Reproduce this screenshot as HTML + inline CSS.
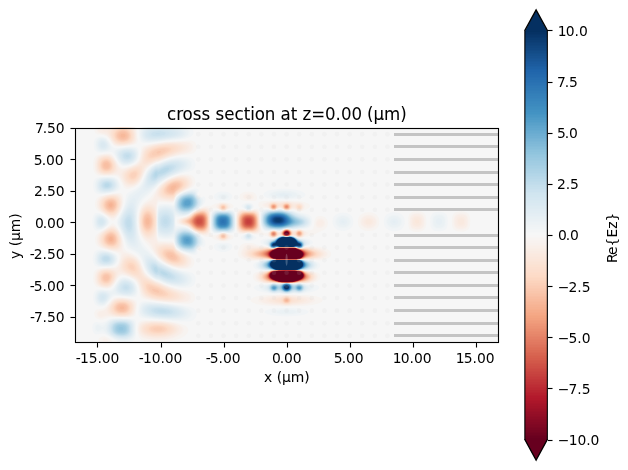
<!DOCTYPE html>
<html lang="en"><head><meta charset="utf-8"><title>cross section at z=0.00 (μm)</title>
<style>
html,body{margin:0;padding:0;background:#fff;overflow:hidden}
svg{display:block}
svg text{font-family:"DejaVu Sans", "Liberation Sans", sans-serif;fill:#000}
</style></head><body>
<svg width="628" height="470" viewBox="0 0 628 470">
<rect width="628" height="470" fill="#fff"/>
<g shape-rendering="crispEdges">
<rect x="525" y="31" width="22" height="1" fill="#053061"/>
<rect x="525" y="32" width="22" height="2" fill="#063264"/>
<rect x="525" y="34" width="22" height="1" fill="#073467"/>
<rect x="525" y="35" width="22" height="2" fill="#08366a"/>
<rect x="525" y="37" width="22" height="1" fill="#09386d"/>
<rect x="525" y="38" width="22" height="2" fill="#0a3b70"/>
<rect x="525" y="40" width="22" height="2" fill="#0c3d73"/>
<rect x="525" y="42" width="22" height="1" fill="#0d3f76"/>
<rect x="525" y="43" width="22" height="2" fill="#0e4179"/>
<rect x="525" y="45" width="22" height="1" fill="#0f437b"/>
<rect x="525" y="46" width="22" height="2" fill="#10457e"/>
<rect x="525" y="48" width="22" height="2" fill="#114781"/>
<rect x="525" y="50" width="22" height="1" fill="#124984"/>
<rect x="525" y="51" width="22" height="2" fill="#134c87"/>
<rect x="525" y="53" width="22" height="1" fill="#144e8a"/>
<rect x="525" y="54" width="22" height="2" fill="#15508d"/>
<rect x="525" y="56" width="22" height="2" fill="#175290"/>
<rect x="525" y="58" width="22" height="1" fill="#185493"/>
<rect x="525" y="59" width="22" height="2" fill="#195696"/>
<rect x="525" y="61" width="22" height="1" fill="#1a5899"/>
<rect x="525" y="62" width="22" height="2" fill="#1b5a9c"/>
<rect x="525" y="64" width="22" height="2" fill="#1c5c9f"/>
<rect x="525" y="66" width="22" height="1" fill="#1d5fa2"/>
<rect x="525" y="67" width="22" height="2" fill="#1e61a5"/>
<rect x="525" y="69" width="22" height="1" fill="#1f63a8"/>
<rect x="525" y="70" width="22" height="2" fill="#2065ab"/>
<rect x="525" y="72" width="22" height="2" fill="#2267ac"/>
<rect x="525" y="74" width="22" height="1" fill="#2369ad"/>
<rect x="525" y="75" width="22" height="2" fill="#246aae"/>
<rect x="525" y="77" width="22" height="1" fill="#266caf"/>
<rect x="525" y="78" width="22" height="2" fill="#276eb0"/>
<rect x="525" y="80" width="22" height="2" fill="#2870b1"/>
<rect x="525" y="82" width="22" height="1" fill="#2a71b2"/>
<rect x="525" y="83" width="22" height="2" fill="#2b73b3"/>
<rect x="525" y="85" width="22" height="1" fill="#2c75b4"/>
<rect x="525" y="86" width="22" height="2" fill="#2e77b5"/>
<rect x="525" y="88" width="22" height="2" fill="#2f79b5"/>
<rect x="525" y="90" width="22" height="1" fill="#307ab6"/>
<rect x="525" y="91" width="22" height="2" fill="#327cb7"/>
<rect x="525" y="93" width="22" height="1" fill="#337eb8"/>
<rect x="525" y="94" width="22" height="2" fill="#3480b9"/>
<rect x="525" y="96" width="22" height="2" fill="#3681ba"/>
<rect x="525" y="98" width="22" height="1" fill="#3783bb"/>
<rect x="525" y="99" width="22" height="2" fill="#3885bc"/>
<rect x="525" y="101" width="22" height="1" fill="#3a87bd"/>
<rect x="525" y="102" width="22" height="2" fill="#3b88be"/>
<rect x="525" y="104" width="22" height="2" fill="#3c8abe"/>
<rect x="525" y="106" width="22" height="1" fill="#3e8cbf"/>
<rect x="525" y="107" width="22" height="2" fill="#3f8ec0"/>
<rect x="525" y="109" width="22" height="1" fill="#408fc1"/>
<rect x="525" y="110" width="22" height="2" fill="#4291c2"/>
<rect x="525" y="112" width="22" height="2" fill="#4393c3"/>
<rect x="525" y="114" width="22" height="1" fill="#4695c4"/>
<rect x="525" y="115" width="22" height="2" fill="#4997c5"/>
<rect x="525" y="117" width="22" height="1" fill="#4c99c6"/>
<rect x="525" y="118" width="22" height="2" fill="#4f9bc7"/>
<rect x="525" y="120" width="22" height="2" fill="#529dc8"/>
<rect x="525" y="122" width="22" height="1" fill="#569fc9"/>
<rect x="525" y="123" width="22" height="2" fill="#59a1ca"/>
<rect x="525" y="125" width="22" height="1" fill="#5ca3cb"/>
<rect x="525" y="126" width="22" height="2" fill="#5fa5cd"/>
<rect x="525" y="128" width="22" height="2" fill="#62a7ce"/>
<rect x="525" y="130" width="22" height="1" fill="#65a9cf"/>
<rect x="525" y="131" width="22" height="2" fill="#68abd0"/>
<rect x="525" y="133" width="22" height="1" fill="#6bacd1"/>
<rect x="525" y="134" width="22" height="2" fill="#6eaed2"/>
<rect x="525" y="136" width="22" height="2" fill="#71b0d3"/>
<rect x="525" y="138" width="22" height="1" fill="#75b2d4"/>
<rect x="525" y="139" width="22" height="2" fill="#78b4d5"/>
<rect x="525" y="141" width="22" height="1" fill="#7bb6d6"/>
<rect x="525" y="142" width="22" height="2" fill="#7eb8d7"/>
<rect x="525" y="144" width="22" height="2" fill="#81bad8"/>
<rect x="525" y="146" width="22" height="1" fill="#84bcd9"/>
<rect x="525" y="147" width="22" height="2" fill="#87beda"/>
<rect x="525" y="149" width="22" height="1" fill="#8ac0db"/>
<rect x="525" y="150" width="22" height="2" fill="#8dc2dc"/>
<rect x="525" y="152" width="22" height="2" fill="#90c4dd"/>
<rect x="525" y="154" width="22" height="1" fill="#93c6de"/>
<rect x="525" y="155" width="22" height="2" fill="#96c7df"/>
<rect x="525" y="157" width="22" height="1" fill="#98c8e0"/>
<rect x="525" y="158" width="22" height="2" fill="#9bc9e0"/>
<rect x="525" y="160" width="22" height="1" fill="#9dcbe1"/>
<rect x="525" y="161" width="22" height="2" fill="#a0cce2"/>
<rect x="525" y="163" width="22" height="2" fill="#a2cde3"/>
<rect x="525" y="165" width="22" height="1" fill="#a5cee3"/>
<rect x="525" y="166" width="22" height="2" fill="#a7d0e4"/>
<rect x="525" y="168" width="22" height="1" fill="#a9d1e5"/>
<rect x="525" y="169" width="22" height="2" fill="#acd2e5"/>
<rect x="525" y="171" width="22" height="2" fill="#aed3e6"/>
<rect x="525" y="173" width="22" height="1" fill="#b1d5e7"/>
<rect x="525" y="174" width="22" height="2" fill="#b3d6e8"/>
<rect x="525" y="176" width="22" height="1" fill="#b6d7e8"/>
<rect x="525" y="177" width="22" height="2" fill="#b8d8e9"/>
<rect x="525" y="179" width="22" height="2" fill="#bbdaea"/>
<rect x="525" y="181" width="22" height="1" fill="#bddbea"/>
<rect x="525" y="182" width="22" height="2" fill="#c0dceb"/>
<rect x="525" y="184" width="22" height="1" fill="#c2ddec"/>
<rect x="525" y="185" width="22" height="2" fill="#c5dfec"/>
<rect x="525" y="187" width="22" height="2" fill="#c7e0ed"/>
<rect x="525" y="189" width="22" height="1" fill="#cae1ee"/>
<rect x="525" y="190" width="22" height="2" fill="#cce2ef"/>
<rect x="525" y="192" width="22" height="1" fill="#cfe4ef"/>
<rect x="525" y="193" width="22" height="2" fill="#d1e5f0"/>
<rect x="525" y="195" width="22" height="2" fill="#d2e6f0"/>
<rect x="525" y="197" width="22" height="1" fill="#d4e6f1"/>
<rect x="525" y="198" width="22" height="2" fill="#d5e7f1"/>
<rect x="525" y="200" width="22" height="1" fill="#d7e8f1"/>
<rect x="525" y="201" width="22" height="2" fill="#d8e9f1"/>
<rect x="525" y="203" width="22" height="2" fill="#dae9f2"/>
<rect x="525" y="205" width="22" height="1" fill="#dbeaf2"/>
<rect x="525" y="206" width="22" height="2" fill="#ddebf2"/>
<rect x="525" y="208" width="22" height="1" fill="#deebf2"/>
<rect x="525" y="209" width="22" height="2" fill="#e0ecf3"/>
<rect x="525" y="211" width="22" height="2" fill="#e1edf3"/>
<rect x="525" y="213" width="22" height="1" fill="#e3edf3"/>
<rect x="525" y="214" width="22" height="2" fill="#e4eef4"/>
<rect x="525" y="216" width="22" height="1" fill="#e6eff4"/>
<rect x="525" y="217" width="22" height="2" fill="#e7f0f4"/>
<rect x="525" y="219" width="22" height="2" fill="#e9f0f4"/>
<rect x="525" y="221" width="22" height="1" fill="#eaf1f5"/>
<rect x="525" y="222" width="22" height="2" fill="#ecf2f5"/>
<rect x="525" y="224" width="22" height="1" fill="#edf2f5"/>
<rect x="525" y="225" width="22" height="2" fill="#eff3f5"/>
<rect x="525" y="227" width="22" height="2" fill="#f0f4f6"/>
<rect x="525" y="229" width="22" height="1" fill="#f2f5f6"/>
<rect x="525" y="230" width="22" height="2" fill="#f3f5f6"/>
<rect x="525" y="232" width="22" height="1" fill="#f5f6f7"/>
<rect x="525" y="233" width="22" height="2" fill="#f6f7f7"/>
<rect x="525" y="235" width="22" height="2" fill="#f7f6f6"/>
<rect x="525" y="237" width="22" height="1" fill="#f7f5f4"/>
<rect x="525" y="238" width="22" height="2" fill="#f8f4f2"/>
<rect x="525" y="240" width="22" height="1" fill="#f8f3f0"/>
<rect x="525" y="241" width="22" height="2" fill="#f8f2ef"/>
<rect x="525" y="243" width="22" height="2" fill="#f8f1ed"/>
<rect x="525" y="245" width="22" height="1" fill="#f9f0eb"/>
<rect x="525" y="246" width="22" height="2" fill="#f9efe9"/>
<rect x="525" y="248" width="22" height="1" fill="#f9eee7"/>
<rect x="525" y="249" width="22" height="2" fill="#f9ede5"/>
<rect x="525" y="251" width="22" height="2" fill="#f9ebe3"/>
<rect x="525" y="253" width="22" height="1" fill="#faeae1"/>
<rect x="525" y="254" width="22" height="2" fill="#fae9df"/>
<rect x="525" y="256" width="22" height="1" fill="#fae8de"/>
<rect x="525" y="257" width="22" height="2" fill="#fae7dc"/>
<rect x="525" y="259" width="22" height="2" fill="#fbe6da"/>
<rect x="525" y="261" width="22" height="1" fill="#fbe5d8"/>
<rect x="525" y="262" width="22" height="2" fill="#fbe4d6"/>
<rect x="525" y="264" width="22" height="1" fill="#fbe3d4"/>
<rect x="525" y="265" width="22" height="2" fill="#fce2d2"/>
<rect x="525" y="267" width="22" height="2" fill="#fce0d0"/>
<rect x="525" y="269" width="22" height="1" fill="#fcdfcf"/>
<rect x="525" y="270" width="22" height="2" fill="#fcdecd"/>
<rect x="525" y="272" width="22" height="1" fill="#fdddcb"/>
<rect x="525" y="273" width="22" height="2" fill="#fddcc9"/>
<rect x="525" y="275" width="22" height="2" fill="#fddbc7"/>
<rect x="525" y="277" width="22" height="1" fill="#fdd9c4"/>
<rect x="525" y="278" width="22" height="2" fill="#fcd7c2"/>
<rect x="525" y="280" width="22" height="1" fill="#fcd5bf"/>
<rect x="525" y="281" width="22" height="2" fill="#fcd3bc"/>
<rect x="525" y="283" width="22" height="2" fill="#fbd0b9"/>
<rect x="525" y="285" width="22" height="1" fill="#fbceb7"/>
<rect x="525" y="286" width="22" height="2" fill="#fbccb4"/>
<rect x="525" y="288" width="22" height="1" fill="#facab1"/>
<rect x="525" y="289" width="22" height="2" fill="#fac8af"/>
<rect x="525" y="291" width="22" height="2" fill="#f9c6ac"/>
<rect x="525" y="293" width="22" height="1" fill="#f9c4a9"/>
<rect x="525" y="294" width="22" height="2" fill="#f9c2a7"/>
<rect x="525" y="296" width="22" height="1" fill="#f8bfa4"/>
<rect x="525" y="297" width="22" height="2" fill="#f8bda1"/>
<rect x="525" y="299" width="22" height="2" fill="#f8bb9e"/>
<rect x="525" y="301" width="22" height="1" fill="#f7b99c"/>
<rect x="525" y="302" width="22" height="2" fill="#f7b799"/>
<rect x="525" y="304" width="22" height="1" fill="#f7b596"/>
<rect x="525" y="305" width="22" height="2" fill="#f6b394"/>
<rect x="525" y="307" width="22" height="2" fill="#f6b191"/>
<rect x="525" y="309" width="22" height="1" fill="#f6af8e"/>
<rect x="525" y="310" width="22" height="2" fill="#f5ac8b"/>
<rect x="525" y="312" width="22" height="1" fill="#f5aa89"/>
<rect x="525" y="313" width="22" height="2" fill="#f5a886"/>
<rect x="525" y="315" width="22" height="1" fill="#f4a683"/>
<rect x="525" y="316" width="22" height="2" fill="#f3a481"/>
<rect x="525" y="318" width="22" height="2" fill="#f2a17f"/>
<rect x="525" y="320" width="22" height="1" fill="#f19e7d"/>
<rect x="525" y="321" width="22" height="2" fill="#f09c7b"/>
<rect x="525" y="323" width="22" height="1" fill="#ef9979"/>
<rect x="525" y="324" width="22" height="2" fill="#ee9677"/>
<rect x="525" y="326" width="22" height="2" fill="#ec9374"/>
<rect x="525" y="328" width="22" height="1" fill="#eb9172"/>
<rect x="525" y="329" width="22" height="2" fill="#ea8e70"/>
<rect x="525" y="331" width="22" height="1" fill="#e98b6e"/>
<rect x="525" y="332" width="22" height="2" fill="#e8896c"/>
<rect x="525" y="334" width="22" height="2" fill="#e6866a"/>
<rect x="525" y="336" width="22" height="1" fill="#e58368"/>
<rect x="525" y="337" width="22" height="2" fill="#e48066"/>
<rect x="525" y="339" width="22" height="1" fill="#e37e64"/>
<rect x="525" y="340" width="22" height="2" fill="#e27b62"/>
<rect x="525" y="342" width="22" height="2" fill="#e17860"/>
<rect x="525" y="344" width="22" height="1" fill="#df765e"/>
<rect x="525" y="345" width="22" height="2" fill="#de735c"/>
<rect x="525" y="347" width="22" height="1" fill="#dd7059"/>
<rect x="525" y="348" width="22" height="2" fill="#dc6e57"/>
<rect x="525" y="350" width="22" height="2" fill="#db6b55"/>
<rect x="525" y="352" width="22" height="1" fill="#da6853"/>
<rect x="525" y="353" width="22" height="2" fill="#d86551"/>
<rect x="525" y="355" width="22" height="1" fill="#d7634f"/>
<rect x="525" y="356" width="22" height="2" fill="#d6604d"/>
<rect x="525" y="358" width="22" height="2" fill="#d55d4c"/>
<rect x="525" y="360" width="22" height="1" fill="#d35a4a"/>
<rect x="525" y="361" width="22" height="2" fill="#d25849"/>
<rect x="525" y="363" width="22" height="1" fill="#d05548"/>
<rect x="525" y="364" width="22" height="2" fill="#cf5246"/>
<rect x="525" y="366" width="22" height="2" fill="#ce4f45"/>
<rect x="525" y="368" width="22" height="1" fill="#cc4c44"/>
<rect x="525" y="369" width="22" height="2" fill="#cb4942"/>
<rect x="525" y="371" width="22" height="1" fill="#c94741"/>
<rect x="525" y="372" width="22" height="2" fill="#c84440"/>
<rect x="525" y="374" width="22" height="2" fill="#c6413e"/>
<rect x="525" y="376" width="22" height="1" fill="#c53e3d"/>
<rect x="525" y="377" width="22" height="2" fill="#c43b3c"/>
<rect x="525" y="379" width="22" height="1" fill="#c2383a"/>
<rect x="525" y="380" width="22" height="2" fill="#c13639"/>
<rect x="525" y="382" width="22" height="2" fill="#bf3338"/>
<rect x="525" y="384" width="22" height="1" fill="#be3036"/>
<rect x="525" y="385" width="22" height="2" fill="#bd2d35"/>
<rect x="525" y="387" width="22" height="1" fill="#bb2a34"/>
<rect x="525" y="388" width="22" height="2" fill="#ba2832"/>
<rect x="525" y="390" width="22" height="2" fill="#b82531"/>
<rect x="525" y="392" width="22" height="1" fill="#b72230"/>
<rect x="525" y="393" width="22" height="2" fill="#b61f2e"/>
<rect x="525" y="395" width="22" height="1" fill="#b41c2d"/>
<rect x="525" y="396" width="22" height="2" fill="#b3192c"/>
<rect x="525" y="398" width="22" height="2" fill="#b1182b"/>
<rect x="525" y="400" width="22" height="1" fill="#ae172a"/>
<rect x="525" y="401" width="22" height="2" fill="#ab162a"/>
<rect x="525" y="403" width="22" height="1" fill="#a81529"/>
<rect x="525" y="404" width="22" height="2" fill="#a51429"/>
<rect x="525" y="406" width="22" height="2" fill="#a21328"/>
<rect x="525" y="408" width="22" height="1" fill="#9f1228"/>
<rect x="525" y="409" width="22" height="2" fill="#9c1127"/>
<rect x="525" y="411" width="22" height="1" fill="#991027"/>
<rect x="525" y="412" width="22" height="2" fill="#960f27"/>
<rect x="525" y="414" width="22" height="2" fill="#930e26"/>
<rect x="525" y="416" width="22" height="1" fill="#900d26"/>
<rect x="525" y="417" width="22" height="2" fill="#8d0c25"/>
<rect x="525" y="419" width="22" height="1" fill="#8a0b25"/>
<rect x="525" y="420" width="22" height="2" fill="#870a24"/>
<rect x="525" y="422" width="22" height="2" fill="#840924"/>
<rect x="525" y="424" width="22" height="1" fill="#810823"/>
<rect x="525" y="425" width="22" height="2" fill="#7f0823"/>
<rect x="525" y="427" width="22" height="1" fill="#7c0722"/>
<rect x="525" y="428" width="22" height="2" fill="#790622"/>
<rect x="525" y="430" width="22" height="2" fill="#760521"/>
<rect x="525" y="432" width="22" height="1" fill="#730421"/>
<rect x="525" y="433" width="22" height="2" fill="#700320"/>
<rect x="525" y="435" width="22" height="1" fill="#6d0220"/>
<rect x="525" y="436" width="22" height="2" fill="#6a011f"/>
<rect x="525" y="438" width="22" height="2" fill="#67001f"/>
</g>
<path d="M524.845 31.2L536.095 10.000L547.345 31.2Z" fill="#053061"/>
<path d="M524.845 439.8L536.095 460.000L547.345 439.8Z" fill="#67001f"/>
<path d="M524.845 31V30.455L536.095 10.000L547.345 30.455V31M524.845 440V439.545L536.095 460.000L547.345 439.545V440" fill="none" stroke="#000" stroke-width="1.36" stroke-linejoin="miter"/>
<g shape-rendering="crispEdges" fill="#000"><rect x="524" y="31" width="1" height="409" fill-opacity="0.714"/><rect x="525" y="31" width="1" height="409" fill-opacity="0.405"/><rect x="546" y="31" width="1" height="409" fill-opacity="0.21"/><rect x="547" y="31" width="1" height="409" fill-opacity="0.902"/></g>
<defs><clipPath id="axclip"><rect x="74.78" y="127.84" width="423.59" height="214.32"/></clipPath></defs>
<g id="field">
<g clip-path="url(#axclip)" fill-rule="evenodd"><rect x="74.78" y="127.84" width="423.59" height="214.32" fill="#f6f6f6"/>
<path fill="#f1f4f6" d="M139.8 127L190.9 127L192 128.2L192.9 129.5L193.4 131L193.6 132.5L193.4 133.5L193 134.5L192.2 135.5L190.9 136.5L187.7 138L184 139L179 139.7L166 140.8L150 142.9L146.5 143.1L144 143.1L142.5 142.8L141.1 142L140.4 141L139.6 139L139.1 136L138.9 132.5L139.2 129.5ZM99.9 136.5L102 136.5L103.5 136.7L105 137.2L106.5 138.2L108.5 140.5L112.5 146.8L113.5 147.7L114.5 148.1L117 148.2L125.5 147.1L131.5 146.6L135 146.7L136 146.9L137 147.4L138 148.5L138.4 149.5L138.8 151L138.9 153L138.9 155L138.6 157L138.1 158.5L137.4 160L136.2 161.5L135.1 162.5L133.5 163.6L131.5 164.5L129 165.4L126.5 165.9L124.5 166.1L123 165.9L121 165.1L119.5 163.6L117.7 161L114 154.5L113 153.1L112 152.3L111 151.9L109.5 151.9L103.5 152.6L100.5 152.7L98.3 152.5L96.5 151.8L95.1 150.5L94.5 149.5L94 148L93.7 145L94 141.5L94.7 139.5L95.8 138L97.6 137ZM180.7 157L185 156.9L188.5 157.3L191.2 158L193 159L194 160L194.6 161L195.3 163.5L195.3 166L194.8 167.5L194.3 168.5L192.9 170L191 171L178.5 174.1L174.5 175.4L171 176.8L167.5 178.6L164.2 180.5L161.2 182.5L158.5 184.7L150 193.8L143 200.1L141.5 201.9L140.5 203.5L138.9 207L138 211L137.4 216.5L137.4 222.5L137.9 228L138.7 233L140 237.5L141.5 241L144 244.8L147.5 249L151.2 253L158.3 260L160.3 261.5L164.4 264L171 267.2L175 268.7L178.5 269.7L190.5 272.2L192.5 273.1L194 274.5L195.1 276.5L195.6 279L195.3 282L194.5 284.1L193.4 285.5L191.5 286.8L189 287.5L186 287.8L182 287.7L177.5 287.2L173 286.3L168 284.8L164 283.2L158.5 280.7L155.5 279.7L151.9 277.5L148.8 275L147 273L145.4 270.5L144.1 267.5L141.5 260L140.5 258L139.1 256L137.6 254.5L136 253.3L128.5 249.1L127.3 248L126.5 246.9L125.5 244.6L123.8 239L122.6 235.5L120.8 231.5L117.4 225L116.7 222.5L116.8 221L117.3 219.5L121.7 211.5L123.6 207L124.8 203L126 196L126.8 194L127.6 193L129 192L134.5 189.3L136.5 188.1L138 187L139.5 185.5L141 183.6L142.2 181.5L146.2 172L147.5 170L148.7 168.5L151.8 166L156 163.6L158.5 163.1L164.5 160.6L170 158.8L175.5 157.6ZM100.6 177L106.5 176.7L111.5 176.7L114 177.1L116.2 178L117.4 179L118.2 180L119.7 183L120.3 185L120.5 186.5L120.4 188L120 189.1L119 190.2L117 191.3L114 192.2L110 193.1L104.5 194L100.5 194.3L98 194.1L96.3 193.5L94.7 192L94 190.5L93.5 189L93.1 185.5L93.5 182L94.6 179.5L96 178.1L98 177.4ZM192.6 189L194.5 188.6L196 188.6L197.5 188.9L198.5 189.5L198.9 190L198.9 190.5L197.9 193L197.8 194L198 195.1L199 196.4L200 196.9L201.5 197L203.5 196.5L204 196.6L204.6 197L205.2 198L205.5 199.5L205.3 201.5L204.7 203L203.2 205L200.9 207L188 215L186 215.8L184 216.3L180.5 216.7L176.5 216.9L176 217.3L175.5 219L175.4 222.5L175.8 225L176 225.6L176.5 226.1L180.5 226.2L183.5 226.5L185.5 226.9L187.5 227.7L193.5 231.4L200.6 235.5L203 237.5L204.3 239L205.2 241L205.5 242.5L205.4 244.5L204.9 246L204 246.9L203.5 247L200.5 246.8L199.5 247L198.5 247.6L197.8 248.5L197.3 249.5L197.2 251L197.5 253L197.3 254L196.5 254.6L195 254.9L191.5 254.6L185.5 252.8L181.5 251.2L178.5 249.5L176.8 248L175.7 246.5L174.9 244.5L174 240.7L173.5 239.6L173 239.2L172 239.1L168 239.3L164.5 239.2L161 238.7L159 238L158.5 237.5L157.9 236L157.5 233.5L157.3 230.5L157.4 211.5L157.7 207.5L158 206.3L158.5 205.2L159 204.7L160 204.3L163.5 204L167.5 204.1L173 204.7L173.5 204.5L174 203.7L175.2 199.5L176 197.6L177 196.3L178.4 195L181 193.3L183.5 192.1L188.5 190.2ZM277.7 189L282.5 188.7L287.5 188.8L292.5 189.2L296.5 189.9L300 190.8L303 192.1L304.9 193.5L305.2 194L305.4 195L305 196L304 196.9L302.8 197.5L301 198.1L295.6 199L288.5 199.4L279 199.3L269.9 198.5L266 197.5L264.4 196.5L263.6 195.5L263.5 194.5L263.7 193.5L264.6 192.5L266.2 191.5L268.5 190.6L271.5 189.9ZM221.6 191.5L224 191.4L226.5 191.7L228.5 192.3L230.5 193.4L231.6 194.5L232.3 196L232.2 197.5L231.8 198.5L230.7 199.5L229.5 200L227.6 200.5L225.5 200.7L221 200.7L218.7 200.5L216.7 200L214.9 199L214.1 198L213.7 197L213.8 196L214.6 194.5L215.7 193.5L217.5 192.5L219.5 191.8ZM245.9 203L247.5 202.8L249 202.8L250.5 203.1L252 203.7L253.1 204.5L253.8 205.5L254 206.5L253.6 207.5L251.9 209L249.5 210L247.3 210L244.7 209L241.9 207L241.4 206L241.4 205.5L242.2 204.5L243.1 204ZM266.4 209L268 209.1L271.5 210.2L273.5 210.4L275.5 210.1L279 208.9L280.5 208.9L286 210.7L288 210.9L291.5 210.4L293 210.6L298.5 212.3L304 213.3L307 214L308.5 214.6L310 215.6L311 216.5L311.6 217.5L312.1 219L312.3 220.5L312.2 222.5L311.7 224.5L310.7 226.5L309.6 227.5L308 228.3L305.5 228.8L304 228.9L299.5 228.7L293.5 229.6L292 229.5L288.5 228.7L287 228.6L284.5 229L280.5 230.8L279.5 231L278 231L275 230.2L273.5 230.1L271.5 230.3L268 231.3L266.5 231.3L265 231L263.5 230.2L262.7 229.5L262 228.4L261.3 226.5L260.8 224L260.5 221.5L260.5 214L260.8 212L261.6 210.5L262.5 209.9L263.5 209.5ZM214.1 210L215.5 209.7L217 209.7L221.5 210.9L223.5 211L225 210.8L229 209.9L231 209.8L233 210.2L234.3 211L235 212.2L235.4 214.5L235.6 224.5L235.3 230L234.8 231.5L234 232.5L232.5 233.2L231 233.4L229 233.4L225 232.6L223 232.4L221.5 232.6L218 233.4L216 233.5L214.5 233.4L213.5 233.1L212.1 232L211.2 230L210.9 227.5L210.8 220.5L211 215.5L211.4 213L212 211.7L213 210.5ZM435.7 212L437.5 211.7L440 211.7L443 212.2L444.5 212.9L445.5 213.6L446.3 214.5L447 215.8L447.5 217.5L447.8 220L447.7 223.5L447.4 226L446.9 227.5L446 228.9L445 229.8L443.5 230.6L442 231.1L440 231.3L437.5 231.3L435.5 231L434 230.4L432.6 229.5L431.7 228.5L431 227.2L430.4 225L430.2 222.5L430.3 219L430.8 216.5L431.4 215L432.5 213.6L434 212.6ZM391.1 212.5L393 212.2L395 212.2L398.5 212.9L400 213.5L401.6 214.5L402.7 215.5L403.7 217L404.5 219L404.8 221L404.7 223L404.3 225L403.7 226.5L402.6 228L401.5 229L400 229.9L398 230.7L395.5 231.2L393 231.2L391 230.9L389 230.2L387 229.1L385.8 228L384.8 226.5L384.1 224.5L383.8 222L384 219.5L384.5 217.5L385.5 215.8L387 214.3L389 213.2ZM96.6 213L98.5 213.1L100.5 213.6L102.5 214.5L104.9 216L106.8 217.5L108.2 219L109.2 220.5L109.5 222L109.3 223L108.5 224.5L107.2 226L105.3 227.5L103 229L101 229.9L99 230.6L97.5 230.8L96.5 230.7L95.5 230.4L94.5 229.6L93.7 228.5L92.7 226L92.2 222.5L92.4 219L93.2 216L94.5 214L95.5 213.3ZM339.4 213L341 212.7L343 212.5L345 212.7L347 213.1L348.5 213.7L350 214.6L351.1 215.5L352 216.6L352.7 218L353.2 220L353.4 222L353.1 224L352.7 225.5L351.9 227L351 228L349.5 229.2L347.5 230.1L345.5 230.7L343.5 230.9L341 230.7L339 230.3L337 229.5L335.5 228.5L334 226.8L333.1 225L332.6 222.5L332.6 220L333 218L333.8 216.5L335.3 215L337 213.9ZM246.9 233.5L248 233.4L249.5 233.4L252.4 234.5L254.8 236L256 237L256.4 238L256.3 238.5L255.9 239L255.1 239.5L253 240.3L250.5 241L248.5 241.2L246 240.9L244 240.3L242.3 239.5L241.1 238.5L240.7 237.5L240.8 237L241.7 236L244.3 234.5ZM279.7 236L281.5 235.9L286.5 236.4L291.5 235.9L293 236L294.5 236.3L298 237.9L299.5 238.3L304.5 238.3L307.5 238.7L310 239.5L311.8 240.5L312.7 241.5L313 242.5L312.9 243L312.1 244L311.3 244.5L306 246.1L302.5 248L301 248.4L299 248.3L296 247.4L295 247.3L286.5 247.8L278 247.3L277 247.4L274 248.3L272.5 248.4L270.6 248L267 246L262.5 244.5L261.1 243.5L260.5 242.5L260.4 241.5L260.8 240.5L261.5 240L263 239.3L265 238.8L267.5 238.4L272 238.6L274 238.4L275.5 237.9L278.5 236.4ZM218.3 243L220.5 242.8L226 242.8L228 243L229.5 243.4L230.8 244L231.9 245L232.3 246L232.2 247.5L231.7 248.5L230.5 249.8L229 250.7L227 251.5L225 251.9L222.5 252L220.5 251.8L218.5 251.3L216.7 250.5L215.2 249.5L214.3 248.5L213.7 247L214 245.5L214.8 244.5L216.5 243.5ZM96.8 250L98 249.7L100 249.6L106 250.5L112 252.1L114.2 253L115.8 254L117.1 255.5L117.6 256.5L117.8 258L117.8 259.5L117.5 261L116.9 262.5L116 264L115 265.1L113.5 266L111.8 266.5L109.5 266.8L104.5 267L99.5 266.9L97 266.5L95.5 265.9L94.1 264.5L93.3 262.5L92.8 260L92.8 257.5L93.2 255L94.1 252.5L95.2 251ZM271.5 259.5L290.5 259.3L303 259.5L310 260.1L314.7 261L316.3 261.5L318.4 262.5L319.9 264L320.2 265L320.2 266L319.8 267L319 268L317.7 269L316.5 269.5L313 270.2L307.5 270.5L301 270.1L294.5 270.4L278.5 270.4L272.5 270.1L267 270.5L262 270.4L258.5 270L256 269.2L254.2 268L253.2 266.5L253.1 265L253.6 264L254.6 263L256.5 262L259.6 261L262.5 260.4L267 259.8ZM121.4 277.5L123 277.1L124.5 277.1L126.5 277.5L128.5 278.1L130.5 278.9L132.4 280L133.7 281L135 282.4L136 284L136.7 285.5L137.3 287.5L137.6 289.5L137.7 291.5L137.6 293.5L137.2 295L136.5 296L135 296.9L132.5 297.2L128.5 297L118 295.9L115 296L113.5 296.5L112 297.7L107 303.6L105.5 305L104 305.9L102 306.6L99.5 306.6L97.3 306L95.5 304.8L94.5 303.5L93.8 302L93.3 300L93.1 298L93.2 295.5L93.6 293.5L94.2 292L95 290.9L96.5 289.8L99 289.3L102 289.4L108.5 290.1L110 289.9L111 289.6L112.5 288.6L113.5 287.5L117.5 281.2L118.8 279.5L120 278.3ZM285.7 283L288 283L294 283.6L300 283.2L306 284.3L314.5 284.8L316.5 285.1L318 285.7L319 286.5L319.4 287.5L319.3 288L318.6 289L317.2 290L314.8 291L311.5 291.9L300.5 293.9L294 293.6L286.5 294.2L279.5 293.6L274.5 293.9L272.5 293.8L262 292L258.5 291L256 290L254.6 289L254.2 288.5L253.8 287.5L254.2 286.5L255 285.8L256.5 285.2L258.5 284.8L267 284.3L273 283.3L279.5 283.6ZM142.2 301.5L144.5 301.3L147.5 301.4L171.5 303.9L181.5 305.2L189 306.7L193 308.1L194.6 309L195.5 309.9L196.2 311L196.6 312.5L196.7 314L196.4 315.5L195.9 317L195.3 318L194.4 319L193.1 320L191.5 320.8L190 321.2L186.5 321.6L180.5 321.4L163.5 319.9L148 318.8L141.9 318L140 317.3L139.5 317L138.8 316L138.3 314L138.2 311.5L138.6 307.5L139.5 304L140.5 302.4L141.5 301.7ZM274.4 308.5L284 308.1L292 308.1L298.8 308.5L303 309.1L306.5 310L308.2 311L308.6 311.5L308.6 312L307.9 313L306.5 313.8L304.5 314.5L301.5 315.2L294.5 316.1L286.5 316.5L278.5 316.1L271.5 315.2L268.7 314.5L266.5 313.7L265.3 313L264.6 312L264.6 311.5L265 311L266.7 310L270 309.1ZM111.7 318.5L116.5 318.2L129 318.4L133.1 319L134.4 319.5L135.1 320L135.7 321L136.1 323L136 334.5L135.5 337.5L134.8 339L134 340.1L133 340.9L131.5 341.8L128.5 342.8L125 343.2L121.5 342.8L119 342.2L116 340.8L106.5 334.9L104 333.7L102 333.4L98 334.3L96.5 334.5L95 334L93.9 333L93.2 332L92.7 330.5L92.3 327.5L92.7 325L93.1 324L94 322.9L95 322.3L96.5 322L101.5 322.7L103 322.6L104.5 322L108.5 319.5L110 318.9Z"/>
<path fill="#eef3f5" d="M141.8 127L185.6 127L187.7 128.5L189 130L189.7 131.5L189.8 133L189.6 134L189 135L187.2 136.5L185 137.6L181.7 138.5L178 139.1L167 140.2L153 141.9L148.5 142.2L145.5 142.1L143.5 141.6L142 140.7L141 139.3L140.4 137.5L139.9 135L140 132L140.5 129.5ZM100.3 137.5L102.5 137.4L104.5 138L106 138.9L107.5 140.4L109.5 143.5L111.1 147L111.4 149L111.2 149.5L110.7 150L109 150.7L106.5 151.4L102 151.9L100.5 151.8L99 151.4L98 150.9L96.9 150L96.1 148.5L95.5 146.5L95.4 144L95.7 142L96.2 140.5L97.2 139L98.5 138.1ZM126.5 147.5L130 147.3L132.5 147.4L134.5 147.7L136 148.4L137 149.5L137.9 151.5L138.1 153.5L138 156L137.5 158L136.6 160L135.5 161.3L134 162.5L131.5 163.9L129 164.7L126.5 165.2L124 165.2L122.5 164.9L121 164L120 163L118.8 161.5L117 158.5L115.3 155L114.4 152.5L114.2 151L114.5 150.5L115.1 150L117.8 149L122 148.1ZM178.3 158L182 157.9L185.5 158.2L188 158.8L190 159.9L191.5 161.5L192.2 163.5L192.2 165.5L191.5 167.5L190.1 169L188 170.3L173.5 175.2L168.5 177.5L163.5 180.3L158.5 183.9L156 186.5L152 190.2L143 197.9L141.1 200L139.8 202L138.7 204.5L137.9 207L137.4 210L137 213.5L136.9 222L137.2 227L137.8 232L138.6 236L139.5 239.3L140.8 242.5L142.1 245L143.8 247.5L146.1 250L156 258.4L158.5 260.9L163 263.8L168 266.4L173 268.5L177 269.9L187.5 273L190 274.4L191.5 276L192.3 278L192.5 280L192.1 282L191.3 283.5L190 284.8L188 285.8L185.5 286.4L183 286.6L179.5 286.6L175.5 286.1L171.5 285.2L167 283.8L163.5 282.4L158.5 280.1L156.5 279.6L155.5 279.2L152.1 277L149.1 274.5L147.1 272L145.6 269.5L144.5 266.5L142 258.6L141 256.5L140 254.9L138.7 253.5L137 252.2L131 249L129.5 248L128.4 247L127.2 245.5L126 242.9L122.8 234.5L118.5 225.5L118 224L117.8 222.5L117.9 221L118.5 219L122.9 210.5L124.6 206.5L127.1 198L128 196L129 194.6L130.2 193.5L137 189.3L139 187.6L140.5 185.9L141.8 184L142.8 182L146.7 172.5L147.9 170.5L149.1 169L152 166.5L156 164.2L158.5 163.7L164 161.3L169 159.7L173.5 158.6ZM102.2 177.5L107 177.2L111.5 177.3L114 177.9L116 178.9L117 179.9L117.8 181L118.6 182.5L119 184L119.3 185.5L119.2 187L118.9 188L118.4 189L117 190.2L114.5 191.4L111.5 192.3L107.5 193L104 193.4L101 193.4L99 193.1L97.5 192.3L96.6 191.5L96 190.5L95.1 188L94.8 185L95.3 182L96.4 180L97.5 178.9L99.5 178ZM191.5 190L193.5 189.7L195 189.8L196 190.2L196.9 191L197.2 192L197.3 194.5L198 196L199.5 197.3L202.5 198.4L203.3 199.5L203.5 201.5L203.1 203L202.7 204L201.2 206L199.4 207.5L187.5 214.8L185 215.6L182 215.9L179.5 215.9L176 215.2L175.5 215.8L175.2 217L175 222.7L175.3 226.5L175.5 227.3L176 227.8L179 227.2L181.5 227L184.5 227.2L187 227.9L189 228.9L199.1 235L201 236.5L202.6 238.5L203.3 240L203.6 242L203.5 243.5L203 244.8L202.3 245.5L199.5 246.5L198 247.5L197 249L196.3 252L196 252.7L195 253.5L193 253.8L189 253.3L184 251.8L180.5 250.3L178 248.6L176.5 247.1L175.6 245.5L174.9 243.5L174 238.9L173.5 237.8L173 237.5L169 238.1L166 238.2L162 237.7L159.5 236.9L158.5 235.8L158 234.2L157.6 231L157.5 227L157.4 217.5L157.6 211.5L158 208.5L158.5 206.9L159 206.2L160 205.7L161 205.4L165 205L169 205.3L173 206.1L173.5 206L174 205.2L175.2 200.5L175.9 198.5L176.8 197L178 195.8L180.5 194L183 192.7L188 190.9ZM281.3 190.5L288 190.6L294 191.5L296 192.1L298.1 193L299.2 194L299.6 195L299 196L298.4 196.5L295.9 197.5L291.5 198.3L285.5 198.6L279.5 198.5L274 197.8L270.9 197L269.8 196.5L268.7 195.5L268.5 195L268.8 194L270 193L271.5 192.3L276 191.1ZM221.9 193.5L225 193.6L227.5 194.5L228.2 195L228.9 196L229 197L228.9 197.5L228 198.5L227 199L224.5 199.5L221 199.4L219.5 199.1L218.4 198.5L217.8 198L217.3 197L217.4 196L217.7 195.5L218.5 194.7L219.5 194.2ZM248.5 203.4L250 203.7L251 204.1L252.2 205L252.8 206L252.8 207L252.4 208L251.9 208.5L250 209.6L248 209.9L246 209.3L244.2 208L243.6 207L243.5 206.5L243.7 205.5L245 204.3L246 203.8ZM266.3 209.5L268.5 209.5L271.5 210.3L273.5 210.5L275.5 210.2L278.5 209.3L280 209.1L281.5 209.3L286 210.9L288 211L291.5 210.8L293.5 211.2L298.5 213L305 214.8L307 215.6L308.6 216.5L310 217.7L311 219.5L311.3 221.5L311 223.5L310.3 225L309 226.6L307 227.7L304.5 228.3L299 228.5L293.5 229.3L292 229.2L288.5 228.6L286.5 228.5L284.5 228.9L280.5 230.6L279 230.8L273.5 229.9L272 230L268 230.9L265.5 230.5L264 229.8L263.1 229L262.4 228L261.7 226.5L260.9 222.5L260.7 216.5L261 213.5L261.8 211.5L262.5 210.8L263.5 210.3ZM214.6 210.5L216 210.2L217.5 210.2L221.5 211L223.5 211.2L228.5 210.3L230 210.3L232.5 210.8L234 212L234.8 213.5L235.1 215.5L235.3 219L235.3 224.5L235.2 227.5L234.8 229.5L234.2 231L233.5 231.8L232 232.6L230 233L228 232.9L225 232.4L223 232.2L217 233.1L214.5 232.7L213.5 232.3L212.6 231.5L212 230.6L211.6 229.5L211.2 227L211 221L211.2 216.5L211.6 214L212.2 212.5L213 211.4ZM96.8 214.5L98 214.2L99.5 214.2L101 214.6L103 215.5L104.6 216.5L106.4 218L107.7 219.5L108.4 221L108.5 222L108.3 223L107.9 224L106.7 225.5L105 227L103.5 228L101.5 229L100 229.4L98 229.5L96.5 229L95.1 227.5L94.1 225L93.8 221.5L94.1 218.5L95.2 216L96 215ZM436 214.5L437.5 214.2L439 214.1L442 214.5L443.8 215.5L445 217L445.5 218.5L445.7 220L445.6 224L445.2 225.5L444.7 226.5L444 227.3L443 228.1L442 228.5L440.5 228.8L438 228.8L436.5 228.6L434.5 227.8L433.7 227L433 226L432.5 224.5L432.3 223L432.3 220.5L432.5 218.5L433 217.1L433.7 216L434.9 215ZM392.5 215L395.5 215L398 215.7L399.4 216.5L400.5 217.4L401.3 218.5L401.8 219.5L402.1 220.5L402.2 222L402 223.5L401.6 224.5L400.9 225.5L399.9 226.5L397.5 227.9L396 228.4L394 228.5L392.5 228.4L391 228L389.5 227.3L388.4 226.5L387.4 225.5L386.6 224L386.2 222.5L386.2 221L386.6 219.5L387.4 218L388.2 217L389.5 216.1L391 215.4ZM340.3 215.5L343 215.1L345.5 215.4L348 216.5L349.6 218L350.7 220L350.9 221L350.9 222.5L350.5 223.9L350 224.9L348.5 226.5L347 227.4L345.5 228L344 228.2L342 228.2L340.5 228L339 227.4L337.5 226.5L336.4 225.5L335.5 224L335.1 222.5L335.1 221L335.4 219.5L336.3 218L337.3 217L338.5 216.2ZM247.5 233.6L249 233.6L250.5 234L251.6 234.5L252.9 235.5L253.6 236.5L253.8 237.5L253.6 238L252.8 239L252.1 239.5L250 240.3L247.5 240.4L246.5 240.2L245 239.6L243.6 238.5L243.3 238L243 237L243.2 236.5L243.8 235.5L245.2 234.5ZM280.9 236L286.5 236.4L291.5 236L293.5 236.2L299 238.4L304.5 239L307.5 239.9L308.7 240.5L309.9 241.5L310.4 242.5L310.3 243L309.6 244L308.9 244.5L306 245.7L302.5 247.9L301 248.3L299 248.3L296 247.4L295 247.3L286.5 247.8L278 247.3L273 248.4L271.5 248.2L269.8 247.5L267.5 245.9L263.8 244L263 243L263 242L263.7 241L264.5 240.4L266 239.7L268.5 239.1L274 238.6L275.5 238.1L279 236.3ZM220.9 244L224.5 243.9L227.2 244.5L228.1 245L228.9 246L229 246.5L228.9 247.5L228 248.5L227.3 249L225 249.8L222 249.9L219.5 249.2L218.5 248.7L217.8 248L217.5 247.5L217.3 246.5L217.7 245.5L218.3 245L219.1 244.5ZM98.4 251L100 250.6L101.5 250.6L106 251.1L111 252.4L113 253.2L114.5 254L115.6 255L116.3 256L116.9 258L116.9 259.5L116.6 261L116 262.5L115.4 263.5L114.4 264.5L112.8 265.5L111 266L108.5 266.4L104.5 266.5L101 266.3L98.5 265.8L96.9 265L95.6 263.5L95 262L94.5 259.5L94.6 257L95.2 254.5L96 253L97 251.8ZM272.7 259.5L290.5 259.3L301.5 259.5L308 260.1L312.5 260.9L315.4 262L316.2 262.5L317.2 263.5L317.7 264.5L317.8 265.5L317.5 266.5L316.9 267.5L315.7 268.5L314.7 269L311.5 269.9L306.5 270.3L301 270L294 270.4L278.5 270.4L272.5 270L267.5 270.3L264.5 270.2L261 269.8L258.5 269L256.8 268L255.7 266.5L255.5 265L255.8 264L257 262.8L259 261.7L261.2 261L264.5 260.3ZM123 278L124.5 277.9L126 278.1L129.5 279.2L132.5 280.9L134.6 283L135.5 284.5L136.1 286L136.8 289.5L136.8 291.5L136.5 293L136 294.2L135.3 295L134.5 295.6L133.5 296L130 296.4L124.5 296L116 294.9L114 295L113 295.3L112 296.2L107.5 302.1L106 303.6L104.5 304.7L102.5 305.4L100.5 305.5L98.5 305L97 304L95.9 302.5L95.3 301L94.9 299.5L94.8 297.5L94.9 295.5L95.3 294L95.9 292.5L96.7 291.5L98.4 290.5L100.5 290.1L103.5 290.2L109.5 291.1L111.5 290.8L112.5 290.2L113.5 289L117.4 282.5L119 280.4L121 278.7ZM272.1 283.5L274.5 283.4L279.5 283.8L286.5 283L294 283.8L298.5 283.4L300.5 283.4L306 284.7L311.5 285.6L313.7 286.5L314.2 287L314.3 287.5L314.3 288L313.5 289L311.9 290L309.5 290.9L302 293.1L299 293.5L293.5 293.1L287 294L284.5 293.9L279.5 293.1L274.5 293.5L271.5 293.2L262 290.3L259.7 289L258.9 288L259 287L259.5 286.5L261 285.8L263 285.3L267.5 284.6ZM144 302.5L146.5 302.2L149.5 302.3L161.5 303.4L174.5 304.9L182.9 306.5L187.6 308L190.5 309.7L191.8 311L192.3 312L192.5 313L192.5 314.5L192.2 315.5L191.5 316.6L190.5 317.7L189.3 318.5L188 319.1L186 319.7L182 320.2L174.5 320.1L158.6 319L149.5 318.2L144.5 317.4L142 316.5L140.5 315.3L139.6 313.5L139.3 311L139.6 307.5L140.5 305L141.2 304L142 303.3ZM279.3 309.5L286.5 309.2L293.9 309.5L297 310L298.8 310.5L299.8 311L300.3 311.5L300.3 312L299.9 312.5L299.1 313L295.5 314L291.4 314.5L286.5 314.7L281.8 314.5L277.5 314L274.1 313L273.3 312.5L272.9 312L272.9 311.5L273.4 311L274.4 310.5L276.2 310ZM112.7 319L117.5 318.6L128 318.9L130.5 319.3L132 319.7L133 320.2L134 320.9L134.7 322L135.2 324L135.2 332.5L135 334.5L134.6 336L133.9 337.5L133 338.6L132 339.4L130.5 340.3L127.5 341.2L124 341.4L120 341L116.5 339.9L112.5 337.8L108.9 335.5L103.5 331.5L102 331.2L99 332L97.5 332.1L96.5 331.8L95.5 330.9L94.8 329.5L94.6 327.5L95 325.7L96 324.5L97 324L98 324L101.5 324.9L103 325L104.5 324.1L107.2 321.5L108.6 320.5L110.5 319.6Z"/>
<path fill="#ebf1f4" d="M142.8 127L183.3 127L185.5 128.2L187.1 129.5L188.1 131L188.5 132L188.5 133L188 134.5L186.5 136L184 137.3L180.5 138.3L154 141.5L149.5 141.8L146 141.7L144 141.2L142.5 140.3L141.5 139L140.7 137L140.4 134.5L140.6 131.5L141.2 129.5ZM100.3 138L102 137.8L104 138.2L105.5 139L107.1 140.5L109.1 143.5L110.3 146.5L110.5 147.5L110.4 148.5L109.8 149.5L108.5 150.3L106.5 151L102.5 151.5L101 151.4L99.5 151L98.4 150.5L97.5 149.6L96.8 148.5L96.2 146.5L96 144.5L96.3 142.5L96.7 141L97.7 139.5L99 138.5ZM124.3 148L129.5 147.6L133 147.8L135.1 148.5L136 149.1L136.7 150L137.4 151.5L137.7 153L137.8 155L137.5 157L137 158.5L136.2 160L135 161.3L133.5 162.5L131 163.8L128.5 164.6L126 164.9L124 164.9L122.5 164.4L121 163.5L119.6 162L118.5 160.5L117.1 158L115.8 155L115.2 153L115.2 151.5L115.9 150.5L117.7 149.5L121 148.6ZM176.6 158.5L180.5 158.3L183.6 158.5L186.2 159L188.5 160L190.2 161.5L190.7 162.5L191 163.5L191 165.5L190.1 167.5L188.7 169L187 170L172.5 175.4L167.5 177.8L163 180.4L158.5 183.5L154.5 187.4L144.5 195.4L142.5 197.2L140.5 199.5L139.3 201.5L138.2 204L137.5 206.5L137 209.5L136.7 213L136.7 222.5L137.5 231.9L138.1 235.5L138.8 239L139.8 242L141.1 245L142.5 247.5L144.1 249.5L146.4 251.5L155.5 258.4L158.5 261.3L162.5 263.8L167 266.2L172 268.4L186.5 273.4L188.6 274.5L190.1 276L191 277.5L191.3 279.5L191 281.5L190 283.3L188.7 284.5L187 285.3L184.5 285.9L182 286.2L178.5 286.1L174.5 285.6L170.5 284.6L166.5 283.4L163 282L158.5 279.8L156.5 279.4L155.5 278.9L152.5 277L149.5 274.5L147.4 272L145.7 269L144.6 266L142.2 257.5L141.3 255.5L140.4 254L139 252.5L137.6 251.5L132 248.7L130 247.5L128.5 246.1L127.5 244.8L126.4 242.5L123.1 234.5L119.1 226L118.4 224L118.2 222.5L118.3 221L118.9 219L124.4 208L125.8 204.5L127.5 199.2L128.5 196.9L129.4 195.5L130.5 194.4L137.5 189.8L139 188.5L140.5 186.8L141.7 185L143 182.5L146.7 173L147.9 171L149 169.5L152 166.8L156 164.5L158.5 163.9L164 161.6L168.5 160.1L172.5 159.1ZM105.2 177.5L109 177.4L112 177.7L114.5 178.5L116.1 179.5L117.6 181.5L118.3 183L118.7 184.5L118.7 187L118.3 188L117.7 189L116 190.3L113.5 191.4L110 192.4L106.5 192.9L103.5 193.2L101 193.1L99 192.5L97.5 191.5L96.2 189.5L95.7 188L95.5 186.5L95.6 183.5L96.4 181L97.6 179.5L99.3 178.5L101.5 177.9ZM190.4 190.5L192.5 190.2L194 190.2L195.4 190.5L196.2 191L196.7 192L197.3 195L198 196.3L199.5 197.6L201.6 198.5L202.5 199.5L202.9 200.5L202.9 201.5L202.2 204L200.8 206L198.4 208L189.5 213.6L187 214.8L184.5 215.5L181.5 215.7L179 215.4L176 214.4L175.5 214.6L175.1 216L174.9 217.5L174.9 225L175.1 227L175.5 228.5L176 228.7L179 227.6L181.5 227.3L184 227.4L186.5 227.9L189 229.1L198 234.5L200.1 236L201.8 238L202.6 239.5L203 241.5L203 243L202.4 244.5L201.5 245.3L199 246.5L197.8 247.5L196.8 249L196 251.7L195.5 252.5L194.5 253.1L193 253.4L189.5 253.1L184.5 251.8L181 250.4L178 248.4L176.5 246.9L175.5 245L175 243L174 237.9L173.5 236.8L173 236.6L169 237.5L165.5 237.6L162 237.1L159.5 236.2L158.5 234.9L158.1 233.5L157.6 228L157.5 219.5L157.7 212.5L158.1 209L158.5 207.8L159 207L160 206.3L161 206L165 205.5L168.5 205.8L173 206.8L173.5 206.8L174 206.1L175.6 199.5L176.5 197.6L177.5 196.4L179.9 194.5L182.5 193.1L186 191.7ZM277.9 191.5L281 191.2L284.5 191.1L288 191.2L291 191.6L293.5 192.2L295.6 193L297 194L297.4 195L297.2 195.5L296.5 196.2L294 197.2L290 197.9L285.5 198.2L280 198.1L275.5 197.5L272.2 196.5L270.9 195.5L270.7 195L271 194L272.4 193L275 192.1ZM221.4 194.5L224 194.3L226.3 195L227.4 196L227.5 197L227.3 197.5L226.8 198L225.9 198.5L224 198.9L222 198.9L220 198.2L219.1 197.5L218.9 197L219 196L220 195.1ZM246.5 204L247.5 203.8L249 203.7L251.1 204.5L251.7 205L252.3 206L252.5 207L252 208L251 209L249 209.7L247.5 209.7L245.8 209L244.6 208L244.2 207.5L244 206.5L244.3 205.5L244.7 205ZM278 209.5L279.5 209.2L281 209.3L285 210.7L286.5 211L291 211L292.5 211.2L298.5 213.4L304.5 215.2L306.5 215.9L309 217.5L310.2 219L310.6 220L310.8 221.5L310.7 223L310.3 224L309.4 225.5L308 226.7L306 227.6L303.5 228.1L299 228.4L293 229.2L288.5 228.5L286.5 228.5L284.5 228.9L281 230.3L279 230.7L273.5 229.9L272 230L269 230.6L267.5 230.6L265.5 230.2L264 229.5L263 228.5L262 226.8L261.4 225L261 222.5L260.8 218.5L260.9 215.5L261.3 213.5L262 211.8L262.8 211L263.7 210.5L266.5 209.7L268.5 209.7L271.5 210.4L273.5 210.6L275.5 210.3ZM215.6 210.5L218 210.4L223 211.3L225 211.1L228 210.5L230 210.5L232 211L233.6 212L234.5 213.5L235 215.5L235.2 218.5L235.2 223.5L235.1 227L234.7 229L234.2 230.5L233.4 231.5L232 232.3L230 232.8L228 232.8L223 232.2L217 232.9L214.5 232.5L213.5 232L212.5 231L211.6 229L211.2 226L211.2 219.5L211.5 215.5L212 213.4L212.8 212L214 211ZM98 214.7L99.5 214.6L101 214.9L103 215.8L104.9 217L106.5 218.5L107.6 220L107.9 221L108.1 222L107.9 223L107.2 224.5L106.3 225.5L105 226.7L103.5 227.7L100.5 228.9L98.5 229.1L96.9 228.5L95.5 227L94.7 225L94.3 222L94.6 219L95.6 216.5L96.4 215.5ZM436.3 215.5L438.5 215.2L441.5 215.4L443 216.2L444.1 217.5L444.5 218.5L444.8 220L444.7 223.5L444 225.7L443.3 226.5L442.5 227.1L440.5 227.8L437 227.7L435.3 227L434.5 226.3L433.9 225.5L433.5 224.5L433.2 223L433.2 220.5L433.4 219L433.9 217.5L434.5 216.7L435.3 216ZM392.8 216L395 215.9L397.5 216.6L399.5 218L400.3 219L400.8 220L401.1 222L400.5 224L399.9 225L399 225.9L397 227L394.5 227.5L393 227.4L391.5 227.1L390.2 226.5L389 225.6L388.1 224.5L387.6 223.5L387.3 222.5L387.3 221L387.8 219.5L388.4 218.5L390 217L391.5 216.3ZM340.4 216.5L342.5 216.1L345 216.3L347 217.1L348.6 218.5L349.5 220L349.8 222L349.2 224L348 225.6L347 226.3L345.5 226.9L344 227.2L342.5 227.3L341 227.1L339.5 226.5L338.5 226L337.4 225L336.7 224L336.2 222.5L336.2 221L336.4 220L337 218.9L338 217.8L339 217.1ZM246.6 234L248 233.7L249 233.7L250.2 234L251.3 234.5L252.9 236L253.2 237L253 238L252.5 238.6L251.5 239.4L249.5 240.1L248 240.2L247 240L245 239.2L243.9 238L243.7 237.5L243.7 236.5L244.3 235.5L244.8 235ZM278.8 236.5L281 236L286.5 236.4L291.5 236.1L293.5 236.2L299 238.5L304 239.2L306.6 240L308 240.7L308.9 241.5L309.3 242L309.4 243L308.7 244L308 244.5L305.5 245.8L303.1 247.5L301 248.3L299 248.2L296 247.4L295 247.3L286.5 247.8L278 247.2L273 248.4L271.5 248.2L269.9 247.5L267.5 245.7L264.6 244L263.9 243L263.8 242.5L264.2 241.5L265 240.8L266.5 240L269 239.3L274 238.7L275.5 238.2ZM222.6 244.5L224.5 244.6L226.5 245.2L227.3 246L227.5 246.4L227.3 247.5L226 248.5L225 248.9L223.5 249.1L221.5 248.9L220.3 248.5L219.5 248L219 247.3L218.8 246.5L219.5 245.5L220.5 244.9ZM100.5 251L104 251L108.5 251.9L112 253L114.6 254.5L115.5 255.5L116 256.3L116.6 258.5L116.2 261L115.6 262.5L114.9 263.5L113.5 264.7L112 265.5L110 265.9L107.5 266.2L104 266.3L100.9 266L98.9 265.5L97.2 264.5L96 263L95.3 261L95.1 258.5L95.4 256L96.1 254L97.2 252.5L98.6 251.5ZM273.1 259.5L290.5 259.3L301.5 259.5L307.5 260.1L312 261L314.6 262L315.4 262.5L316.5 263.5L316.9 264.5L317 265.5L316.4 267L315.5 268L313.8 269L311.5 269.7L307 270.2L301 270L294.5 270.4L278.5 270.4L272.5 270L267.5 270.2L264.5 270.1L261.5 269.6L259.4 269L257.7 268L256.5 266.5L256.2 265L256.6 264L257.4 263L259.5 261.8L261.8 261L264.5 260.4L269 259.8ZM122.6 278.5L124 278.3L125.5 278.4L129 279.3L132 280.9L134.2 283L135.6 285.5L136.1 287L136.4 289L136.4 291L136.1 292.5L135.7 293.5L135 294.5L134 295.2L132.5 295.7L129 296L123.5 295.6L115 294.2L113.5 294.1L112.5 294.6L112 295.1L108.7 300L107.1 302L106 303.1L104.5 304.2L103 304.8L101 305.1L99 304.6L97.4 303.5L96.6 302.5L95.9 301L95.3 298L95.4 296L95.7 294.5L96.3 293L97.1 292L98 291.3L99 290.8L101.5 290.4L104.5 290.7L110.5 291.8L112 291.6L112.5 291.3L113.5 290L117 283.8L118.9 281L120.5 279.5ZM272.6 283.5L274.5 283.4L279.5 283.8L286.5 283L294 283.8L298.5 283.4L300.5 283.5L310.9 286L311.9 286.5L312.5 287L312.7 287.5L312.6 288L311.8 289L310.1 290L301.5 293L299 293.3L293.5 292.9L289 293.7L286.5 293.9L284.5 293.7L279.5 292.9L274.5 293.3L272 293.1L263.1 290L261.4 289L260.6 288L260.5 287.5L260.7 287L261.3 286.5L262.3 286ZM144.4 303L146.5 302.7L149 302.6L158.5 303.3L172 304.9L181 306.5L185.8 308L187.8 309L189.3 310L190.2 311L190.7 312L191 313L190.9 314.5L190.5 315.5L189.8 316.5L188.7 317.5L187.5 318.2L184.5 319.2L180.5 319.7L173.5 319.7L162 319L151 318.1L145.5 317.2L143 316.3L141.5 315.3L140.8 314.5L140.3 313.5L139.9 311.5L140 308.3L141 305.5L141.7 304.5L142.5 303.8ZM281.7 310L287 309.8L292 310.1L294.6 310.5L296 311L296.7 311.5L296.7 312L296.2 312.5L295 313L293 313.4L290 313.8L286.5 313.9L283 313.8L280 313.4L278 312.9L277 312.5L276.5 312L276.5 311.5L277.2 311L278.6 310.5ZM114.6 319L119 318.8L128 319.2L131.5 319.9L132.7 320.5L133.5 321.2L134.4 322.5L134.8 324.5L134.9 332L134.6 334L134.2 335.5L133.5 337L132.5 338.2L131.5 339L130 339.8L127 340.7L123 340.9L119 340.2L115 338.8L110 335.9L106.4 333L103 329.1L102.5 328.9L102 329.1L100 330.3L98.5 330.9L97 330.6L96 329.5L95.7 328.5L95.7 327L96.2 326L97 325.3L98 325.1L99.5 325.5L102.5 327.3L103.5 326.7L106.5 323L108.6 321L110 320.2L111.5 319.6Z"/>
<path fill="#eaf1f4" d="M143.5 127.5L144.1 127L180.6 127L183.5 128.3L185.5 129.7L186.8 131.5L187.1 133L186.6 134.5L185.1 136L183 137.1L179.7 138L155 141.1L150.5 141.4L147 141.3L145 140.9L143.2 140L142 138.5L141.2 136.5L140.9 134L141.2 131.5L142 129.4ZM100.7 138.5L102.5 138.4L104.5 138.9L106 139.9L107.5 141.6L108.8 144L109.7 146.5L109.7 147.5L109.5 148.4L108.6 149.5L107.5 150.1L105.5 150.7L103.5 151L102 151L100.5 150.8L99.5 150.4L98.5 149.7L97.9 149L97.1 147.5L96.8 146L96.7 144L96.9 142.5L97.5 141L98.1 140L99.4 139ZM127.1 148L130 147.9L132.5 148.2L134 148.6L135.5 149.5L136.5 150.7L137.2 152.5L137.4 154.5L137.2 156.5L136.6 158.5L135.7 160L134.5 161.3L133 162.4L131 163.4L128.5 164.2L126 164.6L124 164.4L122.5 163.9L121.5 163.3L120.1 162L119 160.6L117.8 158.5L116.6 156L116 154L115.9 152.5L116.2 151.5L116.6 151L117.5 150.3L119 149.6L122.5 148.6ZM175.5 159L179 158.8L182.5 159L185.2 159.5L187.5 160.5L189 161.9L189.7 163.5L189.7 165.5L189.1 167L187.8 168.5L185.4 170L171 175.8L166.5 178L162.3 180.5L158.6 183L154.5 186.8L150 190.3L143.9 194.5L141.5 196.6L140 198.5L138.8 200.5L137.8 203L137.1 205.5L136.7 208.5L136.4 212.5L136.5 222.5L137.2 232L138.2 239L139.2 243L140.4 246.5L141.5 249.2L142.4 250.5L143.8 251.5L148 253.8L151.5 256L155.5 258.8L158.5 261.7L163 264.4L167.5 266.7L171.5 268.5L185.1 273.5L187.6 275L189.1 276.5L189.8 278L190 280L189.7 281.5L188.7 283L187.5 284L185.5 284.9L183.5 285.4L181 285.6L177.5 285.5L174 285.1L170 284.2L166 282.9L158.5 279.5L156.5 279.1L155.5 278.6L152.3 276.5L149.5 274L147.5 271.5L145.7 268L144.6 264.5L142.5 255.6L141.3 252.5L140.5 251.5L139.5 250.8L133.5 248.4L131.5 247.4L130 246.4L128.5 244.9L127.5 243.4L126.5 241.5L123.7 235L119.9 227L119 224.5L118.7 222.5L118.9 220.5L119.8 218L124.8 208L129.1 198L130.1 196.5L131.5 195L138 190.6L139.5 189.2L140.9 187.5L142 185.7L143.1 183.5L146.8 173.5L148 171.4L149.5 169.5L152.3 167L156 164.8L158.5 164.2L163.7 162L168 160.5L172 159.6ZM102.9 178L107 177.7L111 177.9L113.5 178.5L115.4 179.5L116.4 180.5L117.1 181.5L118.1 184L118.2 186.5L117.9 187.5L117.4 188.5L116 189.8L114 190.9L111.5 191.7L108 192.5L104.5 192.8L102 192.8L100 192.3L98.5 191.5L97.1 190L96.2 187.5L96 185L96.4 182.5L97.1 181L98.5 179.5L100.5 178.5ZM189.4 191L191.5 190.6L193.5 190.6L195 190.9L195.9 191.5L196.4 192.5L197 195L197.9 196.5L199 197.5L201.4 199L202.1 200L202.3 201L202.3 202L201.7 204L200.4 206L198.1 208L189.5 213.4L187 214.6L184 215.3L181 215.3L178.5 214.8L176 213.6L175.5 213.5L175 214.3L174.8 216.5L174.8 227L175 228.9L175.5 229.6L178.5 228.3L181 227.7L184 227.7L187 228.4L189.5 229.6L197.7 234.5L199.7 236L201 237.5L201.9 239L202.3 240.5L202.4 242.5L202 244L201.2 245L199 246.3L197.5 247.5L196.6 249L195.6 251.5L195 252.2L194 252.7L192.5 253L189 252.7L184 251.4L180.5 249.9L177.8 248L176.5 246.5L175.5 244.5L174.9 242L174 236.4L173.5 235.6L173 235.6L169.5 236.7L166 237L162.4 236.5L160.5 235.9L159.5 235.4L159 234.9L158.4 233.5L158 231.6L157.8 228.5L157.6 221L157.8 213.5L158.2 210L158.5 208.8L159 207.8L160 207.1L161.5 206.6L165.5 206.1L169.5 206.5L173.5 207.8L174.1 207L175.7 199.5L176.5 198L177.5 196.7L179.5 195L182.5 193.3L185.5 192.1ZM279.8 192L285.5 191.8L290.5 192.4L292.5 192.9L293.8 193.5L294.5 194L294.9 194.5L295 195L294.8 195.5L294.2 196L292 196.9L289 197.4L285.5 197.7L281 197.6L277.5 197.2L274.9 196.5L273.3 195.5L273.1 195L273.1 194.5L274.2 193.5L277 192.5ZM221.5 196L223 195.6L224 195.7L225 196.1L225.3 196.5L225.2 197L224.7 197.5L224 197.7L223 197.8L222 197.6L221.2 197L221.1 196.5ZM246.1 204.5L247.5 204.1L248.5 204L249.5 204.2L250.5 204.5L251.2 205L251.9 206L252.1 207L251.7 208L250.6 209L249 209.6L247.5 209.5L246.1 209L244.9 208L244.6 207.5L244.5 206.5L244.9 205.5ZM278.5 209.5L281 209.5L285 210.8L286.5 211.1L291 211.2L292.5 211.4L298.5 213.7L306 216.2L308.5 217.8L309.8 219.5L310.3 221.5L310.2 223L309.8 224L309 225.3L308 226.2L306.5 227L304.5 227.7L298.5 228.3L293.5 229L292 229L288 228.4L286.5 228.4L284.5 228.8L281 230.2L279.5 230.6L278 230.5L273.5 229.8L269 230.4L267.5 230.4L265.5 229.9L264 229.1L263 228.1L262.1 226.5L261.5 224.5L261.1 222L261 218.5L261.1 215.5L261.5 213.5L262.3 212L263 211.3L264 210.7L266.5 209.9L268.5 209.8L272 210.5L273.5 210.6L275.5 210.4ZM214.8 211L216 210.7L217.5 210.6L222 211.3L223.5 211.4L228 210.7L229.5 210.7L232 211.3L233.5 212.4L234.4 214L234.8 216L235.1 219L235.1 224L234.9 227L234.5 229L233.8 230.5L233 231.4L231.5 232.2L229.5 232.6L228 232.6L223 232.1L217.5 232.7L215 232.4L214 231.9L213 231.1L212 229.5L211.5 227L211.3 222.5L211.4 217L211.8 214.5L212.4 213L213.5 211.7ZM97.5 215.5L98.5 215.1L100 215.1L101.5 215.5L103 216.1L104.5 217.1L106 218.5L107.1 220L107.5 221L107.6 222L107.4 223L106.3 225L104 227L102.5 227.9L101 228.4L99 228.6L97.3 228L96 226.6L95.2 224.5L94.8 221.5L95.2 219L96 217L96.8 216ZM437.5 216.5L439.5 216.4L441 216.6L442.5 217.5L443.2 218.5L443.7 220.5L443.5 223.5L442.9 225L442.5 225.5L441.5 226.2L439.5 226.6L437 226.4L435.5 225.5L434.8 224.5L434.5 223.5L434.3 222L434.4 220L434.6 219L435.5 217.5L436.5 216.8ZM340.9 217.5L342.5 217.2L344.5 217.4L346.2 218L347.5 219.1L348.3 220.5L348.5 222L348.1 223.5L346.8 225L346 225.5L344.5 226L342 226.1L340 225.5L339 224.8L338.2 224L337.7 223L337.4 222L337.5 221L337.8 220L339 218.5ZM391.6 217.5L393.5 217L395.5 217.2L397.5 218L398.7 219L399.6 220.5L399.7 222L399.3 223.5L398.1 225L396 226.1L393.5 226.4L391.5 225.8L390.5 225.3L389.6 224.5L389 223.5L388.6 222.5L388.6 221.5L388.7 220.5L389.2 219.5L390 218.5ZM247 234L248.5 233.8L249.5 233.9L250.9 234.5L251.6 235L252.4 236L252.7 237L252.4 238L252 238.5L250.5 239.5L248.5 239.9L246.5 239.6L245 238.6L244.2 237.5L244.2 236.5L244.3 236L245.1 235ZM279 236.5L280 236.2L281.5 236.1L286.5 236.4L291.5 236.1L293.5 236.3L299 238.6L303.5 239.4L306 240.3L308 241.5L308.3 242L308.5 243L307.9 244L303 247.5L301.5 248.2L300 248.3L295 247.3L286.5 247.8L278 247.2L277 247.3L274 248.2L272 248.3L270.5 247.7L269.3 247L265 243.5L264.7 243L264.9 242L265.5 241.2L266.6 240.5L269 239.6L274.5 238.7ZM221.6 246L223 245.6L224 245.7L225 246.2L225.2 246.5L225.2 247L224.7 247.5L224 247.7L223 247.8L222 247.6L221.2 247L221.1 246.5ZM100.3 251.5L103.5 251.3L107.5 251.9L111.2 253L114 254.6L115 255.5L115.6 256.5L116.1 258.5L115.8 261L115.1 262.5L114.5 263.3L113.5 264.3L112 265.1L110 265.6L107.5 266L104.5 266L101.5 265.7L99.5 265.2L98 264.4L96.7 263L96.1 261.5L95.7 259.5L95.8 257L96.3 255L97.5 253.1L98.9 252ZM273.5 259.5L291 259.3L301 259.5L307 260.2L311.3 261L313.9 262L314.7 262.5L315.7 263.5L316.2 264.5L316.2 265.5L315.6 267L314.7 268L313 268.9L311.2 269.5L307 270.1L301 269.9L294.5 270.4L279 270.4L272.5 269.9L268 270.1L265 270L262 269.5L260 268.8L258.5 268L257.3 266.5L257 265L257.3 264L258.1 263L260 261.8L262.5 261L265 260.5L269.5 259.8ZM122.5 279L125 278.7L126.5 278.9L128.5 279.5L131.5 281L132.8 282L134 283.4L135 285L135.5 286.4L136 289.5L135.9 291L135.5 292.5L135 293.5L134 294.5L132.5 295.2L130.5 295.6L128 295.7L125 295.5L121.5 295L118 294.3L115.6 293.5L114.6 293L114.1 292.5L113.9 291.5L114.3 290L115.9 286.5L117.6 283.5L119 281.5L120 280.5L121 279.7ZM273.4 283.5L279.5 283.9L286.5 283.1L289 283.2L294 283.9L298.5 283.5L300.5 283.6L302.6 284L309.1 286L310.2 286.5L310.8 287L311 287.5L311 288L310.5 288.7L309.4 289.5L303.5 292.1L301.5 292.8L299 293.1L293.5 292.7L289 293.5L286.5 293.7L284.5 293.6L279.5 292.7L274.5 293.1L272 292.9L270 292.2L264 289.6L263 289L262.2 288L262.2 287.5L262.4 287L263 286.5L264.1 286L271 283.9ZM100.2 291L103 290.9L106.7 291.5L110 292.7L111 293.5L111.1 294L110.9 295L110.1 297L107.5 301L105 303.4L104 303.9L102.5 304.4L100.5 304.4L99.5 304.1L98.4 303.5L97 301.9L96.1 299.5L96 296.5L96.2 295L96.8 293.5L98 292L99 291.4ZM144.9 303.5L147 303.1L149.5 303.1L157.5 303.5L170.5 305L179 306.5L183.9 308L186.9 309.5L188.1 310.5L188.9 311.5L189.3 312.5L189.4 314L189 315L188.4 316L186.4 317.5L183.5 318.6L179 319.2L173 319.3L163.5 318.8L153 317.9L147 317L144 316L142.3 315L141.1 313.5L140.5 311.5L140.4 310L140.6 308.5L141.5 306L142.8 304.5ZM283.5 311L286.5 310.8L289.5 311L291.3 311.5L291.4 312L290 312.5L286.5 312.8L283.1 312.5L281.8 312L281.9 311.5ZM113.2 319.5L118 319.1L127 319.3L130.6 320L132 320.6L133 321.4L133.8 322.5L134.4 324.5L134.5 331L134.4 333L134 334.7L133.4 336L132.5 337.3L130.5 338.9L128 339.9L124.5 340.4L121 340.1L117.5 339.3L114.5 338.1L111 336.2L108.2 334L106.3 332L105.2 330L104.9 328L105.2 326.5L106.5 324L108.5 321.7L110.5 320.4Z"/>
<path fill="#e7eff4" d="M144.9 127.5L145.7 127L177.5 127L181.5 128.4L184 130L185.2 131.5L185.6 132.5L185.5 133.5L184.7 135L183.4 136L181.2 137L178 137.8L155.5 140.7L151 141L147.5 140.9L145.5 140.4L143.8 139.5L142.5 138L141.7 136L141.6 133.5L142.1 131L143.3 129ZM101.4 139L103.5 139.1L105 139.8L106.5 141.1L107.8 143L108.7 145L109 147L108.4 148.5L107.3 149.5L106 150.1L104.5 150.4L103 150.6L101.5 150.4L99.5 149.6L98.8 149L98.1 148L97.5 146.5L97.3 145L97.4 143.5L97.8 142L98.3 141L99.2 140L100 139.4ZM125.3 148.5L128 148.3L130.5 148.3L132.5 148.6L134 149.2L135.2 150L136 151L136.6 152.5L136.9 154L136.8 156L136.5 157.5L135.6 159.5L134.5 160.8L133 162L131.1 163L129 163.7L127 164.1L125 164.1L123.5 163.8L122 163.1L121 162.3L119.5 160.6L118.2 158.5L117.1 156L116.6 154L116.6 153L116.9 152L117.5 151.1L118.3 150.5L121 149.4ZM174.7 159.5L178 159.3L181 159.4L183.5 159.8L185.5 160.5L187 161.5L188.1 163L188.5 164.5L188.4 165.5L188 166.5L187.3 167.5L186.3 168.5L183.9 170L170 175.9L165.5 178.3L160.1 181.5L158.1 183L155.5 185.5L152 188L148.5 190.3L143 193.3L141.5 194.3L139.9 196L138.3 198.5L137.1 201.5L136.5 204.5L136.1 208.5L136 213.5L136.1 221.5L136.6 230L137.2 236.5L138.2 244L138.3 246L138 247L137.4 247.5L136.5 247.7L134.5 247.4L132 246.5L129.5 244.7L127.5 242L120 226L119.3 223.5L119.3 221.5L119.7 219.5L120.9 216.5L125.3 208L129 200.5L130.5 198.1L131.5 197L133 195.7L138.5 192.1L140 190.7L141 189.3L142.2 187L143.3 184.5L147 174L148.4 171.5L149.9 169.5L152.8 167L156 165.1L158.5 164.6L163.5 162.4L167.5 161L171 160.1ZM106.3 178L109.5 178L112 178.4L113.7 179L115.3 180L116.5 181.5L117.4 183.5L117.7 185.5L117.3 187.5L116.2 189L114.9 190L112.8 191L110.5 191.7L107.5 192.3L104.5 192.5L102 192.4L100 191.8L98.3 190.5L97.6 189.5L97 188L96.7 186.5L96.6 185L96.8 183.5L97.3 182L98.5 180.3L100.5 179L103 178.3ZM191.1 191L192.5 190.9L194 191.1L195 191.5L195.6 192L196.2 193L197 195.5L197.6 196.5L198.5 197.4L200.7 199L201.4 200L201.7 201L201.7 202L201.2 204L200 206L197.8 208L189.5 213.2L186.5 214.5L183.5 215L180.5 214.8L178.5 214.2L175.5 212.4L175 212.3L174.7 213L174.6 215L174.5 226.5L174.6 229.5L175 230.8L175.5 230.7L178 229.1L180.5 228.2L183.5 227.9L186 228.3L189 229.5L196.6 234L199.3 236L200.6 237.5L201.4 239L201.8 241L201.8 242.5L201.4 244L200.5 245L198.5 246.3L197.5 247.3L196.6 248.5L195.5 250.9L195 251.6L193.5 252.4L191.5 252.6L188 252.2L183 250.8L180 249.3L177.5 247.4L176.4 246L175.5 244L174.9 241L174 234.3L173.5 234.1L171.5 235.2L169.5 235.9L166.5 236.3L164.5 236.2L162.5 235.8L160.5 235.1L159.5 234.5L159 233.9L158.5 232.8L158.1 230.5L157.7 222.5L158 212.7L158.5 209.9L159 208.8L159.5 208.3L160.5 207.7L162.5 207.1L164.5 206.8L166.5 206.8L170 207.4L171.7 208L173.5 209L174 209L175.6 200.5L176.4 198.5L177.5 197L180 194.9L183 193.3L187.5 191.7ZM279.2 193L283.5 192.6L288 192.9L291 193.7L292.1 194.5L292.2 195L291.9 195.5L291.2 196L289.7 196.5L285 197.1L282 197L279.5 196.7L277 196L276.1 195.5L275.8 195L275.9 194.5L276.4 194L277.4 193.5ZM247 204.5L249 204.4L250 204.7L251 205.3L251.5 206L251.7 207L251.4 208L251 208.5L250 209.1L248.5 209.5L247 209.2L245.7 208.5L245 207.5L244.9 206.5L245.5 205.4ZM267.8 210L273.5 210.7L275.2 210.5L278.5 209.6L280.5 209.5L282 209.8L286 211.1L291 211.4L292.5 211.7L298.5 214.1L305 216.3L307.2 217.5L308.5 218.6L309.4 220L309.8 221.5L309.6 223L308.9 224.5L307.5 226L305.5 227L303 227.6L293 228.8L288.5 228.4L286.5 228.4L284.5 228.8L280.5 230.2L279 230.5L274 229.7L272.5 229.7L268.5 230.3L266 229.8L264.5 229.1L263.5 228.3L262.6 227L262 225.7L261.2 222L261.2 216.5L261.6 214L262 213L262.7 212L263.5 211.3L265 210.6ZM215.7 211L218 210.8L223.5 211.4L228 210.9L229.5 210.9L231.5 211.4L233.2 212.5L234.1 214L234.6 216L234.9 219L234.9 223L234.8 226L234.4 228.5L233.8 230L232.9 231L231.5 231.9L229.5 232.4L227.5 232.4L223 232L217.5 232.5L215 232.1L214 231.6L213 230.7L212 228.8L211.5 226L211.4 220.5L211.6 216.5L212.2 214L213 212.6L214 211.7ZM97.9 216L99 215.6L100 215.6L101.5 215.9L103 216.5L104.5 217.5L105.5 218.5L106.5 219.8L107 221L107.1 222L106.9 223L106.5 224L105.8 225L104 226.6L101.5 227.8L99.5 228.1L98 227.7L96.7 226.5L95.7 224.5L95.4 222L95.6 219.5L96.5 217.3L97.2 216.5ZM342.4 218.5L343.6 218.5L345 218.9L346 219.6L346.7 220.5L347 222L346.7 223L346 223.8L345 224.5L343.5 224.9L341.5 224.7L340.2 224L339.3 223L339 221.5L339.6 220L340.8 219ZM392.9 218.5L394 218.3L395.5 218.5L396.5 219L397.6 220L398.1 221L398 222.5L397.5 223.5L396.5 224.4L395 225L393 224.9L391.5 224.2L390.5 223.1L390.1 222L390.4 220.5L391.5 219.2ZM437.4 218.5L438.5 218.3L440 218.3L441 218.7L441.6 219.5L442 220.5L442 222.5L441.5 223.7L440.6 224.5L439.5 224.7L438 224.7L437 224.3L436.4 223.5L436 222.5L436 220.5L436.5 219.3ZM247.8 234L249 234L250.5 234.5L251.3 235L252 236L252.2 236.5L252.1 237.5L251.5 238.4L250.7 239L249 239.6L247.5 239.5L246 238.9L245 238L244.7 237.5L244.6 236.5L245 235.5L246.2 234.5ZM279.2 236.5L281.5 236.1L286.5 236.4L291 236.1L293 236.3L294.5 236.7L299 238.7L303 239.6L305.5 240.5L307 241.5L307.4 242L307.7 243L307.1 244L303.6 247L301.8 248L300 248.3L295 247.2L286.5 247.8L278 247.2L277 247.3L274 248.2L272 248.2L270.5 247.7L269.4 247L265.7 243.5L265.6 242.5L265.8 242L266.5 241.2L267.6 240.5L270 239.7L274.5 238.8ZM100.4 252L102 251.7L103.5 251.7L107 252.1L111 253.3L113.5 254.7L114.4 255.5L115.1 256.5L115.6 258.5L115.6 259.5L115.3 261L114.2 263L113 264.1L111.5 264.9L109.5 265.4L107.5 265.7L104.5 265.7L102 265.5L100 264.9L98.3 264L97.1 262.5L96.5 261L96.3 259L96.4 257L97 255L98 253.5L99 252.6ZM144.8 254.5L145.5 254.3L147 254.6L150.5 256.1L155.5 259.3L159 262.4L166.5 266.5L172.5 269.2L182.3 273L185.3 274.5L187.2 276L188 277L188.4 278L188.7 280L188.4 281L187.9 282L186.9 283L186 283.6L184.5 284.3L183 284.7L179.5 285.1L175 284.8L171 284.1L167 282.9L163.4 281.5L158.5 279.2L156 278.5L154.5 277.7L151.5 275.5L149.4 273.5L147.6 271L146.3 268.5L144.9 264L144 258.5L144 255.9L144.3 255ZM273.9 259.5L291 259.3L300.5 259.5L306 260.1L310.6 261L313.2 262L314 262.5L315 263.5L315.5 264.5L315.5 265.5L314.9 267L313.9 268L312.5 268.8L310.5 269.4L306.5 270L301 269.9L294.5 270.4L278.5 270.4L272.5 269.9L268 270L265.5 269.9L262.5 269.4L260.5 268.7L259 267.7L258 266.5L257.7 265L258 264L258.8 263L260.5 261.9L263 261L265.4 260.5L270 259.8ZM122.5 279.5L124 279.2L125.5 279.2L128.5 279.9L131.5 281.5L133.6 283.5L134.5 285L135.1 286.5L135.5 289.5L135.3 291L135 292.1L134.5 293L133.5 294L132 294.8L130 295.2L127.5 295.3L124.5 295.1L121 294.5L118.5 293.9L116.5 293L115.4 292L115.1 291L115.3 289.5L116.2 287L117.5 284.5L118.8 282.5L120 281.1L121 280.2ZM287 283.1L294 284L298.5 283.6L301 283.7L303.6 284.5L308.6 286.5L309.2 287L309.5 287.5L309.5 288L309.2 288.5L307.9 289.5L303.5 291.8L301 292.7L298.5 292.9L295 292.4L293.5 292.4L289 293.4L286.5 293.6L284 293.4L279.5 292.4L274.5 292.9L272 292.7L269.5 291.7L265.3 289.5L264 288.5L263.7 288L263.7 287.5L264 287L264.6 286.5L271.5 283.9L274 283.6L279 284ZM100.3 291.5L103 291.3L106.7 292L108.8 293L109.5 293.6L109.9 294.5L109.9 295.5L109.4 297L108.4 299L107.3 300.5L105 302.8L104 303.4L102.5 303.9L100.5 303.8L99.5 303.4L98.5 302.7L97.3 301L96.6 299L96.6 296.5L97.2 294L98.5 292.4ZM149.5 303.5L156 303.7L165.5 304.6L173 305.7L178.9 307L183.3 308.5L185.9 310L186.9 311L187.5 312L187.8 313L187.7 314L187.3 315L186.5 315.9L184.5 317.2L181.5 318.2L177 318.8L170.5 318.8L161 318.3L152.7 317.5L147.2 316.5L144 315.3L142.9 314.5L142.1 313.5L141.5 312.5L141.2 311L141.3 308.5L141.8 307L142.4 306L144 304.6L146.5 303.8ZM115.1 319.5L120 319.3L127.5 319.6L130.8 320.5L132 321.2L132.8 322L133.7 323.5L134 325L134.2 327.5L134.1 332L133.8 333.5L133.3 335L132.5 336.4L131.5 337.5L129.5 338.8L126.5 339.6L123.5 339.8L120 339.5L117 338.7L113.5 337.2L110.7 335.5L108.3 333.5L106.8 331.5L106.1 329.5L106.1 327L106.7 325L108 323L110 321.2L112.5 320Z"/>
<path fill="#e4eef3" d="M146.6 127.5L147.8 127L173.7 127L178.5 128.3L181.5 129.6L182.7 130.5L183.6 131.5L184 132.5L184 133.5L183.1 135L181.6 136L179.5 136.8L176.8 137.5L156.5 140.3L151.5 140.6L148 140.4L145.5 139.7L144 138.7L142.8 137L142.3 135L142.4 132.5L143.2 130.5L144.5 128.9ZM100.5 140L102 139.6L104 140L105.5 140.9L106.9 142.5L107.9 144.5L108.2 146.5L107.8 148L106.7 149L104.5 149.9L102 149.9L101 149.7L100 149.1L98.9 148L98.1 146L98.1 143.5L98.4 142.5L99 141.3L99.7 140.5ZM124.3 149L128 148.7L131.5 148.9L133 149.3L134 149.8L135.5 151.3L136.1 152.5L136.4 154L136.4 155.5L136.2 157L135.6 158.5L135 159.5L134.2 160.5L133 161.5L131 162.6L129 163.3L127 163.7L125 163.7L123.5 163.3L122 162.5L120.8 161.5L119.6 160L118.5 158L117.5 155.5L117.3 154L117.5 152.5L118.2 151.5L119.5 150.5L121.5 149.7ZM174.1 160L177 159.8L180 159.9L182.5 160.4L184.5 161.1L185.8 162L186.8 163.5L187 165L186.6 166.5L185.9 167.5L184.8 168.5L182.4 170L169.5 175.8L161.9 180L158.5 182.1L155 185.3L150.5 188.1L148 189.4L146 190L144.5 190.2L143.5 189.8L143.2 189L143.4 187L146.5 176.2L147.4 174L148.5 172L149.5 170.5L150.9 169L153.4 167L156 165.4L158.5 164.9L163 163L167.1 161.5L170.5 160.6ZM104.2 178.5L108 178.3L111 178.6L113.5 179.4L115 180.4L115.9 181.5L116.5 182.5L117.1 184.5L117 186.5L116.6 187.5L116 188.5L114.5 189.7L112.5 190.7L110 191.5L107 192L104.5 192.2L102.4 192L100.5 191.4L99.1 190.5L98 189L97.3 187L97.2 184.5L97.7 182.5L98.6 181L100 179.8L101.8 179ZM189.7 191.5L192 191.3L193.5 191.4L194.5 191.7L195.5 192.5L197.4 196.5L198.5 197.7L200 199L200.8 200L201.2 201L201.2 202L200.6 204.5L199.1 206.5L197.4 208L190.5 212.4L187.5 213.9L185.5 214.5L183 214.7L180.5 214.4L178.5 213.7L177 212.8L175.6 211.5L175.1 210.5L174.8 209.5L174.8 207L175.1 203.5L175.6 201L176.4 199L177 197.9L178.3 196.5L180 195.1L181.5 194.2L185 192.7ZM280.7 194L283.5 193.6L286 193.8L288 194.3L288.3 194.5L288.5 195L288 195.5L286.1 196L282 196L280 195.5L279.5 195L279.7 194.5ZM133 198.5L134 198.1L135 198.2L135.5 199L135.6 200L135.4 206.5L135.5 213.5L136.7 241.5L136.6 243.5L136.2 244.5L135.5 245.3L134.5 245.5L133 245.4L131 244.5L129.5 243.3L128 241.4L126 237.9L121.3 228L120.2 225L119.8 222.5L120.1 220L120.9 217.5L126 207.9L128.5 203.6L130 201.3L131.5 199.6ZM246.7 205L247.5 204.7L248.5 204.6L249.5 204.8L250.5 205.4L251.3 206.5L251.3 207.5L251 208L250 208.9L249 209.3L247.5 209.2L246.5 208.8L245.7 208L245.3 207L245.5 206ZM165.4 207.5L169 207.9L170.5 208.4L172 209.1L173.1 210L173.8 211L174.2 213L174.3 226L174.1 229.5L173.9 231.5L173 233L171.5 234.2L169.5 235L167 235.4L165 235.4L162.6 235L161 234.4L159.5 233.5L159 232.8L158.5 231.5L158 227.5L157.8 222L157.9 216L158.3 212.5L158.7 210.5L159.5 209.2L160.6 208.5L163 207.8ZM279 209.7L280.5 209.7L286 211.2L291.5 211.7L293.5 212.3L298.4 214.5L305 216.8L307.1 218L308.5 219.5L309 220.5L309.2 221.5L309.2 222.5L308.9 223.5L308 224.9L307 225.8L305.5 226.6L303.5 227.2L293 228.7L288 228.3L286 228.4L279.5 230.3L278 230.3L273.5 229.6L269.5 230L268 230L266 229.5L264.5 228.7L263.5 227.9L262.5 226.3L261.9 224.5L261.5 222.5L261.3 219.5L261.4 216.5L261.8 214.5L262.5 212.8L264 211.4L265.5 210.7L267 210.3L269 210.2L273.5 210.8L275 210.6ZM217.1 211L218.5 211L223 211.6L227.5 211.1L229.5 211.1L231.5 211.7L232.5 212.3L233.2 213L234 214.5L234.5 216.5L234.7 219.5L234.7 224L234.5 226.5L234.1 228.5L233.5 229.8L232.5 231L231 231.8L229 232.2L223 231.9L217.5 232.3L215 231.8L214 231.2L213 230.3L212.2 228.5L211.7 225.5L211.6 219.5L212 215.5L212.5 214L213.5 212.5L215 211.5ZM98.3 216.5L99.5 216.1L100.5 216.1L101.9 216.5L103 217L104.5 218L105.4 219L106.1 220L106.5 221L106.6 222L106.4 223L105.6 224.5L104 226.1L101.5 227.4L100 227.6L98.5 227.2L97.1 226L96.3 224.5L95.9 222L96.2 219.5L97 217.7ZM342.5 220.5L343.5 220.5L344.3 221L344.6 221.5L344.5 222L344.2 222.5L343 223L341.8 222.5L341.5 222L341.4 221.5L341.7 221ZM393.4 220.5L394.5 220.4L395.5 221L395.7 222L395.4 222.5L394.5 223L394 223L392.9 222.5L392.6 222L392.5 221.5L392.8 221ZM181.1 228.5L183 228.3L185 228.4L187 228.9L189 229.8L194.6 233L197.7 235L199.4 236.5L200.4 238L201 239.5L201.3 241L201.3 242.5L201 243.5L200.4 244.5L197.5 247L196.7 248L195 250.9L194 251.7L192.5 252.2L190 252.2L186.5 251.6L183.5 250.8L181 249.7L179.1 248.5L177.4 247L176.3 245.5L175.5 243.4L174.9 239.5L174.6 235.5L174.8 233L175.7 231.5L177 230.3L179 229.1ZM246.7 234.5L248 234.1L249 234.2L250 234.5L250.9 235L251.4 235.5L251.8 236.5L251.7 237.5L251.4 238L250.5 238.7L249 239.3L247.5 239.2L246 238.5L245.2 237.5L245 236.5L245.4 235.5ZM279.5 236.5L281.5 236.2L286.5 236.5L291 236.2L293 236.3L294.5 236.8L299 238.9L302.5 239.7L304.6 240.5L306.2 241.5L306.6 242L306.9 243L306.4 244L303.5 247L301.7 248L300 248.3L298.5 248L295.5 247.2L286.5 247.8L278 247.2L277 247.3L274 248.2L272.5 248.2L271 247.9L269.6 247L266.7 244L266.3 243L266.3 242.5L267 241.5L268 240.8L270 239.9L274.5 238.9ZM100.6 252.5L102 252.2L103.5 252L107 252.4L110.5 253.4L113 254.8L114.5 256.5L115.1 258.5L115 260.5L114 262.5L113 263.6L111.5 264.4L109.8 265L107.5 265.3L105 265.4L102.5 265.2L100.5 264.6L99 263.8L97.8 262.5L97.1 261L96.9 259.5L96.9 257.5L97.3 256L98 254.5L99 253.4ZM145.8 256.5L146.5 256.1L148 256.1L151 257.2L155.5 259.8L159 262.8L163.5 265.3L169.5 268.3L180.8 273L183.7 274.5L185.7 276L186.5 277L187 278L187.2 279L187.2 280L186.6 281.5L185 283L183.5 283.7L182 284.1L178.5 284.5L174.5 284.3L170.5 283.5L167 282.5L163.1 281L158.5 278.8L156.5 278.4L155 277.6L152.1 275.5L149.9 273.5L148.4 271.5L147 269L145.8 265.5L145 261L145.1 258L145.4 257ZM274.3 259.5L290 259.3L300 259.5L304.6 260L309.5 260.9L312.5 262L313.4 262.5L314.4 263.5L314.8 264.5L314.9 265.5L314.2 267L313.1 268L311.5 268.8L310 269.3L306 269.9L301 269.9L294.5 270.4L278.5 270.4L272.5 269.9L266 269.8L263 269.2L261 268.5L259.5 267.5L258.7 266.5L258.3 265L258.6 264L259.4 263L260.9 262L263 261.2L266 260.5L270.5 259.8ZM122.6 280L125 279.6L128 280.2L130.8 281.5L133 283.5L134.4 286L134.8 287.5L135 289L134.9 290.5L134.5 291.7L134 292.6L133.1 293.5L131.5 294.3L130 294.7L127.5 294.8L125 294.7L122 294.3L119.5 293.6L118 293L116.7 292L116.1 291L116 289.5L116.6 287.5L117.4 285.5L118.6 283.5L120 281.7L121.5 280.5ZM282.7 283.5L287 283.1L289.5 283.3L294 284.1L298.5 283.7L301 283.8L303.2 284.5L307.2 286.5L307.8 287L308.1 287.5L308.1 288L307.4 289L305.2 290.5L303 291.8L301.5 292.4L299 292.7L295 292.2L293.5 292.2L289 293.2L286.5 293.5L284.5 293.3L279.5 292.2L274.5 292.7L272 292.5L270 291.7L267.2 290L265.8 289L265.1 288L265.1 287.5L265.4 287L266 286.5L268.8 285L271.5 284L274 283.6L279 284.1ZM100.5 292L103 291.8L106 292.3L108.1 293.5L108.6 294L109 295L109 296L108.6 297.5L107 300.2L105 302.2L104 302.8L102.5 303.2L100.5 303.1L99 302.3L98 301L97.3 299L97.2 296.5L97.7 294.5L98.8 293ZM149.3 304L155 304L164 304.8L172 305.9L177.5 307.1L181.5 308.5L184.2 310L185.2 311L185.9 312L186.1 313L186 314L185 315.5L184 316.2L182.5 317L179 317.9L175 318.3L168.5 318.4L160.5 317.9L153 317.1L148 316.1L145 315L143.1 313.5L142.5 312.5L142.1 311.5L141.9 309.5L142.5 307.3L143 306.5L144 305.5L146.1 304.5ZM114 320L118.5 319.5L126 319.8L129.7 320.5L131 321.1L132 321.8L132.9 323L133.5 324.5L133.7 326.5L133.8 330L133.6 332L133.2 334L132.5 335.5L131.7 336.5L130 337.9L127.5 338.9L124.5 339.3L121 339.2L118 338.6L115 337.6L112 335.9L109.5 334L107.8 332L107 330L106.8 327.5L107.3 325.5L108.3 323.5L109.7 322L111.5 320.9Z"/>
<path fill="#e1ecf3" d="M148.8 127.5L150.5 127L169.1 127L171 127.3L176.1 128.5L179.9 130L181.7 131.5L182.3 132.5L182.3 133.5L181.5 134.8L180 135.8L178.2 136.5L175 137.3L156.5 139.9L152 140.1L148.5 139.9L146 139.1L144.4 138L143.7 137L143.3 136L143 134L143.4 132L144.7 130L146.5 128.5ZM101.5 140.5L103 140.4L104.5 141L105.7 142L106.8 143.5L107.3 145L107.4 146.5L107.1 147.5L106.7 148L105.5 148.8L103.5 149.3L101.5 149.1L100 148.1L99.2 147L98.8 145L99 143L100 141.4ZM123.8 149.5L127.5 149.1L131 149.3L133.1 150L134 150.6L134.9 151.5L135.4 152.5L135.9 154L135.8 156.5L135.3 158L134.8 159L133 161L131.4 162L129.5 162.7L127.5 163.2L126 163.2L124.5 163.1L123 162.5L121.5 161.5L120.5 160.4L119.3 158.5L118.4 156.5L118 154.5L118.2 153L118.7 152L119.8 151L121.5 150.2ZM173.8 160.5L176.5 160.3L179 160.4L181.5 160.9L183.1 161.5L184.5 162.5L185.3 163.5L185.6 165L185.1 166.5L183.9 168L181.9 169.5L179.1 171L169 175.7L163.5 178.6L159 181.3L155.5 184.3L152 186.5L150 187.4L148 188.1L146.5 188.2L145.5 187.7L144.9 186.5L145 184.5L145.6 181L146.7 177L147.6 174.5L148.6 172.5L150 170.6L151.5 169L154 167L156 165.8L158.5 165.3L163.5 163.1L167 161.9L170.5 161ZM103.4 179L106.5 178.6L109.5 178.7L112 179.2L114 180.3L115.6 182L116.4 184L116.5 186L116.2 187L115.6 188L114.7 189L113 190.1L110.6 191L108 191.6L105.5 191.8L103.5 191.7L101.5 191.3L100 190.5L98.7 189L98 187.5L97.8 185.5L98 183.5L98.6 182L99.9 180.5L101.5 179.6ZM188.6 192L190.5 191.7L192.5 191.7L194 192L195 192.6L195.5 193.3L197.1 196.5L200.3 200L200.7 201L200.7 202L200.1 204.5L198.8 206.5L197.1 208L191.5 211.6L188 213.4L186 214.1L183.5 214.4L181 214.1L179 213.4L177.5 212.5L176.3 211.5L175.7 210.5L175.2 209L175 207L175.2 204L175.7 201.5L176.3 199.5L177 198.3L178.1 197L179.5 195.7L181 194.7L184.5 193.1ZM130.9 203L132 202.5L133 202.8L133.5 203.4L134 204.5L134.7 209L135.2 217L135.8 231.5L135.7 239L135.5 240.7L135 242.2L134 243.2L133 243.5L131.5 243.1L130 242.2L128.5 240.6L127 238.4L124.5 233.8L121.9 228.5L120.8 225.5L120.3 223L120.4 221.5L120.7 219.5L121.5 217.5L122.9 214.5L127.5 206.8L129.5 204.2ZM247.7 205L248.5 204.9L249.5 205.1L250.6 206L250.9 206.5L250.9 207.5L250.2 208.5L249.3 209L248 209.1L247 208.8L246 208L245.7 207L246 206L246.5 205.5ZM163.4 208.5L165 208.3L167 208.3L169 208.7L170.5 209.3L171.7 210L172.8 211L173.4 212L173.7 213.5L174 217L174.1 223.5L173.9 227.5L173.5 230.3L172.6 232L171.6 233L170 233.9L168 234.5L166.5 234.6L164.5 234.5L162.5 234.1L161 233.5L159.5 232.4L159 231.6L158.5 230L158.1 226L158 221.5L158.1 216.5L158.5 212.7L159 211.1L160 209.8L161.5 209ZM279.5 209.8L281 209.9L286 211.3L291.5 211.9L298 214.8L304.5 217.1L306.9 218.5L308.2 220L308.6 221.5L308.6 222.5L308.3 223.5L307.7 224.5L306.5 225.6L305 226.4L303 227L293 228.5L288 228.2L286 228.3L284 228.8L281 229.9L279.5 230.2L278 230.2L273.5 229.5L269.5 229.8L268 229.8L266 229.2L264.5 228.4L263.5 227.4L262.6 226L262 224.3L261.6 222L261.5 219L261.6 216.5L262 214.5L262.7 213L263.5 212.2L264.4 211.5L267 210.6L269 210.4L273.5 210.9L275 210.7ZM215.8 211.5L218 211.2L223 211.7L227.5 211.3L229 211.3L231 211.8L232 212.3L232.8 213L233.8 214.5L234.3 216.5L234.5 219L234.6 223L234.4 226L234 228L233.4 229.5L232.5 230.6L231 231.5L229 232L227.5 232L223 231.7L218 232.1L215.5 231.7L214.5 231.2L213.5 230.4L212.4 228.5L211.9 226L211.7 222L211.9 217.5L212.4 215L213 213.5L214 212.4ZM98.7 217L99.5 216.7L100.5 216.7L102 217L103 217.5L104.8 219L105.5 220L105.9 221L106.1 222L105.9 223L105.1 224.5L103.5 225.9L101.5 226.8L100 227L98.5 226.5L97.5 225.5L96.8 224L96.5 221.5L96.8 219.5L97.5 218ZM180.8 229L182.5 228.7L184.5 228.7L186.5 229L188.5 229.8L192.5 231.9L196.7 234.5L198.5 236L199.7 237.5L200.4 239L200.8 240.5L200.8 242L200.5 243.5L199.8 244.5L197 247.2L195 250.4L194 251.2L192.5 251.8L190 251.9L187 251.4L184 250.7L181.5 249.7L179.5 248.5L177.7 247L176.6 245.5L175.6 243L175.1 240L174.9 236L175.2 233.5L176 232L177 230.9L179 229.6ZM247.2 234.5L249 234.4L250.5 235L251 235.5L251.4 236.5L251.2 237.5L250.9 238L250 238.6L248.5 239L247 238.7L246 238L245.4 237L245.5 236L246.3 235ZM279.7 236.5L281.5 236.2L286.5 236.5L291 236.2L293 236.4L294.5 236.9L299 239L302 239.8L304 240.6L305 241.2L305.9 242L306.1 242.5L306.1 243.5L305.3 245L303.4 247L302 247.8L300.5 248.2L299 248.1L295.5 247.2L286.5 247.7L283 247.6L278 247.2L277 247.3L274 248.1L272.5 248.2L271 247.8L270 247.2L269.1 246.5L267.8 245L267.2 244L266.9 243L267.3 242L268.4 241L270.5 240L274.5 239L278 237.2ZM102.8 252.5L105.5 252.5L108.5 253.1L111 254.1L113.1 255.5L114.2 257L114.6 259L114.3 261L113.7 262L112.9 263L111.5 264L110 264.6L108 265L106 265.1L103.5 264.9L101.5 264.5L100 263.8L98.9 263L97.9 261.5L97.5 260L97.4 258L97.9 256L98.8 254.5L99.8 253.5L101 252.9ZM148.5 257.4L149.5 257.5L152.5 258.6L155.5 260.3L158.5 263L161.2 264.5L167.5 267.7L178.3 272.5L182.2 274.5L184.2 276L185.3 277.5L185.7 278.5L185.7 279.5L185.2 281L184.5 281.8L183.6 282.5L181 283.5L177.5 283.9L174 283.7L170.5 283.1L166.5 281.9L163 280.6L158.5 278.4L156.5 278L155 277.2L152 275L150 273L148.2 270.5L147 268L146.1 264.5L145.8 261L145.9 259.5L146.3 258.5L147 257.7ZM274.7 259.5L290.5 259.3L299.5 259.5L304.1 260L309.2 261L311.9 262L312.7 262.5L313.7 263.5L314.2 264.5L314.3 265.5L313.5 267L312.5 267.9L311 268.7L309 269.3L306 269.8L301 269.8L293.5 270.4L278.5 270.4L272.5 269.8L266 269.6L263.5 269.1L261.5 268.4L260.1 267.5L259.1 266L259 264.5L259.5 263.5L260.7 262.5L262 261.8L264.4 261L268 260.2L271.5 259.7ZM122.9 280.5L124 280.2L125.5 280.2L128 280.7L130.7 282L132.8 284L134 286.5L134.4 289L134.2 290.5L133.8 291.5L132.6 293L131.5 293.7L129.5 294.2L127.5 294.4L125 294.3L122.5 293.9L120 293.2L118.6 292.5L117.4 291.5L116.9 290.5L116.8 289L117.2 287.5L118 285.5L119.2 283.5L120.5 282L121.5 281.2ZM282.9 283.5L287 283.1L289.5 283.4L294 284.2L298.5 283.7L301 283.9L302.9 284.5L305.6 286L306.8 287L307 288L306.4 289L304.6 290.5L302.5 291.8L301 292.3L298.5 292.5L295 292L293.5 291.9L289 293.1L286.5 293.3L284.5 293.1L279.5 291.9L274.5 292.5L272 292.3L270.5 291.7L268.6 290.5L266.8 289L266.2 288L266.2 287.5L266.5 287L267.6 286L269.2 285L271.5 284.1L274 283.7L279 284.2ZM100.9 292.5L102 292.3L103.5 292.3L106 293L107.5 294L107.9 294.5L108.2 295.5L107.9 297.5L106.5 300L104.5 301.8L102.5 302.6L101 302.5L99.5 301.7L98.5 300.5L97.8 298.5L97.8 296.5L98.4 294.5L99.5 293.2ZM149.7 304.5L155 304.4L162.5 305L170 306L175.5 307.2L179.7 308.5L182.5 310L183.9 311.5L184.4 312.5L184.4 313.5L183.5 315L182.5 315.8L181.1 316.5L178 317.4L174.5 317.8L169 318L161.5 317.6L154.5 316.9L149.5 316L146.6 315L144.5 313.7L143.2 312L142.8 310L143 308.5L143.4 307.5L144.7 306L146.9 305ZM115.9 320L121 319.8L127 320.2L130 321.1L131 321.6L131.9 322.5L132.8 324L133.2 325.5L133.3 331L132.7 334L132 335.3L130.9 336.5L129 337.8L126.5 338.6L123.5 338.9L120 338.6L117 337.9L114 336.7L111.5 335.2L109.6 333.5L108.2 331.5L107.6 329.5L107.6 327L108.2 325L109.4 323L111.2 321.5L113.5 320.5Z"/>
<path fill="#deebf2" d="M151.9 127.5L155.6 127L162.4 127L167 127.5L171.5 128.3L175.5 129.3L178.3 130.5L180.1 132L180.5 133L180.4 133.5L179.9 134.5L179.3 135L177.2 136L173.2 137L167.1 138L159.5 139.1L154 139.6L150 139.5L147 138.8L145.1 137.5L144.2 136L143.9 134L144.4 132L145.5 130.5L147 129.3L149 128.3ZM101.5 141.5L102.5 141.3L104 141.6L105 142.3L105.9 143.5L106.5 145L106.6 146L106.2 147L105.3 148L104 148.5L102.5 148.5L101.2 148L100.2 147L99.7 145.5L99.7 144L100.3 142.5ZM127 149.5L129 149.5L131 149.8L132.5 150.3L133.5 151L134.5 152L135 153L135.4 154.5L135.3 156L135 157.5L134.2 159L133.4 160L132.2 161L130.5 161.9L129 162.4L127 162.7L125.5 162.7L124 162.4L123 161.9L122 161.2L120.8 160L119.8 158.5L119.1 157L118.7 155.5L118.7 154L119.2 152.5L120 151.7L120.9 151L123.6 150ZM173.6 161L176 160.9L178.5 161.1L180.5 161.5L182 162.1L183.2 163L183.9 164L184.1 165L183.7 166.5L182.5 168L180.5 169.5L177.9 171L167 176.3L160 180.2L158 181.5L156 183.4L153.5 184.9L151 186.1L149 186.6L147.5 186.6L146.6 186L146.1 185L146 183L146.4 180L147.3 176.5L148.1 174.5L149.1 172.5L150.5 170.6L152 169L154 167.4L156 166.2L158.5 165.8L163.5 163.5L167 162.3L170.5 161.4ZM106.2 179L108.5 179L110.5 179.3L112 179.7L113.5 180.5L114.6 181.5L115.5 183L115.9 185L115.7 186.5L115 187.9L114 188.9L112.5 189.9L110.9 190.5L108.5 191.1L106 191.4L104 191.4L102 190.9L101 190.5L100 189.7L98.8 188L98.5 187L98.3 185.5L98.5 184L98.8 183L99.7 181.5L101.5 180.1L103.5 179.4ZM190.6 192L193 192.1L194.5 192.7L195.5 193.9L197.2 197L199.5 199.5L200 200.5L200.2 202L200 203.5L199.4 205L197.9 207L196 208.5L191 211.7L187.5 213.4L185.5 213.9L183 214L180.5 213.5L178.5 212.6L177 211.5L176.2 210.5L175.7 209.5L175.4 208L175.3 206L175.5 203.5L176 201L176.8 199L177.9 197.5L178.9 196.5L180.5 195.3L182 194.4L186 192.9ZM130.8 205.5L131.5 205.4L132.5 206L133.3 207.5L133.9 209.5L134.7 215.5L135.2 225L135.3 233L134.8 238L134.4 239.5L133.8 240.5L133 241.2L132 241.4L130.5 240.9L129 239.7L127.5 237.9L126 235.5L123.5 230.8L122 227.5L121.2 225L120.9 222.5L121.1 220.5L121.6 218.5L122.7 216L124.5 212.7L126.5 209.6L128 207.7L129.5 206.2ZM247.2 205.5L248.5 205.3L249.5 205.5L250 205.9L250.5 206.5L250.6 207L250.3 208L249.5 208.7L248.5 208.9L246.9 208.5L246.4 208L246.1 207L246.5 206ZM162.9 209.5L164.5 209.2L166.5 209.1L168.5 209.5L170 210.1L171.5 211L172.5 212L173 212.9L173.5 214.5L173.8 218L173.8 222.5L173.7 226.5L173.2 229L172.5 230.7L171.5 231.8L170 232.8L168 233.5L166.5 233.7L164.5 233.6L162.5 233.2L161 232.5L159.5 231.2L159 230.2L158.6 228.5L158.2 225L158.1 221L158.3 217L158.6 214L159 212.4L159.9 211L161 210.2ZM278.8 210L281.5 210.1L286 211.4L290 211.8L291.5 212.2L297.6 215L304.3 217.5L306.1 218.5L307.5 220L308.1 221.5L308 222.5L307.7 223.5L307 224.5L305.8 225.5L304.5 226.2L302.5 226.8L293 228.3L288 228.1L286 228.2L284 228.7L281 229.7L279.5 230L278 230L273.5 229.5L268.5 229.6L266.5 229.1L264.5 228L263.5 227L262.6 225.5L262 223.5L261.7 221.5L261.6 218.5L261.9 216L262.3 214.5L263.1 213L264 212.2L265 211.5L267.5 210.7L269 210.6L272.5 210.9L274 210.9ZM216.7 211.5L218.5 211.4L223 211.8L227.5 211.4L229 211.5L231 212.1L232 212.7L232.8 213.5L233.7 215L234.2 217L234.4 220L234.4 224L234.2 226L233.7 228L233 229.5L232.1 230.5L230.5 231.4L228.5 231.8L223 231.6L218.5 231.9L217 231.8L215.5 231.4L214.5 230.9L213.5 230L212.5 228.1L212 225.5L211.9 220L212.2 216.5L212.8 214.5L213.8 213L215 212.1ZM99.2 217.5L100 217.3L101 217.3L102.9 218L104.5 219.4L105.4 221L105.4 222.5L104.8 224L103.2 225.5L101.5 226.3L100 226.4L99 226L97.9 225L97.2 223.5L97 221.5L97.3 220L98 218.5ZM183.7 229L186 229.2L188 229.8L193.1 232.5L195.6 234L197.6 235.5L199 237L199.8 238.5L200.3 241L200.3 242.5L200 243.5L199.3 244.5L196.9 247L194.8 250L193.5 251L191.5 251.5L189 251.4L185.5 250.8L183 250.1L180.5 248.9L178.6 247.5L177.2 246L176.3 244.5L175.6 242L175.2 238L175.3 235L175.9 233L177 231.5L179 230.2L181.5 229.3ZM248.4 234.5L250.1 235L250.6 235.5L251 236.5L250.8 237.5L250.3 238L249.5 238.5L248.5 238.7L247.5 238.5L246.5 238L246 237.4L245.8 236.5L246.1 235.5L246.7 235L247.5 234.6ZM280 236.5L281.5 236.2L286.5 236.5L291 236.2L293.5 236.6L295 237.2L298.5 238.9L302.5 240.2L304 240.9L305.3 242L305.7 243L305.7 243.5L305.3 244.5L304.6 245.5L303.2 247L302 247.8L300.5 248.2L299 248.1L295.5 247.2L286.5 247.7L283 247.6L278 247.1L277 247.2L274 248.1L272.5 248.2L270.5 247.5L268.8 246L267.8 244.5L267.5 243.5L267.6 242.5L268.3 241.5L270 240.5L274.5 239.1L278 237.3ZM102.6 253L105 252.9L108 253.4L110.5 254.3L112.4 255.5L113.6 257L114.1 259L113.7 261L112.7 262.5L111.5 263.5L110.4 264L108.5 264.5L106.5 264.7L104.5 264.7L102.5 264.3L101 263.8L99.8 263L98.9 262L98.2 260.5L98 259L98.2 257L98.8 255.5L99.6 254.5L101 253.5ZM147.8 259L148.5 258.7L150 258.6L151.5 259L153.5 259.8L156 261.2L158 263.1L159.5 264.1L167 267.9L180 274L182.2 275.5L183.5 277L184 278L184.2 279L183.8 280.5L183 281.4L182.2 282L180 282.9L177 283.3L173.5 283.1L170 282.5L166.5 281.5L163 280.2L158.5 278L156.5 277.6L155.5 277.1L153.2 275.5L151 273.5L149.4 271.5L148 269L146.9 266L146.5 263L146.8 260.5L147.3 259.5ZM275 259.5L290.5 259.3L299.5 259.6L303.7 260L308.6 261L311.3 262L312.1 262.5L313.2 263.5L313.6 264.5L313.7 265.5L313.3 266.5L312 267.8L310.5 268.6L308.5 269.2L305.5 269.7L301 269.8L296.5 270.3L293.5 270.4L278.5 270.4L272.5 269.8L266.5 269.6L263.8 269L262 268.3L260.5 267.2L259.7 266L259.6 264.5L260.1 263.5L261.3 262.5L262.5 261.8L265 261L269 260.1L272 259.7ZM123.2 281L125.5 280.7L128 281.2L130.5 282.5L132.1 284L133.3 286L133.8 288.5L133.6 290L133.3 291L132.6 292L132 292.6L130.5 293.4L129 293.8L127 293.9L124.5 293.8L122.5 293.4L120.5 292.7L119.1 292L118.1 291L117.7 290L117.7 288.5L118 287L118.6 285.5L119.5 284L120.8 282.5L122 281.5ZM285.5 283.2L288 283.2L294 284.3L298.5 283.8L300.9 284L303 284.7L305.1 286L306 287L306.2 288L305.7 289L304.1 290.5L302.5 291.5L301 292.1L298.5 292.3L295 291.7L293.5 291.7L289 292.9L286.5 293.2L284 292.9L279.5 291.7L278 291.7L275 292.3L272.5 292.2L271 291.7L269.1 290.5L267.5 289L267 288L267.2 287L268.1 286L269.6 285L271.5 284.2L274 283.8L279 284.3ZM101.6 293L103.5 292.9L105.5 293.5L106.8 294.5L107.4 296L107 298L106 299.7L104.5 301.1L103.5 301.6L102.5 301.9L101 301.7L99.8 301L99 299.9L98.4 298L98.5 296.5L99 294.9L100 293.7ZM150.4 305L155.5 304.9L162.5 305.4L169 306.3L174.5 307.4L177.8 308.5L180.7 310L182.3 311.5L182.7 312.5L182.6 313.5L182 314.5L181.5 315L179.5 316.1L176.5 316.9L172.5 317.4L167 317.5L160.5 317.1L154.5 316.4L150 315.5L147.3 314.5L145.5 313.4L144.3 312L143.9 311L143.8 310L143.9 309L144.2 308L145.5 306.5L147.7 305.5ZM114.9 320.5L119.5 320.1L126 320.4L129 321.1L130.5 321.8L131.3 322.5L132 323.5L132.6 325L132.9 327L132.9 330L132.7 332L132.3 333.5L131.9 334.5L131 335.7L129.4 337L127 338L124.5 338.4L121.5 338.3L118.5 337.9L115.5 337L113 335.7L110.7 334L109.4 332.5L108.5 330.5L108.2 328L108.6 325.5L109.7 323.5L111 322.2L113 321.1Z"/>
<path fill="#dbe9f1" d="M153.5 128L157.5 127.6L161.5 127.7L166 128.1L170.7 129L174.3 130L176.6 131L178 132.2L178.4 133L178.3 133.5L177.6 134.5L176.9 135L174.3 136L169.8 137L160 138.6L155.5 139L151.5 139L148.5 138.5L146.5 137.5L145.3 136L144.9 134.5L145.1 133L145.9 131.5L147 130.4L149 129.2L151 128.5ZM102.2 142.5L103 142.4L104 142.8L104.8 143.5L105.3 144.5L105.5 145.5L105.2 146.5L104.7 147L104 147.4L103 147.5L102 147.2L101.5 146.9L100.9 146L100.7 145L100.8 144L101.4 143ZM126.4 150L130 150.1L132.4 151L134 152.5L134.5 153.5L134.8 155L134.7 156.5L134.4 157.5L133.6 159L132.7 160L131.5 160.9L130 161.6L128.5 162L127 162.2L124.5 161.9L123 161.2L122 160.5L121 159.3L120.2 158L119.6 156.5L119.4 155L119.4 154L119.8 153L121 151.7L123.5 150.5ZM174.3 161.5L176.5 161.5L178.5 161.8L180 162.3L181.3 163L182.2 164L182.5 165L182.4 166L181.6 167.5L179.9 169L177.6 170.5L159 180.2L156 182.8L154 184L152 184.8L150 185.3L148.5 185.2L147.5 184.5L147 183L146.9 181L147.3 178.5L148 176L148.8 174L150 172L151.5 170.1L153 168.7L156 166.7L158.5 166.2L162.5 164.4L165.5 163.2L170 162ZM105.1 179.5L107.5 179.3L110 179.6L112 180.2L113.5 181.2L114.6 182.5L115.3 184.5L115.1 186.5L114.2 188L113 189L111.2 190L109 190.7L107 191L105 191L103.5 190.8L102 190.4L100.7 189.5L99.5 188L99 186.5L99 184.5L99.4 183L100.4 181.5L101.5 180.7L103 180ZM188.9 192.5L191 192.3L192.5 192.4L194 192.9L195 193.8L196.6 196.5L199 199.5L199.6 200.5L199.8 202.5L199.3 204.5L198 206.5L196.4 208L192.5 210.6L188.5 212.7L186 213.5L184 213.7L181.5 213.4L179.5 212.7L178 211.8L177 210.8L176.1 209.5L175.7 208L175.5 206L175.7 203.5L176.1 201.5L176.8 199.5L177.5 198.4L178.7 197L181.5 194.9L184.5 193.6ZM247.1 206L248.5 205.6L249.6 206L250.1 206.5L250.2 207L249.9 208L249.2 208.5L248.5 208.7L247.5 208.5L247 208.2L246.5 207.5L246.5 207L246.7 206.5ZM129.5 208L130.5 207.7L131.5 207.9L132.5 209L133 210L133.9 214L134.5 220L134.8 228.5L134.4 234.5L134 236.6L133.4 238L132.5 239L131.5 239.3L130.5 239.1L129 238.2L127.5 236.5L126 234.3L124 230.7L122.6 227.5L121.8 225L121.5 223L121.5 221.5L121.9 219.5L123.5 215.6L126.5 210.9L128 209.1ZM162.7 210.5L164.5 210.1L166 210L168 210.3L169.5 210.9L171 211.8L172 212.8L172.7 214L173.1 215.5L173.5 218.3L173.6 222.5L173.4 225.5L172.9 228L172.2 229.5L171 230.9L169.5 231.9L167.5 232.6L166 232.8L164.5 232.7L163 232.3L161.5 231.7L160.5 231L159.6 230L158.8 228L158.5 225.5L158.3 221L158.5 216.7L158.9 214.5L159.4 213L160 212.1L161 211.3ZM279 210.1L281 210.2L285.5 211.4L290 212L292 212.6L297 215.1L303 217.4L305.2 218.5L306.4 219.5L307.2 220.5L307.5 221.5L307.3 223L306.7 224L305.5 225.1L303.9 226L302 226.6L293 228.1L286 228.2L280 229.8L278 229.9L273.5 229.3L269 229.5L267 229L265 228L263.9 227L263 225.7L262.3 224L262 222L261.8 219.5L262 217L262.4 215L263.1 213.5L264 212.6L265 211.9L267.5 210.9L269.5 210.8L273.5 211ZM215.9 212L217 211.7L218.5 211.5L223 211.9L228.5 211.7L231 212.4L232.5 213.5L233.4 215L233.9 217L234.2 219.5L234.2 223L234 225.5L233.6 227.5L233 229L232 230.2L230.5 231.1L228.5 231.6L223 231.5L218.5 231.7L216 231.3L215 230.9L213.9 230L212.9 228.5L212.3 226L212 222.5L212.2 218L212.7 215.5L213.3 214L214.5 212.7ZM100 218L101.5 218L103 218.7L104.3 220L104.8 221.5L104.6 223L104.1 224L103 225L101.5 225.6L100 225.6L99 225.1L98.1 224L97.8 223L97.6 221.5L98 219.9L99 218.5ZM182.3 229.5L184 229.4L186 229.5L188 230.1L190 231L193.6 233L196.6 235L198.2 236.5L199.2 238L199.7 239.5L199.9 241L199.8 242.5L199.5 243.5L198.9 244.5L196.6 247L194.8 249.5L193.5 250.6L192 251.1L189.5 251.2L186 250.7L183 249.8L181 248.9L179 247.5L177.5 246L176.6 244.5L175.9 242.5L175.4 239L175.4 236L175.9 234L176.7 232.5L178 231.3L180 230.2ZM247.2 235L248.5 234.7L249.5 235L250 235.3L250.6 236L250.7 236.5L250.3 237.5L249.7 238L249 238.3L248 238.3L247 237.9L246.5 237.5L246.1 236.5L246.5 235.5ZM280.2 236.5L282 236.3L286.5 236.5L291 236.3L293.5 236.6L295 237.2L298.5 239.1L302 240.2L303.6 241L304.3 241.5L305.1 242.5L305.2 243L305.2 244L304.4 245.5L303.1 247L302 247.7L300.5 248.1L299 248.1L295.5 247.2L286.5 247.7L282.5 247.6L278 247.1L277 247.2L274.5 248L273 248.2L271 247.7L269.4 246.5L268.3 245L267.8 243.5L268 242.5L268.8 241.5L270.5 240.5L274.5 239.2L278.5 237.1ZM102.6 253.5L105 253.3L107.5 253.6L110 254.5L111.6 255.5L112.9 257L113.5 258.5L113.3 260.5L112.4 262L111.3 263L110 263.7L108.5 264.1L106.5 264.3L104.5 264.3L102.5 263.9L101 263.2L100.1 262.5L99.3 261.5L98.7 260L98.6 258.5L98.8 257L99.2 256L100 254.9L101.3 254ZM290.5 259.3L299 259.5L303.3 260L307.9 261L310.7 262L311.5 262.5L312.6 263.5L313.1 264.5L313.1 265.5L312.7 266.5L311.8 267.5L310.5 268.3L308.5 269L305.5 269.6L301 269.7L296.5 270.3L293.5 270.4L278.5 270.4L272.5 269.8L267.2 269.5L264.6 269L262.5 268.2L261 267.1L260.2 266L260.2 264.5L260.7 263.5L261.8 262.5L263 261.9L265.6 261L269.5 260.1L272.5 259.7ZM148.7 260L149.5 259.7L151 259.7L152.5 260.1L154.5 260.9L156 261.8L158 263.6L159.3 264.5L175.8 272.5L178.6 274L180.7 275.5L182 277L182.6 278.5L182.3 280L181 281.3L179 282.2L176 282.6L172.5 282.5L169.5 281.9L166.3 281L163 279.7L158.5 277.5L156.5 277.2L155.5 276.7L153.2 275L151.1 273L149.6 271L148.3 268.5L147.4 265.5L147.3 263L147.8 261ZM123.8 281.5L126 281.3L128 281.8L130 282.8L131.8 284.5L132.8 286.5L133.1 288.5L132.7 290.5L131.5 292.1L130.5 292.7L129 293.1L127 293.4L125 293.3L121.5 292.5L120 291.7L119 290.7L118.5 289.5L118.4 288.5L118.7 287L119.3 285.5L120.2 284L121.1 283L122.5 282ZM283.4 283.5L286 283.2L288 283.3L294 284.4L298.5 283.9L301 284.1L303.2 285L304.6 286L305.4 287L305.6 288L305.1 289L303.7 290.5L302.5 291.3L301 291.9L298.5 292.2L295 291.5L293.5 291.4L289 292.8L286.5 293.1L284 292.7L279.5 291.4L278.1 291.5L274.5 292.2L272.5 292L271.5 291.7L270 290.9L268.5 289.5L267.8 288.5L267.6 287.5L268.1 286.5L269.2 285.5L271.5 284.3L273 284L274.5 283.9L279 284.4ZM101 294L102.5 293.6L104.5 293.9L105.5 294.4L106 294.9L106.5 296L106.4 297.5L105.7 299L104.5 300.2L103 301L101.5 301L100.5 300.5L99.7 299.5L99.3 298.5L99.2 297L99.4 296L100 294.8ZM151.3 305.5L156 305.4L161.5 305.7L167.8 306.5L172.7 307.5L176 308.5L179 310L180.6 311.5L180.9 312.5L180.9 313L180.5 313.9L180 314.5L178.4 315.5L175.5 316.4L172 316.8L167.5 317L162 316.8L156.5 316.2L152 315.4L149 314.5L146.5 313L145.2 311.5L144.9 310L145.2 308.5L146.5 307L148.5 306ZM117 320.5L122.5 320.4L126.5 320.8L129 321.5L130 322L131.1 323L132 324.5L132.4 326L132.5 330.5L132.3 332L131.8 333.5L131 334.9L130 335.9L128 337.1L125.5 337.8L123 338L119.5 337.7L117 337.1L114.3 336L112 334.6L110.4 333L109.2 331L108.8 329L109 326.5L109.7 324.5L110.9 323L112.5 321.8L114.5 321Z"/>
<path fill="#d8e8f1" d="M155.9 128.5L159 128.4L162.5 128.5L166.1 129L170 129.8L172.3 130.5L174.5 131.5L175.6 132.5L175.8 133.5L175 134.5L174.1 135L171.1 136L163.8 137.5L158 138.3L154 138.5L151 138.3L148.5 137.6L146.9 136.5L146.3 135.5L146.1 134L146.5 132.5L147.5 131.3L149 130.3L150.8 129.5L153 128.9ZM126.3 150.5L129 150.5L131.5 151.2L133.2 152.5L133.8 153.5L134.1 154.5L134.2 155.5L133.9 157L132.9 159L131 160.6L129.5 161.2L128 161.6L125.5 161.6L124 161.1L123 160.5L122 159.6L121.2 158.5L120.5 157.2L120.2 156L120.2 154L121.2 152.5L122 151.8L123.5 151.1ZM170 162.5L174.5 162.1L176.5 162.3L178.5 162.8L179.9 163.5L180.7 164.5L181 165.5L180.8 166.5L179.7 168L177.2 170L173.7 172L159 179.7L156.5 181.8L155 182.8L153 183.7L151 184.2L149.5 184.1L148.6 183.5L148 182.5L147.7 181L147.9 179L148.4 176.5L149.1 174.5L150 172.8L151 171.4L152.5 169.7L154.5 168L156 167.1L158.5 166.7L164.5 164L167.5 163.1ZM104.6 180L107 179.7L109.5 179.9L111.5 180.5L113 181.5L114.2 183L114.6 184L114.7 185L114.4 186.5L113.4 188L112.2 189L111 189.6L109 190.2L107 190.6L105 190.6L103.5 190.3L102 189.7L101 189L100.2 188L99.6 186.5L99.5 185L99.9 183.5L100.5 182.3L101.5 181.3L103 180.5ZM187.7 193L190 192.7L192 192.7L193.5 193.1L194.5 193.7L198.9 200L199.3 201L199.4 202L199 204L198 206L196.6 207.5L193.9 209.5L189.5 212L187 212.9L185 213.3L183 213.3L181 212.8L179.5 212.2L178 211.2L177 210.1L176.3 209L175.9 207.5L175.8 205.5L176 203.1L176.5 201L177.1 199.5L178 198.2L179 197L180.5 195.8L183.5 194.2ZM247.2 206.5L248 206.1L249 206.2L249.5 206.5L249.8 207L249.7 207.5L249 208.2L248 208.3L247.4 208L247 207.5L247 207ZM128.8 210L130 209.6L131 209.8L131.8 210.5L132.4 211.5L133.4 215L134.1 220L134.3 227.5L133.9 233L133.5 234.6L132.9 236L132 237.1L131 237.4L130 237.2L128.5 236.2L127.5 235.2L126 233.1L124.5 230.5L123.4 228L122.5 225.5L122.1 223.5L122.1 222L122.4 220L123.7 216.5L125 214.2L126.5 212.1L127.5 211ZM279 210.3L281 210.4L286 211.6L290 212.2L291.5 212.7L297 215.5L303 217.8L305 218.9L306.2 220L306.7 221L306.9 222L306.7 223L306.1 224L304.9 225L303.5 225.7L301.5 226.4L292.5 227.9L286 228.1L280 229.7L278 229.7L273.5 229.2L269 229.2L267 228.8L265 227.7L264 226.8L263.2 225.5L262.6 224L262.2 222L262 219L262.2 217L262.7 215L263.5 213.5L265 212.2L267.5 211.2L269.5 210.9L274 211.1ZM165.5 211L167.5 211.2L169 211.8L170.5 212.7L171.5 213.7L172.3 215L172.8 216.5L173.2 220.5L173 225L172.5 227.1L171.8 228.5L171 229.5L169.5 230.7L168 231.4L166 231.7L164 231.6L162.5 231.1L161 230.2L160 229.1L159.5 228.3L159 226.8L158.6 222L158.6 219L159 216L159.5 214.3L160 213.5L161 212.5L162.5 211.6L164 211.2ZM216.7 212L218.5 211.7L223 212L228.5 211.9L230 212.2L231 212.7L232.5 214L233.3 215.5L233.8 217.5L234 220L234 223.5L233.8 225.5L233.4 227.5L232.7 229L231.8 230L230 231L228 231.5L223 231.4L219 231.6L217.5 231.4L216 231L214.9 230.5L213.8 229.5L213 228L212.4 225.5L212.2 221L212.4 217.5L212.9 215.5L213.7 214L215 212.7ZM99.7 219L101 218.7L102 218.9L103.4 220L104 221L104.1 222L103.9 223L103.2 224L102 224.7L101 225L100 224.8L99 224L98.5 223L98.4 221.5L98.5 220.5L99 219.6ZM181.8 230L183.5 229.7L185.5 229.8L187.5 230.2L189.5 231L192.5 232.6L195.6 234.5L197.3 236L198.5 237.5L199.1 239L199.4 240.5L199.4 242L199.1 243.5L198.5 244.5L195 248.8L193.5 250.2L192 250.7L189.5 250.8L186 250.4L183.5 249.7L181.5 248.9L179.5 247.6L178 246.2L177 244.8L176.1 242.5L175.7 240L175.6 237L176 234.8L176.9 233L178 231.8L180 230.6ZM248.2 235L249.5 235.3L250.1 236L250.1 237L249.8 237.5L249 237.9L248 238L247.5 237.8L246.7 237L246.7 236L247 235.5ZM280.5 236.5L282 236.3L286.5 236.5L291 236.3L293.5 236.7L295 237.3L298.5 239.2L302 240.5L303.5 241.3L304.3 242L304.9 243L304.7 244.5L303.9 246L303 247L301.5 247.9L300 248.1L298.5 247.9L295.5 247.1L290 247.6L286.5 247.7L282.5 247.6L278 247.1L277 247.2L274.5 247.9L273 248.1L272 248L271 247.6L269.5 246.5L268.5 245L268.2 243.5L268.4 242.5L269.3 241.5L270.5 240.7L274.5 239.4L278.5 237.2ZM102.8 254L105 253.7L107.5 254.1L110 255L111.4 256L112.5 257.5L112.9 259L112.6 260.5L111.7 262L110.5 262.9L109.5 263.4L106.5 263.9L103.5 263.7L102 263.2L100.9 262.5L100 261.5L99.5 260.5L99.2 259L99.3 257.5L99.7 256.5L100.5 255.3L101.5 254.5ZM275.7 259.5L290 259.3L298.5 259.5L302.5 259.9L307.3 261L310.1 262L311 262.5L312.1 263.5L312.5 264.5L312.6 265.5L312.2 266.5L311.2 267.5L309.5 268.4L307.8 269L305 269.5L293.5 270.4L278.5 270.4L267.5 269.4L265 268.9L263 268.1L261.4 267L260.8 266L260.6 265L260.9 264L261.7 263L263.3 262L266.1 261L270 260.1L272.5 259.7ZM149.4 261L150.5 260.7L151.5 260.7L153 261L155 261.8L156.5 262.7L158 264.2L159 264.9L176.4 273.5L178.7 275L180.2 276.5L180.9 278L180.8 279.5L180.5 280L179.5 280.8L177.5 281.6L174.5 282L171.5 281.7L169 281.3L166 280.4L162.5 279L158.5 277L156.5 276.7L155.5 276.2L153.2 274.5L151.3 272.5L149.8 270.5L148.9 268.5L148.2 266L148 264L148.5 262ZM124.7 282L126.5 282L128.5 282.6L130.5 284L131.7 285.5L132.4 287.5L132.2 289.5L131.4 291L130.2 292L129 292.5L127.5 292.7L126 292.8L124 292.6L122.5 292.1L121.1 291.5L120.4 291L119.6 290L119.3 289L119.3 287.5L120.3 285L121.1 284L122.2 283L123.5 282.3ZM283.6 283.5L286 283.2L288 283.3L289.6 283.5L294 284.6L298.5 284L300.5 284.1L302 284.6L303.7 285.5L304.7 286.5L305.1 287.5L305.1 288L304.7 289L303.9 290L302.5 291.1L301 291.7L298.5 292L295 291.2L293.5 291.2L289 292.6L286.5 292.9L284.5 292.7L279.5 291.2L278.5 291.2L275 292L272.5 291.8L271 291.3L269.9 290.5L268.8 289.5L268.2 288.5L268.1 287.5L268.5 286.5L269.5 285.5L271.5 284.4L273 284.1L274.5 284L279 284.6ZM102.4 294.5L103.5 294.5L104.5 294.9L105.1 295.5L105.5 296.5L105.3 298L104.6 299L103.5 299.8L102.5 300.1L101.5 299.9L100.9 299.5L100.3 298.5L100.1 297.5L100.2 296.5L100.7 295.5L101.5 294.8ZM152.4 306L156.5 305.9L162 306.2L167.5 306.9L172 307.9L175.2 309L177.5 310.2L178.8 311.5L179.1 312.5L179.1 313L178.4 314L176.5 315.2L173.5 316L170.5 316.4L166.5 316.5L161.5 316.3L157 315.8L152.8 315L149.8 314L148 313L146.6 311.5L146.1 310L146.5 308.5L147.5 307.5L149.7 306.5ZM115.9 321L120 320.7L125.5 320.9L128.5 321.7L130.4 323L131.2 324L131.8 325.5L132 327.5L132.1 330L131.9 331.5L131.5 333L131 334L130 335.2L128.2 336.5L126 337.2L123.5 337.5L120.5 337.4L118 337L115.5 336.1L113.3 335L111.4 333.5L110.3 332L109.6 330L109.5 327.5L109.9 325.5L110.7 324L112.2 322.5L114 321.5Z"/>
<path fill="#d5e7f0" d="M154.5 129.5L157 129.2L160 129.2L163.5 129.5L166.5 130L169 130.7L171.2 131.5L172.6 132.5L172.9 133L172.9 133.5L171.9 134.5L169.5 135.5L165.6 136.5L159.5 137.6L155.5 137.9L152.5 137.8L150 137.2L148.5 136.4L147.7 135.5L147.4 134.5L147.7 133L148.4 132L149.5 131.2L150.8 130.5ZM126.9 151L129.5 151.2L131.5 152L133 153.5L133.4 154.5L133.5 155.5L133.4 156.5L133 157.6L132.5 158.5L131.5 159.5L129.5 160.6L127 161.1L125.5 160.9L124.5 160.6L122.8 159.5L121.4 157.5L120.9 155.5L121.1 154L122.3 152.5L124.2 151.5ZM170.3 163L174.5 162.8L176 163L177.5 163.5L178.5 164.1L179.2 165L179.4 166L179 167L177.8 168.5L175.2 170.5L169.8 173.5L159 179.1L155.5 181.9L153.5 182.7L152 183.1L150.5 183L149.5 182.5L148.8 181.5L148.6 180L148.6 178.5L149 176.5L149.7 174.5L150.5 173L151.9 171L153.4 169.5L156 167.6L158.5 167.2L164.5 164.5L167.5 163.6ZM104.5 180.5L106.5 180.2L109 180.3L111 180.9L112.5 181.8L113.5 183L114 184.5L113.9 186L113.1 187.5L112 188.5L111 189.1L109.5 189.7L107.5 190.1L104.5 190.1L103 189.6L101.9 189L101 188L100.5 187L100.2 185.5L100.4 184L100.8 183L101.6 182L103 181ZM189.6 193L191.5 193L193 193.3L194 193.8L195 194.8L198.2 199.5L198.7 200.5L198.9 202.5L198.6 204L198.2 205L196.8 207L195 208.5L191.5 210.7L188.5 212.2L186 212.9L184 213L182 212.7L180 212L178.5 211.1L177.5 210.1L176.8 209L176.2 207.5L176 205.5L176.2 203.5L176.6 201.5L177.4 199.5L178.4 198L179.4 197L182 195.2L185.5 193.8ZM247.6 207L248 206.7L248.5 206.6L249.1 207L249.1 207.5L248.5 207.9L248 207.8L247.7 207.5ZM278.3 210.5L281.5 210.6L286 211.7L289.5 212.3L291.5 213L296.5 215.7L302.4 218L304.3 219L305.5 220L306.1 221L306.3 222L306 223L305.4 224L304.1 225L301 226.2L292.5 227.7L286 228L281 229.3L279.5 229.6L277.5 229.6L273.5 229.1L269 229L267 228.5L265 227.3L264 226.3L263.2 225L262.7 223.5L262.3 221.5L262.3 218.5L262.5 216.5L263 214.9L263.9 213.5L265.5 212.2L268 211.3L269.5 211.1L274 211.2ZM129.5 211.3L130.5 211.5L131.5 212.3L132 213.1L133 216.3L133.7 221.5L133.7 227.5L133.2 232L132.7 233.5L132 234.8L131.5 235.3L130.5 235.6L129.5 235.4L128.5 234.8L127.5 233.8L126 231.8L123.8 227.5L123.1 225.5L122.8 223.5L122.8 222L123.1 220L124.5 216.5L126.5 213.4L128 212ZM217.8 212L228.5 212.1L230.5 212.7L232.1 214L233 215.5L233.6 217.5L233.8 220L233.8 223.5L233.6 225.5L233.1 227.5L232.3 229L231.3 230L230 230.8L228 231.3L219 231.4L217.5 231.2L216 230.8L215 230.2L214 229.3L213 227.5L212.5 225L212.4 220.5L212.7 217L213.4 215L214.4 213.5L216 212.5ZM163.2 212.5L164.5 212.2L166 212.1L167.5 212.3L169 213L170.3 214L171.2 215L172 216.5L172.4 218L172.7 220L172.7 222.5L172.4 224.5L171.8 226.5L171 227.9L170 229L168.5 230L167 230.5L164.5 230.5L163 230.1L162 229.6L161 228.8L160 227.5L159.3 225.5L159 223.5L158.9 220.5L159 218.5L159.5 216.2L160 215.1L160.9 214L162 213.1ZM100 220L100.5 219.7L101.5 219.7L102.5 220.3L103 220.9L103.2 221.5L103.1 222.5L102.5 223.4L102 223.8L101 224L100.5 223.9L100 223.6L99.5 223L99.3 221.5L99.5 220.6ZM181.5 230.5L183.5 230.1L185.5 230.1L187.5 230.5L189.5 231.2L192.5 232.8L195.2 234.5L196.9 236L198.1 237.5L198.7 239L199 240.5L199 242L198.6 243.5L198 244.5L195 248.4L193.5 249.8L192 250.3L189.5 250.5L186.5 250.2L184 249.6L182 248.8L180 247.7L178.6 246.5L177.4 245L176.5 243L176 240.5L175.9 237.5L176.1 235.5L176.7 234L177.9 232.5L179.5 231.3ZM247.7 235.5L248.5 235.3L249.1 235.5L249.7 236L249.8 236.5L249.6 237L249 237.5L248.5 237.6L247.5 237.3L247 236.5L247.1 236ZM280.8 236.5L282 236.4L286.5 236.5L291 236.4L293.5 236.8L295.5 237.7L298.9 239.5L302 240.7L303.4 241.5L304.3 242.5L304.5 243L304.6 244L304.4 245L303.4 246.5L302.5 247.3L301.5 247.8L300 248.1L299 248L295.5 247.1L290 247.6L286.5 247.7L282.5 247.6L278 247.1L277 247.1L274.5 247.9L273 248.1L272 247.9L271 247.6L269.6 246.5L268.7 245L268.4 244L268.7 242.5L269.5 241.6L271 240.7L274.5 239.5L278.5 237.3ZM103.1 254.5L105 254.2L107 254.4L109 255L110.6 256L111.6 257L112.2 258.5L112.1 260L111.3 261.5L110.5 262.3L109.5 262.8L108 263.3L106.5 263.5L103.5 263.2L102 262.5L101.3 262L100.4 261L100 260L99.8 259L100 257.5L100.4 256.5L101.3 255.5ZM276 259.5L289.5 259.3L298.5 259.5L302 259.9L306.8 261L310 262.2L311.5 263.5L312 264.5L312.1 265.5L311.6 266.5L310.6 267.5L309 268.4L307.5 268.9L304.5 269.4L293.5 270.4L278.5 270.4L268 269.3L265.5 268.8L263.4 268L262 267L261.3 266L261.1 265L261.4 264L262.2 263L263.8 262L266.6 261L270.5 260.1ZM150.2 262L151 261.7L152 261.6L153.5 261.9L155 262.4L156.5 263.3L158 264.8L159 265.5L169.5 270.5L175.1 273.5L177.3 275L178.7 276.5L179.3 278L179 279.3L178 280.2L176 281L173.5 281.2L170.5 281L168 280.5L165.5 279.7L162.5 278.5L158.5 276.5L156.5 276.2L155.5 275.7L153.5 274.2L151.9 272.5L150.4 270.5L149.5 268.5L148.9 266.5L148.8 264.5L149.3 263ZM123.7 283L125.5 282.7L127.5 283L129 283.7L130.5 285L131.3 286.5L131.6 288.5L131.1 290L130.2 291L129.4 291.5L128 292L126.5 292.1L125 292L122.5 291.3L121.5 290.7L120.8 290L120.3 289L120.2 288L120.7 286L122 284.1ZM283.9 283.5L286 283.3L288.5 283.4L294 284.7L298.5 284.1L300.5 284.2L302 284.7L303.4 285.5L304.3 286.5L304.7 287.5L304.7 288L304.3 289L303 290.5L302 291.1L300.5 291.7L298 291.8L294 290.9L292.5 291.2L289 292.5L286.5 292.8L284 292.4L279.5 290.9L278.5 291L275 291.8L272.5 291.7L271.5 291.3L270.2 290.5L269.2 289.5L268.6 288.5L268.6 287L269.3 286L270.6 285L272 284.4L274.5 284.1L279 284.7ZM102.2 296L103 295.8L103.5 296L104 296.6L104 297.6L103.5 298.2L103 298.5L102 298.4L101.5 297.8L101.5 296.8ZM153.9 306.5L158 306.4L162.5 306.7L167.5 307.4L171 308.3L174.4 309.5L176 310.5L176.6 311L177.2 312L177.1 313L176.2 314L174.1 315L172 315.5L169 315.9L165 315.9L161 315.7L157 315.2L153.5 314.5L150.7 313.5L149 312.5L148 311.5L147.6 310L147.8 309L148.2 308.5L149.5 307.5L151.5 306.9ZM118.7 321L123.5 321L126.5 321.5L129 322.5L130.6 324L131.1 325L131.5 326.5L131.6 329L131.5 331L130.7 333.5L130 334.5L128.9 335.5L127 336.5L125 337L122.5 337.1L119 336.8L116.5 336.1L114.5 335.2L112.6 334L111.2 332.5L110.3 330.5L110 328.5L110.2 326.5L111 324.5L112.3 323L114 322L116 321.3Z"/>
<path fill="#d2e5f0" d="M154.2 130.5L156.5 130.2L159 130.1L164 130.6L166.5 131.2L168.4 132L169.1 132.5L169.5 133L169.5 133.5L169.1 134L168.5 134.5L166 135.5L162 136.5L159 137L156 137.2L153.5 137.1L151.5 136.7L150.1 136L149.5 135.5L149.1 134.5L149 134L149.4 133L150.4 132L151.2 131.5ZM124.8 152L126.5 151.7L128.5 151.7L130 152L131.6 153L132.5 154.5L132.7 156L132.3 157.5L131.1 159L129.3 160L127 160.4L124.9 160L124 159.5L123 158.6L122.2 157.5L121.8 156.5L121.7 155.5L121.9 154.5L122.4 153.5L122.9 153ZM171.5 163.5L173.5 163.5L175 163.8L176.5 164.3L177.3 165L177.7 166L177.5 167L176.9 168L175.3 169.5L173.2 171L169.7 173L159 178.4L158 179.1L156.5 180.5L155 181.4L153.5 181.9L152 182.1L151 181.9L150 181.1L149.5 180L149.4 178.5L149.6 177L150.1 175L151.8 172L153 170.5L154.5 169.1L156 168.1L158.5 167.8L162.5 165.9L165.5 164.7L168.5 163.9ZM104.5 181L106.5 180.7L108.5 180.7L110.5 181.2L111.8 182L112.7 183L113.3 184.5L113.2 186L112.7 187L111 188.5L109.5 189.2L108 189.6L105 189.6L103.5 189.2L102.5 188.6L101.5 187.6L101 186.5L100.8 185.5L101 184.2L102 182.5L103 181.7ZM188 193.5L190 193.3L192 193.4L193.5 193.9L194.5 194.7L197.5 199L198.3 200.5L198.5 202.5L198.1 204.5L196.8 206.5L195.3 208L192.5 209.9L189.5 211.5L187 212.3L185 212.6L183 212.5L181 212L179.5 211.3L178.5 210.5L177.5 209.4L176.8 208L176.4 206.5L176.3 205L176.6 203L177.1 201L177.7 199.5L178.5 198.4L179.8 197L181 196L184 194.5ZM278.5 210.6L281 210.7L289.3 212.5L290.8 213L296.4 216L302 218.2L304 219.3L304.8 220L305.4 221L305.6 222L305.4 223L304.6 224L303.5 224.8L300.4 226L292 227.6L286 227.9L280 229.4L278 229.4L274 229.1L269.5 228.9L267.5 228.4L266 227.7L264.5 226.5L263.7 225.5L263 224L262.7 222.5L262.5 220.5L262.5 218L262.9 216L263.5 214.5L264.3 213.5L265.5 212.6L268 211.5L269.5 211.3L274 211.3ZM216.6 212.5L219 212.1L223 212.3L227.5 212.2L230 212.8L231.8 214L232.7 215.5L233.2 217L233.6 219.5L233.6 222.5L233.4 225L233 227L232.3 228.5L231.5 229.5L230 230.5L228 231L219.5 231.2L218 231.1L216.5 230.7L215.5 230.2L214.5 229.5L213.5 228L212.8 225.5L212.6 222L212.8 218L213.2 216L214 214.4L215 213.4ZM128 213.5L129.5 213L130.5 213.4L131.1 214L131.7 215L132.3 216.5L133 220.6L133.2 226L132.6 230.5L132.2 232L131.5 233.1L131 233.5L130 233.8L129 233.6L128 232.9L126 230.4L124.3 227L123.7 225L123.5 223.5L123.6 221L124.5 218.1L126 215.5L127 214.3ZM163.9 213.5L165 213.3L166.5 213.3L168 213.8L169 214.4L170 215.3L170.9 216.5L171.5 218L171.9 219.5L172 221L171.9 223L171.5 224.6L170.9 226L170 227.3L169 228.3L167.7 229L166.5 229.4L165.5 229.4L164 229.2L163 228.8L161.8 228L161 227.2L160.2 226L159.5 223.5L159.5 219.5L160.1 217L160.6 216L161.5 214.9L162.5 214.1ZM183.2 230.5L185 230.4L186.5 230.6L188.5 231.1L190.5 232L193.3 233.5L195.5 235L196.6 236L197.7 237.5L198.3 239L198.6 240.5L198.6 242L198.2 243.5L197.3 245L195 247.9L194 249L193 249.6L191 250.1L189 250.2L186 249.8L183.5 249.2L181.5 248.3L179.6 247L178.1 245.5L177.2 244L176.5 242L176.1 239L176.2 237L176.7 235L177.5 233.5L179.2 232L181 231.1ZM247.9 236L248.5 235.8L248.9 236L249.1 236.5L248.6 237L248 236.9L247.7 236.5ZM281.2 236.5L291 236.4L293.5 236.9L295.5 237.7L298.5 239.5L301.5 240.6L303.1 241.5L303.6 242L304.3 243L304.4 244L304.2 245L303.7 246L302.5 247.2L301.5 247.7L300 248L299 248L295.5 247.1L290 247.6L286.5 247.7L282.5 247.6L278 247L277 247.1L274.5 247.9L273 248L272 247.9L271 247.5L269.8 246.5L268.9 245L268.6 244L268.8 243L269.5 241.9L271 240.9L274.5 239.6L278.5 237.3L280 236.7ZM103.5 255L105 254.8L107 254.9L108.8 255.5L110 256.3L111 257.3L111.5 258.5L111.4 260L110.9 261L109.5 262.2L108.5 262.6L107 262.9L105.5 263L104 262.7L102 261.8L101.3 261L100.7 260L100.5 259L100.6 258L101 257L101.7 256ZM276.2 259.5L290 259.3L298.5 259.6L302 259.9L307 261.2L309.9 262.5L310.6 263L311.4 264L311.6 265.5L311.1 266.5L310.1 267.5L308.5 268.3L307 268.8L304.5 269.3L296.5 270.2L293.5 270.4L278.5 270.3L268.5 269.3L266 268.8L264 268L262.5 267L261.8 266L261.6 265L261.9 264L262.7 263L264.3 262L267.1 261L270.5 260.1L273 259.7ZM150.9 263L152 262.6L153 262.6L155.5 263.3L156.5 263.9L158 265.4L159 266.1L165.4 269L172.1 272.5L174.5 274L176.3 275.5L177.4 277L177.6 278L177.4 278.5L176.6 279.5L175 280.2L172.5 280.5L170 280.3L167.5 279.8L165.1 279L162.5 277.9L158.5 275.8L156.5 275.6L155.5 275.2L153.5 273.5L152.1 272L151 270.3L150.2 268.5L149.7 266.5L149.7 265L150 264ZM125.4 283.5L127 283.7L128.5 284.3L129.5 285.1L130.4 286.5L130.7 288L130.5 289L129.8 290L128.5 290.9L126.5 291.3L124 291L122.5 290.3L121.4 289L121.2 287.5L121.4 286.5L122 285.4L123.5 284.1ZM284.1 283.5L286.5 283.3L289 283.5L294 284.9L298.5 284.2L301 284.5L302.3 285L303.6 286L304.3 287L304.3 288.5L303.7 289.5L302.7 290.5L301.5 291.2L300.5 291.5L299.5 291.7L298 291.6L294 290.7L292.5 291L289 292.3L286.5 292.7L284 292.3L280.5 290.9L279.5 290.7L278.5 290.7L275 291.6L273 291.6L271.5 291.1L270.5 290.5L269.5 289.5L269 288.5L268.8 287.5L269.2 286.5L270.1 285.5L272 284.5L274.5 284.2L279 284.9ZM156.7 307L160 307.1L163.5 307.4L169.5 308.5L172.3 309.5L174 310.5L175 311.5L175.1 312.5L174.5 313.5L173.7 314L171 314.9L167 315.3L162.5 315.3L158 314.8L154 313.9L150.9 312.5L150 311.8L149.4 311L149.2 310L149.3 309.5L150 308.6L151 308L153.5 307.3ZM117.1 321.5L120.5 321.3L125 321.5L127.5 322.2L128.5 322.7L129.6 323.5L130.3 324.5L130.9 326L131.1 327.5L131.1 330L130.9 331.5L130.5 332.7L129.7 334L129 334.8L127.5 335.7L125.5 336.4L123 336.7L120 336.5L117.5 336L115.5 335.3L113.5 334.1L112.2 333L111.2 331.5L110.6 329.5L110.6 327.5L111.1 325.5L112 324L113.1 323L115 322Z"/>
<path fill="#cce2ee" d="M155 131.5L158.5 131.1L162.2 131.5L164 132L165.1 132.5L165.6 133L165.7 133.5L165.4 134L164.7 134.5L163.6 135L161.5 135.6L158.5 136.1L156 136.3L154 136.1L152.5 135.6L151.6 135L151.2 134L151.7 133L153.3 132ZM125.8 152.5L127.5 152.3L129 152.5L130.1 153L131.3 154L131.7 155L131.7 156.5L131 157.9L130 158.8L128 159.6L126 159.5L124.5 158.9L123.2 157.5L122.7 156L122.9 154.5L124 153.3ZM168.7 164.5L172 164.3L174.5 164.8L175.5 165.4L175.9 166L176 166.5L175.7 167.5L174.5 169L171.9 171L165.8 174.5L158.5 178L156.5 179.8L155.5 180.5L154 180.9L153 181L152 180.9L151 180.3L150.5 179.5L150.3 178.5L150.3 177L150.7 175.5L151.2 174L152.1 172.5L154.3 170L156 168.7L156.5 168.6L158.5 168.5L163.5 166L166.5 165ZM104.8 181.5L106.5 181.2L108.5 181.2L110 181.7L111.4 182.5L112.2 183.5L112.5 184.5L112.4 186L111.9 187L111 187.8L110 188.4L107.5 189.1L105 189.1L103 188.2L102.3 187.5L101.8 186.5L101.6 185.5L101.7 184.5L102.1 183.5L102.9 182.5ZM186.8 194L189 193.6L191 193.6L192.5 193.9L194 194.7L195 195.8L197.7 200L198.1 201.5L198 203.5L197.2 205.5L196 207L194.2 208.5L191.5 210.2L189 211.4L186.5 212.1L184.5 212.3L182.5 212.1L181 211.6L179.5 210.8L178.5 209.9L177.4 208.5L176.8 207L176.6 205.5L177 202.3L178.1 199.5L179 198.2L180.1 197L181.5 196L183 195.2ZM279 210.7L281.5 210.9L288.5 212.5L290.5 213.1L296 216.2L301.6 218.5L303.4 219.5L304.8 221L305 222L304.7 223L303.9 224L303 224.6L301.5 225.3L299.5 225.9L292 227.4L286 227.8L280 229.2L278 229.3L270 228.8L268 228.3L266 227.4L264.9 226.5L264 225.4L263.3 224L262.8 222L262.7 219.5L262.8 217.5L263.2 216L263.9 214.5L265.5 212.9L268 211.8L270 211.4L274 211.4ZM217.5 212.5L219.5 212.3L228 212.4L230 213L231 213.7L231.8 214.5L232.7 216L233.2 218L233.4 220.5L233.4 223.5L233.1 225.5L232.8 227L232 228.5L231 229.6L229.5 230.4L227.5 230.9L219.5 231L218 230.9L216.5 230.4L215.5 229.9L214.5 229L213.5 227.4L212.9 225L212.8 220.5L213.1 217.5L213.7 215.5L214.5 214.2L216 213ZM128.2 215L129.5 214.8L130.5 215.4L131 216.1L131.9 218.5L132.4 221.5L132.5 225.5L132.1 229L131.2 231L130.5 231.8L130 232L129.5 232L128.5 231.6L127.5 230.8L126.5 229.6L125 226.7L124.3 224L124.3 221.5L125 219L126.5 216.4L127.5 215.4ZM163.6 215L165 214.6L166 214.6L168 215.3L169 216.1L169.8 217L170.3 218L170.8 219.5L171 221L170.9 222.5L170.1 225L169.5 226L168.5 227L167.5 227.6L166.5 228L164.5 227.9L162.6 227L161.2 225.5L160.4 223.5L160.2 221L160.6 218.5L161.7 216.5L162.5 215.7ZM182.5 231L184 230.8L186 230.8L188 231.2L190 232L192.5 233.3L194.5 234.6L196.2 236L197.3 237.5L197.8 238.5L198.1 240L198.2 241.5L198 243L197.6 244L196.6 245.5L194.5 248.1L193.5 248.9L192 249.6L190 249.9L187.5 249.7L184.5 249.2L182.5 248.5L180.5 247.4L178.9 246L177.8 244.5L176.9 242.5L176.5 240L176.4 237.5L176.9 235.5L177.7 234L179 232.6L180.5 231.7ZM281.5 236.5L291 236.5L292.5 236.6L294 237.1L298.5 239.6L301.5 240.8L303 241.7L303.8 242.5L304.2 243.5L304.2 244.5L303.8 245.5L303.1 246.5L302 247.4L301 247.9L300 248L299 247.9L295.5 247L290.5 247.6L286.5 247.7L282.5 247.5L278 247L277 247.1L274.5 247.8L273 248L271.1 247.5L269.9 246.5L269.2 245.5L268.8 244L269 243L270 241.7L271.5 240.8L275 239.5L279 237.2ZM104.1 255.5L105.5 255.3L107 255.5L108.5 256L109.9 257L110.5 258L110.8 259L110.6 260L110 261L108.5 262L106 262.4L103.7 262L102.2 261L101.4 259.5L101.3 258.5L101.5 257.7L101.9 257L102.5 256.3ZM276.5 259.5L290 259.3L298 259.5L301.5 259.9L305.9 261L309.4 262.5L310.1 263L310.9 264L311.1 265.5L310.6 266.5L309.5 267.5L308 268.3L306.5 268.8L304.5 269.2L297 270.1L293.5 270.4L278.5 270.3L269 269.2L266.5 268.7L264.5 268L263 267L262.3 266L262.1 265L262.3 264L263.2 263L264.8 262L267.5 261L271.3 260ZM151.6 264L152.5 263.6L153.5 263.6L155.5 264L156.5 264.6L158 266.2L159 266.9L165.1 269.5L170.8 272.5L173.1 274L174.8 275.5L175.6 277L175.6 278L174.5 279L173 279.5L171 279.6L169 279.4L167 279L164.1 278L158.5 275.1L156.5 275L156 274.8L154.5 273.7L153 272.2L151.8 270.5L151.1 269L150.6 267.5L150.6 266L151 264.7ZM284.4 283.5L286.5 283.3L288.8 283.5L294 285.1L295 285L298.5 284.3L300.7 284.5L302 285L303.4 286L304 287L304 288.5L303.4 289.5L302.5 290.4L300.5 291.4L299.5 291.5L298 291.4L294 290.4L292.5 290.7L289 292.2L286.5 292.5L284 292.1L280.5 290.7L279.5 290.4L278.5 290.5L275 291.5L273 291.4L272 291.1L270.8 290.5L269.8 289.5L269.2 288.5L269.1 287.5L269.5 286.5L270.4 285.5L272 284.6L274.5 284.3L279 285.1L280 284.9L282.4 284ZM124 285L125 284.6L126 284.5L127.5 284.9L128.4 285.5L129.2 286.5L129.5 287.5L129.3 288.5L129 289.1L128 290L126.5 290.3L125 290.2L123.4 289.5L122.6 288.5L122.5 287.1L123 286ZM154.5 308L157.5 307.7L160.5 307.7L163.5 308L167 308.6L169.9 309.5L171.8 310.5L172.8 311.5L172.8 312.5L171.7 313.5L170.5 314L167 314.6L161.5 314.5L156.5 313.7L153.1 312.5L152 311.8L151.4 311L151.2 310L151.9 309L152.8 308.5ZM116.5 322L120 321.6L124.5 321.8L127.2 322.5L129 323.7L129.7 324.5L130.4 326L130.7 329L130.6 330.5L130.2 332L129.8 333L129 334L127.5 335.2L125.5 335.9L123.5 336.2L121 336.2L118.5 335.9L116.5 335.3L114.5 334.3L113 333.1L111.8 331.5L111.3 330L111.2 328L111.5 326L112.3 324.5L113.3 323.5L115 322.5Z"/>
<path fill="#c7dfed" d="M156.7 133L159 132.9L160.3 133.5L160 134L158.9 134.5L158 134.6L156 134.5L155.3 134L155.5 133.5ZM125.7 153.5L127 153.2L128 153.3L129 153.5L130 154.2L130.5 155L130.7 156L130.4 157L130 157.6L129 158.3L127.5 158.7L126 158.5L125 158L124.2 157L123.9 155.5L124.5 154.3ZM167.2 165.5L170 165.2L172.5 165.4L173.5 165.9L173.9 166.5L174 167.5L173.1 169L170.6 171L164.5 174.5L158.5 177.1L156 179.4L154 180L153 179.9L152 179.4L151.5 178.7L151.3 178L151.2 177L151.4 175.5L152.5 173L154.5 170.5L156 169.4L156.5 169.2L158.5 169.3L163 166.9ZM105.2 182L107 181.7L108.5 181.9L110 182.4L110.8 183L111.5 184L111.7 185L111.6 186L110.9 187L109.5 188L107 188.6L105 188.4L103.3 187.5L102.4 186L102.5 184.5L103.4 183ZM188.5 194L190.5 193.9L192.5 194.2L194 195.1L195 196.3L197.1 199.5L197.6 201L197.7 203L197.1 205L196.1 206.5L194.5 208L191.5 210L189 211.2L187 211.7L185 212L183 211.8L181 211.2L179.8 210.5L178.6 209.5L177.9 208.5L177.2 207L177 205.5L177 204L177.4 202L177.9 200.5L179.5 198L180.5 197L182 196L185 194.7ZM277.7 211L280 210.9L282 211.1L288.5 212.7L290.5 213.4L296 216.5L300.7 218.5L302.6 219.5L303.5 220.2L304.1 221L304.3 222L304 223L303.1 224L302.3 224.5L299 225.7L292 227.2L286 227.7L280 229.1L277.5 229.1L270 228.6L267.8 228L265.9 227L264.8 226L264.1 225L263.4 223.5L263 222L262.9 219.5L263 217.5L263.4 216L264.2 214.5L266 212.9L268.5 211.9L270 211.6L274 211.5ZM218.8 212.5L226.5 212.5L228 212.6L230.3 213.5L231.9 215L232.6 216.5L233 218.5L233.1 224L232.8 226L232.3 227.5L231.5 228.7L230.5 229.6L229 230.4L227 230.8L219.5 230.8L218 230.7L216.5 230.2L215.4 229.5L214.4 228.5L213.5 226.5L213 224L213 220L213.4 217L214 215.4L215.1 214L216.7 213ZM164.1 216.5L165 216.2L166 216.2L167.5 216.8L168.7 218L169.5 220L169.6 222L169 224.1L167.9 225.5L167 226.1L166 226.4L164.5 226.3L163.1 225.5L162 224L161.5 222.5L161.4 220.5L161.8 219L162.8 217.5ZM127.9 217L129 216.7L130 217.2L131 218.9L131.6 221.5L131.7 224.5L131.5 227L131 228.5L130.5 229.3L129.5 230L128.5 229.8L127 228.4L125.9 226.5L125.3 224L125.2 222L125.7 220L126.5 218.4ZM182.1 231.5L184 231.1L185.5 231.1L187.5 231.4L189.5 232L191.6 233L194 234.5L195.5 235.7L196.6 237L197.2 238L197.6 239.5L197.8 241.5L197.6 243L197.2 244L196.2 245.5L194.5 247.6L193.5 248.5L192 249.2L190 249.5L187.5 249.4L185 249L183 248.4L181.2 247.5L179.8 246.5L178.5 245L177.6 243.5L177 241.5L176.7 239L176.9 236.5L177.5 235L178.6 233.5L180 232.4ZM282 236.5L291 236.5L292.5 236.7L294 237.2L298.5 239.7L302 241.2L303 241.9L303.5 242.5L303.9 243.5L304 244.5L303.7 245.5L303 246.5L302 247.4L301 247.8L300 248L299 247.9L295.5 247L290.5 247.6L286.5 247.7L282.5 247.5L277.5 247L274.5 247.8L273 248L271.3 247.5L270 246.5L269.4 245.5L269 244L269.3 243L270 242L271.5 241L275 239.6L279 237.2L280.5 236.7ZM103.6 256.5L105 256.1L106 256L107.5 256.3L108.5 256.8L109.2 257.5L109.8 258.5L109.8 259.5L109.5 260.2L108.5 261.2L107 261.7L105 261.7L103.5 261.1L102.5 260L102.2 258.5L102.6 257.5ZM276.7 259.5L290 259.3L298 259.6L301.5 259.9L305.4 261L308.9 262.5L309.6 263L310.4 264L310.6 264.5L310.6 265.5L310.1 266.5L309.5 267.1L308.1 268L306.5 268.6L304 269.1L297 270.1L293.5 270.4L278.5 270.3L269.5 269.2L267 268.7L265.1 268L263.5 267L262.8 266L262.5 265L262.8 264L263.7 263L265.3 262L267.9 261L271 260.1L273.5 259.7ZM152.5 265L154 264.6L155.5 264.8L156.5 265.4L158 267.1L159 267.8L163.6 269.5L169.4 272.5L171.6 274L173.1 275.5L173.6 276.5L173.5 277.5L173 278L171.5 278.5L170 278.6L168 278.4L166 277.9L163.5 277L158.5 274.3L157 274.4L156 274.2L155 273.4L153.6 272L152.6 270.5L152 269.3L151.6 268L151.6 266.5L152 265.5ZM284.7 283.5L286.5 283.4L288.5 283.5L290.6 284L294 285.2L295 285.2L298.5 284.4L300.5 284.6L302 285.1L303.1 286L303.7 287L303.7 288.5L303.1 289.5L302.5 290.2L301.5 290.8L300.5 291.2L299.5 291.4L298 291.3L295 290.3L294 290.1L293 290.3L289 292.1L286.5 292.4L284 292L280.5 290.4L279.5 290.2L278.5 290.2L275 291.3L273 291.3L271 290.4L270.1 289.5L269.5 288.5L269.4 287.5L269.7 286.5L270.6 285.5L272 284.8L273 284.5L274.5 284.4L279 285.3L280 285.1L282.6 284ZM124.9 286.5L126 286.2L127 286.5L127.5 287.3L127.5 288L127 288.5L126.5 288.7L126 288.8L125 288.5L124.5 288L124.4 287.5L124.5 287ZM158.4 308.5L162.5 308.7L166.9 309.5L169.2 310.5L170 311.2L170.2 312L170 312.5L169.2 313L167.7 313.5L165 313.8L162.5 313.8L159.6 313.5L157 312.9L154.8 312L153.8 311L153.6 310.5L153.8 310L154.5 309.4L156 308.8ZM119.3 322L123 322L125.5 322.4L127.5 323.2L129.1 324.5L129.7 325.5L130.1 327L130.1 330.5L129.7 332L129.1 333L127.6 334.5L126 335.3L124 335.7L121.5 335.8L119 335.5L117 335L115 334.1L113.5 333L112.7 332L112 330.5L111.7 328.5L112 326.5L112.6 325L113.5 324L115 323L117 322.3Z"/>
<path fill="#c2ddeb" d="M126.2 155L127.5 154.7L128.5 155L128.9 155.5L129 156L128.8 156.5L128.3 157L127.5 157.3L126.3 157L125.9 156.5L125.7 156L125.8 155.5ZM166.5 166.5L168.5 166.2L170.5 166.4L171.7 167L171.9 167.5L171.9 168L170.9 169.5L168.4 171.5L163.8 174L158.5 176L156 178.5L155 178.9L154 178.8L153.1 178.5L152.6 178L152.2 176.5L152.6 174.5L153.7 172.5L155.5 170.5L156.5 170L158.5 170.3L162.5 167.9L164.5 167.1ZM106.1 182.5L107.5 182.4L108.5 182.6L109.5 183L110.1 183.5L110.7 184.5L110.7 185.5L110.2 186.5L109.7 187L108 187.8L106.5 187.9L105 187.6L104 186.9L103.5 186.2L103.3 185.5L103.5 184.4L104.5 183.2ZM187.2 194.5L189.5 194.2L191.5 194.3L193 194.8L194 195.6L195.5 197.5L197 200L197.3 202L197.1 204L196.4 205.5L195.3 207L193.5 208.5L191 210L188.5 211L186.5 211.5L184.5 211.6L182.5 211.3L181 210.7L179.8 210L178.7 209L178.1 208L177.6 207L177.3 205.5L177.3 204L177.7 202L178.2 200.5L179 199.1L181 197L183.6 195.5ZM275.2 211.5L278.5 211.1L281 211.2L283 211.5L289.5 213.2L291.1 214L295.5 216.6L301.7 219.5L302.5 220L303.3 221L303.6 221.5L303.5 222.5L303 223.4L302.3 224L301 224.7L299 225.4L292 226.9L286 227.6L280.5 228.9L277.5 229L270.5 228.4L268.5 228L267 227.4L265.7 226.5L264.7 225.5L264 224.4L263.5 223L263.2 221L263.1 219L263.4 217L263.9 215.5L264.6 214.5L265.5 213.6L266.5 212.9L268 212.2L270 211.8ZM217.4 213L220 212.6L227.5 212.8L229.8 213.5L230.6 214L231.5 215L232.3 216.5L232.7 218L233 220.5L232.9 223.5L232.7 225.5L232.2 227L231.5 228.3L230.5 229.3L229 230.1L227 230.6L220 230.7L218.5 230.5L217 230.1L215.8 229.5L214.7 228.5L213.9 227L213.3 224.5L213.2 221L213.4 218L213.8 216.5L214.5 215L215.5 214ZM164.3 219L165 218.6L166 218.6L167 219.2L167.5 220L167.7 221.5L167.5 222.5L167 223.4L166 224L165 224L164.5 223.8L164 223.4L163.5 222.5L163.3 221.5L163.4 220.5L163.8 219.5ZM127.8 219.5L128.5 219.1L129 219.2L129.5 219.6L130.1 220.5L130.5 222.1L130.6 224L130.4 225.5L130 226.7L129.5 227.3L129 227.5L128 227.1L127.5 226.6L126.9 225.5L126.5 224L126.4 222.5L126.6 221.5L127 220.5ZM183.9 231.5L185.5 231.4L187.5 231.7L191 233L194.3 235L195.4 236L196.5 237.5L197 238.5L197.3 240L197.4 241.5L197.2 243L196.5 244.5L195.5 246L194 247.7L193 248.4L191.5 249L189.5 249.2L186.5 249L184 248.5L182 247.6L180.5 246.7L179.3 245.5L178.2 244L177.4 242L177.1 239.5L177.1 237.5L177.7 235.5L178.7 234L180 232.9L182 231.9ZM281 236.7L282.5 236.5L291 236.5L293 236.9L295 237.7L298.5 239.9L301.5 241.1L302.5 241.7L303.3 242.5L303.8 243.5L303.7 245L303.3 246L302.4 247L301.5 247.6L300 247.9L299 247.8L295.5 247L290.5 247.5L286.5 247.7L282.5 247.5L277.5 246.9L274.5 247.7L273 247.9L271.5 247.6L270.6 247L269.7 246L269.2 244.5L269.3 243.5L270 242.2L271.5 241.2L274.5 240L278 237.8ZM104.9 257L106.5 256.9L108 257.6L108.5 258.3L108.7 259L108.3 260L107.5 260.6L106 260.9L105 260.8L104 260.2L103.5 259.5L103.4 258.5L104 257.5ZM277 259.5L290 259.3L297.5 259.5L301 259.9L305.1 261L308.5 262.5L309.2 263L310 264L310.2 264.5L310.2 265.5L309.7 266.5L309 267.1L307.6 268L306 268.6L304 269L297 270.1L293.5 270.4L279.5 270.3L276 270.1L269 269L267 268.5L264.7 267.5L264 267L263.2 266L263 265L263.2 264L264.1 263L265.7 262L268.2 261L271.7 260ZM153.5 266L154.5 265.7L156 265.9L156.7 266.5L158.5 268.7L163.5 270.4L167.7 272.5L170.3 274.5L171.1 275.5L171.2 276.5L170.7 277L169.5 277.4L168 277.4L166.5 277.1L163 275.9L158.5 273.1L158 273.1L157 273.5L156 273.3L154.5 272L153 269.5L152.7 267.5L153 266.5ZM285 283.5L287 283.4L289 283.6L290.4 284L293 285.2L294 285.5L295 285.4L298.5 284.5L300.5 284.7L302 285.3L302.9 286L303.5 287L303.4 288.5L302.9 289.5L302 290.3L301 290.9L300 291.2L298 291.1L295 290L294 289.9L293 290.1L289 291.9L286.5 292.3L284 291.9L280.5 290.2L279.5 289.9L278.5 290L275 291.2L273 291.1L272 290.8L271 290.2L270.3 289.5L269.7 288.5L269.6 287.5L270 286.5L270.9 285.5L272.5 284.7L273.5 284.5L275 284.6L279 285.5L280 285.3L282.8 284ZM158 310L160.5 309.7L163.5 309.9L165.4 310.5L166.2 311L166.5 311.5L166.3 312L164.9 312.5L163 312.6L160.8 312.5L158.8 312L157.8 311.5L157.3 311L157.3 310.5ZM118.1 322.5L121 322.3L124.5 322.6L127 323.4L128.4 324.5L129.1 325.5L129.4 326.5L129.6 329.5L129.4 331L129.1 332L128 333.5L126.6 334.5L125 335.1L123 335.4L120.5 335.3L118.5 335L116.5 334.4L114.9 333.5L113.8 332.5L112.8 331L112.4 329.5L112.4 327.5L112.8 326L113.7 324.5L115 323.5L116.5 322.9Z"/>
<path fill="#bad9e9" d="M165 168L166.5 167.7L168 167.6L169 168L169.2 168.5L169.1 169L167.8 170.5L164.7 172.5L162 173.6L159 174.1L158.5 174.4L157 176.6L156 177.5L155 177.7L154.4 177.5L153.8 177L153.4 176L153.6 174.5L154.3 173L155.5 171.5L156.5 171L157 171.1L158 171.7L158.5 171.9L159 171.7L161.7 169.5ZM106 183.5L107.5 183.3L108.2 183.5L109 183.9L109.5 185L109.2 186L108.5 186.6L107.3 187L106 186.9L105.2 186.5L104.7 186L104.5 185L105.1 184ZM186.1 195L188.5 194.6L190.5 194.6L192 194.8L193.5 195.6L195 197.2L196.4 199.5L196.9 201L196.9 203L196.5 204.5L195.7 206L194.3 207.5L192.5 208.9L190 210.2L188 210.9L186 211.2L184 211.2L182.5 210.9L181 210.3L179.8 209.5L179 208.7L178.3 207.5L177.9 206.5L177.7 205L177.8 203.5L178.6 200.5L179.4 199L180.3 198L181.5 196.9L183 196ZM279 211.2L281.5 211.4L287.5 212.8L289.5 213.5L295.5 217L301.5 219.9L302.6 221L302.9 222L302.8 222.5L302.1 223.5L301.4 224L298.5 225.2L291.5 226.8L285.5 227.6L280.5 228.7L277.5 228.8L271 228.3L269 227.9L266.8 227L265.5 226L264.7 225L264.1 224L263.6 222.5L263.4 221L263.4 218.5L263.7 217L264.3 215.5L265 214.5L266 213.5L268.5 212.3L270.5 211.9ZM218.2 213L220.5 212.8L227.5 213L229.5 213.6L231.2 215L232 216.4L232.5 218L232.7 220L232.7 223L232.5 225L232.1 226.5L231.4 228L230.4 229L229 229.8L227 230.4L220 230.5L218.5 230.3L217 229.9L216 229.3L215 228.4L214 226.6L213.5 224.5L213.4 221L213.6 218L214.3 216L215.3 214.5L216.5 213.6ZM183.1 232L184.5 231.8L186.5 231.9L188.5 232.3L190 232.8L192 233.8L193.9 235L195 236L196.1 237.5L196.6 238.5L196.9 240L197 241.5L196.8 243L196.4 244L195.5 245.5L194.2 247L193 248L191.5 248.6L189.5 248.9L187.5 248.8L185 248.4L183 247.8L181.5 247L180 245.8L178.9 244.5L177.9 242.5L177.5 240.5L177.4 238.5L177.7 236.5L178.5 234.9L179.8 233.5L181.5 232.5ZM280 237L282.5 236.5L290.5 236.5L292 236.7L293.5 237.1L295.5 238.1L298.5 240L301.5 241.3L302.6 242L303.6 243.5L303.7 244.5L303.4 245.5L302.8 246.5L302 247.2L301 247.7L300 247.9L298.5 247.7L295.5 246.9L290.5 247.5L286.5 247.7L282.5 247.5L277.5 246.9L274.5 247.7L273 247.9L271.5 247.5L270.2 246.5L269.6 245.5L269.3 244L269.6 243L270.5 242L271.5 241.3L274.5 240.1L278 237.9ZM290 259.3L297.5 259.6L301 259.9L304.8 261L308 262.5L308.7 263L309.6 264L309.7 264.5L309.7 265.5L309.2 266.5L308.5 267.2L307 268L305.7 268.5L297.6 270L293.5 270.3L279.5 270.3L276 270.1L269.6 269L267.5 268.5L265.2 267.5L264.5 267L263.7 266L263.4 265L263.7 264L264.5 263L266.2 262L268.6 261L271.5 260.1L274 259.7ZM155 267L156 267.1L156.5 267.5L157.6 269.5L157.9 271L157.7 271.5L157 272.3L156.5 272.4L155.6 272L154.8 271L154.3 270L154 269L154 268L154.3 267.5ZM160.4 271.5L161 271.2L161.5 271.2L163 271.5L164.3 272L166.8 273.5L167.7 274.5L167.9 275L167.5 275.5L166.5 275.6L165.4 275.5L163.9 275L162.1 274L160.9 273L160.3 272ZM285.3 283.5L287.5 283.5L289.5 283.8L294 285.7L295 285.6L298 284.7L299.5 284.6L300.5 284.8L302.1 285.5L303 286.5L303.3 287.5L303.2 288.5L302.7 289.5L302 290.1L301 290.7L300 291L298 291L295 289.8L294 289.6L293 289.8L289 291.8L286.5 292.2L284 291.7L279.5 289.6L278.5 289.7L275 291L273 291L272 290.6L271 290L270 288.5L269.9 287.5L270.2 286.5L271.1 285.5L272.5 284.8L273.5 284.6L275 284.7L279 285.7L280 285.5L283.1 284ZM117.7 323L120.5 322.7L124 322.9L126 323.5L127.6 324.5L128.4 325.5L128.8 326.5L129.1 329L129 330.5L128.7 331.5L127.5 333.2L126.4 334L125 334.6L123 334.9L121 334.9L119 334.7L117 334.1L115.8 333.5L114.5 332.5L113.7 331.5L113.1 330L113 328L113.2 326.5L114 325.1L115 324.1L116.1 323.5Z"/>
<path fill="#b5d7e8" d="M156.6 172.5L157 173L157 174.5L156.5 175.5L156 175.9L155.5 175.9L155 175.4L155 174.2L155.5 173.1L156 172.6ZM187.7 195L189.5 194.8L191.5 195L193 195.7L194 196.5L195.5 198.5L196.4 200.5L196.5 202.5L196.1 204.5L195.3 206L193.9 207.5L192 208.9L190 209.9L188 210.6L186 210.9L184 210.9L182.5 210.5L181 209.9L180 209.1L179 208L178.5 207L178.2 206L178 204.5L178.5 201.5L179.8 199L180.7 198L181.9 197L184.5 195.7ZM279.5 211.4L282 211.6L287 212.9L289 213.5L290.9 214.5L295 217.1L300.8 220L301.8 221L302 221.5L302 222.5L301.2 223.5L300.4 224L297.8 225L291.5 226.6L286 227.4L280.5 228.6L277.5 228.7L271 228.1L268.5 227.5L266.5 226.5L265.5 225.6L264.7 224.5L264 223L263.7 221.5L263.6 219.5L263.8 217.5L264.3 216L264.9 215L266.5 213.5L269 212.4L270.5 212.1ZM219.8 213L226 213L228 213.3L230 214.2L230.8 215L231.5 215.9L232.1 217.5L232.5 219.5L232.4 224.5L232 226L231.4 227.5L230.6 228.5L229.5 229.3L228 229.9L226.5 230.2L219.5 230.3L218 230L216.5 229.3L215.4 228.5L214.7 227.5L213.9 225.5L213.6 223L213.7 219.5L214.1 217L214.8 215.5L216 214.2L217.5 213.4ZM182.6 232.5L184.5 232.1L186 232.1L188 232.4L189.5 232.9L191 233.5L193 234.7L194.5 235.9L195.4 237L196 238L196.5 239.5L196.6 241L196.5 242.5L196.2 243.5L195.5 245L194.3 246.5L193.1 247.5L191.5 248.3L190 248.5L188 248.6L185 248.1L183 247.5L181.5 246.7L180.1 245.5L179.3 244.5L178.5 243L177.9 241L177.7 239L178 237L178.6 235.5L179.5 234.3L181 233.2ZM280.2 237L282.5 236.6L290 236.6L292 236.7L293.5 237.2L295.5 238.1L298.5 240.1L301 241.2L302.4 242L303 242.7L303.4 243.5L303.5 244.5L303.3 245.5L302.7 246.5L302 247.1L301 247.6L300 247.8L298.5 247.7L295.5 246.9L290.5 247.5L286.5 247.7L282.3 247.5L277.5 246.9L274.5 247.7L273 247.8L271.5 247.4L270.3 246.5L269.7 245.5L269.5 244L269.8 243L270.5 242.2L272 241.2L274.5 240.2L278.5 237.7ZM277.5 259.5L290.5 259.3L297.5 259.6L301 260L304.5 261L307.6 262.5L308.3 263L309.1 264L309.3 264.5L309.3 265.5L308.8 266.5L308.2 267L307 267.8L305.2 268.5L297.5 270L293.5 270.3L279.5 270.3L276 270L270.1 269L267.5 268.3L265.5 267.4L264.1 266L263.8 265L264.1 264L265 263L266.5 262L269.5 260.8L272.1 260ZM285.8 283.5L288 283.6L289.9 284L293 285.6L294 286L295 285.8L298 284.8L299.5 284.7L300.5 284.9L301.8 285.5L302.8 286.5L303.1 287.5L303 288.5L302.5 289.4L301.9 290L301 290.6L300 290.9L298 290.8L294 289.2L293 289.5L290.5 291L289 291.7L286.5 292.1L284 291.6L279.5 289.3L278.5 289.4L275.5 290.7L274 290.9L273 290.8L271.3 290L270.8 289.5L270.2 288.5L270.1 287.5L270.4 286.5L271.4 285.5L272.5 285L273.5 284.8L275 284.8L279 286L280 285.7L283.3 284ZM117.7 323.5L120 323.2L123.5 323.3L125.5 323.8L127 324.7L127.7 325.5L128.2 326.5L128.5 328.5L128.2 331L127.4 332.5L126.1 333.5L125 334L122 334.4L120 334.3L118 333.9L116.5 333.3L115.3 332.5L114.4 331.5L113.7 330L113.6 328.5L113.8 327L114.1 326L115 324.9L116.3 324Z"/>
<path fill="#b0d4e6" d="M186.5 195.5L188.5 195.2L190.5 195.2L192 195.6L193.5 196.5L194.8 198L195.8 200L196.2 201.5L196 203.5L195.5 205L194.5 206.5L193 207.9L191.3 209L189.5 209.8L187.5 210.4L185.5 210.6L183.5 210.4L182.2 210L181 209.4L179.9 208.5L179.2 207.5L178.7 206.5L178.4 205L178.7 202.5L179.5 200L181.1 198L183.5 196.4ZM278 211.6L281 211.7L284 212.2L288.4 213.5L290.4 214.5L295 217.5L299.8 220L301 221.1L301.3 222L301.2 222.5L300.5 223.3L299.5 224L296.6 225L290.9 226.5L286 227.3L281 228.3L278 228.5L273 228.2L270.5 227.9L268.5 227.3L267 226.5L266 225.7L265 224.5L264.5 223.5L264 222L263.8 220L264 218L264.4 216.5L264.9 215.5L265.7 214.5L268 213L270 212.4ZM218.1 213.5L220.5 213.2L227 213.3L229.1 214L230 214.6L230.9 215.5L231.7 217L232.1 218.5L232.3 220.5L232.2 223.5L231.6 226.5L231 227.6L230 228.7L228.5 229.5L226.6 230L220.5 230.1L219 230L217.5 229.6L216.4 229L215.3 228L214.5 226.5L214 224.5L213.8 221L214 218.5L214.6 216.5L215.5 215.1L216.5 214.2ZM184.5 232.5L187.5 232.7L190.5 233.6L192.2 234.5L193.6 235.5L195.3 237.5L195.8 238.5L196.2 240L196.2 241.5L196 243L195.5 244.3L194.7 245.5L193.5 246.8L192.5 247.5L191 248L189 248.3L186.5 248.1L184.5 247.7L182.7 247L181.1 246L180 244.9L179.1 243.5L178.4 241.5L178.1 239.5L178.3 237.5L178.8 236L179.9 234.5L181 233.6L182.5 232.9ZM280.3 237L282.5 236.6L290 236.6L292 236.8L293.5 237.2L295.5 238.2L298.5 240.2L301 241.3L302.1 242L302.7 242.5L303.3 243.5L303.4 244.5L303.2 245.5L302.1 247L301 247.6L300 247.8L298.5 247.6L295.5 246.9L290.8 247.5L286.5 247.7L282.4 247.5L277.5 246.8L274.5 247.6L273 247.8L271.5 247.4L270.4 246.5L269.8 245.5L269.6 244.5L269.8 243.5L270.5 242.4L272 241.3L275 240.1L278.5 237.8ZM290 259.3L297.5 259.6L300.5 259.9L304.2 261L307.2 262.5L308.7 264L308.9 264.5L308.9 265.5L308.3 266.5L307.8 267L306.5 267.8L304.7 268.5L297.3 270L293.5 270.3L279.5 270.3L276 270L270.6 269L268 268.3L266 267.4L264.5 266L264.2 265L264.5 264L265.4 263L266.9 262L269.1 261L272 260.1L274.5 259.7ZM283.5 284L286.5 283.5L289 283.8L290.9 284.5L293 285.9L294 286.3L295 286.1L297.7 285L300 284.9L301 285.2L302.2 286L302.8 287L302.9 288L302.6 289L302 289.7L301 290.4L300 290.7L299 290.8L297.5 290.5L295 289.2L294 288.9L293 289.2L289.5 291.4L288 291.8L286.5 292L285 291.8L283.5 291.3L279.5 288.9L278.5 289L275.5 290.6L274 290.8L273 290.7L271.5 289.9L270.4 288.5L270.3 287.5L270.6 286.5L271.5 285.6L272.5 285.1L273.5 284.9L275 284.9L279 286.3L280 286L282.3 284.5ZM117.8 324L120 323.7L123 323.8L125 324.2L126.4 325L127.5 326.5L127.8 328L127.7 330.5L126.9 332L126 332.8L124.7 333.5L123 333.8L121.5 333.9L119.5 333.8L118 333.4L116.5 332.7L115.6 332L114.8 331L114.4 330L114.3 328.5L114.5 327L114.9 326L115.8 325Z"/>
<path fill="#a9d0e4" d="M185.7 196L188 195.6L190 195.5L191.5 195.8L192.9 196.5L194 197.5L195.3 199.5L195.7 201L195.8 202.5L195.5 204L194.9 205.5L194 206.6L192.5 207.9L190.7 209L189 209.7L187 210.1L185 210.2L182.5 209.7L180.5 208.5L179.7 207.5L179.2 206.5L178.9 205.5L178.8 204L179.5 201L180.6 199L181.6 198L183 197ZM278.5 211.7L281.5 211.9L284.5 212.5L288 213.6L289.9 214.5L294.5 217.6L299.5 220.4L300.4 221.5L300.3 222.5L299.5 223.3L298.5 223.9L295.4 225L290.5 226.4L281 228.2L277.5 228.3L273 228L270.5 227.7L268.4 227L267 226.2L266 225.4L265.3 224.5L264.5 223L264.2 221.5L264.1 219.5L264.2 218L264.7 216.5L265.2 215.5L266.1 214.5L267 213.8L268.5 213L270.5 212.5ZM219 213.5L221.5 213.3L227 213.5L228.5 214L229.5 214.5L230.9 216L231.6 217.5L231.9 219L232.1 221.5L232 224L231.7 225.5L231.1 227L230.3 228L229.5 228.7L228 229.5L226.5 229.8L220 229.9L218.5 229.6L217 229L216 228.3L215.3 227.5L214.5 225.8L214.1 223.5L214.1 220L214.5 217.5L215.1 216L216 214.9L217.4 214ZM183.6 233L186.5 232.9L188.5 233.2L190 233.7L193 235.4L194.2 236.5L194.9 237.5L195.4 238.5L195.8 240L195.8 241.5L195.6 243L194.5 245.2L193.5 246.3L192.6 247L191 247.7L189.5 247.9L187.5 247.9L185 247.5L183.5 247L182 246.3L180.5 245L179.7 244L179 242.5L178.6 240.5L178.5 238.5L178.8 237L179.5 235.6L180.5 234.5L182 233.5ZM280.5 237L282.5 236.6L290 236.6L292 236.8L293.5 237.3L295.5 238.3L298.5 240.3L302 242.1L303.1 243.5L303.3 244.5L303.1 245.5L302.5 246.5L302 247L301 247.5L300 247.7L298.5 247.6L295.5 246.8L290.7 247.5L286.5 247.7L282.5 247.5L277.5 246.8L274.5 247.6L273 247.7L271.5 247.3L270.5 246.5L269.9 245.5L269.7 244.5L269.9 243.5L270.5 242.5L271.5 241.7L275 240.2L278.5 237.8ZM290.5 259.4L297.5 259.6L300.8 260L303.9 261L306.9 262.5L308.3 264L308.6 265L308.5 265.5L307.9 266.5L307.4 267L306 267.8L304.2 268.5L297.2 270L293.5 270.3L279.5 270.3L276.5 270.1L270.9 269L268.5 268.3L266.5 267.4L265.5 266.7L264.9 266L264.7 265.5L264.7 264.5L265.2 263.5L266.4 262.5L268.2 261.5L270.7 260.5L272.5 260L275 259.6ZM283.7 284L286.5 283.6L289 283.9L290.7 284.5L294 286.8L294.5 286.7L297.5 285.2L299 284.9L300 285L301 285.4L302 286L302.6 287L302.7 288L302.3 289L302 289.5L301 290.2L300 290.6L299 290.7L297.5 290.3L294 288.4L293 288.8L290.8 290.5L289.5 291.2L288 291.7L286.5 291.9L285 291.7L283.5 291.1L279.5 288.4L279 288.4L278.5 288.6L276 290.2L274 290.7L273 290.5L272 290.1L271.2 289.5L270.6 288.5L270.5 287.5L270.8 286.5L271.5 285.8L272.5 285.2L274 284.9L275.5 285.1L279 286.8L279.5 286.7L281.7 285ZM118.2 324.5L120.5 324.2L123 324.3L124.5 324.7L125.9 325.5L126.9 327L127.1 329L126.9 330.5L126 331.9L125 332.7L124 333L121 333.3L119.5 333.2L118 332.8L117 332.3L116.1 331.5L115.4 330.5L115.1 329.5L115.1 328L115.3 327L116.3 325.5Z"/>
<path fill="#a2cde2" d="M187.3 196L189.5 195.8L191 196L192.5 196.7L193.5 197.5L194.6 199L195.2 200.5L195.4 202L195.1 204L194.4 205.5L193.2 207L191.9 208L190 209L188.5 209.5L186.5 209.8L184.5 209.8L183 209.5L181 208.4L180.2 207.5L179.6 206.5L179.2 204.5L179.7 201.5L180.7 199.5L182.5 197.7L184.5 196.7ZM276.5 212L279.5 211.9L282 212.1L285.7 213L288.4 214L298.7 220.5L299.5 221.5L299.4 222.5L298.5 223.3L297.2 224L292.7 225.5L289.5 226.4L280.5 228.1L277 228.2L272 227.7L269.5 227.2L267.5 226.2L266.5 225.5L265.6 224.5L265 223.4L264.5 222L264.4 220.5L264.4 218.5L264.8 217L265.2 216L266.5 214.5L267.5 213.8L269 213.1L271 212.6ZM218 214L221 213.5L226.5 213.7L227.9 214L229 214.5L230.5 215.9L231.3 217.5L231.7 219L231.8 223.5L231.5 225L231 226.5L230.4 227.5L229.5 228.4L228 229.2L226.5 229.6L220.5 229.7L219 229.5L217.5 229L216.5 228.4L215.6 227.5L214.8 226L214.4 224L214.2 221L214.5 218.5L215 216.8L215.8 215.5L217 214.5ZM183.2 233.5L186 233.2L189 233.6L192 235L193.3 236L194.2 237L195.2 239L195.4 240.5L195.4 242L195 243.5L194.5 244.5L193 246.2L191.5 247.1L190 247.5L188 247.6L186 247.4L184.5 247L183 246.5L181.5 245.5L180.5 244.5L179.6 243L179.1 241.5L178.9 239.5L179.1 237.5L179.8 236L180.6 235L182 234ZM280.7 237L283 236.6L290 236.6L291.5 236.8L293.5 237.3L295.5 238.4L298.5 240.5L301 241.6L302 242.2L302.7 243L303.1 244L303 245.5L302.4 246.5L301.9 247L301 247.5L300 247.7L298.5 247.5L296.5 246.9L295.5 246.8L290.6 247.5L286.5 247.7L282.6 247.5L277.5 246.8L276.5 246.9L274.5 247.5L273 247.7L271.5 247.2L270.6 246.5L270 245.5L269.9 244.5L270.1 243.5L270.7 242.5L272 241.6L275 240.3L278.5 237.9ZM290.5 259.4L297.5 259.6L300.6 260L303.7 261L306.5 262.5L308 264L308.2 264.5L308.1 265.5L307.5 266.5L307 267L305.5 267.9L303.8 268.5L297.5 269.9L293.5 270.3L279.5 270.3L276.5 270.1L269 268.4L266.5 267.2L265.3 266L265.1 265.5L265.1 264.5L265.6 263.5L266.7 262.5L268.5 261.5L270.8 260.5L272.6 260L275 259.7ZM283.9 284L285.5 283.7L287 283.6L288.5 283.8L290 284.3L291.3 285L292.9 286.5L293.5 287.5L293.4 288L291.3 290L289 291.3L286.5 291.8L284 291.2L282.6 290.5L281.3 289.5L279.8 288L279.6 287.5L280.2 286.5L281.3 285.5L282.7 284.5ZM272.2 285.5L274 285.1L275.5 285.3L277.1 286L278.4 287L278.7 287.5L278.1 288.5L276.1 290L274.5 290.5L273 290.4L271.5 289.5L271 288.9L270.7 288L270.8 287L271 286.5ZM297 285.5L298.5 285.1L299.5 285.1L300.5 285.3L301.5 285.8L302.2 286.5L302.5 287.5L302.4 288.5L302.1 289L301 290L299.5 290.5L298 290.3L296.3 289.5L295.1 288.5L294.7 288L294.6 287.5L295.4 286.5ZM118.9 325L120.5 324.8L123 325L124.5 325.5L125.2 326L126 327.1L126.3 329L126 330.5L125.3 331.5L124.5 332L123.5 332.4L121 332.7L118.5 332.2L117 331.3L116.3 330.5L116 329.6L116 327.5L116.5 326.5L117 325.9L117.6 325.5Z"/>
<path fill="#9dcae1" d="M186.4 196.5L188.5 196.2L190 196.2L191.5 196.6L192.5 197.1L193.5 198L194.5 199.7L194.9 201L194.9 203L194.5 204.5L194 205.5L193 206.7L191.5 207.9L190 208.7L188 209.3L186 209.5L184.5 209.4L183 209.1L182 208.6L180.5 207.2L179.8 205.5L179.6 204.5L179.7 203L180.5 200.5L182 198.5L184 197.2ZM273 212.5L277.5 212.1L280.5 212.1L283.1 212.5L286.6 213.5L289.7 215L294 218.1L297.1 220L298.2 221L298.6 222L298 222.9L297.2 223.5L293.4 225L289.5 226.2L282 227.7L279.5 228L276 228L272 227.6L269.5 226.9L268 226.2L266.9 225.5L266 224.5L265.3 223.5L264.7 221L264.8 218L265.6 216L266.4 215L267.5 214.1L269.9 213ZM218.8 214L221.5 213.7L226.5 213.9L228.5 214.5L229.5 215.2L230.3 216L231.1 217.5L231.4 219L231.5 223.5L231.3 225L230.7 226.5L230 227.6L229 228.4L227.5 229.1L226 229.5L220.2 229.5L218.5 229.1L217.5 228.7L216.4 228L215.6 227L214.9 225.5L214.5 223.5L214.5 220.5L214.8 218L215.4 216.5L216.2 215.5L217.5 214.5ZM183 234L185.5 233.5L188.5 233.8L191.4 235L193.5 236.7L194.4 238L194.7 239L195 241.5L194.8 243L194.4 244L193 245.7L191.9 246.5L190.5 247L189 247.2L187 247.1L185 246.8L183.5 246.3L182.1 245.5L181 244.5L180 243L179.5 241.5L179.3 239.5L179.4 238L180 236.5L180.7 235.5L181.9 234.5ZM280.9 237L283 236.7L290 236.7L291.5 236.8L293 237.2L295 238.1L298.5 240.6L301 241.7L302 242.4L302.6 243L303 244L302.9 245.5L302.3 246.5L301.7 247L301 247.4L300 247.6L298.5 247.5L296 246.8L290.5 247.5L286.5 247.7L282.7 247.5L277.5 246.7L276.5 246.8L274.5 247.5L273 247.6L272 247.4L270.7 246.5L270.1 245.5L270 244.5L270.2 243.5L270.9 242.5L272 241.7L275 240.4L278.5 238ZM290.5 259.4L297.5 259.6L300.5 260L303.5 261L306.2 262.5L307.6 264L307.8 264.5L307.8 265.5L307.1 266.5L306.6 267L305 267.9L303.4 268.5L297.5 269.9L293.5 270.3L279.5 270.3L276.2 270L271.6 269L269 268.2L266.6 267L265.7 266L265.4 265L265.6 264L266 263.5L267.1 262.5L268.7 261.5L271 260.5L272.8 260L275 259.7ZM284.1 284L287 283.7L288.5 283.9L290 284.4L291.1 285L292.2 286L292.9 287L292.8 288L292.1 289L291 290L289 291.2L286.5 291.7L284 291.1L282.9 290.5L281.6 289.5L280.7 288.5L280.2 287.5L280.6 286.5L281.5 285.5L282.9 284.5ZM272.5 285.5L274 285.2L276 285.6L276.8 286L277.8 287L277.9 288L277.2 289L275.5 290.1L274 290.4L272.5 290L271.3 289L271 288.5L270.9 287.5L271.2 286.5ZM297.4 285.5L299.5 285.2L300.5 285.4L301.5 286L302 286.5L302.3 287.5L302.2 288.5L301.9 289L301 289.9L299.5 290.3L298 290.2L296.6 289.5L295.5 288.5L295.2 287.5L295.8 286.5ZM118.6 326L120 325.6L121.5 325.6L123 325.9L124.2 326.5L125 327.5L125.2 328.5L125.2 329.5L124.8 330.5L123.5 331.5L122 331.8L119.5 331.7L118 331L117.5 330.5L117.1 329.5L117 328L117.5 326.9Z"/>
<path fill="#95c6df" d="M185.7 197L189 196.6L190.5 196.7L191.5 197L192.5 197.6L193.4 198.5L194 199.6L194.4 201L194.5 202.5L194.2 204L193.2 206L192.2 207L190.7 208L189 208.7L187.5 209L184.5 209L182.5 208.4L180.9 207L180.4 206L180.1 205L180.2 202.5L180.7 201L181.2 200L182 199L183 198.2L184.2 197.5ZM278 212.2L281 212.3L284.4 213L287.4 214L290 215.5L296.2 220L297.3 221L297.6 222L297 222.9L296.1 223.5L292.5 225L289.3 226L282 227.6L279 227.9L275.5 227.8L272 227.4L269.5 226.7L268.1 226L267 225.2L266 224.1L265.5 223.2L265.1 222L264.9 220.5L264.9 219L265.2 217.5L266.3 215.5L268.1 214L270.7 213ZM220 214L224.5 213.9L227 214.2L229 215.1L230.3 216.5L230.9 218L231.2 219.5L231.2 224L230.4 226.5L229.7 227.5L228.5 228.4L227.1 229L225.5 229.3L220 229.3L218.5 228.9L217.5 228.4L216.5 227.7L215.6 226.5L215 224.9L214.7 222.5L214.8 219.5L215.3 217.5L216 216.1L217 215.1L218.5 214.4ZM184.5 234L187 234L189.5 234.5L192 235.8L193.6 237.5L194.4 239.5L194.6 241L194.4 242.5L193.6 244.5L192 246L190.5 246.6L189 246.8L185.5 246.6L184 246.1L182.7 245.5L181.5 244.5L180.7 243.5L180.1 242L179.8 240.5L179.7 239L180 237.5L180.5 236.5L181.5 235.3L183 234.4ZM281 237L283 236.7L290 236.7L291.5 236.9L293 237.2L295 238.2L298.5 240.7L301 241.8L302 242.5L302.5 243.1L302.9 244L302.8 245.5L302.2 246.5L301.6 247L300 247.6L298.5 247.5L296 246.7L290.4 247.5L286.5 247.7L282.8 247.5L277.5 246.7L276.5 246.8L274.3 247.5L273 247.6L272 247.3L270.8 246.5L270.2 245.5L270.1 244.5L270.3 243.5L271.1 242.5L272 241.9L275 240.5L277.5 238.6L279 237.8ZM290.5 259.4L297.5 259.6L300.3 260L303.3 261L305.9 262.5L307.3 264L307.4 264.5L307.4 265.5L306.8 266.5L306.2 267L305 267.7L303.1 268.5L297.5 269.9L293.5 270.3L279.5 270.3L276.4 270L271.8 269L269.5 268.3L267.5 267.3L266 266L265.7 265L265.8 264.5L266.3 263.5L267.4 262.5L269 261.5L271.2 260.5L272.9 260L275.5 259.6ZM284.3 284L286 283.7L287.5 283.7L288.9 284L290.1 284.5L291.5 285.5L292.3 286.5L292.6 287.5L292.2 288.5L290.5 290.2L289.5 290.8L288 291.4L286.5 291.6L285.5 291.5L283.5 290.7L282.4 290L281.3 289L280.7 288L280.6 287.5L280.9 286.5L281.7 285.5L283.1 284.5ZM272.9 285.5L274.5 285.3L276.4 286L277.4 287L277.6 287.5L277.3 288.5L276 289.7L274.5 290.2L273 290.1L272 289.5L271.2 288.5L271 287.5L271.5 286.4L272 286ZM297.9 285.5L299 285.3L300 285.4L301 285.8L301.8 286.5L302 287L302.1 288L301.7 289L301.2 289.5L300 290.1L298.5 290.2L296.9 289.5L295.9 288.5L295.6 287.5L295.7 287L296.8 286ZM119.8 327L121.5 326.9L123 327.5L123.3 328L123.5 329L123.1 330L122.1 330.5L121 330.6L119.9 330.5L119.1 330L118.6 329L118.7 328L119 327.5Z"/>
<path fill="#90c4dd" d="M187.9 197L189.5 197L191 197.3L192 197.8L193 198.8L193.7 200L194 201.5L194 203L193.6 204.5L193.1 205.5L192.2 206.5L191 207.4L189.5 208.1L188 208.6L186 208.7L183.5 208.3L182.5 207.8L181.5 207L180.7 205.5L180.5 203.5L181 201.4L182 199.6L183.5 198.3L185.5 197.4ZM276 212.5L279 212.4L282 212.6L285 213.4L287.5 214.3L290 215.8L295.3 220L296.3 221L296.6 222L296.4 222.5L295.1 223.5L291.6 225L288.5 226L281.5 227.5L278 227.7L273.5 227.4L271 227L268.5 226L267.5 225.3L266.5 224.3L265.7 223L265.4 222L265.2 219L265.5 217.5L265.9 216.5L266.6 215.5L267.5 214.7L269.5 213.6L271.6 213ZM218.8 214.5L221.5 214.1L226 214.3L228.3 215L229 215.5L230 216.5L230.7 218L231 219.5L231 223.5L230.4 226L229.7 227L228.7 228L227.5 228.6L226 229L221 229.1L219.5 228.9L218.2 228.5L217 227.8L216.3 227L215.5 225.6L215.1 224L214.9 221.5L215.1 219L215.5 217.5L216.5 216L217.5 215.1ZM184.1 234.5L186.5 234.3L189.5 234.9L191.7 236L193.1 237.5L194 239.5L194.1 242L193.4 244L192 245.5L191 246L189.5 246.4L188 246.5L186 246.3L184.5 245.9L183 245.2L182.1 244.5L181.2 243.5L180.5 242L180.2 240.5L180.2 239L180.5 237.5L181 236.5L182 235.5L183 234.9ZM281.2 237L283.5 236.7L290 236.7L293 237.3L295 238.3L298.5 240.8L301 241.9L301.8 242.5L302.3 243L302.8 244L302.7 245.5L302.1 246.5L301.5 247L300.5 247.4L299.5 247.6L296 246.7L290.3 247.5L286.5 247.7L283 247.5L277.5 246.6L273.5 247.6L272 247.3L270.9 246.5L270.3 245.5L270.2 244.5L270.4 243.5L271.2 242.5L272.5 241.7L275 240.7L277.5 238.7L279 237.8ZM290.5 259.4L297.5 259.6L300 260L302.5 260.7L304.9 262L306.6 263.5L307.1 264.5L307.2 265L306.8 266L306.4 266.5L305.1 267.5L303.5 268.2L297.5 269.9L293.5 270.3L279.5 270.3L276.5 270L272.1 269L269.5 268.2L267.3 267L266.4 266L266.1 265L266.3 264L267 263L269.2 261.5L271.3 260.5L273.1 260L275.5 259.7ZM284.6 284L286 283.8L287.5 283.8L288.6 284L290 284.5L291.3 285.5L292.1 286.5L292.3 287.5L292 288.5L290.5 290.1L289.5 290.7L288 291.3L287 291.4L285.5 291.4L283.3 290.5L282 289.5L281.2 288.5L280.9 287.5L281 287L281.5 286L282.5 285ZM273.4 285.5L274.5 285.5L275.5 285.7L276.5 286.3L277.1 287L277.3 288L276.6 289L276 289.5L274.6 290L273.5 290L272.2 289.5L271.5 288.7L271.2 287.5L271.5 286.8L272.2 286ZM298.5 285.5L299.5 285.5L300.5 285.7L301.5 286.5L301.8 287L302 287.5L301.8 288.5L301.5 289L300.5 289.8L299.5 290L298 289.9L297 289.3L296.2 288.5L295.9 287.5L296.5 286.5L297.1 286Z"/>
<path fill="#87beda" d="M187.1 197.5L188.5 197.4L190 197.5L191 197.8L192.1 198.5L192.9 199.5L193.4 200.5L193.6 202L193.4 203.5L192.9 205L192.1 206L190.1 207.5L187.5 208.2L186 208.3L184.5 208.2L182.9 207.5L182 206.8L181.5 206L181.1 205L181 204L181.3 202L182 200.3L183.2 199L185 198ZM272.8 213L277 212.6L280 212.6L283 213L286.3 214L289.1 215.5L294 219.5L295.4 221L295.6 222L295.4 222.5L294.1 223.5L290.8 225L287.7 226L282.5 227.2L279.5 227.5L276 227.5L272.5 227.1L270 226.4L267.5 225L266.3 223.5L265.5 221.5L265.5 218.5L266.2 216.5L267.5 215L270 213.6ZM219.8 214.5L223.5 214.3L226.5 214.6L228.5 215.4L229.9 217L230.5 218.5L230.8 220L230.7 224L230.3 225.5L229.8 226.5L229 227.4L228.2 228L227 228.5L225.5 228.8L220.5 228.9L219 228.5L218 228.1L217 227.4L216.3 226.5L215.6 225L215.3 223.5L215.2 220.5L215.5 218.5L216.1 217L217 215.8L218.2 215ZM184 235L186 234.7L189 235.1L191 236L192.5 237.3L193.4 239L193.6 241.5L193.1 243.5L192 244.9L191 245.5L190 245.9L188.5 246.1L186.9 246L185.5 245.8L184 245.3L183 244.7L182 243.8L181.4 243L180.9 241.5L180.7 240L180.7 238.5L181 237.5L181.7 236.5L182.8 235.5ZM281.4 237L283.5 236.7L290 236.8L293 237.3L295.3 238.5L298.5 240.9L301.6 242.5L302.1 243L302.6 244L302.6 245.5L302 246.5L301.4 247L300.5 247.4L299.5 247.5L296.5 246.7L295.5 246.7L290.1 247.5L285 247.6L281.5 247.3L277.5 246.6L276.5 246.7L274.5 247.4L273.5 247.5L272 247.2L271 246.5L270.4 245.5L270.3 244.5L270.6 243.5L271.4 242.5L275 240.8L278.5 238.1L280 237.4ZM290.5 259.4L297.5 259.6L300 260L302.9 261L305.4 262.5L306.6 264L306.8 264.5L306.7 265.5L306.1 266.5L305.5 267L304 267.9L302.5 268.5L297.5 269.8L293.5 270.3L279.5 270.3L276.6 270L272.3 269L270 268.2L267.7 267L266.7 266L266.4 265L266.6 264L267.3 263L269.4 261.5L271.5 260.5L273.2 260L275.5 259.7ZM284.8 284L286.5 283.8L288 283.9L289.5 284.4L290.5 285L291.5 286L292 287L292 288L291.4 289L289.7 290.5L287.5 291.3L286 291.3L285 291.1L282.8 290L281.5 288.5L281.2 288L281.2 287L281.7 286L282.7 285ZM272.5 286L274 285.6L275.8 286L276.8 287L277 287.5L276.7 288.5L275.6 289.5L274.5 289.9L273.5 289.9L272.5 289.5L271.6 288.5L271.4 287.5L271.9 286.5ZM297.4 286L298.5 285.6L299.5 285.6L301 286.2L301.5 286.8L301.8 287.5L301.6 288.5L301.3 289L300.5 289.6L299 289.9L298 289.7L297 289.1L296.5 288.5L296.2 287.5L296.7 286.5Z"/>
<path fill="#7db8d7" d="M186.7 198L188.5 197.8L190 198L191 198.3L191.9 199L192.6 200L193 201L192.9 203.5L192.6 204.5L192 205.5L190.1 207L188 207.7L186.5 207.9L185 207.8L183.1 207L182.1 206L181.5 204.5L181.6 203L182.2 201L183.3 199.5L184.9 198.5ZM274.1 213L278 212.7L281 212.9L284 213.4L286.5 214.3L289.3 216L292.8 219L294.6 221L294.7 222L294.5 222.5L293.2 223.5L290.1 225L286.9 226L282.5 227L279.5 227.3L275.5 227.3L272.5 226.9L270 226.2L267.9 225L266.9 224L266.3 223L265.9 222L265.7 220.5L265.8 219L266 217.8L266.9 216L268.7 214.5L271 213.5ZM218.9 215L221.5 214.5L225.5 214.6L227.5 215.2L228.5 215.8L229.2 216.5L229.9 217.5L230.4 219L230.6 220.5L230.5 223L230 225.5L229.4 226.5L228.5 227.4L227 228.3L225.5 228.6L221 228.7L219.5 228.4L218.4 228L217.5 227.5L216.6 226.5L215.9 225L215.5 223.5L215.5 221L215.7 219L216.1 217.5L216.8 216.5L217.9 215.5ZM184 235.5L186 235.2L188.5 235.4L190.5 236.2L192 237.4L192.9 239L193.1 241.5L192.8 243L191.7 244.5L190.5 245.2L189.5 245.5L186.5 245.5L184 244.8L182.3 243.5L181.7 242.5L181.4 241.5L181.2 240L181.3 238.5L181.6 237.5L182.4 236.5ZM283.5 236.8L290 236.8L292 237.1L293.5 237.6L295.5 238.7L298.4 241L301.5 242.5L302 243L302.5 244L302.5 245.5L301.9 246.5L301.3 247L300.5 247.3L299.5 247.5L296.5 246.7L295.5 246.6L290 247.5L285 247.6L281.5 247.3L277.5 246.6L276.5 246.7L274.5 247.3L273.5 247.5L272 247.1L271.1 246.5L270.5 245.5L270.4 244.5L270.7 243.5L271.5 242.6L275 240.9L278.5 238.2L280.5 237.3ZM279.1 259.5L290.5 259.4L297.5 259.7L299.9 260L302 260.7L304.5 262L306.1 263.5L306.3 264L306.5 265L306.2 266L305.8 266.5L304.5 267.5L303 268.2L297.5 269.8L293.5 270.3L279.5 270.3L276.7 270L273 269.1L270 268.1L268 267L267 266L266.7 265L266.7 264.5L267.2 263.5L268.1 262.5L270 261.3L271.6 260.5L273.5 260ZM285.1 284L287 283.9L288.5 284.1L289.6 284.5L290.9 285.5L291.6 286.5L291.8 287.5L291.5 288.5L290.8 289.5L289 290.7L287.5 291.2L286.5 291.3L284.5 290.9L283.5 290.3L282.4 289.5L281.5 288L281.4 287.5L281.6 286.5L282.8 285L283.6 284.5ZM272.8 286L273.5 285.8L274.5 285.8L276 286.4L276.6 287L276.7 287.5L276.5 288.5L275.5 289.4L274.5 289.7L273.5 289.7L272.5 289.3L271.8 288.5L271.6 287.5L272.1 286.5ZM297.8 286L299.5 285.7L300.4 286L301.1 286.5L301.6 287.5L301.4 288.5L301 289L300 289.6L299 289.7L298 289.5L297.2 289L296.7 288.5L296.5 287.5L297 286.5Z"/>
<path fill="#77b4d5" d="M186.6 198.5L189 198.3L190 198.5L191 199L191.6 199.5L192.2 200.5L192.5 201.5L192.5 203L192.2 204L191.7 205L191 205.9L190.1 206.5L188 207.2L185.5 207.3L184 206.9L182.8 206L182.1 204.5L182.1 203L182.5 201.5L183.5 200L185 199ZM275.8 213L279 212.9L281.5 213.1L284 213.6L286.5 214.6L288.9 216L292.2 219L293.8 221L293.9 222L293.6 222.5L292.4 223.5L289.4 225L286.2 226L282 226.9L278.5 227.2L274.5 227L271.6 226.5L269.5 225.7L268.4 225L267.3 224L266.2 222L266 220.5L266 219L266.6 217L268 215.3L270 214.1L272 213.5ZM219.8 215L222.5 214.7L226 215L228 215.8L229.2 217L229.8 218L230.2 219.5L230.2 223.5L229.5 225.8L229 226.6L228 227.5L226.9 228L225.5 228.4L221 228.4L218.5 227.8L217.4 227L216.6 226L216 224.5L215.8 223L215.7 220.5L216.1 218.5L216.8 217L217.5 216.2L218.5 215.5ZM184.1 236L186 235.6L188.5 235.9L190.1 236.5L191.4 237.5L192.3 239L192.6 241L192.3 242.5L191.4 244L190.5 244.6L189.5 245L187.5 245.1L185 244.7L184 244.2L183 243.5L182.3 242.5L181.9 241.5L181.7 239L182 238L182.5 237.2L183.2 236.5ZM281.8 237L284 236.8L290 236.8L292 237.1L293.5 237.6L295.5 238.8L298.3 241L301.5 242.7L302.4 244L302.4 245.5L301.8 246.5L301.1 247L299.5 247.4L296.5 246.6L295.5 246.6L289.9 247.5L285 247.6L281.5 247.3L277.5 246.5L276.5 246.6L274.5 247.3L273.5 247.4L272 247.1L271.2 246.5L270.6 245.5L270.5 244.5L270.8 243.5L271.5 242.7L272.5 242.1L275 241L278.5 238.3L280.5 237.3ZM279.3 259.5L290.5 259.4L297.5 259.7L299.8 260L302 260.7L304.3 262L305.8 263.5L306.2 264.5L306.3 265L305.9 266L304.9 267L302.5 268.3L297.5 269.8L293.5 270.3L279.5 270.2L276.8 270L273.5 269.2L270.5 268.2L268.3 267L267.3 266L267 265L267.1 264L267.4 263.5L268.3 262.5L270.6 261L272 260.4L274 259.9ZM285.4 284L287.5 284L289 284.3L290.2 285L291.2 286L291.6 287L291.5 288L291 289L290 290L288 291L286 291.1L284 290.5L282.2 289L281.6 287.5L281.7 286.5L282 286L283.5 284.7ZM273.2 286L274 285.9L274.9 286L276 286.7L276.5 287.5L276.4 288L275.7 289L275 289.4L274 289.6L273 289.4L272.4 289L272 288.5L271.8 287.5L272.4 286.5ZM298.3 286L299 285.9L300 286L301 286.7L301.4 287.5L301.4 288L300.8 289L300 289.4L299 289.6L298 289.3L297 288.5L296.7 287.5L296.9 287L297.3 286.5Z"/>
<path fill="#6eaed1" d="M186.9 199L188.5 198.9L189.5 199L191 199.8L191.5 200.5L191.8 201.5L191.7 203.5L191 205L189.5 206.2L187.5 206.8L185.5 206.7L184.5 206.5L183.3 205.5L182.8 204.5L182.8 203L183.2 201.5L184 200.4L185.3 199.5ZM272.9 213.5L276.5 213.1L280 213.1L283 213.6L285.8 214.5L288.4 216L291.2 218.5L292.9 220.5L293.2 221.5L293.1 222L292.4 223L289.9 224.5L287.3 225.5L282.5 226.7L279.5 227L276 227L273 226.6L270.5 225.9L268.5 224.8L267.7 224L267 223L266.3 221L266.4 218.5L267.3 216.5L268.5 215.2L270.5 214.1ZM221.7 215L225 215.1L226.8 215.5L228.4 216.5L229.5 218L229.9 219.5L230 221L230 223L229.7 224.5L229.3 225.5L228.6 226.5L227 227.7L225.5 228.1L224 228.3L221.5 228.2L220 228L219 227.7L217.9 227L217 226L216.5 225.1L216.1 223.5L216 221L216.2 219L216.8 217.5L217.6 216.5L218.5 215.8L220 215.2ZM184.5 236.5L186 236.2L188.5 236.4L190 237L191 237.9L191.7 239L192 241L191.7 242.5L191 243.5L189.5 244.4L187.5 244.6L185 244.1L183.4 243L182.5 241.3L182.4 239L183.1 237.5ZM282 237L284 236.8L290 236.8L292 237.2L293.5 237.7L295.5 238.9L298.1 241L300.5 242.1L301.5 242.8L302.3 244L302.3 245.5L301.7 246.5L301 247L299.5 247.4L296.5 246.6L295.5 246.5L289.8 247.5L285 247.6L281.5 247.3L277 246.5L273.5 247.4L272.5 247.2L271.3 246.5L270.7 245.5L270.6 244.5L270.9 243.5L271.5 242.8L272.5 242.2L275 241.1L277.5 239L279 238L280.5 237.4ZM279.5 259.5L290.5 259.4L297.5 259.7L299.6 260L302 260.8L304.1 262L305.6 263.5L305.8 264L306 265L305.9 265.5L305.2 266.5L303.9 267.5L302.5 268.2L297.5 269.8L293.5 270.2L279.5 270.2L277 270L274 269.3L271 268.4L269 267.3L267.6 266L267.2 265L267.2 264.5L267.7 263.5L269.2 262L270.8 261L272.5 260.3L274 259.9ZM285.8 284L287.5 284L289.2 284.5L290.6 285.5L291.3 286.5L291.4 288L290.8 289L289.8 290L288.5 290.7L286.5 291.1L284.5 290.6L282.8 289.5L281.8 288L281.8 287L282.6 285.5L284 284.5ZM272.6 286.5L274 286L275.5 286.5L276 287L276.2 287.5L275.9 288.5L275.4 289L274.5 289.4L273 289.2L272.3 288.5L272 288L272.2 287ZM297.7 286.5L299 286L300.5 286.4L301 287L301.2 287.5L301 288.5L300.5 289L299.5 289.4L298.5 289.3L297.8 289L297.3 288.5L297 287.5L297.2 287Z"/>
<path fill="#65a8ce" d="M185.8 200L187.5 199.6L188.5 199.5L189.5 199.8L190.5 200.5L191 201.5L191 203.5L190.5 204.6L189.5 205.5L188 206.1L186 206.1L185 205.9L183.9 205L183.5 203.5L183.8 202L184.5 200.9ZM274.2 213.5L278 213.3L281 213.4L283.5 213.9L286 214.8L288.5 216.4L290.7 218.5L292.2 220.5L292.5 221.5L292.4 222L291.6 223L289.2 224.5L286.5 225.5L282 226.6L279 226.8L275 226.7L272.5 226.3L270.1 225.5L268 224L267 222.5L266.6 220.5L266.9 218L267.6 216.5L269.3 215L271.5 214ZM220 215.5L223 215.2L225.9 215.5L227.5 216.2L228.8 217.5L229.3 218.5L229.7 220L229.6 223.5L229 225.5L228.2 226.5L227.5 227.1L226.5 227.6L225 227.9L221.5 228L219 227.4L218 226.7L217.4 226L216.6 224.5L216.3 223L216.3 220.5L216.5 219L217.2 217.5L218 216.5L219 215.9ZM185.1 237L186.5 236.8L188.4 237L189.6 237.5L190.5 238.3L191.1 239.5L191.2 241L190.8 242.5L190 243.4L188.5 243.9L186.5 243.9L185 243.4L183.9 242.5L183.2 241L183.1 239L183.5 238.2L184 237.6ZM284 236.8L290 236.9L292 237.2L293.5 237.7L295.6 239L298 241.1L300.5 242.2L301.5 242.9L302.2 244L302.2 245.5L301.6 246.5L301 246.9L299.5 247.3L296 246.5L289.7 247.5L285 247.6L281.5 247.3L277 246.4L273.5 247.3L272.5 247.1L271.4 246.5L270.8 245.5L270.7 244.5L271 243.6L271.5 243L272.5 242.3L275 241.2L277.6 239L279 238.1L281 237.2ZM279.7 259.5L290.5 259.4L297.5 259.7L299.5 260L302 260.8L303.9 262L305.3 263.5L305.7 265L305.4 266L304.4 267L302 268.4L297.5 269.7L293.5 270.2L280 270.2L277.1 270L274 269.3L271 268.3L268.8 267L267.8 266L267.5 265L267.6 264L267.9 263.5L269.3 262L270.9 261L272.5 260.3L274.5 259.9ZM284.2 284.5L285.5 284.1L287 284L288.5 284.3L289.9 285L290.8 286L291.3 287L291.2 288L290.7 289L289.5 290.1L287.5 290.9L285.5 290.8L283.6 290L282.2 288.5L281.9 287L282.7 285.5ZM273 286.5L274 286.2L275.2 286.5L275.7 287L275.9 287.5L275.6 288.5L274.5 289.2L273.5 289.1L273 288.9L272.5 288.5L272.3 287.5L272.4 287ZM298 286.5L299 286.2L300.2 286.5L300.8 287L301 287.5L300.7 288.5L300.1 289L299.5 289.2L298.5 289.1L298 288.9L297.5 288.4L297.3 287.5L297.5 287Z"/>
<path fill="#5ba2cb" d="M187.5 200.5L188.6 200.5L189.6 201L190.1 202L190 203.5L189.4 204.5L188.5 205L187 205.3L185.5 205L184.9 204.5L184.7 204L184.6 203L185 202L185.9 201ZM276 213.5L279.5 213.5L282 213.8L284.5 214.4L286.5 215.3L288.8 217L290.7 219L291.6 220.5L291.8 221.5L291.7 222L291.4 222.5L290.3 223.5L288.5 224.5L285.9 225.5L282 226.4L279 226.6L275 226.5L272.1 226L270 225.2L268.4 224L267.6 223L267.2 222L266.9 219.5L267.4 217.5L268.5 215.9L270.5 214.6L272.5 214ZM222.2 215.5L225 215.6L227 216.2L228.5 217.5L229.2 219L229.4 222L229.1 224.5L228 226.3L227 227L226 227.4L223 227.7L220 227.4L219 227L218 226.3L216.9 224.5L216.6 223L216.6 221L216.7 219.5L217.2 218L218 217L219 216.2L220.5 215.7ZM282.4 237L290 236.9L292 237.2L293.5 237.8L295.5 239L298 241.2L300.5 242.3L301.4 243L302.1 244L302.1 245.5L301.5 246.5L301 246.9L299.5 247.2L296 246.4L289.6 247.5L285.5 247.6L281.5 247.3L277 246.4L273.5 247.2L272.5 247.1L271.5 246.5L270.9 245.5L270.8 244.5L271.2 243.5L271.6 243L272.5 242.4L275 241.3L277.5 239.1L279 238.1L281 237.3ZM185 238L186 237.7L187.5 237.6L188.5 237.9L189.5 238.5L190.2 239.5L190.3 240.5L190.2 241.5L189.6 242.5L188.8 243L187.5 243.2L186 242.9L185 242.4L184.3 241.5L184 240L184.2 239ZM279.8 259.5L290.5 259.4L297.5 259.7L299.4 260L301.5 260.7L303.7 262L305.1 263.5L305.5 265L305.4 265.5L304.7 266.5L303.5 267.5L302 268.3L297.5 269.7L293.5 270.2L280 270.2L277.2 270L274 269.3L271 268.2L269 267L268.1 266L267.7 265L268.1 263.5L269.5 262L271 261L272.5 260.4L274.5 259.9ZM284.4 284.5L285.5 284.2L287 284.1L288.5 284.4L289.7 285L290.7 286L291.1 287L291 288L290.5 289L289 290.3L287.5 290.8L285.5 290.8L283.8 290L282.4 288.5L282.1 287L282.9 285.5ZM273.4 286.5L274.5 286.5L275.4 287L275.6 287.5L275.6 288L275.3 288.5L274.5 289L274 289L273.5 288.9L272.8 288.5L272.5 288L272.5 287.5L272.7 287ZM298.5 286.5L299.5 286.4L300.5 287L300.7 288L300.4 288.5L299.5 289L299 289L297.9 288.5L297.6 288L297.6 287.5L297.8 287Z"/>
<path fill="#529cc8" d="M273.3 214L276.5 213.7L280 213.7L283 214.2L285.3 215L287.8 216.5L289.8 218.5L291 220.5L291.2 221.5L291.1 222L290.8 222.5L289.7 223.5L287.9 224.5L285.1 225.5L282.5 226.1L279.5 226.4L276 226.4L273 226L271 225.4L269 224.2L267.7 222.5L267.2 220.5L267.3 218.5L268 217L269.4 215.5L271.4 214.5ZM220.4 216L223 215.8L225.5 216L227 216.6L228.4 218L229 220L229 223.5L228.2 225.5L227 226.6L225 227.3L221.5 227.4L219.5 226.9L218.5 226.3L217.8 225.5L217.3 224.5L217 223L216.9 220.5L217.2 219L217.6 218L218.4 217L219.5 216.3ZM282.6 237L290 236.9L292 237.3L293.5 237.8L295.4 239L298 241.3L300.5 242.4L301.3 243L302 244L302.1 244.5L302 245.5L301.4 246.5L300 247.2L298.5 247.1L296 246.4L291.5 247.3L287.5 247.6L284.5 247.5L281.5 247.2L277 246.3L274.5 247.1L273.5 247.2L272.5 247L271.5 246.3L271 245.5L270.9 244.5L271.3 243.5L271.7 243L272.5 242.5L275 241.4L277.5 239.2L279 238.2L281 237.3ZM186.8 239L187.5 239L188.5 239.6L188.7 240.5L188.7 241L188.3 241.5L187 241.6L186.5 241.5L185.9 241L185.6 240L185.8 239.5ZM280 259.5L290.5 259.4L297.5 259.7L299.3 260L301.5 260.7L303.6 262L304.9 263.5L305.3 265L304.9 266L304 267L301.5 268.4L297.5 269.7L293.5 270.2L280 270.2L277.3 270L274.5 269.4L271.5 268.3L269.2 267L268.3 266L267.9 265L268.3 263.5L269.7 262L271.2 261L272.5 260.4L274.5 259.9ZM284.6 284.5L286 284.2L287 284.2L288.5 284.5L289.6 285L290.5 286L290.9 287L290.9 288L290.3 289L289 290.1L287 290.8L285 290.5L283.5 289.7L282.5 288.5L282.3 287L283.1 285.5ZM273 287L274 286.6L274.5 286.7L275 287L275.3 287.5L275.3 288L274.5 288.7L273.5 288.7L272.8 288L272.8 287.5ZM298.2 287L299 286.6L300 286.9L300.4 287.5L300.4 288L300 288.5L299.5 288.7L298.5 288.6L297.9 288L297.9 287.5Z"/>
<path fill="#4c98c6" d="M274.6 214L278 213.8L281 214L283.4 214.5L285.5 215.3L287.5 216.6L289.3 218.5L290.5 220.5L290.6 221.5L290.5 222L289.7 223L289.1 223.5L287.3 224.5L284.5 225.5L282 226L279 226.3L275.5 226.2L273 225.8L270.7 225L269 223.8L268.3 223L267.8 222L267.5 220L267.8 218L268.7 216.5L270 215.4L272 214.5ZM219.9 216.5L222 216.1L225 216.2L227 217L228 218L228.7 220L228.7 223L228.1 225L227 226.2L225 227L222 227.1L220 226.7L219 226.2L218.3 225.5L217.7 224.5L217.4 223.5L217.2 222L217.3 220L218 218L219 217ZM282.9 237L289.5 236.9L291.5 237.2L293 237.7L295.3 239L298 241.4L301.2 243L301.9 244L302 245L301.9 245.5L301.3 246.5L300 247.1L298.5 247L296 246.3L291.5 247.3L287.5 247.6L284.5 247.5L281.5 247.2L277 246.3L274.5 247L273 247.1L272 246.7L271.3 246L271.1 245.5L271 244.5L271.4 243.5L272 242.9L275 241.5L277.2 239.5L279 238.2L281 237.4ZM280.2 259.5L290.5 259.4L297.5 259.7L299.2 260L301.5 260.8L303.4 262L304.7 263.5L305 265L304.7 266L303.8 267L301.5 268.3L297.5 269.7L293.5 270.2L280 270.2L277.4 270L274.5 269.3L271.5 268.2L269.4 267L268.5 266L268.1 265L268.5 263.5L269.8 262L271.3 261L273 260.3L274.5 259.9ZM284.8 284.5L286 284.2L287.5 284.3L288.5 284.5L289.5 285.1L290.4 286L290.8 287L290.7 288L290.2 289L289 290L287 290.7L285 290.4L283.5 289.5L282.7 288.5L282.4 287L283.2 285.5ZM273.6 287L274.5 287L275 287.5L274.9 288L274 288.5L273.5 288.3L273.2 288L273.1 287.5ZM298.7 287L299.6 287L300.1 287.5L300 288.1L299.5 288.4L299 288.5L298.5 288.2L298.3 287.5Z"/>
<path fill="#4393c3" d="M277.5 214L280 214.1L282.5 214.5L284.5 215.1L286.5 216.2L288 217.5L289.5 219.5L290.1 221L289.9 222L289.6 222.5L288.5 223.5L286 224.8L283.5 225.5L280.5 226L277 226.1L274 225.8L271.5 225.1L269.6 224L268.4 222.5L267.9 221L268 218.5L268.7 217L270 215.8L272 214.8L274.5 214.2ZM221.3 216.5L224 216.4L225.5 216.7L227 217.5L228 218.9L228.4 221L228.3 223.5L227.5 225.2L226 226.4L224 226.8L221 226.7L219.3 226L218.5 225.2L218.1 224.5L217.7 223.5L217.6 222L217.6 220.5L218 219L219 217.5L220 216.9ZM283.1 237L289.5 237L291.5 237.2L293 237.7L295.3 239L298 241.5L301 243L301.8 244L301.9 244.5L301.8 245.5L301.2 246.5L300 247L298.7 247L296 246.3L291.5 247.3L287.5 247.6L284.5 247.5L281.5 247.2L277 246.2L274.5 247L273.5 247.1L272.5 246.9L271.4 246L271.2 245.5L271.1 244.5L271.5 243.5L272 243L275 241.7L277.3 239.5L279 238.3L281 237.4ZM280.4 259.5L290.5 259.4L297.5 259.7L299.1 260L301.5 260.8L303.3 262L304.5 263.5L304.9 265L304.1 266.5L302.9 267.5L301.5 268.3L297.5 269.6L293.5 270.2L280 270.2L277.6 270L275.2 269.5L272.2 268.5L270.3 267.5L268.7 266L268.3 265L268.7 263.5L269.9 262L271.4 261L273 260.3L275 259.8ZM285 284.5L286 284.3L287.5 284.3L289 284.9L289.9 285.5L290.5 286.5L290.7 287.5L290.4 288.5L289.5 289.5L288 290.4L286.5 290.6L284.5 290.1L283.2 289L282.6 288L282.7 286.5L283.5 285.4Z"/>
<path fill="#3f8dc0" d="M273.9 214.5L276.5 214.2L280 214.3L282.5 214.7L284.7 215.5L287 217L288.4 218.5L289.4 220.5L289.5 221.5L289.3 222L288.5 223L286.5 224.3L284.5 225L281.5 225.7L279 225.9L275.5 225.8L273 225.3L271 224.6L269.5 223.5L268.5 222L268.2 220.5L268.3 218.5L269.1 217L270.1 216L272 215ZM220.8 217L222.5 216.8L225 216.9L226.3 217.5L227.3 218.5L227.9 220L228 222.7L227.5 224.4L226.5 225.6L225.5 226.1L224.5 226.4L221.5 226.4L220.5 226.1L219.5 225.6L218.5 224.5L218 222.5L218 220.6L218.2 219.5L219.1 218L219.7 217.5ZM283.5 237L290 237L291.5 237.2L293 237.7L295.2 239L298 241.6L301 243.1L301.7 244L301.8 244.5L301.8 245.5L301 246.5L300 247L299 247L296 246.2L291.5 247.2L287.5 247.6L284.5 247.5L281.5 247.2L277 246.2L273.5 247L272.5 246.8L271.5 246L271.3 245.5L271.2 244.5L271.5 243.7L272.2 243L275 241.8L277.5 239.4L279.5 238.1L281.5 237.3ZM280.6 259.5L290.5 259.4L297.5 259.8L299 260L301 260.7L303.1 262L304.4 263.5L304.7 265L304.3 266L303.4 267L301 268.4L297 269.7L293.5 270.2L280 270.2L277.7 270L275 269.4L272 268.3L269.8 267L268.9 266L268.5 265L268.8 263.5L270.1 262L271.5 261L273 260.3L275 259.9ZM285.3 284.5L286.5 284.3L288 284.5L289.1 285L290 285.9L290.4 286.5L290.5 287.5L290.2 288.5L289.4 289.5L288 290.3L286 290.5L284.5 290L283.3 289L282.8 288L282.8 286.5L283.5 285.5L284 285.1Z"/>
<path fill="#3b88bd" d="M275.4 214.5L278.5 214.4L281 214.6L283 215.1L285.2 216L287.1 217.5L288.3 219L288.9 220.5L289 221.5L288.8 222L288 223L286.5 224L284 224.9L281.4 225.5L278.5 225.7L275 225.5L272.6 225L271 224.3L269.5 223L268.7 221.5L268.5 219.5L268.9 218L270 216.5L271.5 215.5L273 214.9ZM220.6 217.5L222 217.2L224.5 217.3L226 217.8L227 218.8L227.6 220.5L227.5 223L226.9 224.5L226 225.4L224.3 226L221.7 226L220.1 225.5L219.1 224.5L218.6 223.5L218.4 222.5L218.5 220L219.2 218.5ZM283.9 237L290 237L291.5 237.3L293 237.8L295.5 239.3L298 241.7L301 243.2L301.7 244.5L301.7 245.5L301 246.4L300 246.9L299 246.9L296 246.2L291.5 247.2L287.5 247.6L284.2 247.5L281.5 247.2L277 246.1L273.5 247L272.5 246.7L271.6 246L271.4 245.5L271.3 244.5L271.8 243.5L272.4 243L275 241.9L277.5 239.5L279.5 238.1L281.5 237.3ZM280.8 259.5L290.5 259.4L297.5 259.8L298.9 260L301 260.7L303 262L304.2 263.5L304.5 265L304.1 266L303.2 267L301 268.4L297 269.7L293.5 270.2L280 270.2L277.8 270L275 269.4L272 268.3L270 267L269.1 266L268.7 265L269 263.5L270.2 262L271.6 261L273 260.4L275 259.9ZM285.6 284.5L287 284.4L288 284.6L289 285.1L290 286L290.4 287L290.3 288L289.7 289L288.5 289.9L287 290.4L285.5 290.3L284 289.5L283.1 288.5L282.8 287L283.2 286L284.3 285Z"/>
<path fill="#3783ba" d="M273.7 215L276.5 214.6L280 214.7L282.5 215.2L284.5 215.9L286.5 217.3L287.9 219L288.4 220.5L288.4 221.5L288.2 222L287.4 223L285.8 224L284 224.7L281.5 225.3L279 225.5L276 225.4L274 225.1L272 224.5L270.5 223.6L269.5 222.5L268.9 221L268.9 219L269.5 217.5L270.4 216.5L272 215.5ZM220.7 218L222.5 217.6L224.5 217.7L225.5 218.1L226.5 219L227.1 220.5L227.1 222.5L226.6 224L225.7 225L224.5 225.5L222 225.6L220.5 225.1L219.5 224.2L219 223L218.9 220.5L219.5 219ZM284.4 237L290.5 237.1L293.5 238.1L295.7 239.5L298 241.8L300 242.7L301 243.4L301.6 244.5L301.5 245.6L300.8 246.5L299.5 246.9L296 246.1L291.5 247.2L287 247.6L284.3 247.5L281.5 247.2L277 246L273.5 246.9L272.5 246.7L271.7 246L271.4 245.5L271.4 244.5L271.9 243.5L272.5 243L275 242L277.6 239.5L279.5 238.2L282 237.2ZM280.9 259.5L290.5 259.4L297.5 259.8L298.8 260L301 260.7L302.9 262L304.1 263.5L304.3 265L303.6 266.5L302.4 267.5L301 268.3L297 269.7L293.5 270.2L280 270.2L277.9 270L275.5 269.5L272.6 268.5L270.8 267.5L269.3 266L268.9 265L269.1 263.5L270.3 262L271.7 261L273 260.4L275 259.9ZM286 284.5L287.5 284.6L288.5 284.9L289.4 285.5L290.1 286.5L290.3 287.5L289.9 288.5L289 289.5L288 290.1L286.5 290.3L285 290L283.6 289L283 288L283 287L283.5 285.8L284.5 285Z"/>
<path fill="#337db8" d="M274.9 215L278 214.8L280.5 215L282.8 215.5L284.5 216.2L286.2 217.5L287.4 219L287.9 220.5L287.9 221.5L287.7 222L286.8 223L285.2 224L283 224.7L281 225.1L278.5 225.3L275.5 225.1L273.5 224.8L271.6 224L270.3 223L269.5 221.7L269.2 220L269.4 218.5L270.3 217L271.5 216.1L273 215.4ZM221 218.5L222 218.2L224 218.2L225 218.5L226 219.3L226.5 220.5L226.5 222.5L226.2 223.5L225.5 224.4L224.1 225L222.5 225.1L221 224.7L220.1 224L219.5 222.5L219.5 220.5L220 219.3ZM281.2 237.5L283 237.1L288 237L290.5 237.1L292.5 237.7L295 239L298 241.9L300 242.8L301 243.5L301.5 244.5L301.5 245.5L300.7 246.5L299.5 246.8L296 246.1L291.5 247.2L287 247.6L284.5 247.5L281.5 247.2L277 246L273.5 246.8L272.5 246.6L271.8 246L271.5 245.5L271.5 244.5L272 243.5L273 242.8L275 242.1L278.2 239L279.5 238.2ZM281.1 259.5L290.5 259.4L298.7 260L301 260.8L302.8 262L303.9 263.5L304.2 265L303.4 266.5L302.3 267.5L301 268.2L297 269.7L293.5 270.2L280 270.2L278 270L275.6 269.5L272.8 268.5L270.9 267.5L269.4 266L269 265L269.3 263.5L270.4 262L271.8 261L273.5 260.3L275.5 259.8ZM284.7 285L286 284.6L287 284.6L288.5 285L289.3 285.5L289.7 286L290.1 287L290 288L289.4 289L288.5 289.7L287 290.2L285.5 290.1L284 289.2L283.2 288L283.1 287L283.5 286Z"/>
<path fill="#2f78b5" d="M273.6 215.5L276 215.1L279 215.1L281.5 215.4L283.5 216L285.8 217.5L286.9 219L287.5 220.5L287.4 221.5L287.2 222L286.3 223L285 223.8L283 224.5L281 224.9L279 225L276 225L274 224.6L272.2 224L270.8 223L270 222L269.6 220.5L269.7 219L270 218L270.8 217L272 216.1ZM221.8 219L224 218.9L225 219.4L225.5 220L225.8 221L225.7 222.5L225.3 223.5L224.7 224L223.5 224.3L222 224.3L221 223.8L220.5 223.2L220.2 222L220.3 220.5L220.9 219.5ZM281.3 237.5L283 237.1L288 237L290.5 237.2L292.5 237.7L295 239.1L298 242L300 242.9L300.9 243.5L301.4 244.5L301.4 245.5L300.5 246.5L299.5 246.8L296 246L291.5 247.2L287 247.6L284.6 247.5L281.5 247.2L277 245.9L276 246.1L274.5 246.6L273.5 246.8L272.5 246.5L271.9 246L271.6 245.5L271.6 244.5L272.2 243.5L273 242.9L275 242.2L278.3 239L279.5 238.2ZM281.3 259.5L290.5 259.5L298.6 260L301 260.8L302.7 262L303.8 263.5L304 265L303.6 266L302.8 267L300.5 268.4L297 269.6L293.5 270.1L280 270.1L278.1 270L275.7 269.5L272.9 268.5L271.1 267.5L269.6 266L269.2 265L269.4 263.5L270.6 262L271.9 261L273.5 260.3L275.5 259.8ZM284.8 285L286 284.7L287 284.6L288.4 285L289.1 285.5L289.6 286L290 287L289.9 288L289.3 289L288 289.8L286.5 290.1L285 289.8L284 289.1L283.3 288L283.2 287L283.6 286Z"/>
<path fill="#2b73b2" d="M274.7 215.5L277 215.3L280 215.4L282 215.8L283.8 216.5L285.3 217.5L286.5 219L287 220.5L286.9 221.5L286.6 222L285.7 223L284.5 223.7L282.5 224.4L280.5 224.7L278 224.8L275.5 224.7L273.5 224.2L272 223.6L270.8 222.5L270.2 221.5L269.9 220L270.2 218.5L270.8 217.5L271.9 216.5L273 216ZM221.8 220.5L222.5 220.1L223.5 220.1L224 220.3L224.5 221L224.4 222.5L224 222.9L223.5 223.1L222 222.9L221.6 222.5L221.4 222L221.5 221ZM283 237.2L288.5 237.1L290.5 237.2L292.5 237.7L295 239.1L298 242.1L300 243L300.7 243.5L301.3 244.5L301.3 245.5L300.5 246.4L299.5 246.7L296 246L291.5 247.2L287 247.5L284.8 247.5L281.5 247.1L277 245.9L276 246L274.5 246.6L273.5 246.7L272.7 246.5L272 246L271.7 245.5L271.7 244.5L272.3 243.5L273 243L275 242.3L278.4 239L280 238ZM281.5 259.5L290.5 259.5L298.5 260L300.5 260.6L302.6 262L303.7 263.5L303.9 265L303.5 266L302.6 267L300.5 268.4L297 269.6L293.5 270.1L280 270.1L278.2 270L275.8 269.5L273 268.5L271.2 267.5L269.7 266L269.3 265L269.5 263.5L270.7 262L272 261L273.5 260.3L275.5 259.9ZM285 285L286 284.7L287 284.7L288.1 285L289 285.5L289.5 286.1L289.9 287L289.8 288L289.1 289L288 289.7L286.5 290L285 289.6L284.1 289L283.4 288L283.3 287L283.8 286Z"/>
<path fill="#276db0" d="M273.8 216L276 215.6L279 215.5L281 215.8L283 216.4L284.5 217.3L285.7 218.5L286.4 220L286.3 221.5L285.7 222.5L284.5 223.3L282.9 224L281 224.4L276.5 224.5L274.5 224.2L273 223.7L271.7 223L270.8 222L270.4 221L270.4 219.5L270.6 218.5L271.2 217.5L272.5 216.5ZM283 237.2L288.5 237.1L290.5 237.2L292.5 237.8L295 239.2L298 242.2L300.6 243.5L301.2 244.5L301.2 245.5L300.5 246.3L299.5 246.6L296 245.9L291.5 247.2L287 247.5L281.5 247.1L277 245.8L276 245.9L274 246.6L273 246.5L272.1 246L271.8 245.5L271.8 244.5L272.5 243.5L275 242.4L278.5 239L280 238.1ZM281.7 259.5L291 259.5L298.4 260L300.5 260.7L302.5 262L303.5 263.5L303.7 265L303 266.5L301.9 267.5L300.5 268.3L297 269.6L293.5 270.1L278.3 270L275.8 269.5L273.1 268.5L271.3 267.5L269.9 266L269.5 265L269.7 263.5L270.8 262L272.1 261L273.5 260.4L275.5 259.9ZM285.3 285L286.5 284.8L287.5 284.9L288.5 285.3L289.3 286L289.6 286.5L289.7 287.5L289.4 288.5L289 289L288 289.6L286.5 289.9L285.5 289.7L284.2 289L283.6 288L283.5 287L284 285.9Z"/>
<path fill="#2368ad" d="M274.9 216L277 215.8L279.5 215.8L281.5 216.2L283 216.8L284.5 217.8L285.5 219L285.9 220.5L285.8 221.5L285.1 222.5L284.4 223L283 223.6L281 224.2L279 224.3L276.5 224.3L274.5 224L273 223.4L271.7 222.5L271 221.5L270.8 220.5L270.9 219L271.3 218L272.3 217L273.5 216.4ZM281.7 237.5L283.5 237.2L289 237.2L290.5 237.3L292.5 237.8L294 238.6L295.3 239.5L298 242.4L300.5 243.5L301.1 244.5L301.1 245.5L300.5 246.2L299.5 246.6L298.5 246.5L297 245.9L296 245.9L291.5 247.1L287 247.5L281.5 247.1L277 245.7L276 245.8L274 246.6L273 246.5L272.3 246L271.8 245L272 244.2L272.5 243.6L275.5 242.2L277.4 240L278.5 239L280 238.1ZM281.9 259.5L291 259.5L298.3 260L300.5 260.7L302.4 262L303.4 263.5L303.6 265L302.8 266.5L301.7 267.5L300.5 268.2L297 269.6L293.5 270.1L280 270.1L276.5 269.6L274.4 269L272.2 268L270.8 267L269.7 265.5L269.6 264L270 263L270.9 262L272.5 260.8L274 260.2L275.5 259.9ZM285.6 285L286.5 284.9L287.5 285L288.5 285.4L289.2 286L289.5 286.5L289.6 287.5L289.2 288.5L288.5 289.2L287.5 289.7L286 289.8L285 289.4L284 288.5L283.6 287.5L283.7 286.5L284.5 285.5Z"/>
<path fill="#1f62a7" d="M274.1 216.5L276 216.1L278.5 216L280.5 216.2L282.5 216.9L284 217.8L285 219L285.4 220.5L285.2 221.5L284.5 222.4L283.7 223L282.5 223.5L280.5 224L276.5 224L275 223.8L273.5 223.3L272.3 222.5L271.5 221.5L271.2 220.5L271.2 219.5L271.5 218.5L272 217.8L273 217ZM281.8 237.5L283.5 237.2L289 237.2L290.5 237.3L292.5 237.8L294 238.6L295.2 239.5L298 242.5L300.5 243.7L301 244.5L301 245.5L300.5 246.1L299.5 246.5L298.5 246.4L297 245.8L296 245.8L291.5 247.1L287 247.5L281.5 247.1L277 245.7L276 245.7L274 246.5L273 246.4L272.4 246L271.9 245L272 244.5L272.5 243.7L275.5 242.3L277.4 240L279 238.7ZM282.1 259.5L291 259.5L298.2 260L300.5 260.8L302.3 262L303.3 263.5L303.5 265L302.7 266.5L301.6 267.5L300.5 268.2L297.2 269.5L293.5 270.1L278.6 270L276 269.5L273.3 268.5L271.6 267.5L270.1 266L269.7 265L269.9 263.5L271 262L272.3 261L274 260.3L275.5 259.9L280 259.8ZM285.9 285L287 285L288 285.2L289 286L289.3 286.5L289.5 287L289.4 288L288.6 289L288 289.4L287 289.7L285.5 289.5L284.5 288.9L283.8 288L283.7 287L284.2 286L285 285.3Z"/>
<path fill="#1c5c9e" d="M275.4 216.5L277.5 216.3L279.5 216.4L281 216.7L282.5 217.2L283.6 218L284.4 219L284.8 220.5L284.6 221.5L284 222.3L283 222.9L280.5 223.7L276.5 223.7L275 223.5L273.5 222.9L272.5 222.1L272 221.5L271.7 220.5L271.8 219L272.4 218L273 217.4L274 216.9ZM281.9 237.5L284 237.2L289.5 237.2L291 237.4L292.5 237.9L294 238.6L295.2 239.5L298 242.6L300 243.4L300.5 243.8L300.9 244.5L300.9 245.5L300.5 246L299.5 246.4L298.5 246.3L296.5 245.7L291.5 247.1L287 247.5L281.5 247.1L277 245.6L276 245.6L274 246.4L273 246.3L272.5 246L272 245L272.1 244.5L272.5 243.9L273 243.5L275.5 242.5L277.5 240L279 238.8L280.5 238ZM282.3 259.5L290.9 259.5L292.5 259.7L298.1 260L300.5 260.8L302.2 262L303.2 263.5L303.4 265L303 266L302.1 267L300 268.4L297 269.5L293.5 270.1L278.7 270L276.1 269.5L273.4 268.5L271.7 267.5L270.2 266L269.8 264.5L270 263.5L271 262L272.4 261L274 260.3L275.5 259.9L280.5 259.7ZM284.9 285.5L286.5 285L287.5 285.1L288.5 285.7L289 286.2L289.3 287L289.2 288L288.9 288.5L288 289.3L287 289.6L286 289.6L284.8 289L284 288L283.9 287L284.3 286Z"/>
<path fill="#185695" d="M274.8 217L276.5 216.7L279 216.7L280.5 216.9L282 217.4L283 218L283.8 219L284.3 220.5L284 221.5L283.5 222.1L282.5 222.7L280 223.4L276.5 223.4L274 222.7L273 222L272.6 221.5L272.2 220.5L272.2 219.5L272.5 218.7L273 218ZM282 237.5L284 237.3L290 237.3L292.5 237.9L294 238.7L295.1 239.5L298 242.7L299.9 243.5L300.5 244L300.8 244.5L300.8 245.5L300.4 246L299.5 246.3L298.5 246.2L296.5 245.6L291.5 247.1L287 247.5L281.5 247.1L277 245.5L276 245.6L274 246.3L273 246.2L272.5 245.8L272.1 245L272.5 244L273.2 243.5L275.5 242.6L277.6 240L279 238.8L280.5 238ZM282.5 259.5L290.7 259.5L292.5 259.8L298 260L300.5 260.9L302.1 262L303.1 263.5L303.2 265L302.8 266L302 267L300 268.3L297 269.5L293.5 270.1L278.8 270L276.2 269.5L273.5 268.5L271.8 267.5L270.4 266L269.9 264.5L270.1 263.5L271.1 262L272.4 261L274 260.3L275.5 259.9L280.5 259.8ZM285.1 285.5L286 285.2L287 285.1L288 285.4L288.5 285.8L289.2 287L289.1 288L288.8 288.5L288 289.2L287 289.5L286 289.5L284.9 289L284.1 288L284 287L284.5 286Z"/>
<path fill="#144d8a" d="M276.9 217L280 217.1L282.2 218L282.8 218.5L283.4 219.5L283.6 220.5L283.3 221.5L282 222.5L280.5 223L279 223.1L276 223L274.5 222.5L273.7 222L273.2 221.5L272.8 220.5L272.8 219.5L273.2 218.5L274.6 217.5ZM282.1 237.5L284 237.3L290 237.3L292.5 238L294 238.7L295 239.5L298 242.8L299.7 243.5L300.4 244L300.7 244.5L300.7 245.5L300.2 246L299.5 246.3L298.5 246.2L296.5 245.5L291.5 247.1L286.5 247.5L281.3 247L276.5 245.4L274 246.2L273 246.1L272.5 245.7L272.2 245L272.7 244L273.5 243.5L275.5 242.7L277.6 240L279 238.9L280.6 238ZM282.7 259.5L290.5 259.5L292.5 259.8L298 260L300.5 260.9L302 262L303 263.5L303.1 265L302.4 266.5L301.3 267.5L300 268.3L296.9 269.5L293.5 270.1L280 270.1L276.5 269.6L274.8 269L272.7 268L271.3 267L270.2 265.5L270.1 264L270.5 263L271.8 261.5L273 260.7L275.5 260L280.5 259.8ZM286 285.3L287 285.2L287.9 285.5L288.5 285.9L289.1 287L289 287.8L288.6 288.5L288 289L287 289.4L286 289.3L285 288.9L284.3 288L284.1 287L284.6 286Z"/>
<path fill="#114781" d="M276.2 217.5L279 217.4L281.2 218L282 218.5L282.7 219.5L282.9 220.5L282.8 221L281.9 222L280.7 222.5L279.5 222.7L276.5 222.6L274.6 222L273.6 221L273.5 219.5L274 218.5L274.5 218.1ZM282.2 237.5L284 237.3L290 237.3L292.5 238L294 238.8L295 239.5L296 240.6L297.5 242.6L300.2 244L300.6 244.5L300.5 245.5L300 246L299 246.2L296.5 245.5L291.5 247.1L286.5 247.4L281.3 247L276.5 245.3L274 246.1L273 246L272.5 245.5L272.5 244.5L272.8 244L273.5 243.6L275.5 242.9L277.2 240.5L278.2 239.5L280 238.3ZM282.9 259.5L290.3 259.5L292.5 259.8L297.5 259.9L299.5 260.5L301.3 261.5L302.3 262.5L303 264L302.9 265.5L301.8 267L299.5 268.5L296.5 269.6L293.5 270.1L280 270.1L276.5 269.5L274 268.6L272.5 267.8L270.9 266.5L270.3 265.5L270.2 264L270.5 263L271.3 262L273 260.8L275.5 260L281 259.8ZM285.6 285.5L287 285.3L288.4 286L288.9 287L288.8 288L288.5 288.5L287.5 289.1L286.5 289.3L285.5 289.1L284.7 288.5L284.4 288L284.3 287L284.8 286Z"/>
<path fill="#0d4078" d="M276.3 218L279 217.9L281 218.5L281.9 219.5L282 220.5L281.9 221L281 221.8L279.5 222.2L277 222.2L275.5 221.8L274.5 221L274.3 220.5L274.3 219.5L275.1 218.5ZM282.4 237.5L284 237.3L290 237.4L292.4 238L294 238.8L294.9 239.5L296 240.6L297.5 242.7L300.1 244L300.5 244.7L300.4 245.5L299.8 246L299 246.1L296.5 245.4L291.5 247.1L286.5 247.4L281.4 247L281 246.7L279.7 246.5L276.5 245.2L276 245.2L274 246.1L273.3 246L272.6 245.5L272.5 244.9L273 244L275.5 243.1L277.3 240.5L278.3 239.5L280 238.3ZM283.1 259.5L290.1 259.5L292 259.8L297.5 259.9L299.5 260.5L301.3 261.5L302.3 262.5L302.9 264L302.8 265.5L301.7 267L299.4 268.5L296.5 269.6L293.5 270.1L279.1 270L278.5 269.7L276.4 269.5L273.8 268.5L272.1 267.5L270.7 266L270.3 265L270.4 263.5L271.4 262L273 260.8L275.5 260L281 259.8ZM285.9 285.5L287.5 285.6L288.2 286L288.6 286.5L288.8 287L288.7 288L288.3 288.5L287.6 289L286 289.1L285 288.6L284.5 288L284.4 287L284.6 286.5L285 286Z"/>
<path fill="#0a3a6f" d="M277.9 218.5L279 218.6L280.2 219L280.7 219.5L280.9 220L280.9 220.5L280.6 221L279.7 221.5L278.5 221.7L276.9 221.5L275.8 221L275.5 220.5L275.5 219.5L275.9 219L276.5 218.8ZM282.5 237.5L290 237.4L292.3 238L294 238.9L294.8 239.5L296.2 241L297.5 242.9L300 244.1L300.4 245L300.2 245.5L299.5 246L299 246L297 245.3L296.5 245.3L291.5 247L286.5 247.3L281.5 247L281 246.7L279.8 246.5L279.5 246.3L276.5 245.1L276 245.1L274 246L273.5 245.9L272.8 245.5L272.6 245L273 244.2L273.5 243.8L275.5 243.2L277.4 240.5L278.3 239.5L280 238.4ZM283.3 259.5L289.9 259.5L291.5 259.8L297.7 260L298 260.2L299.4 260.5L300.4 261L301.7 262L302.7 263.5L302.8 265L302.1 266.5L300 268.1L296.7 269.5L294.5 269.7L293.5 270L279.3 270L278.5 269.7L276.5 269.5L273.9 268.5L272.2 267.5L270.8 266L270.3 264.5L270.7 263L271.5 262L273 260.9L274 260.4L275 260.3L275.5 260L281.5 259.8ZM285.2 286L286.5 285.5L288 286L288.7 287L288.5 288L288 288.6L287.2 289L286.5 289.1L285.5 288.8L285 288.4L284.5 287.5L284.7 286.5Z"/>
<path fill="#053061" d="M282.6 237.5L290 237.4L292.3 238L294 238.9L294.7 239.5L296.2 241L297.5 243L298 243.4L299.5 243.9L300 244.3L300.3 245L300.1 245.5L299.5 245.8L299 245.9L297.5 245.3L296.5 245.2L293.3 246.5L292 246.7L291.5 247L286.5 247.2L281.6 247L281 246.6L279.8 246.5L279.5 246.2L276.5 245L276 244.9L274 245.8L273.5 245.8L273 245.5L272.8 245L273 244.4L273.5 244L275.5 243.4L277.4 240.5L278.4 239.5L280 238.4ZM283.6 259.5L289.6 259.5L291.5 259.9L297.7 260L298 260.3L299.3 260.5L300.3 261L301.7 262L302.6 263.5L302.7 265L302 266.4L300 268.1L298 269L297 269.2L296.6 269.5L294.5 269.7L293.5 270L279.4 270L278.5 269.6L276.7 269.5L274 268.5L272.3 267.5L270.9 266L270.4 264.5L270.8 263L271.6 262L273 260.9L274 260.4L275 260.3L275.6 260L282 259.9ZM285.4 286L286.5 285.6L287.8 286L288.5 287L288.3 288L287.9 288.5L287 288.9L286 288.9L285.5 288.6L284.9 288L284.7 287.5L284.9 286.5Z"/>
<path fill="#f7f3f0" d="M95.6 127L136.7 127L137.7 138.5L137.7 141L137.3 142.5L136.7 143.5L135.5 144.3L131.5 145.3L120.5 146.6L117.5 146.7L115.5 146.3L114 145.6L113 144.7L111.5 142.8L108.5 138.4L107.3 137L106 136L103.5 135L97.5 134.2L96.5 133.8L95.5 133.1L94.7 132L94.5 130.5L94.6 129ZM191 140.5L193 140.9L194.8 142L195.9 143.5L196.6 146L196.6 148.5L195.7 151L194.4 152.5L192.7 153.5L190.5 154.1L178.5 155.8L170.5 157.6L165 159.4L158.5 162.1L156 162.6L152.3 164.5L148.7 167L146.4 169.5L145 172L141.9 179.5L140.8 181.5L139.5 183.3L138 184.8L136 186.3L134 187.4L132 188.1L129.5 188.8L127.5 189L125.5 188.8L124.5 188.3L123.8 187.5L123 186.1L120.7 181L119.5 178.8L118.5 177.4L117 176.3L115.5 175.8L114 175.7L103.5 175.9L100.5 175.7L98.5 175.4L97 174.9L95.6 174L94.7 173L93.8 171L93.2 168.5L93 165.5L93.2 162.5L93.6 160L94.3 158L95.3 156.5L96.5 155.5L98 154.9L101.5 154.1L106.5 153.5L109 153.5L111 154.1L112.5 155.2L114 157L118.5 164.6L120 166.5L121 167.2L122 167.6L123.5 167.7L125 167.5L129.5 166.3L133.5 164.8L136 163.3L137.9 161.5L139.1 159.5L139.9 157L141 148L142 146.5L143.5 145.6L146 144.9L150.6 144L164.5 141.9L170.5 141.4ZM182.2 174.5L185.5 174.3L188.5 174.4L191 175L192.8 176L194.2 177.5L195.2 180L195.3 182.5L194.8 184.5L193.7 186L191.7 187.5L188.9 189L181.5 192.4L179.5 193.5L177.5 195L176.5 195.9L175.7 197L174 201.5L173.5 202.3L173 202.6L172 202.7L160 201.9L159 202L158.5 202.2L158 202.7L157.3 205L156.9 209L156.9 233.5L157.4 238L157.9 239.5L158.5 240.4L159.5 240.8L160.5 240.9L171.5 241.4L173 241.7L173.5 242.2L174 243.2L175.5 247.3L176.4 248.5L177.5 249.5L181.5 252L190.2 256L191.8 257L193.3 258.5L194.1 260L194.4 262L194.2 264L193.3 266L192 267.3L190.5 268.2L188.5 268.8L185.5 269.1L182 269L178.5 268.5L175 267.6L171.5 266.5L168 265L164.5 263.1L161.2 261L158.5 258.8L153.6 253L148.8 246L144 240.7L141.8 237.5L140.4 234.5L139.4 231L138.6 226.5L138.3 222L138.3 217.5L138.8 213L139.8 209L141.2 206L142.5 204L144 202.4L149.2 198.5L151 196.8L157.5 187.5L158.8 186L160.9 184L163.5 182L166.5 180.1L169.5 178.4L172.5 177.1L176 175.9L179 175.1ZM248.4 191.5L250.5 191.7L252.5 192.1L254 192.8L255.5 194L256.6 195.5L257 197L257 199L256.5 200.1L255.5 200.8L253.5 201.1L246 201L244 200.8L242.5 200.4L241.5 199.9L240.3 199L239.7 198L239.5 196.5L239.9 195L240.7 194L242 193L244 192.1L246 191.7ZM116.3 193L120 192.9L121 193.2L122 194L122.8 195.5L123.3 197.5L123.4 200L123.3 203L122.8 205.5L122 208L121 210.5L119.7 213L117.5 216.3L115.5 218.9L114 220.3L113 220.8L112 220.4L105.8 215.5L98.5 211L96.7 209.5L95.7 208L95.1 206.5L94.9 204.5L95 202.5L95.4 200.5L96.4 198.5L97.4 197.5L99.1 196.5L101.5 195.7L105.5 194.8ZM199.9 194L200.5 194.5L200.3 195L200 195.1L199.6 195L199.4 194.5ZM272.1 200.5L280.5 200.7L287 200.6L301 201.3L305 202.3L308 203.5L309 204.2L309.8 205L310.1 206L310 206.5L309.4 207.5L308.8 208L307.1 209L302.5 211L300 211.4L298 211.2L294.5 209.9L293 209.6L291.5 209.7L288 210.6L286 210.5L284.4 210L281.5 208.6L280 208.3L278.5 208.6L275 210L273 210.2L271 209.7L267.5 208.1L266 207.9L260.5 207.9L259.5 207.6L259 207.1L258.5 205.5L258.4 204L258.6 203L259.5 202.1L261 201.6L263 201.3ZM219.6 202.5L222 202.1L224.5 202.2L227 202.5L230 203.3L231.8 204L233 205L233.5 206L233.4 207L233.1 207.5L232.3 208L225.5 210.4L223.5 210.7L221 210.4L217 208.8L215 208.3L213 208.2L212 208.6L211.4 209.5L210.9 211L210.5 215L210.4 229L210.5 231.5L210.9 233.5L211.5 234.7L212 235L213 235.2L216 234.7L222 232.8L224 232.8L226 233.2L231.7 235L232.9 235.5L233.4 236L233.6 237L233.3 238L232.4 239L231.5 239.6L227.5 240.9L223.5 241.5L220.5 241.2L215.8 240L213.5 239L211.5 237.5L210.5 237L206 236.7L203 235.8L194.5 231.5L187.5 226.9L185.5 226.1L179.6 224.5L177.8 223.5L177.1 222.5L176.9 221.5L177 220.5L177.5 219.6L178.2 219L180.3 218L185.5 216.7L187.5 216L189 215.1L194.5 211.3L202.5 207.1L204.5 206.3L206 205.9L211 205.7L215 203.7ZM255.5 208.7L257.5 208.6L258.5 208.9L259 209.8L259.6 213L260.1 222.5L261 228.2L261.5 230L262.3 231.5L263 232.3L264 232.8L265.5 232.9L267 232.7L271 230.7L273 230.3L275 230.4L278 231.4L279.5 231.5L280.5 231.2L284 229.4L286.5 228.8L289 229L293.5 230.2L294.5 230.1L298 229.3L299.5 229.2L301.5 229.4L306 230.3L309.5 230.3L311.6 230L312.7 229.5L313.5 228.3L314.5 221L315 219.1L315.5 218L316 217.4L317 216.5L319 215.9L321 215.9L323 216.3L324.5 217L326 218.2L327 219.6L327.7 221.5L327.9 223.5L327.7 225L327.2 226.5L326.6 227.5L324.5 229.4L322.5 230.6L318 232.5L314.5 234.5L311 235.8L305.5 236.7L301 237.9L298.5 237.7L295 236.2L293.5 235.7L292 235.7L286.5 236.3L280.5 235.6L279 235.8L275 237.8L274 238.1L272.5 238.2L270.5 237.8L267 236.3L262 234.7L255 234.4L249 233L247 233.1L243.5 233.9L241.5 234.2L239 234L237.5 233.3L236.8 232.5L236.5 231.5L236.2 226.5L236.2 214.5L236.5 211.7L237 210.4L238 209.6L240 209.1L242.5 209.1L246.5 210.3L248.5 210.5L250.5 210.2ZM413.1 211.5L415 211.2L417 211.1L419.5 211.2L421 211.5L422.5 212.1L423.5 212.7L424.5 213.7L425.3 215L426 217L426.3 219.5L426.3 223.5L426 226L425.5 227.5L424.7 229L423.5 230.3L422 231.1L420.5 231.6L418.5 231.9L415.5 231.9L413.5 231.6L412 231.1L410.5 230.1L409.6 229L409 228L408.5 226L408.3 223.5L408.3 218.5L408.6 216L409.2 214.5L410.4 213L411.5 212.2ZM458.1 211.5L462.5 211.3L465.5 211.9L467 212.7L468 213.5L468.8 214.5L469.6 216L470.1 218L470.3 220L470.2 223.5L469.9 226L469.4 227.5L468.5 229L467 230.3L465.5 231.1L464 231.5L462 231.7L459 231.6L457 231.3L455.5 230.6L454 229.5L453.2 228.5L452.5 227L452 224.5L451.8 221.5L452 218.5L452.5 216L453.2 214.5L454.5 213L456 212.1ZM365.8 212.5L367.5 212.3L369.5 212.3L371.5 212.5L373.5 213.1L375 213.8L376.5 214.9L377.5 215.9L378.2 217L379 219L379.3 221L379.2 223L378.8 225L378.2 226.5L377.1 228L376 228.9L374.5 229.9L372.5 230.6L370 231.1L367.5 231.1L365 230.7L362.5 229.8L361 228.8L359.7 227.5L358.7 226L358.1 224L357.9 221.5L358.2 219L358.9 217L360 215.5L361.5 214.2L363.5 213.2ZM112.2 223.5L113 223.2L113.5 223.4L115.5 225.3L118 228.7L120.4 233L121.7 236L122.5 238.5L123.2 241.5L124.1 247.5L124.9 249.5L125.8 250.5L127 251.3L132.5 253.7L134.5 254.7L136.5 256.1L138 257.6L139.5 259.5L140.6 261.5L143.5 269L144.6 271.5L145.9 273.5L147.8 275.5L151 278L155.5 280.7L158.5 281.7L167.5 285.7L175.5 288.2L188.8 291L192 292.1L193.3 293L194.2 294L194.7 295L195.1 296.5L195.2 298L194.9 299.5L194.4 300.5L193.7 301.5L192 302.7L189.5 303.4L186.5 303.7L181.5 303.5L168.5 302.6L158 301.5L149 300.2L143.5 298.9L141.5 297.9L140.4 296.5L139.9 295L139.1 289.5L138.4 286.5L137.2 283.5L135.9 281.5L134 279.7L131.5 278.1L128 276.6L124.5 275.7L123 275.5L121.5 275.6L120.5 276L119.5 276.6L118 278.3L114.5 283.9L113 286L111.5 287.4L110 288.3L108.5 288.6L107 288.7L102.5 288.2L98 287.3L96.5 286.7L95.6 286L94.7 285L93.8 283L93.3 281L93.1 278.5L93.2 276L93.6 273.5L94.1 272L95.1 270.5L96 269.7L97 269.1L99.5 268.4L103.5 268L112 267.6L114.9 267L116 266.4L117.3 265L118.3 263L119 261L119.5 258.5L119.6 256.5L119.3 255L118.2 253.5L117 252.7L115.1 252L103.7 249L99.4 247.5L97.7 246.5L96.6 245.5L95.8 244L95.2 242L95 239.5L95.2 237.5L95.7 236L96.6 234.5L98.3 233L106.3 228ZM251 243L253 243.3L259 245.3L267 246.6L270.5 248.1L272.5 248.5L274 248.4L277 247.5L278.5 247.4L286.5 247.8L295 247.4L296.5 247.6L299 248.4L300.5 248.5L302 248.3L305.5 246.9L307 246.5L313 246.2L317.5 246.4L320 246.8L323.5 247.7L326 248.6L328 249.6L329.5 250.7L330.6 252L331.1 253L331.2 254.5L330.9 255.5L330.3 256.5L329.2 257.5L328 258.3L325 259.6L321.5 260.2L318 260.3L305.5 259.4L284 259.2L268 259.5L262.5 259.9L253.5 261L251 261.1L248.5 260.9L244 259.7L240.5 258.1L239.1 257L238.3 256L237.8 255L237.6 254L237.9 252L239.8 247L240.9 245L242 244.2L243.6 243.5L245.5 243.1ZM199 248.5L200 248.1L200.5 248.3L201.3 249L201.3 250L201 250.5L200.5 251L199.5 251.1L198.7 250.5L198.4 249.5ZM272.5 270.1L278 270.5L294 270.5L300.5 270.1L306 270.8L313.5 271.4L317 272.2L319.1 273.5L319.8 274.5L320.3 275.5L320.3 277.5L319.8 279L319 280L317.8 281L316.5 281.7L314.4 282.5L312 283.1L306.5 283.6L300 283L293.5 283.4L286.5 282.9L280 283.4L273.5 283L268 283.6L264 283.5L260 282.8L257 281.9L254.7 280.5L253.8 279.5L253.2 278.5L252.8 276.5L253.1 275L254.1 273.5L255.5 272.5L257.5 271.8L259.5 271.4L267 270.9ZM266.2 295L274 295L279.5 294.7L293.5 294.7L299.5 295L305.5 294.9L309.5 295.2L315 296L319.5 297.3L320.9 298L322.2 299L322.7 300L322.7 300.5L322.1 301.5L321.5 302L319.7 303L316.5 304.1L312 305.1L304 305.9L286.5 306.6L269 305.9L261 305L257 304.2L253.5 303L251.7 302L251 301.4L250.5 300.5L250.6 299.5L251.6 298.5L254.5 297L259.5 295.7ZM115.6 297.5L117.5 297.2L120 297.2L127.8 298L133.5 299.2L135 299.8L136 300.5L136.7 301.5L136.9 302.5L137 304.5L136.9 307L135.9 313.5L135.4 315L134.6 316L133.9 316.5L132.5 317L128.5 317.4L122 317.6L113 317.2L109.5 317.3L107 317.9L103 319.5L101.5 319.7L100 319.6L98 319.1L96.7 318.5L95.4 317.5L94.5 316L94.1 314L94.4 312L95.3 310.5L96 309.9L97 309.4L102 308.7L103.5 308.3L104.5 307.8L107 305.6L112 299.6L114 298.1ZM142 320.5L144.5 320.3L149 320.2L160 320.6L169.5 321.6L177.5 323L182.6 324.5L184.8 325.5L186.3 326.5L187.3 327.5L187.9 328.5L188.2 329.5L188.2 331L187.7 332.5L186.7 334L185.2 335.5L183.5 336.7L181.5 337.8L179 338.9L173 340.8L166.5 341.9L159.5 342.4L152 342.2L145.5 341.2L142 340.1L140 338.7L139.1 337.5L138.5 336.1L137.6 332.5L137.3 330L137.3 328L137.7 325.5L138.2 323.5L138.7 322.5L139.5 321.5L140.5 320.9ZM102.2 336.5L103.5 336.3L105 336.5L107 337.3L109 338.5L110.9 340L111.7 341L112.1 342L111.9 343L110.7 344L102 344L100.1 343L98.7 341.5L98.4 340.5L98.5 339.5L99 338.5L100 337.5Z"/>
<path fill="#f8f0ec" d="M98.5 127.5L99.3 127L135.2 127L136 130L136.6 134.5L136.7 138.5L136.4 141L135.6 142.5L134.5 143.4L133 144.1L130.5 144.8L126.4 145.5L121.5 146L118.5 146L116 145.6L114.5 144.8L113 143.5L108.5 137.1L106.5 135.2L104.5 134.3L99 133L97.5 132L97 131L97.1 129.5L97.6 128.5ZM169.8 142L185.5 141.8L188 141.9L190 142.3L191.5 143L192.9 144.5L193.5 146.5L193.3 148.5L192.6 150L191.8 151L190.5 151.9L189.3 152.5L185.8 153.5L175 155.8L168.5 157.7L164 159.3L158.5 161.5L155.5 162.3L150 165.2L147.5 167.1L145.5 169.5L144.3 172L141.7 178.5L139.5 182.1L137 184.6L135.5 185.6L133.5 186.5L131 187.2L129 187.4L127 187.2L125.5 186.6L124.5 185.7L123.5 184.3L119.5 176.7L118.5 175.6L117.5 175L116.5 174.8L115 174.8L105.5 175.4L101 175L99 174.5L97.5 173.6L96.4 172.5L95.6 171L94.9 168.5L94.6 166L94.7 163L95.2 160.5L95.7 159L96.6 157.5L98 156.3L99.5 155.5L102.5 154.7L106.5 154.2L109 154.4L111 155.1L112.5 156.3L114 158.1L115.5 160.5L118.5 166.2L119.5 167.6L121 168.7L122 168.9L123.5 168.8L127.5 167.7L133.4 165.5L136.3 164L138.1 162.5L139.2 161L140.3 158.5L141.6 151L142.2 149L143.2 147.5L144.5 146.6L148 145.3L154.1 144L162.5 142.7ZM180.2 175.5L183.5 175.2L186.5 175.4L188.8 176L190.5 176.9L191.9 178.5L192.7 180.5L192.9 182.5L192.5 184.5L192 185.5L191.2 186.5L189.3 188L181 192.2L178.5 193.8L177 195L175.7 196.5L174 200.5L173.5 201.2L173 201.6L171.5 201.7L166.5 201.4L159 200.4L158 200.7L157.5 201.4L156.8 203.5L156.5 206.5L156.7 221L156.6 236L156.7 238L157.2 240L157.6 241L158.5 241.9L159.5 242.1L170.5 242.5L172 242.6L173 242.9L173.5 243.4L174 244.3L175.5 247.9L177 249.6L180.5 252L187.4 255.5L189 256.5L190.5 258L191.4 259.5L191.8 261.5L191.5 263.5L190.8 265L189.5 266.4L188 267.2L186 267.8L183.5 268.1L180.5 268L177 267.5L173.5 266.6L170.5 265.6L167.1 264L164 262.2L160.8 260L158.5 258L154.1 252L150.4 245L149.1 243.5L144.5 239.5L143 237.6L142 236.1L140.6 233L139.7 230L139 226L138.7 222L138.8 217.5L139.3 213.5L140.2 210L141.5 207.2L143 205.1L145 203.2L147 201.9L150.5 200L152.2 198.5L153.2 197L155.1 193L156.7 190L158 188L159.2 186.5L161.2 184.5L163.7 182.5L166.5 180.6L169 179.2L174.5 176.9L177.5 176ZM112.9 194L117.5 193.9L119 194.2L120.5 195L121.3 196L122 197.5L122.4 199.5L122.6 201.5L122.4 204L121.7 207L120.6 210L119.3 212.5L117.5 215.2L115.5 217.4L114 218.5L112.5 218.8L111 218.3L109.5 217.4L100.8 211.5L99 210L98.1 209L97.3 207.5L96.9 206L96.7 204L96.9 202L97.6 200L98.6 198.5L100 197.3L102 196.3L104.7 195.5L108.5 194.7ZM245.4 194L247 193.6L249 193.5L250.5 193.8L252 194.3L253.1 195L253.8 196L254.1 197L253.8 198L253.4 198.5L252.5 199.2L251.5 199.5L250 199.8L247 199.7L244.5 199L243.2 198L242.9 197.5L242.8 196.5L243.2 195.5L243.6 195ZM270.4 201.5L273.5 201.1L280 201.4L287 201.1L294.5 202L300 202.2L302 202.8L303.9 204L304.8 205L305.1 206.5L304.8 207.5L304.2 208.5L303 209.7L301.5 210.6L299.5 210.9L298 210.7L295 209.4L293.5 209L292 209.2L288.5 210.3L286 210.4L284.5 209.9L281.5 208.3L280 208L278.5 208.3L275 209.9L273.5 210.1L272.5 210L270.9 209.5L267 207.3L263.6 206.5L262.7 206L262.3 205.5L262.4 204.5L263.5 203.5L265.5 202.7ZM220.7 203L222.5 202.7L224 202.7L225.5 202.9L227.3 203.5L229.8 205L230.5 206L230.5 207L230.1 207.5L228.8 208.5L227 209.5L225 210.3L223 210.6L220.5 210L217 208L215.9 207L215.8 206.5L216.1 205.5L217.2 204.5L219 203.6ZM203.4 207.5L206 207.2L208 207.6L209.3 208.5L209.9 210L210.1 212.5L210.1 222L209.8 231L209.4 233.5L208.6 234.5L208 234.9L206.5 235.4L205 235.5L203.5 235.2L201 234.3L194.1 231L187.6 226.5L181 224.3L179.6 223.5L178.7 222.5L178.4 221.5L178.5 220.5L179.3 219.5L180 219L182 218.1L187.5 216.4L189 215.5L192.3 213L195 211.3L200.5 208.6ZM239.9 210L241.5 209.7L243 209.7L246.5 210.5L248.5 210.7L250.3 210.5L253.5 209.7L255 209.5L256.5 209.8L258 210.7L259 212.5L259.5 215.4L259.9 223L260.7 230.5L260.7 231.5L260.1 232.5L258.5 233.3L256 233.8L254 233.7L250 232.9L248.5 232.7L242 233.5L239.5 233.1L238.5 232.6L237.8 232L237 230.4L236.6 227.5L236.4 220.5L236.6 215L237 213L237.5 211.7L238.5 210.6ZM414 213.5L415.5 213.2L417.5 213.2L419 213.3L420.5 213.6L422.5 214.8L423.8 216.5L424.3 218L424.6 220L424.6 223L424.3 225L423.8 226.5L423.2 227.5L422.2 228.5L421 229.2L419.5 229.6L418 229.8L415.5 229.8L414 229.5L412 228.5L411 227.5L410.4 226.5L410 225L409.7 223L409.8 219.5L410.1 217.5L410.7 216L411.5 214.9L412.5 214.1ZM457.5 214L459 213.6L460.5 213.5L462.5 213.6L464 213.8L466 214.8L467.4 216.5L468 218L468.3 219.5L468.3 222.5L468.1 224.5L467.7 226L467 227.2L466 228.2L465 228.8L462.5 229.4L458.5 229.3L457 228.8L456 228.2L454.6 226.5L454 225L453.7 223L453.7 220L454 218L454.6 216.5L455.3 215.5L456.4 214.5ZM366.2 215L369 214.7L372 215.3L374.5 216.6L376.1 218.5L376.6 219.5L377 221L376.7 223.5L376.3 224.5L375.5 225.8L373.5 227.4L372 228.1L370 228.6L368 228.7L366.5 228.5L365 228L363.5 227.3L362 226.1L361.1 225L360.5 223.5L360.2 222L360.3 220.5L360.8 219L361.8 217.5L362.9 216.5L364.5 215.6ZM319.4 218.5L321.5 218.6L323.5 219.6L324.8 221L325.2 222L325.3 223L325.2 224L324.9 225L323.6 226.5L321.5 227.7L319.5 228L318 227.8L316.5 226.9L315.8 225.5L315.6 224L315.8 222L316.5 220.4L317 219.7L317.9 219ZM111.5 225.5L112.5 225.3L113.5 225.4L114.5 225.9L115.5 226.7L118 229.8L120.3 234L121.4 237L122.3 240.5L122.7 244.5L122.7 250L123.1 251.5L124.5 252.3L129.5 253.7L132.5 254.8L135 256.2L137.2 258L138.8 260L140 262.1L143.2 270L144.1 272L145.4 274L146.8 275.5L150.7 278.5L156 281.5L158.5 282.3L165 285.3L170 287.2L175 288.9L185 291.8L188.5 293.2L190.2 294.5L190.9 295.5L191.3 296.5L191.4 297.5L191.3 298.5L190.5 300.1L189.5 301L188.5 301.5L186 302.1L181.5 302.5L175 302.4L166 301.8L157.5 300.9L150.5 299.7L145.5 298.4L143 297L141.5 295.2L140.7 293L139.4 287.5L138.7 285L137.5 282.5L136 280.5L134 278.8L131 277.2L127 275.6L123.5 274.6L121 274.6L120 274.9L119 275.6L117.5 277.6L114.7 282.5L113.4 284.5L111.5 286.5L110 287.4L107.5 288L104 287.8L100 286.9L98.5 286.3L97.3 285.5L96.1 284L95.4 282.5L94.9 280.5L94.7 278.5L94.8 276L95.2 274L95.7 272.5L96.7 271L98.5 269.7L101.5 268.8L105.5 268.3L113.5 268.3L116 267.7L117.5 266.5L118.5 265L119.5 262.5L120.5 259L121.2 254.5L121.1 253.5L120.5 252.7L118.7 252L106.5 249.2L102 247.7L100 246.6L98.8 245.5L97.8 244L97.2 242.5L96.9 240L97 238L97.6 236L98.5 234.5L99.4 233.5L101.3 232L109 226.8ZM285.7 229L287 228.9L288.5 229L293.5 230.5L295 230.4L298.5 229.5L301 229.6L302.6 230L307.3 232L308.1 232.5L308.5 233L308.4 233.5L307.4 234.5L302.9 237L301.5 237.5L300 237.7L298 237.4L294.5 235.8L293.5 235.6L286.5 236.3L284.5 236.2L280 235.4L278.5 235.8L275 237.7L274 237.9L272.5 238L271 237.7L269.7 237L268.4 236L267.6 235L267.5 234L268.1 233L269.9 231.5L271.5 230.7L273 230.4L274.5 230.5L278.5 231.8L279.5 231.9L280.5 231.5L283.5 229.7ZM222.1 233L223.5 232.9L225 233.1L228.3 234.5L230.5 236L230.8 236.5L230.7 237.5L229.9 238.5L228 239.7L225.5 240.6L223.5 240.9L221.5 240.8L219.5 240.2L217.1 239L216 238L215.5 237L215.6 236.5L216.5 235.5L219.1 234ZM248.8 244.5L251.5 244.7L258 246.2L266.5 246.8L268 247.2L271 248.4L272.5 248.6L274 248.4L278 247.4L286.5 247.8L295 247.4L296.5 247.7L299 248.4L300.5 248.6L302 248.4L305 247.3L307 246.9L311 246.9L314.5 247.2L320 248.3L322.5 249.2L324.5 250.1L326 251L327 252L327.6 253L327.8 254.5L327.4 255.5L326.5 256.5L324.5 257.8L321.5 258.9L318 259.4L305.5 259.3L269.5 259.3L255.5 260.1L251 259.9L247.5 259.1L244 257.7L241.9 256L241.2 255L240.9 254L240.9 253L241.3 251.5L242.7 248L243.6 246.5L244.5 245.7L245.8 245ZM273 270.2L278.5 270.5L295 270.5L300 270.2L302 270.3L306 271L311.5 271.6L314.7 272.5L316.4 273.5L317.3 274.5L317.8 275.5L317.9 277L317.7 278L316.9 279.5L315.8 280.5L314.5 281.3L312.5 282.2L310.5 282.7L306 283.3L299.5 282.9L293.5 283.3L286.5 282.9L280 283.3L273.5 282.9L268.5 283.3L266 283.2L262.5 282.7L259.5 281.7L257.4 280.5L256 279L255.3 277.5L255.3 276L255.9 274.5L257.5 273L259 272.3L261 271.7L267.5 271ZM277.4 295.5L287.5 295.1L302 295.9L305.5 296.2L309.7 297L312.8 298L314.5 299L314.9 299.5L315.1 300.5L314.3 301.5L312.6 302.5L310 303.3L307.1 304L301 304.8L286.5 305.9L280.5 305.3L272 304.8L266 304L263 303.3L260.6 302.5L258.9 301.5L258.1 300.5L258.3 299.5L259.5 298.5L261.5 297.6L263.5 297L269 296.1ZM116.8 298L121 297.8L127.5 298.5L132 299.7L133.5 300.4L134.5 301.2L135.2 302L135.8 303.5L136 307L135.7 309.5L135.2 312L134.5 313.9L133.7 315L132.5 315.9L130.7 316.5L128.5 316.9L125 317.1L119.5 317.1L108 316.2L106 316.5L102.5 317.7L101 317.9L99 317.5L97.6 316.5L97 315.5L96.7 314L96.9 313L97.5 312L99 311L103 310.1L104.5 309.4L106.5 307.5L110.5 302.3L112.5 300.1L114.5 298.7ZM147.4 321L154.5 320.9L162.5 321.3L169.5 322.2L175.4 323.5L179.5 325L181.9 326.5L182.9 327.5L183.5 328.5L183.7 329.5L183.5 331L182.8 332.5L182 333.5L180.8 334.5L179 335.7L174.5 337.7L169 339.2L163.5 340L157 340.2L151 339.8L145.5 338.8L143.5 338.1L142 337.4L141 336.6L140 335.5L139.2 334L138.5 332L138.2 330L138.2 328L138.5 326.2L139 324.7L139.7 323.5L140.5 322.7L141.5 322L143 321.5ZM103.7 338.5L105 338.4L106.7 339L107.9 340L108.1 340.5L108.1 341L107.5 341.5L106 341.8L104.5 341.6L103.5 341.2L102.7 340.5L102.5 339.5L102.8 339Z"/>
<path fill="#f8eee8" d="M100.4 127.5L102.1 127L134.5 127L135.5 130L136.2 134L136.3 138L136.2 139.5L135.8 141L134.8 142.5L133.5 143.4L132 144.1L129.5 144.7L125.5 145.4L121 145.7L118 145.6L116 145.2L114.5 144.4L113 143L109 137.2L107 135L105 133.9L99.7 132.5L98.5 131.6L98.1 130.5L98.2 129.5L99 128.4ZM166.5 142.5L171.5 142.2L177 142.1L184.5 142.3L188 142.7L190 143.3L191.4 144.5L192.1 146L192.1 148L191.5 149.5L190.7 150.5L189.5 151.4L188 152.1L185.3 153L174 155.7L167.5 157.7L159 161.1L155.5 162L152 163.7L149 165.5L146.6 167.5L145.1 169.5L144.1 171.5L141.6 178L139.5 181.5L138.5 182.7L137 184.1L134 185.8L131.5 186.6L129 186.8L127 186.5L125.5 185.7L124.5 184.7L123.5 183.2L119.8 176L119 174.9L118 174.3L116 174.2L107.5 175.1L104.5 175.1L102 174.9L100 174.4L98.2 173.5L97 172.3L96 170.5L95.4 168.5L95.2 166L95.2 163.5L95.7 161L96.4 159L97.4 157.5L98.6 156.5L100 155.8L103 154.9L106.5 154.5L109 154.7L111 155.5L112.5 156.8L114.2 159L115.7 161.5L118.5 167.1L119.5 168.6L120 169.1L121 169.6L122.5 169.6L125.5 168.7L133.5 165.8L136.1 164.5L138.1 163L139.5 161.3L140.5 159L142 151.5L142.5 149.8L143.5 148.1L144.9 147L148 145.7L152.5 144.6L159.5 143.4ZM178.9 176L182 175.6L185 175.7L187.5 176.2L189.3 177L190.9 178.5L191.7 180L192.1 182.5L191.7 184.5L191.2 185.5L190.4 186.5L188.6 188L180.5 192.3L177 194.7L175.5 196.5L174 200L173.5 200.8L173 201.1L171 201.3L165.5 200.8L158.5 199.7L158 199.8L157.3 200.5L156.6 202L156.2 205L156.6 221L156.3 237L156.9 240.5L157.5 241.8L158 242.4L159 242.7L164.5 242.7L170 242.9L172 243.1L173 243.5L173.5 243.9L174 244.8L175.5 248.2L177 249.9L180 251.9L186.7 255.5L189.2 257.5L190.3 259L190.8 261L190.6 263L189.9 264.5L188.6 266L187 266.9L185 267.5L182.5 267.7L179.5 267.6L176.5 267.2L173.5 266.4L170 265.1L166.6 263.5L163.5 261.6L160.6 259.5L158.5 257.6L157.3 256L154.7 252L153.5 249.5L151.9 245.5L151 244.1L149.4 242.5L145 239.2L143.5 237.5L142 235.3L140.8 232.5L139.9 229.5L139.3 226L138.9 222L139 218L139.5 214L140.2 211L141.5 208L143 205.8L145 203.9L147.5 202.4L151.9 200.5L153.1 199.5L153.9 198L155.3 194L156.4 191.5L157.7 189L159.2 187L161.1 185L163.4 183L168 180L170.5 178.7L173.5 177.5ZM110.9 194.5L116 194.1L118 194.4L119.5 195L120.5 195.9L121.2 197L121.8 198.5L122.1 200.5L122.1 203L121.8 205.5L120.9 208.5L119.8 211L118.3 213.5L116.5 215.9L114.5 217.6L113 218.1L111.5 218L110 217.3L100.7 211L99.1 209.5L98.4 208.5L97.7 207L97.4 205L97.4 203L97.8 201L98.6 199.5L99.9 198L101.4 197L103.9 196L107 195.2ZM247.2 194.5L249.5 194.5L251.2 195L252.3 196L252.6 196.5L252.5 197.5L251.5 198.5L249.9 199L247.5 199L245.5 198.4L244.5 197.5L244.3 197L244.5 196L245.6 195ZM272.1 201.5L274.5 201.4L280 201.7L287 201.3L294.5 202.4L300 202.6L302 203.3L303.5 204.5L304.1 205.5L304.3 207L303.6 208.5L302.7 209.5L301.5 210.3L300 210.7L298 210.4L295 209.1L293.5 208.7L292 209L288.5 210.3L286.5 210.4L284.9 210L281.5 208.2L280 207.8L278.5 208.2L275.5 209.6L273.5 210L272 209.8L271 209.5L267.5 207.2L264.9 206L264.3 205.5L264.2 205L264.4 204.5L265.8 203.5L269.5 202.1ZM222 203L223.5 202.9L225 203.1L226.5 203.6L228 204.3L228.9 205L229.6 206L229.7 206.5L229.4 207.5L228.3 208.5L226.8 209.5L225.5 210.1L224 210.4L223 210.5L221.5 210.2L218.9 209L217.1 207.5L216.7 206.5L216.8 206L217.5 205L218.9 204L220.5 203.3ZM202.7 208L204 207.7L205.5 207.6L207.5 208L208.3 208.5L209 209.2L209.7 211L210 218L209.8 229L209.2 232.5L208.7 233.5L208 234.2L206.5 234.9L205 235L203 234.8L200.5 233.9L196.5 232.1L194 230.8L188 226.5L186.5 225.8L181.5 224.2L180.3 223.5L179.3 222.5L179 221.5L179.1 220.5L179.9 219.5L180.6 219L182.5 218.2L187.6 216.5L189 215.7L192.5 213L195 211.4L198.5 209.7ZM241.5 210L243.5 210L247 210.7L248.5 210.8L250 210.7L253.5 209.9L255 209.8L256.5 210.2L258 211.3L258.9 213L259.3 215L260.3 228.5L260.2 231L259.5 232.2L258 233L255.5 233.5L253.5 233.4L248.5 232.6L242.5 233.3L240 232.9L239 232.4L238 231.6L237.5 230.8L237 229.5L236.6 226.5L236.5 219L236.9 214.5L237.5 212.5L238.1 211.5L239.5 210.5ZM416.8 214L419.5 214.2L421.5 215.1L422.5 216L423 216.7L423.8 219L423.9 223L423.7 224.5L423.1 226L422.5 227L421.5 227.9L420.5 228.5L419 228.9L415.5 228.9L414 228.6L413 228.2L412 227.4L411.3 226.5L410.8 225.5L410.5 224L410.4 219.5L410.7 218L411.3 216.5L412.1 215.5L413.5 214.5L415 214.1ZM459.1 214.5L462.5 214.4L464.5 215L466 216L466.7 217L467.1 218L467.4 219.5L467.5 221.5L467.4 223.5L467.1 225L466.7 226L466 227L465 227.8L464 228.2L462.5 228.6L461 228.6L459.5 228.6L458 228.2L457 227.8L456 227L455.3 226L454.9 225L454.5 223.5L454.5 221L454.6 219L455.1 217.5L455.6 216.5L456.6 215.5L457.5 215ZM366 216L368.5 215.6L371 216L373.3 217L374.9 218.5L375.8 220.5L375.9 222.5L375.2 224.5L374.4 225.5L373.5 226.3L372 227.1L370.5 227.6L369 227.8L367.5 227.7L366 227.4L364.5 226.8L363.3 226L362.4 225L361.7 224L361.3 222.5L361.3 221L361.7 219.5L362.5 218.2L363.5 217.3L364.7 216.5ZM318.4 220L319.5 219.6L321 219.7L322.5 220.3L323.5 221.3L324 222.5L324 223.5L323.5 224.9L322.5 225.9L321 226.6L319.5 226.8L318 226.4L317 225.5L316.5 224L316.6 222.5L317.2 221ZM111.6 226L113 225.9L114 226.2L116 227.8L117.5 229.6L118.7 231.5L120.8 236L122 240.5L122.3 245L122.1 247.5L121.6 249.5L121.1 250.5L120.4 251L118.5 251.2L114.5 250.7L109 249.6L104.5 248.3L102 247.3L100.1 246L98.8 244.5L98 243L97.6 241L97.6 238.5L98 236.5L99.1 234.5L100.6 233L103.3 231L109 227.2ZM285.9 229L287.5 228.9L289 229.1L292.5 230.5L294 230.7L298.5 229.6L301 229.7L303 230.4L305 231.5L306.2 232.5L306.5 233L306.5 233.5L306.3 234L305.3 235L303.4 236.5L301.5 237.4L300 237.6L298 237.3L294.5 235.7L293.5 235.5L292 235.6L288.5 236.2L286.5 236.3L284 236.1L280 235.3L278.5 235.7L275 237.6L274 237.9L272.5 237.9L271.5 237.7L270 237L268.8 236L268.1 235L268 234L268.4 233L270.1 231.5L271.5 230.8L273 230.5L274.5 230.5L276 230.9L278.5 232L279.5 232L280.5 231.6L283.5 229.8ZM222.8 233L224.5 233.1L225.9 233.5L228.7 235L229.7 236L229.9 236.5L229.8 237.5L229.5 238L228.4 239L226.6 240L224.5 240.6L223 240.7L221 240.4L219.5 239.9L218 239L216.9 238L216.6 237.5L216.5 236.5L217.2 235.5L220 233.7L221.5 233.2ZM247.6 245.5L250.5 245.4L255.5 246.4L258 246.7L266.5 247L268 247.3L271 248.4L272.5 248.6L274 248.5L278 247.4L286.5 247.8L295 247.4L296.5 247.7L299 248.4L300.5 248.6L302 248.4L305 247.4L306.5 247.1L312.5 247.3L318 248.3L322.9 250L324.7 251L325.8 252L326.4 253L326.7 254L326.4 255L325.8 256L323.7 257.5L320.5 258.6L317 259.2L296.5 259.4L288.5 259.2L268.5 259.3L257 259.8L252.5 259.7L248.5 258.9L245.5 257.7L244.2 257L243.1 256L242.1 254.5L242 253.5L242.2 252L244.2 248L245.5 246.4L246.5 245.9ZM123.1 254L124 253.6L125.5 253.6L127.5 253.8L130 254.4L133.5 255.9L136.5 258L138 259.6L139.6 262L140.7 264.5L143 270.5L144.3 273L146.3 275.5L149.4 278L155.5 281.5L158.5 282.5L166.5 286.2L173 288.6L183.5 292L186.9 293.5L188.8 295L189.7 296.5L189.8 298L189.1 299.5L187.5 300.7L184.5 301.6L180 302L174 302L165.5 301.5L158 300.7L151 299.5L146.5 298.3L144 297L142.8 296L142 294.9L141 292.5L139.6 287L138.6 284L137.5 281.8L136 280L133.5 278.1L130.5 276.6L126 274.9L122.5 274L120.5 274L119 274.8L117.5 276.8L115 281.5L113.4 284L111.6 286L110 287.1L107.5 287.7L104.5 287.6L100.5 286.7L98.1 285.5L97.1 284.5L96.2 283L95.6 281L95.3 279L95.3 276.5L95.6 274.5L96.1 273L97 271.5L98 270.5L99 269.9L102 269L106.5 268.5L114.5 268.6L116 268.4L117 267.8L118 266.8L119 265L120.1 262L122 255.7L122.5 254.6ZM270.3 270.5L273 270.2L278.5 270.5L295 270.5L300 270.2L302 270.3L306 271.1L311 271.7L313.8 272.5L315.5 273.5L316.5 274.5L317 275.5L317.2 277L316.7 278.5L316 279.5L314 281.1L312.5 281.8L310.3 282.5L308 282.9L305.5 283.1L300 282.8L293.5 283.3L287 282.9L280 283.3L273.5 282.8L268.5 283.1L266.5 283.1L263.5 282.6L260.5 281.7L258.2 280.5L256.8 279L256.1 277.5L256 276.5L256.2 275.5L257.1 274L258.4 273L260 272.3L261.5 271.9L267.5 271.1ZM285.5 295.2L288 295.3L301 296.3L305 296.8L308.3 297.5L311 298.5L312.3 299.5L312.5 300L312.5 300.5L311.6 301.5L310.5 302.1L308.1 303L305.5 303.6L300.5 304.3L292.5 305L286.5 305.7L280.5 304.9L272.5 304.3L267.5 303.6L265 303L262.5 302L261.6 301.5L260.7 300.5L260.7 300L260.9 299.5L262.2 298.5L264 297.8L266.5 297.1L271.5 296.3ZM116.1 298.5L118 298.2L120.5 298.1L126.5 298.6L131 299.7L132.7 300.5L134 301.4L134.8 302.5L135.2 303.5L135.5 305L135.6 307L134.9 311.5L134.4 313L133.5 314.5L132.2 315.5L130.5 316.2L128 316.6L124.5 316.9L121 316.9L117.5 316.7L107.5 315.4L105.5 315.6L101.5 316.8L100 316.6L98.8 316L98.2 315L98 314L98.4 313L98.8 312.5L100 311.8L103.5 311L105 310.1L106.5 308.4L109.9 303.5L112 301L114 299.4ZM146 321.5L152.5 321.2L160 321.4L167 322.1L173 323.3L177.5 324.8L179 325.5L180.4 326.5L181.4 327.5L181.9 328.5L182.1 329.5L182.1 330.5L181.7 331.5L180.7 333L178.2 335L174.5 336.8L169.5 338.3L164 339.2L158 339.5L152 339.2L146.5 338.2L143 337L141.5 336L140.5 335L139.9 334L139.2 332.5L138.8 331L138.6 329L139.1 326L139.7 324.5L140.5 323.5L141.5 322.7L142.5 322.3Z"/>
<path fill="#f9ede7" d="M106.1 127.5L108.2 127L133.7 127L135 130L135.7 134L135.9 138L135.7 139.5L135.1 141L134.5 142L133 143.2L131 144L128.5 144.6L124.5 145.2L121 145.4L118 145.3L116 144.7L114.5 143.9L113 142.4L109 136.4L107 134.2L105 133.1L101 132L100.2 131.5L99.8 131L99.6 130.5L99.8 129.5L101 128.5L102.5 128ZM171.9 142.5L182 142.7L185.1 143L187.5 143.5L189 144.1L190 145L190.7 146.5L190.7 148L190.2 149L189.5 150L188.1 151L186.5 151.8L182.8 153L172.5 155.8L166.5 157.8L159 160.8L155.5 161.7L151.5 163.6L148.5 165.3L146.4 167L144.9 169L143.9 171L141.5 177.5L139.5 181L137 183.6L135.5 184.6L133.5 185.5L131 186.1L129 186.2L127 185.7L125.5 184.7L124.5 183.6L123.5 182.1L120 174.3L119.5 173.4L119 173L118 173L113 174.2L109.5 174.7L106 174.9L103 174.7L100.5 174.1L98.5 173.1L97.5 172L96.4 170L95.9 168L95.7 165.5L95.8 163L96.4 160.5L97.1 159L98.2 157.5L99.5 156.5L101 155.8L104.5 155L107.5 154.9L109.5 155.3L111.5 156.4L113.1 158L115 160.9L119.5 170.5L120 170.9L121 170.9L134.5 165.7L136.9 164.5L138.5 163.3L139.9 161.5L140.8 159.5L142.4 152L143 150L144 148.5L146 147L150.1 145.5L157.3 144L165 142.9ZM178 176.5L181.5 176.1L184.5 176.1L187 176.7L189 177.8L190.4 179.5L191.1 181.5L191.2 183L191.1 184L190.1 186L188.6 187.5L187.2 188.5L180.5 192.1L177 194.5L175.6 196L174 199.5L173.5 200.3L173 200.6L170.5 200.8L165 200.3L162 199.8L158 198.6L157.5 198.8L156 199.9L155.6 199.5L155.4 198.5L155.5 196.5L155.9 194.5L156.6 192.5L158.5 188.5L161 185.5L164.5 182.5L169 179.7L173.5 177.7ZM113.7 194.5L116 194.5L117.5 194.8L119 195.4L120 196.3L120.8 197.5L121.4 199L121.7 201L121.8 203L121.4 205.5L120.8 208L119.7 210.5L118.5 212.6L117 214.7L115.5 216.3L114 217.2L112.5 217.6L111 217.3L109 216.3L103.2 212.5L100.7 210.5L99.4 209L98.6 207.5L98.1 205.5L98 203.5L98.4 201.5L99 200L100.2 198.5L101.5 197.5L103.5 196.5L106.5 195.6L110 194.9ZM247.2 196L248.5 195.7L249.5 195.9L250.3 196.5L250.3 197L249.9 197.5L249 197.8L247.5 197.7L246.6 197L246.6 196.5ZM271.1 202L274 201.6L280.5 202.1L287 201.6L289 201.8L294.5 203L299.5 202.9L301.5 203.5L302.8 204.5L303.5 205.5L303.7 207L303.4 208L302.5 209.2L301.4 210L300 210.4L298 210.2L295 208.7L293.5 208.4L292 208.7L289 210L287.5 210.3L286.5 210.3L284.5 209.8L281.5 208L280 207.6L279 207.8L275 209.7L273.5 209.9L272.5 209.9L271 209.4L269.6 208.5L266.7 206L266.3 205.5L266.2 205L266.4 204.5L267.7 203.5L269.7 202.5ZM149.9 202.5L152.5 202.1L154.5 202.2L155 202.7L155.5 205L156.2 211.5L156.5 220L156.4 227.5L155.8 238.5L156.1 240.5L156.8 242L157.5 242.9L158.5 243.5L163 243.2L167 243.2L171.5 243.6L173 244L174 245.3L175.5 248.5L176.5 249.7L179.5 251.9L186.7 256L187.9 257L189.1 258.5L189.8 260.5L189.7 262.5L188.8 264.5L187.1 266L185 266.8L182.5 267.3L179.5 267.2L176 266.7L173 265.9L169.5 264.6L166.2 263L163.1 261L159 257.6L156.7 254.5L155.3 252L154.4 250L152.9 244.5L152.2 243L151 242L147.5 240.1L145.5 238.8L144 237.3L142.3 235L141.3 233L140.5 230.7L139.8 228L139.4 225L139.2 219L139.4 216L139.9 213.5L141.2 209.5L142.3 207.5L143.5 206L145 204.7L146.5 203.7L148 203ZM220.9 203.5L222.5 203.2L224 203.2L225.5 203.5L226.7 204L227.5 204.5L228.6 205.5L229 206.5L228.8 207.5L227.3 209L226 209.7L224.5 210.3L222.5 210.4L221.1 210L220 209.5L218.1 208L217.7 207.5L217.4 206.5L217.8 205.5L218.3 205L219.5 204.1ZM202 208.5L203.5 208.1L205 208L206.5 208.2L207.5 208.7L208.9 210L209.3 211L209.6 212.5L209.9 216.5L209.9 223L209.7 227.5L209.4 230.5L208.9 232L208 233.5L207 234.1L205.5 234.6L204 234.6L202 234.2L196 231.8L193 230L188 226.3L186.5 225.6L182.5 224.3L181 223.5L179.9 222.5L179.6 221.5L179.7 220.5L180.1 220L181.3 219L188 216.5L189.5 215.5L192.8 213L195 211.6L198 210.1ZM240.6 210.5L243 210.2L248.5 210.9L253 210.2L254.5 210.1L256.5 210.6L257.7 211.5L258.6 213L259.2 215.5L260 227L260 229L259.9 230.5L259.5 231.3L258.9 232L257.5 232.8L255 233.2L253 233.2L248.5 232.5L243 233.1L240.5 232.7L239.5 232.3L238.4 231.5L237.5 230L236.9 227L236.7 221L236.9 216L237.2 214L238 212.2L239 211.2ZM415.3 215L418 214.9L420 215.3L421.5 216.3L422.6 218L423 219.5L423.1 221L423 223L422.8 224.5L422.4 225.5L421.7 226.5L421 227.2L420 227.7L417.5 228.1L414.5 227.8L413.5 227.4L412.5 226.6L411.5 225L411.2 223.5L411.1 221.5L411.2 219.5L411.5 218L412 217L413 215.9L414 215.3ZM459.2 215.5L461.5 215.4L463.5 215.7L465 216.5L466.1 218L466.6 220.5L466.4 224L466.1 225L465.5 226L464 227.1L462 227.6L459 227.5L458 227.1L457 226.5L455.9 225L455.5 223.5L455.4 222L455.4 220L455.7 218.5L456.2 217.5L457 216.5L458 215.9ZM366.2 217L368.5 216.6L370.5 216.9L372.5 217.7L373.9 219L374.7 220.5L374.8 222.5L374.2 224L373 225.3L372 226L370.6 226.5L368 226.8L365.5 226.1L364.4 225.5L363.4 224.5L362.8 223.5L362.4 222.5L362.4 221L362.7 220L363.3 219L364 218.3L365 217.5ZM318.8 221.5L319.5 221.2L320.5 221.1L321.5 221.5L322 222L322.2 222.5L322.3 223.5L321.7 224.5L321 224.9L320 225.2L319 225L318.3 224.5L318 224L317.9 223L318.3 222ZM111.9 226.5L113 226.5L114 226.8L115 227.5L116.5 228.9L119 232.6L120.9 237L121.8 241.5L121.8 244L121.7 246L121.4 247.5L120.7 249L120 249.8L119 250.3L116.5 250.6L113 250.2L108.5 249.2L104.5 248L102.3 247L100.5 245.7L99.2 244L98.5 242.5L98.2 240.5L98.3 238L98.9 236L100.2 234L102.4 232L107 228.9L110 227.1ZM287.5 229L289 229.2L292.5 230.6L294 230.9L298.5 229.7L301 229.8L302.8 230.5L304.3 231.5L305.2 232.5L305.4 233L305.3 234L304.2 235.5L302.9 236.5L301.5 237.2L300 237.5L298 237.2L295 235.7L293.5 235.3L289 236.1L286.5 236.3L283.6 236L280 235.2L279 235.3L275 237.5L273 237.8L271.5 237.6L270.3 237L269.1 236L268.5 235L268.4 234L268.7 233L269.6 232L271.5 230.9L273 230.5L274.5 230.6L276 231L278.5 232.1L279.5 232.2L280.5 231.8L283.5 229.8L285 229.2ZM222 233.2L223.5 233.1L225 233.3L226.7 234L228.7 235.5L229.2 236.5L229 237.5L227.7 239L226.5 239.7L225 240.3L222.5 240.4L220 239.8L218.7 239L217.7 238L217.2 237L217.3 236.5L217.8 235.5L218.3 235L219.8 234ZM248.5 246.5L250.5 246.4L257.5 247.1L266.5 247.2L268 247.4L271 248.5L272.5 248.6L274 248.5L278 247.4L286.5 247.8L295 247.4L299 248.5L300.5 248.6L302 248.5L306 247.3L308 247.3L311 247.4L316.5 248.4L321.5 250.1L323.3 251L324.6 252L325.3 253L325.5 254L325.2 255L324.5 256L322.5 257.3L319.5 258.4L315.5 259L296.5 259.4L268 259.2L257 259.5L253.5 259.4L249.5 258.6L246.5 257.5L244.3 256L243.3 254.5L243.1 253.5L243.2 252.5L243.8 251L244.7 249.5L246.5 247.4L247.5 246.8ZM125 254.7L126.5 254.5L128.5 254.7L130.5 255.2L134 256.7L136.5 258.6L138.2 260.5L139.5 262.7L142.6 270.5L144 273.2L145.8 275.5L148.5 277.8L152.1 280L156 282.1L158.9 283L168.5 287.3L181.5 292L184.8 293.5L186.3 294.5L187.6 296L187.9 297.5L187.3 299L186.5 299.7L185.5 300.3L182.5 301.1L178.5 301.5L172.5 301.6L165 301.2L158 300.4L151.5 299.3L147.2 298L144.3 296.5L143.2 295.5L142.5 294.5L141.4 292L139.1 284L138 281.8L136.5 279.9L134.1 278L131 276.4L125.5 274.2L121.5 273.1L120 273.2L119 273.7L118.5 274.2L117.5 275.8L114.9 281L113.5 283.3L112 285.1L110 286.6L107.5 287.4L104.5 287.3L101 286.5L99.5 285.8L98.3 285L97.4 284L96.6 282.5L96.1 280.5L95.8 278.5L95.9 276.5L96.2 274.5L96.8 273L97.7 271.5L98.5 270.8L99.8 270L103 269.1L108 268.8L115.5 269.2L116.5 269.1L117.5 268.6L118.4 267.5L119.2 266L122.5 256.8L123.4 255.5ZM270.5 270.5L273 270.2L278.5 270.5L295 270.5L300 270.2L302 270.4L311 272L313.5 272.8L314.7 273.5L315.7 274.5L316.2 275.5L316.4 277L316.2 278L315.6 279L314.8 280L313.3 281L310 282.3L305.5 283L299.5 282.7L293.5 283.2L286.5 282.9L280 283.2L273.5 282.7L267 282.9L263.5 282.4L261 281.6L259.1 280.5L257.6 279L256.9 277.5L256.9 276L257.5 274.5L259 273.2L260.4 272.5L262 272ZM284.6 295.5L288.5 295.5L292.5 296L300.5 296.7L304 297.3L306.8 298L308.5 298.7L309.6 299.5L309.8 300L309.8 300.5L309 301.4L307.9 302L304 303.2L300 303.8L293 304.5L288.5 305.3L286.5 305.4L284.5 305.2L280.5 304.5L273 303.8L269 303.1L265.3 302L264.4 301.5L263.4 300.5L263.4 300L263.6 299.5L264.2 299L266 298.1L268.2 297.5L272.5 296.8L280.5 296ZM117.9 298.5L122.5 298.5L128 299.2L131.5 300.4L132.6 301L133.7 302L134.4 303L134.9 304.5L135.1 306L135 308L134.8 310L134.2 312L133.5 313.5L132.7 314.5L131 315.6L128.5 316.3L125 316.6L121 316.7L116.5 316.4L112.5 315.7L109 314.8L105.4 313.5L105 313L105.2 312L108.7 306L111.2 302.5L113 300.6L114.5 299.6L116 298.9ZM152.1 321.5L158 321.6L164 322.1L169.5 322.9L174 324.1L177.4 325.5L179.4 327L180.1 328L180.5 329L180.6 330L180.3 331L179.5 332.3L178.4 333.5L177 334.5L175 335.6L172.5 336.6L170 337.3L164.5 338.4L158 338.8L151.5 338.4L146 337.3L144 336.6L142.5 335.7L141.5 334.9L140.5 333.7L139.9 332.5L139.4 331L139.2 329.5L139.2 328L139.5 326.5L140.2 325L141.6 323.5L144 322.4L147.5 321.8Z"/>
<path fill="#f9ebe3" d="M110.7 127L132.8 127L133.7 128.5L134.4 130L135.3 134L135.4 138L135.1 139.5L134.5 140.9L133.5 142.2L132 143.1L129.7 144L127 144.6L123.5 145L120 145.1L117.5 144.8L115.5 144L114 142.9L112.8 141.5L109 135.5L107.5 133.7L106 132.5L102.7 131L102.3 130.5L102.4 130L103.1 129.5L107 128.6ZM168 143L173 142.9L177.9 143L182.5 143.4L185.5 143.9L187.1 144.5L188.5 145.5L189 146.5L189 148L188.5 149L187.5 150L184.9 151.5L182.2 152.5L169.5 156.4L159 160.4L156 161.2L150.9 163.5L147.4 165.5L145.7 167L144.3 169L141.5 176.5L139.7 180L138 182.1L135.5 184L133 185.1L130 185.5L127.5 185L126.5 184.5L125.5 183.7L123.6 181L122.1 177.5L121.4 174.5L121.4 173.5L121.7 172.5L122.7 171.5L125.1 170L136 165.5L138 164.4L139.5 163.1L140.5 161.6L141.2 160L142.7 153L143.3 151L144 149.6L144.9 148.5L146.3 147.5L148 146.7L152.5 145.3L160 143.9ZM103.9 155.5L106.5 155.3L109 155.6L111 156.5L113 158.5L114.4 160.5L115.5 162.5L117.4 167.5L117.7 169L117.8 170.5L117.3 171.5L116.9 172L115.1 173L112.5 173.8L109.5 174.4L106 174.6L103.5 174.4L101 173.9L99.3 173L98 171.8L96.8 169.5L96.3 166.5L96.3 163.5L97 160.5L98.1 158.5L99.5 157.1L101.5 156.1ZM180.9 176.5L183.5 176.5L185.5 176.9L187.1 177.5L188.5 178.5L189.4 179.5L190.1 181L190.4 183L190.1 184.5L188.9 186.5L187.3 188L179.5 192.5L176.5 194.7L175.4 196L174 199L173.5 199.7L172.5 200.2L171 200.3L167.5 200.1L164 199.6L160.4 198.5L157.7 197L157.2 196.5L156.9 195.5L156.9 194L157.4 192L158.2 190L160.2 187L163.1 184L167.3 181L171.5 178.8L176.5 177.2ZM111.3 195L114 194.8L116 195L117.5 195.3L118.8 196L119.8 197L120.7 198.5L121.1 200L121.4 202L121.2 204.5L120.7 207L119.8 209.5L118.5 212L117 214.1L115.5 215.7L114 216.6L112.5 217L111 216.8L109 215.9L105.2 213.5L101.9 211L100.4 209.5L99.4 208L98.9 206.5L98.6 205L98.7 203L99.2 201L100 199.5L101.5 198.1L103.3 197L105.5 196.2L108.1 195.5ZM272.5 202L274.5 201.9L280 202.5L285 201.9L287 201.8L289 202.1L293 203.3L294.5 203.6L298 203.2L299.5 203.3L301 203.7L302.2 204.5L302.9 205.5L303.2 207L302.9 208L302.3 209L301 209.9L300 210.2L298 210L295 208.3L293.5 207.9L292.5 208.1L289 209.9L288 210.2L286.5 210.2L284.5 209.7L281.5 207.8L280 207.4L278.5 207.8L276.5 209L275 209.7L273.5 209.9L272.5 209.8L271 209.2L269.8 208.5L268.4 207L267.5 205.5L267.7 204.5L268.8 203.5L270.5 202.6ZM222.1 203.5L224.5 203.5L226 204L227 204.6L227.9 205.5L228.4 206.5L228.2 207.5L227.9 208L226.2 209.5L224 210.2L223 210.3L221.5 210L219.5 209L218.2 207.5L218 206.5L218.2 206L218.9 205L219.5 204.5L221 203.8ZM147.9 204L149.5 203.7L151.5 203.7L153 204.2L153.9 205L154.5 205.8L155.2 207.5L156 212L156.4 222.5L156.2 228.5L155.8 232.5L155 236.5L154.3 238.5L153.5 239.6L153 239.9L152 240.1L150 240L147.5 239.1L145.5 237.9L143.5 235.8L142 233.5L141 231.1L140.1 228L139.7 225L139.4 221L139.6 217.5L140.1 214L141 211L142.3 208.5L144 206.3L146 204.8ZM203.2 208.5L205.5 208.5L206.5 208.8L207.5 209.3L208.2 210L208.8 211L209.4 213L209.7 216L209.8 220L209.7 225L209.4 228.5L209.1 230.5L208.5 232L208 232.7L207 233.6L205.5 234.1L203.5 234.2L201.5 233.8L197.5 232.3L193.5 230.2L188 226.1L182.6 224L181.5 223.4L180.5 222.5L180.1 221.5L180.3 220.5L181.2 219.5L182 219L188.4 216.5L193.5 212.7L196.5 210.9L200.5 209.3ZM242 210.5L244 210.5L248.5 211L253 210.4L254.5 210.4L256.5 211L257.7 212L258.5 213.5L259.1 216L259.8 226.5L259.8 228.5L259.6 230L259.1 231L258.5 231.7L257 232.5L255 232.9L253 232.9L248.5 232.4L243 232.8L240.5 232.4L239.5 231.9L238.5 231L237.5 229L237 226L236.9 219.5L237.2 215.5L237.7 213.5L238.7 212L240 211.1ZM415.5 216L418 215.9L419.5 216.2L420.8 217L421.8 218.5L422.2 221L421.9 224L421 225.8L419.5 226.8L417.5 227.1L415 226.9L413.4 226L412.4 224.5L412 223L412 221.5L412 220L412.4 218.5L412.9 217.5L413.5 216.9L414.5 216.3ZM458.5 217L460 216.6L462.5 216.7L464 217.3L465 218.4L465.5 220.5L465.4 223.5L464.7 225L463.5 226L462 226.4L459.5 226.3L458 225.7L457 224.6L456.5 222.5L456.6 219.5L457.3 218ZM366.8 218L368.5 217.7L370 217.9L371.5 218.5L372.7 219.5L373.3 220.5L373.5 222L373 223.5L372.1 224.5L370.1 225.5L368 225.7L366 225.1L364.6 224L363.8 222.5L363.7 221.5L363.9 220.5L365 219ZM110.2 227.5L111.5 227.1L112.5 227L113.5 227.2L115 228.1L116.5 229.5L117.7 231L119 233.2L120 235.5L120.7 237.5L121.2 240L121.4 242.5L121.3 244.5L121 246.5L120.3 248L119.5 249L118.5 249.6L116.5 250L113.5 249.9L109.5 249.2L106 248.2L103.5 247.1L101.7 246L100.2 244.5L99.4 243L98.9 241L98.8 239L99.1 237L100.1 235L101.3 233.5L103.7 231.5L107.5 228.9ZM284.4 229.5L286.5 229L288.5 229.2L290 229.6L293 231L294 231.2L298.5 229.9L300 229.8L301 230L302.4 230.5L303.8 231.5L304.7 233L304.7 234L304.2 235L303 236.2L301.5 237L300 237.3L298 237.1L294 235.2L292.5 235.3L289 236.1L286.5 236.3L283.7 236L280.5 235.1L279.5 235L278.5 235.4L275.5 237.2L274 237.7L273 237.7L271.5 237.4L270.5 236.9L269.5 236L268.9 235L268.8 233.5L269.4 232.5L270.5 231.5L271.5 231L273 230.6L274.5 230.7L276 231.1L278.5 232.4L279.5 232.5L283 230.2ZM221.3 233.5L222.5 233.2L224 233.2L225.5 233.6L227.1 234.5L227.7 235L228.4 236L228.6 237L228.1 238L227.1 239L226.2 239.5L224 240.2L222.5 240.2L221.5 240L219.5 239.1L218.7 238.5L218 237.5L217.8 236.5L218 236L218.3 235.5L219.3 234.5ZM155.3 243.5L156 243.2L157.5 244.2L158.5 244.4L162.5 243.8L166 243.8L171 244.1L173 244.7L174 245.9L175.5 248.9L176.5 250L179 251.8L185.1 255.5L187.4 257.5L188.4 259L188.8 260.5L188.7 262L188 263.8L186.5 265.4L184.5 266.3L182 266.8L179 266.8L175.5 266.3L172 265.3L168.5 263.9L165.1 262L162.2 260L159.5 257.6L158 255.8L156.7 253.5L155.3 250.5L154.7 248L154.6 245.5L155 244ZM249.7 247.5L251.5 247.4L257.5 247.5L266 247.3L267.5 247.5L270.9 248.5L272.5 248.7L274 248.5L277 247.6L278.5 247.4L286.5 247.8L295 247.5L299 248.5L300.5 248.7L302.2 248.5L306 247.5L309.5 247.6L312.5 248L315.5 248.6L320.5 250.2L322 251L323.3 252L324.1 253L324.3 254L324.1 255L323.8 255.5L322.6 256.5L321.5 257.1L318 258.3L314 258.8L296.5 259.4L255 259.2L251 258.5L247.9 257.5L245.4 256L244.4 254.5L244.2 253.5L244.3 252.5L245.5 250.3L247.5 248.3L248.5 247.8ZM126 255.5L128.5 255.5L131.5 256.2L134 257.4L136.5 259.3L138 261.1L139.4 263.5L142.4 271L143.6 273.5L145.1 275.5L147.4 277.5L151 279.7L155.5 282.2L158.5 283.2L166.5 286.9L178.3 291.5L182.6 293.5L184.1 294.5L185.5 296L185.8 297.5L185.4 298.5L184.5 299.3L183.5 299.8L180.5 300.6L176 301.1L170.5 301.1L164 300.7L157.5 300L152 299L147.5 297.6L144.7 296L142.9 294L141.8 291.5L140.1 285.5L139.2 283L138.1 281L136.8 279.5L134.5 277.8L131.5 276.2L123 272.7L119.5 271.6L119 271.6L118.5 271.8L115.7 278.5L113.6 282.5L112 284.6L110.5 285.9L109.5 286.4L108 286.9L106.5 287.1L104.5 286.9L101 286L99.5 285.2L98.6 284.5L97.8 283.5L97 282L96.5 280L96.4 278L96.5 276L97 274L97.7 272.5L98.5 271.5L99.5 270.7L101 269.9L103 269.4L105.5 269.1L110.5 269.2L117 270.4L118 270.4L118.5 270L119 268.8L121.5 261.1L122.8 258L124 256.5L125 255.8ZM270.8 270.5L273 270.3L278.2 270.5L295 270.5L300 270.3L302 270.4L310.1 272L313 273L313.9 273.5L314.9 274.5L315.5 275.5L315.7 277L315.5 278L314.9 279L314 280L312.5 281L311 281.7L309 282.3L305 282.8L300 282.6L293.5 283.1L286.5 282.8L280 283.2L273.5 282.7L267.5 282.8L264.5 282.4L261.7 281.5L259.9 280.5L258.3 279L257.6 277.5L257.6 276L258.3 274.5L259.3 273.5L260.5 272.8L262.5 272.1ZM285.5 295.6L288 295.6L292.5 296.4L301.4 297.5L304 298.1L306.2 299L306.8 299.5L307.1 300L307.1 300.5L306.7 301L306 301.5L302.5 302.7L298.5 303.4L293 304L288.5 305L286.5 305.1L284.5 304.9L280.5 304L274.5 303.4L271 302.8L267.5 301.6L266.5 301L266.1 300.5L266.1 300L266.4 299.5L267 299L269.6 298L273 297.3L280.5 296.5ZM117.2 299L119 298.7L121.5 298.7L126.5 299.3L130.5 300.4L132 301.2L132.9 302L133.7 303L134.3 304.5L134.6 307.5L134.4 309.5L133.9 311.5L133.2 313L132.4 314L131 315L128.5 315.9L125 316.4L121 316.4L116.5 316L113 315.4L110 314.4L107.8 313L107.5 312.5L107.2 311.5L107.4 310L108.4 307.5L110.2 304.5L112 302.1L113.5 300.7L115 299.7ZM149.8 322L155.5 321.8L161.5 322.1L167.5 322.9L172 324L175.8 325.5L177.9 327L178.9 328.5L179 329.5L178.9 330.5L178.5 331.5L177.7 332.5L176.6 333.5L175 334.5L171.5 336.1L167 337.3L162 337.9L156.5 338.1L151 337.6L146.5 336.6L144.5 335.9L143 335.1L142 334.3L141 333.1L140.4 332L139.9 330.5L139.7 329L139.9 327.5L140.4 326L141 325L142 324L142.9 323.5L145.5 322.6Z"/>
<path fill="#f9e9df" d="M112.5 127L131.8 127L133 128.5L133.8 130L134.7 133.5L134.9 137.5L134.7 139L134.1 140.5L133 141.9L131.5 142.9L129.5 143.7L126.5 144.3L123 144.7L120 144.7L117.5 144.3L115.6 143.5L114 142.3L112.5 140.4L107.4 131.5L107.5 130.5L107.9 130ZM166 143.5L170.5 143.3L174.5 143.3L179 143.6L182.5 144.1L184.5 144.7L186.2 145.5L187 146.5L187.2 147L187.1 148L186.6 149L185.5 150L182.7 151.5L167.5 156.7L159 160.1L155.5 161L149.5 163.7L146.5 165.4L145 166.7L143.8 168.5L141.3 176L139.8 179L138 181.4L135.5 183.4L133 184.5L131.5 184.8L130 184.8L128.5 184.6L127.5 184.2L125.9 183L124.1 180.5L122.9 177.5L122.4 175L122.5 174L122.9 173L124.1 171.5L126.4 170L129.5 168.5L137.1 165.5L138.9 164.5L140.1 163.5L141 162.1L141.7 160.5L143.5 152L144.2 150.5L145.4 149L146.6 148L148 147.2L152 145.9L158.5 144.5ZM103.5 156L106.5 155.7L109 156L111 157.1L113 159.1L114.3 161L115.3 163L116.2 165.5L116.7 167.5L116.9 169L116.8 170L116.3 171L115.4 172L113.6 173L111 173.8L108.5 174.2L105.5 174.3L103.1 174L101.3 173.5L99.5 172.5L98.5 171.5L97.4 169.5L96.8 167L96.8 164L97.4 161L98.4 159L99.5 157.8L101 156.8ZM179.6 177L182.5 177L185 177.4L187 178.3L188.3 179.5L189.3 181.5L189.5 183.5L188.9 185.5L187.7 187L185.9 188.5L179.5 192.2L176.9 194L175.5 195.5L174 198.5L173 199.5L172 199.7L169.5 199.7L164.5 199.1L161.2 198L159 196.5L158.3 195.5L158 194.5L158 193L158.3 191.5L159.7 188.5L161.1 186.5L162.6 185L166.3 182L170.5 179.6L175 177.9ZM109.8 195.5L112.5 195.2L114.5 195.2L116.3 195.5L117.6 196L119 197L119.8 198L120.5 199.5L120.8 201L120.9 203L120.7 205.5L120 208L119 210.5L117.5 212.9L116 214.6L114.5 215.8L113 216.3L111.5 216.3L109.5 215.7L107 214.3L103.7 212L101.9 210.5L100.6 209L99.8 207.5L99.3 205.5L99.2 203.5L99.7 201.5L100.4 200L101.5 198.7L103 197.6L105 196.7L107.3 196ZM271.5 202.5L273 202.2L274.5 202.1L278.5 202.9L280 203L285 202.1L287 202L289.5 202.5L294 204.4L295 204.4L298 203.6L299.5 203.6L301 204.1L302 204.8L302.7 206L302.8 207L302.5 208L301.8 209L301 209.6L300 209.9L299 209.9L297.5 209.5L295 207.7L294 207.2L293.5 207.2L292.5 207.7L290.6 209L289 209.8L288 210.1L286.5 210.1L284.5 209.6L281.5 207.6L280 207.1L279 207.3L275.5 209.4L274.5 209.7L273 209.8L271.5 209.4L270.1 208.5L268.7 207L268.3 206L268.3 205L268.9 204L270 203.2ZM221.2 204L222.5 203.7L224 203.7L225 203.9L226.3 204.5L227 205.1L227.7 206L227.9 207L227.6 208L226.6 209L224.5 210L222.5 210.1L220.5 209.4L218.9 208L218.6 207.5L218.5 206.5L218.7 206L219.5 205ZM147.6 205L149.5 204.7L151 204.9L152.5 205.6L153.5 206.5L154.5 208.1L155.1 209.5L155.5 211.1L156 214.9L156.2 220L156.1 225L156 228L155.5 232L154.5 235.1L153.5 236.8L152 238.1L150.5 238.6L149 238.5L147 237.9L145 236.6L143.5 235L142 232.5L141 230L140.3 227L139.8 224L139.7 220.5L139.9 217L140.4 214L141.2 211.5L142.5 209L144 207.2L145.5 206ZM202.2 209L203.5 208.8L205 208.8L206.9 209.5L207.6 210L208.4 211L209.1 213L209.5 215.5L209.6 219L209.6 224L209.3 227.5L209 229.5L208.5 231L208 232L207 233L205.5 233.7L203.5 233.9L201 233.4L197.5 232.1L193.5 230L188.3 226L183 223.8L182 223.3L181.1 222.5L180.8 222L180.7 221L181.3 220L182 219.4L183.5 218.6L187 217.4L188.5 216.7L193.2 213L196 211.4L199 210.1ZM241.1 211L243.5 210.7L248.5 211.2L254 210.6L256 211.1L257.5 212.3L258.4 214L258.9 216L259.6 226.5L259.3 229.5L258.9 230.5L258 231.5L256.5 232.3L254.5 232.7L253 232.7L248.5 232.3L243 232.6L240.5 232L239.5 231.5L238.5 230.5L237.6 228.5L237.2 226L237 220.5L237.2 216.5L237.7 214.5L238.5 212.8L239.5 211.8ZM414.9 217.5L416.5 217.2L418.5 217.3L419.5 217.7L420.5 218.8L421 220.5L420.9 223L420.5 224.2L419.5 225.3L418 225.8L416 225.8L414.5 225.2L413.8 224.5L413.3 223.5L413.1 222.5L413.2 220L413.8 218.5ZM459.4 218.5L460.5 218.3L462 218.3L463 218.8L463.6 219.5L463.9 220.5L463.9 222.5L463.5 223.7L462.6 224.5L461.5 224.7L460 224.7L459 224.2L458.4 223.5L458.1 222.5L458.1 220.5L458.5 219.3ZM366.8 219.5L368 219.1L369 219.1L370 219.3L371 219.9L371.5 220.5L371.9 221.5L371.7 222.5L371.5 223L370.5 223.9L369 224.3L367.5 224.2L366.5 223.7L365.5 222.6L365.3 221.5L365.7 220.5ZM110.2 228L111.5 227.6L113 227.7L114.5 228.3L115.5 229.1L116.8 230.5L118 232.1L119.9 236L120.6 238.5L120.9 240.5L121 242.5L120.8 244.5L120.5 246L119.8 247.5L118.9 248.5L117.5 249.2L115.5 249.5L112.5 249.4L109 248.7L106 247.8L103.5 246.7L101.9 245.5L100.6 244L99.9 242.5L99.4 240.5L99.4 238.5L99.9 236.5L101 234.5L102.4 233L104.9 231L108 229ZM284.6 229.5L286.5 229.1L288.5 229.2L290 229.7L293 231.2L294 231.4L295 231.2L298 230.1L299.5 229.9L301 230.1L302.8 231L303.8 232L304.3 233L304.2 234L303.8 235L302.5 236.3L301.5 236.8L300 237.2L298 236.9L294 235L292.5 235.2L289.4 236L286.5 236.2L283.8 236L279.5 234.7L278.5 235.1L275.5 237.1L274 237.6L273 237.6L271.5 237.3L270.5 236.7L269.7 236L269.1 235L269 234L269.2 233L270 232L271.7 231L273.5 230.7L275 230.8L276.7 231.5L278.5 232.6L279.5 232.8L282.6 230.5ZM221.7 233.5L223 233.3L224.5 233.4L226 234L226.8 234.5L227.8 235.5L228 236L228.1 237L227.6 238L226 239.3L224 240L222 239.9L219.9 239L219.3 238.5L218.5 237.5L218.3 236.5L218.4 236L218.7 235.5L219.7 234.5ZM162.6 244.5L165.5 244.3L168.5 244.5L171.5 244.8L173 245.3L174 246.5L175.5 249.3L176.5 250.4L178.5 251.8L184.3 255.5L186.6 257.5L187.4 259L187.8 261L187.5 262.5L186.7 264L185 265.3L182.5 266.1L179.5 266.4L176 266L172.1 265L168.5 263.5L165 261.6L162.2 259.5L159.5 257L157.7 254.5L156.2 251L155.8 248L156 246.5L156.5 245.8ZM265.3 247.5L267.5 247.6L270.7 248.5L272.5 248.7L274 248.5L277 247.6L278.5 247.4L286.5 247.8L295 247.5L299 248.5L300.5 248.7L302 248.6L306 247.7L309.5 247.8L314.5 248.8L319.7 250.5L322.2 252L323 253L323.2 254L322.9 255L322.6 255.5L321.4 256.5L319.5 257.4L317 258.1L312 258.7L296.5 259.4L288.5 259.2L276.5 259.4L255.5 258.9L252 258.3L249 257.4L246.6 256L245.4 254.5L245.3 253L246 251.4L247.5 249.7L249.5 248.6L252 248.2ZM126 256.5L128.5 256.2L131.5 256.9L134 258L136.5 260L138 261.9L139.2 264L142 271.5L143 273.6L144.5 275.6L146.6 277.5L149.8 279.5L155.5 282.5L159 283.8L165.5 286.8L176.6 291.5L179.7 293L182.1 294.5L183 295.5L183.6 297L183.3 298L182.1 299L181.1 299.5L178 300.2L173 300.7L166.5 300.6L160 300L153.5 298.9L149 297.6L145.7 296L144.1 294.5L142.8 292.5L142 290.5L139.8 283L138.8 281L137.6 279.5L136 278.1L134 276.9L123.2 272L121.6 271L120.7 270L120.4 269L120.5 267L121.2 264L122.2 261L123 259.3L124 257.8L125 257ZM104.9 269.5L109.5 269.5L113.5 270.3L115 270.9L115.9 271.5L116.3 272L116.6 273L116.4 275L115.7 277.5L114.6 280L113.2 282.5L112 284L110.5 285.4L109 286.2L107.5 286.6L105.5 286.7L103.5 286.4L101.5 285.8L100 285L98.9 284L98.1 283L97.4 281.5L97.1 280L96.9 278L97 276L97.5 274L98.3 272.5L99.5 271.3L100.8 270.5L102.5 269.9ZM271 270.5L273 270.3L278 270.5L301.5 270.4L310 272.2L312.3 273L313.1 273.5L314.2 274.5L314.8 275.5L315 277L314.5 278.5L313.2 280L311.5 281.1L309.1 282L305.5 282.6L299.5 282.6L293.5 283.1L286.5 282.8L280 283.1L274 282.6L269 282.7L267 282.6L264.5 282.1L262 281.2L260 280L259 279L258.3 277.5L258.2 276L259 274.5L260.1 273.5L261.5 272.7L263 272.3ZM284.3 296L286 295.8L288 295.9L293 297L300.1 298L303.2 299L304 299.5L304.3 300L304.3 300.5L303.9 301L303 301.5L300.5 302.3L293 303.5L288.5 304.7L286.5 304.9L284.5 304.6L280 303.5L272.5 302.3L270.2 301.5L269.3 301L268.9 300.5L268.9 300L269.2 299.5L271.2 298.5L274.5 297.7L280.5 296.9ZM116.8 299.5L118.5 299.2L120.5 299L125.5 299.4L129.5 300.5L131 301.2L132.1 302L133 303L133.5 304L134 305.5L134.1 307L133.9 309L133.5 310.9L132.8 312.5L132.1 313.5L130.5 314.7L128.5 315.5L125.5 316L121.5 316.2L117.5 315.9L114 315.2L111.5 314.3L109.4 313L108.6 312L108.3 310.5L108.7 308.5L109.8 306L111.4 303.5L113 301.7L115 300.2ZM149.2 322.5L154.5 322.2L160 322.4L165.7 323L170.3 324L174.3 325.5L176.4 327L177.4 328.5L177.5 329.5L177.4 330.5L176.9 331.5L176 332.5L173.5 334.3L170 335.7L166 336.7L161.5 337.3L156.5 337.4L152 337L147.5 336.1L144 334.7L142 333.1L141.2 332L140.6 330.5L140.4 329L140.5 328L141.2 326L142 325L143 324.2L145.5 323.2Z"/>
<path fill="#fae7db" d="M114.1 127L130.8 127L132 128.2L133 129.8L133.7 131.5L134.2 133.5L134.4 135.5L134.4 137.5L134.1 139L133.4 140.5L132 142L130.5 142.8L128.5 143.5L125.5 144.1L122.5 144.4L119.5 144.3L117.5 143.9L115.5 142.9L113.9 141.5L112.1 139L110.1 135L109.3 132.5L109.2 131.5L109.6 130.5L111.1 129ZM164.6 144L169 143.7L173 143.7L177 144L180.3 144.5L182.5 145.1L184.2 146L185 147L185 148L184.5 149L183.4 150L180.6 151.5L166.5 156.6L159 159.7L155.5 160.6L148.7 163.5L145.7 165L144.4 166L143.5 167.3L142.9 169L141.5 174L140.5 176.7L139 179.5L137.2 181.5L136 182.5L134.5 183.3L133 183.9L131.5 184.1L130 184.1L128.5 183.8L127.5 183.3L126.4 182.5L124.9 180.5L123.7 177.5L123.4 175L123.6 174L124 173L125.3 171.5L127.5 170L130.7 168.5L138.6 165.5L140 164.7L140.9 164L141.6 163L142.1 161.5L143.3 155L144 152.5L144.7 151L145.8 149.5L148 147.9L152 146.3L158 144.9ZM103.2 156.5L106.5 156.1L109 156.5L111 157.6L113 159.7L114.1 161.5L115 163.5L115.7 165.5L116.1 167.5L116.1 169L115.9 170L115.3 171L114.2 172L112.2 173L110 173.6L107.5 173.9L105 173.9L103 173.6L101.2 173L100 172.3L98.8 171L97.8 169L97.3 166.5L97.3 164L97.8 161.5L98.5 159.9L99.5 158.5L101 157.4ZM178.8 177.5L181.5 177.4L184 177.8L186 178.6L187.5 179.9L188.4 181.5L188.6 183.5L188.1 185.5L187 187L185.2 188.5L179 192.2L176.6 194L175.5 195.2L174 198L173 199L172 199.2L170 199.2L165.5 198.7L162.5 197.8L160.4 196.5L159.5 195.5L159 194.5L158.8 193L159 191.5L159.5 190L160.3 188.5L162.6 185.5L166.1 182.5L170 180.2L174.5 178.4ZM108.8 196L111.5 195.6L113.5 195.6L115.5 195.8L117 196.3L118.1 197L119.1 198L119.9 199.5L120.3 201L120.5 203L120.3 205.5L119.6 208L118.8 210L117.5 212.2L116 214L114.5 215.2L113 215.8L111.5 215.8L109.5 215.2L107 213.9L104.5 212.2L102.5 210.5L101.2 209L100.4 207.5L99.9 206L99.8 204L100 202.5L100.5 201L101.5 199.5L102.5 198.5L104.1 197.5L106.5 196.6ZM272.5 202.5L275 202.4L278.5 203.4L280 203.5L285 202.4L286.5 202.3L288 202.4L289.9 203L291.7 204L292.9 205L293.3 205.5L293.3 206L292 207.5L290.3 209L289 209.7L288 210L286.5 210.1L285 209.7L283.7 209L281.5 207.3L280 206.7L279 207L276.9 208.5L275.5 209.3L274 209.7L272.5 209.6L271 209L269.8 208L268.8 206.5L268.7 205.5L269.1 204.5L270 203.6L271.5 202.8ZM222.1 204L223.5 203.9L225 204.2L226 204.7L226.9 205.5L227.5 206.5L227.4 207.5L226.9 208.5L226.3 209L224.5 209.9L223 210.1L221 209.6L219.6 208.5L219.2 208L218.9 207L219.1 206L220.5 204.6ZM298.1 204L299.5 204L300.5 204.2L301.5 204.9L302 205.5L302.4 206.5L302.3 207.5L301.9 208.5L301 209.3L299.5 209.7L298 209.4L296.5 208.5L294.9 206.5L294.7 206L295.6 205L297 204.3ZM147.2 206L149 205.7L150.5 205.9L152 206.7L153.4 208L154.3 209.5L155 211.2L155.5 213.3L155.9 217L155.9 225L155.5 229.5L155 231.7L154 234.1L152.6 236L151 237.1L149.5 237.4L148 237.3L146 236.4L144.5 235.2L143 233.3L142 231.5L141 228.7L140.4 226L140.1 223L140 220L140.2 217L140.7 214.5L141.5 212L142.5 210L144 208L145.5 206.8ZM201.3 209.5L203 209.2L204.5 209.1L206 209.5L207 210.1L207.9 211L208.5 212L209.2 215L209.4 218.5L209.4 223.5L209.3 226.5L208.9 229L208.4 230.5L207.5 232L206 233.1L204.5 233.5L203 233.5L201 233.1L198 232.1L195.5 231L193 229.5L188.5 225.9L182.5 223.2L181.7 222.5L181.3 221.5L181.5 220.5L182.5 219.5L188.5 216.9L193 213.4L195.5 211.8L198 210.6ZM242.4 211L244 210.9L248.5 211.3L252.5 210.9L254 210.9L256 211.5L257.5 212.8L258.3 214.5L258.8 217L259.3 226.5L259.3 228L258.9 229.5L258.4 230.5L257.5 231.4L256 232.1L254 232.5L248.5 232.1L243.5 232.4L242 232.2L240.5 231.7L239.5 231L238.6 230L237.7 228L237.3 225L237.2 219.5L237.5 216L238.1 214L239 212.7L240.5 211.6ZM416.1 219.5L417.5 219.4L418.1 219.5L418.7 220L419 221L419 222L418.7 223L418.1 223.5L416.5 223.6L416 223.5L415.4 223L415.1 222L415.1 221L415.4 220ZM110.1 228.5L111.5 228.2L113 228.3L114 228.6L115.5 229.7L116.7 231L118 232.8L119.7 236.5L120.5 240.5L120.5 242.5L120.3 244.5L119.8 246L119 247.3L118 248.2L117 248.7L115 249.1L112 249L109 248.4L106 247.4L104 246.5L102.1 245L101 243.5L100.3 242L100 240L100.1 238L100.7 236L101.6 234.5L103 233L105.5 231L108 229.5ZM284.7 229.5L286.5 229.1L288.5 229.3L290 229.8L293 231.5L294 231.8L298 230.2L299.5 230L300.5 230.2L302 230.7L303 231.5L303.7 232.5L303.9 234L303.1 235.5L302 236.4L301 236.9L299.5 237.1L297.5 236.6L294 234.8L293 234.9L289.3 236L286 236.2L284 236L282.1 235.5L279.5 234.2L279 234.4L277.1 236L275.5 237L274.5 237.4L273 237.5L272 237.3L271 236.9L270 236L269.4 235L269.3 233.5L269.8 232.5L270.9 231.5L271.9 231L273.5 230.7L275.3 231L277.3 232L279 233.3L279.5 233.3L282.7 230.5ZM222.3 233.5L223.5 233.4L225 233.7L226 234.2L227 235L227.4 235.5L227.7 236.5L227.4 237.5L226.7 238.5L225 239.5L223 239.8L221 239.3L220 238.7L219.3 238L218.8 237L218.7 236.5L219.1 235.5L220.5 234.2ZM164.6 245L168 245L171 245.3L172.5 245.7L173.5 246.3L175.4 249.5L176.5 250.7L183.5 255.5L185.7 257.5L186.5 259L186.8 260.5L186.6 262L185.8 263.5L184 264.9L182 265.6L179 265.9L175.5 265.5L172 264.6L168.5 263.2L165 261.2L162.1 259L159.7 256.5L158 254L157 251L156.8 249.5L156.9 248.5L157.5 247.3L159.7 246L162 245.3ZM277.9 247.5L286.5 247.8L295 247.5L299 248.5L300.5 248.7L302 248.6L306 247.8L310 248.2L315 249.3L319 250.8L320.3 251.5L321.5 252.5L321.9 253L322.2 254L321.8 255L321.4 255.5L320 256.6L317 257.7L313.5 258.3L298.5 259.3L284.5 259.2L277 259.4L259 258.8L254 258.3L251 257.6L248.5 256.5L247.2 255.5L246.3 254L246.5 252.5L247.5 251L249.5 249.6L251.5 249L254 248.6L266 247.7L267.5 247.8L271 248.6L272.5 248.8L274 248.6ZM126.1 257.5L127 257.2L128.5 257L131 257.4L133.5 258.4L136 260.3L137.5 262.1L138.9 264.5L142.5 274L143.9 276L145.7 277.5L148.9 279.5L155 282.7L159 284.2L175 291.5L177.9 293L180 294.5L180.9 295.5L181.3 296.5L181 297.7L180.1 298.5L179.1 299L175.5 299.9L171 300.2L165 300.1L159 299.5L153.5 298.5L149 297.1L146.1 295.5L144.5 294L143.2 292L142.3 289.5L140.2 282.5L139.3 280.5L138.1 279L136.9 278L135 276.8L124.6 272L123 270.9L121.9 269.5L121.5 268.5L121.4 267L121.7 265L122.4 262.5L123.2 260.5L124 259.2L125 258.2ZM103.8 270L108 269.8L112 270.4L113.5 270.9L114.5 271.5L115.3 272.5L115.7 273.5L115.7 275L115.3 277L114.4 279.5L113.4 281.5L112.4 283L111 284.5L109.5 285.5L108 286L106.5 286.3L104.5 286.1L102.5 285.7L101 285L99.6 284L98.8 283L97.7 280.5L97.4 278.5L97.5 276.5L97.8 275L98.5 273.3L99.5 272L100.5 271.2L102 270.5ZM271.3 270.5L273.5 270.3L278 270.5L301.5 270.4L309.5 272.3L311.5 273L312.5 273.6L313.6 274.5L314.2 275.5L314.4 277L313.9 278.5L312.5 280L310.9 281L308.5 281.9L305 282.5L299.5 282.5L293.5 283L286.5 282.8L280 283L274 282.5L267.5 282.4L265 282L262.5 281.1L260.7 280L259.6 279L258.9 277.5L258.9 276L259.3 275L260.5 273.7L263 272.5ZM286.1 296L288.5 296.2L293 297.5L298.5 298.5L301 299.5L301.4 300L301.4 300.5L300.5 301.2L298.5 301.9L293 302.9L288.5 304.4L286.5 304.6L284.5 304.3L280 302.9L274.5 301.8L272.5 301.1L271.8 300.5L271.8 300L272.2 299.5L274 298.7L280 297.5L284 296.3ZM118.9 299.5L123 299.5L127 300.1L130 301.2L131.3 302L132.3 303L132.9 304L133.4 305.5L133.5 308.5L132.7 311.5L132 312.7L131 313.8L129.5 314.7L127 315.5L124 315.8L120.5 315.8L117 315.4L114 314.7L111.5 313.6L110.2 312.5L109.4 311L109.3 309L109.9 307L111.2 304.5L112.8 302.5L114.5 301L116.5 300ZM149.1 323L154 322.6L159 322.7L164 323.1L168.4 324L171.6 325L174.3 326.5L175.7 328L176.1 329L176 330L175.7 331L174.9 332L173 333.5L170 334.9L166 336L161.5 336.7L157 336.8L152.5 336.4L148.5 335.7L145.3 334.5L143 333L142.2 332L141.6 331L141.3 330L141.3 328.5L141.9 326.5L142.7 325.5L143.5 324.8L146 323.7Z"/>
<path fill="#fae4d7" d="M115.6 127L129.6 127L130 127.3L131.3 128.5L132.4 130L133.1 131.5L133.7 133.5L133.9 135.5L133.8 137.5L133.5 139L132.7 140.5L131.5 141.7L129.5 142.8L127 143.5L124.5 143.9L121.5 144L119 143.8L117 143.2L115.5 142.3L114 140.9L112.4 138.5L111 135.5L110.4 133L110.6 131.5L111.1 130.5L112.6 129ZM163.6 144.5L171 144.1L174.5 144.3L177.5 144.7L180 145.4L181.5 146L182.6 147L182.8 148L182.3 149L181.3 150L179.6 151L176.3 152.5L159 159.2L156 160L148 163.1L145 164L144 164.2L143.5 164L143.2 163L143.2 161.5L144 155L144.9 152L146.5 149.8L149 148L152.5 146.6L158 145.3ZM103.1 157L106 156.5L108.5 156.8L110.8 158L112.7 160L113.6 161.5L114.6 163.5L115.2 165.5L115.5 167L115.5 168.5L115.2 169.5L114.5 170.8L113.5 171.7L112 172.5L110 173.2L107.5 173.5L105 173.5L103 173.2L101.5 172.6L100 171.6L99.1 170.5L98.2 168.5L97.8 166.5L97.8 164L98.2 162L99 160.1L100 158.8L101.5 157.7ZM140 166L141.5 165.8L142 166.2L142.1 167L142 169L141.5 172L140.7 175L139.6 177.5L138.4 179.5L137.5 180.6L136 181.8L134.5 182.7L133 183.2L131.5 183.5L130 183.4L128.7 183L127.5 182.3L125.8 180.5L125 179L124.5 177.5L124.3 175L124.8 173.5L125.4 172.5L127.5 170.7L130.5 169.1L135 167.4ZM178 178L180.5 177.9L183 178.2L185 178.9L186.5 180L187.4 181.5L187.8 183.5L187.3 185.5L186.2 187L183.7 189L178.5 192.3L176.5 193.7L175.4 195L174 197.5L173 198.4L172 198.6L170 198.6L166 198.1L163 197.2L161.1 196L160.3 195L159.8 194L159.6 193L159.7 191.5L160.1 190L160.9 188.5L163.2 185.5L166 183L170 180.5L174 178.9ZM111.3 196L113.5 196L115 196.2L116.5 196.7L117.8 197.5L118.7 198.5L119.5 200L119.9 201.5L120 203L119.9 205L119.4 207.5L118.6 209.5L117.5 211.5L116.3 213L115 214.2L113.5 215L112 215.3L110.5 215.1L108.5 214.3L106 212.8L103.7 211L102.2 209.5L101.2 208L100.6 206.5L100.4 205L100.5 203L101 201.5L101.8 200L103 198.8L104.5 197.8L106.5 197L109 196.3ZM285.9 202.5L288 202.6L289.5 203.1L291 204L291.9 205L292.2 205.5L292.1 206.5L291.5 207.5L290.6 208.5L289.1 209.5L287 210L285 209.6L283.2 208.5L281 206.5L280 206.1L279 206.5L276 209L274.5 209.5L273 209.6L271.5 209.2L270.5 208.5L269.6 207.5L269.1 206.5L269.1 205.5L269.6 204.5L270.6 203.5L272.5 202.7L274 202.6L275.5 202.8L279 204.1L280 204.3L284 202.8ZM221.3 204.5L222.5 204.2L223.5 204.1L225.5 204.7L226.9 206L227.2 207L226.9 208L226 209L225.2 209.5L224 209.9L222.5 209.9L221 209.4L219.9 208.5L219.3 207.5L219.3 207L219.5 206L219.9 205.5ZM297.7 204.5L299 204.3L300 204.4L301 204.9L301.6 205.5L302 206.5L302 207.5L301.5 208.4L301 208.9L300 209.4L298.5 209.3L297.5 208.9L296.5 208L295.9 207L295.9 206L296.7 205ZM146.8 207L148.5 206.7L150 206.8L151.5 207.6L153 209L154 210.6L154.8 212.5L155.4 215L155.7 217.5L155.8 221.5L155.6 225.5L155.3 228.5L154.6 231L153.5 233.3L152.1 235L150.5 236.1L149 236.4L147.5 236.2L146 235.5L144.5 234.3L143.1 232.5L142 230.5L141.3 228.5L140.7 226L140.4 223L140.3 220L140.5 217.5L141 214.8L141.7 212.5L142.8 210.5L144 208.9L145.5 207.6ZM202.7 209.5L205 209.6L206 210L207 210.6L207.8 211.5L208.3 212.5L209 215L209.2 218L209.3 222L208.9 227.5L208.5 229.4L208 230.6L207.4 231.5L206.2 232.5L204.5 233.1L202.5 233.1L199.5 232.4L196.5 231.3L193.3 229.5L188.5 225.6L183.7 223.5L182.9 223L182 222L181.9 221.5L182 220.7L183 219.6L188.8 217L194.6 212.5L198.5 210.6L201 209.8ZM241.5 211.5L243.5 211.1L248.5 211.4L253.5 211.1L255.5 211.6L256.5 212.2L257.2 213L258.1 214.5L258.6 217L259.1 225.5L259 227.5L258.7 229L258.3 230L257.4 231L256 231.8L254 232.2L248.5 232L244 232.2L242.5 232L241 231.5L240 231L239 230L238 228.1L237.5 225.5L237.4 220.5L237.6 217L238.1 215L238.8 213.5L240 212.3ZM110.1 229L111.5 228.7L112.5 228.7L114 229.2L115 229.9L116.5 231.4L117.5 232.7L118.5 234.5L119.3 236.5L119.8 238.5L120.1 240.5L120.1 242.5L119.8 244L119.4 245.5L118.5 246.9L117.5 247.7L116.5 248.2L114.5 248.6L112 248.6L109 248L106.5 247.2L104.5 246.3L102.8 245L101.6 243.5L101 242L100.6 240.5L100.6 238.5L101.1 236.5L101.9 235L103.5 233.1L105.5 231.5L108 229.9ZM284.9 229.5L287 229.2L289 229.5L290.3 230L293 231.8L294 232.2L298 230.4L299.5 230.2L300.5 230.3L301.5 230.6L302.7 231.5L303.4 232.5L303.6 234L303.2 235L302 236.2L301 236.7L299.5 236.9L297.5 236.5L294 234.4L293 234.6L291 235.5L289.5 235.9L286.5 236.2L284.5 236.1L283 235.7L281.2 235L280.5 234.5L280.1 234L280 233.5L280.7 232.5L282.9 230.5ZM272.2 231L274 230.8L276.2 231.5L278.1 233L278.6 234L278.4 234.5L276.9 236L275 237.1L273 237.4L271.5 237L270.5 236.3L269.9 235.5L269.4 234L269.7 233L270.4 232ZM221.1 234L222.5 233.6L223.5 233.5L225.5 234.1L226.1 234.5L227 235.5L227.3 236.5L227 237.5L226 238.7L224.5 239.4L222.5 239.5L220.9 239L219.7 238L219.4 237.5L219.1 236.5L219.4 235.5L219.7 235ZM162.4 246L165 245.6L168 245.6L171 246L173 246.6L174 247.6L175.1 249.5L176 250.7L182.8 255.5L184.8 257.5L185.6 259L185.8 260.5L185.5 262L185 263L183.5 264.3L181.5 265.1L179 265.4L176 265.2L173 264.6L170 263.5L167 262L164 260L161.7 258L159.6 255.5L158.5 253.5L157.8 251L157.9 249.5L158.6 248L160 246.9ZM278.3 247.5L286.5 247.8L295 247.5L299 248.6L300.5 248.8L302 248.7L305.5 248L309 248.3L313.5 249.2L318 250.9L319.2 251.5L320.4 252.5L320.8 253L321.1 254L320.8 255L320.3 255.5L318.9 256.5L316.2 257.5L312.5 258.2L298.5 259.3L284.5 259.2L277 259.4L259.5 258.6L255 258.1L252 257.4L249.7 256.5L248.2 255.5L247.8 255L247.3 254L247.6 252.5L248.5 251.3L250 250.3L252.5 249.4L261.5 248.3L266 247.9L268 248L271.5 248.8L273 248.8L277 247.7ZM127.6 258L130 257.9L132.5 258.7L134.5 259.8L136.5 261.7L137.7 263.5L139 266L141.8 274.5L142.8 276L144 277.2L146.9 279L155 283.1L159 284.6L175.3 292.5L177.5 294L178.5 295L179 296L179.1 296.5L178.7 297.5L178 298.1L176.5 298.7L173 299.5L168.5 299.7L163.1 299.5L158 298.9L153 297.9L149 296.5L146.5 295L145 293.5L143.5 291.1L142.5 288.3L140.6 281.5L140 280L139 278.6L137.6 277.5L136 276.6L128.9 273.5L126 272L123.9 270.5L122.8 269L122.3 267.5L122.3 266L122.7 264L123.4 262L124.2 260.5L125 259.4L126.2 258.5ZM103.3 270.5L107 270.1L109 270.2L111 270.6L112.5 271.1L113.5 271.7L114.3 272.5L114.8 273.5L115.1 275L114.9 276.5L114.3 278.5L113.5 280.5L112.2 282.5L111 283.9L110 284.7L108.5 285.4L107 285.8L105.5 285.8L103.5 285.5L102.1 285L101 284.4L99.9 283.5L99.1 282.5L98.4 281L98.1 279.5L97.9 277.5L98.2 275.5L98.7 274L99.5 272.8L100.5 271.8L101.8 271ZM271.6 270.5L273.5 270.4L278 270.5L286.5 270.4L295.5 270.5L299.5 270.4L301.5 270.5L309.4 272.5L311.5 273.4L312.4 274L313.3 275L313.7 276L313.8 277L313.3 278.5L312.5 279.5L311 280.6L308.5 281.6L305 282.3L299 282.4L293.5 283L286.5 282.8L280 283L274 282.4L268 282.3L265.5 281.8L263.5 281.2L261.5 280.1L260.3 279L259.7 278L259.4 276.5L259.9 275L260.8 274L262 273.2L263.5 272.6ZM284.3 296.5L286.5 296.2L289 296.5L293 298.1L297.6 299.5L298.1 300L298.1 300.5L297 301.2L293 302.3L289 304L286.5 304.3L284 303.9L280 302.2L276 301.1L275.1 300.5L275.1 300L275.6 299.5L276.9 299L280 298.2ZM118.3 300L122 299.8L126 300.3L128 300.8L129.5 301.5L131.5 303L132.2 304L132.7 305L133 306.5L133 308L132.8 309.5L132.3 311L131 313L129.5 314.1L127.5 314.9L124.5 315.5L121.5 315.6L118 315.2L115 314.6L112.6 313.5L111.3 312.5L110.3 311L110 309.5L110.3 307.5L111.2 305.5L112.5 303.5L114 302L116 300.7ZM154.3 323L158.5 323L163 323.4L166.5 324L169.9 325L172 326L173.9 327.5L174.6 329L174.4 330.5L173.8 331.5L172.7 332.5L171.2 333.5L169.5 334.3L165 335.5L160 336.1L154.5 336L149.5 335.2L146 334L144.4 333L143.3 332L142.4 330.5L142.2 328.5L142.6 327L143.9 325.5L145.7 324.5L148 323.8L151 323.3Z"/>
<path fill="#fbe2d4" d="M117.3 127L128.3 127L130 128.1L131 129.1L132 130.6L132.7 132L133.2 134L133.4 136L133.3 137.5L132.8 139L131.9 140.5L130.8 141.5L129 142.5L126.5 143.2L123.5 143.6L121 143.6L119 143.3L117 142.7L115.5 141.7L114 140.1L112.7 138L111.7 135.5L111.3 133L111.7 131.5L112.8 130L114.5 128.6ZM162.9 145L169.5 144.6L175 145L177.2 145.5L179 146.2L180.2 147L180.6 148L180.5 148.5L179.8 149.5L178.5 150.5L176.7 151.5L159.5 158.6L156 159.5L151 161.4L148 162.3L146 162.5L144.9 162L144.4 161L144.2 159.5L144.5 155.5L145.5 152.4L146.3 151L147.2 150L149.5 148.4L153 147L158 145.8ZM107 157L108.5 157.3L110 158L111 158.8L112.2 160L113.2 161.5L113.9 163L114.6 165L114.9 166.5L114.9 168L114.2 170L113.4 171L112.5 171.7L110 172.7L108 173.1L106 173.2L104 173L102.4 172.5L101 171.7L100 170.8L99.1 169.5L98.6 168L98.3 166L98.3 164L98.7 162L99.5 160.3L100.6 159L102 158L104 157.2ZM137.2 167.5L139 167.3L140 167.5L140.6 168L141 169L141 171L140.6 173.5L139.8 176L138.8 178L137.7 179.5L136.5 180.7L134 182.2L132.5 182.6L131 182.7L129.5 182.4L128.5 182L126.8 180.5L126 179.3L125.5 178L125.1 175.5L125.7 173.5L126.4 172.5L127.4 171.5L129.8 170L133.4 168.5ZM177.5 178.5L180 178.4L182.5 178.7L184.5 179.5L185.8 180.5L186.7 182L187 183.5L186.5 185.5L185.5 187L183.1 189L176.5 193.4L175.4 194.5L174 196.9L173 197.8L170.5 198.1L166.5 197.6L164 196.8L161.9 195.5L161.1 194.5L160.6 193.5L160.4 192.5L160.6 191L161.5 188.5L163.7 185.5L166.6 183L170 180.9L173.5 179.4ZM110 196.5L113.5 196.4L115 196.7L116.5 197.3L117.5 198L118.5 199.2L119.1 200.5L119.5 202L119.6 204L119.4 206L118.8 208L117.9 210L117 211.5L115.5 213.2L114 214.2L112.5 214.7L111 214.7L109 214.1L107 213L104.8 211.5L103.2 210L102.1 208.5L101.4 207L101 205.5L101 203.5L101.4 202L102.1 200.5L103 199.5L104.2 198.5L106 197.6L108 196.9ZM272.4 203L274.5 202.8L276.8 203.5L277.7 204L278.9 205L278.9 205.5L278.8 206L277.1 208L275.5 209.1L273.5 209.6L272.5 209.4L271.5 209.1L270.7 208.5L269.8 207.5L269.4 206.5L269.4 205.5L269.9 204.5L270.4 204L271.5 203.3ZM284.4 203L286 202.7L287.5 202.8L289 203.2L290.4 204L291.3 205L291.6 206L291.4 207L290.8 208L289 209.4L287 209.9L285 209.5L283.4 208.5L281.2 206L281 205.5L281.1 205L282.2 204ZM222.1 204.5L223.5 204.4L224.5 204.6L226.1 205.5L226.7 206.5L226.8 207.5L226.3 208.5L225.7 209L224.5 209.6L223 209.8L221.5 209.5L220.2 208.5L219.6 207.5L219.7 206.5L219.9 206L220.9 205ZM297.5 205L298.5 204.7L299.5 204.6L300.5 205L301 205.3L301.5 206L301.7 207L301.4 208L301 208.5L300 209.1L299 209.1L298 208.8L297 208L296.6 207.5L296.4 206.5L296.8 205.5ZM146.4 208L148 207.6L149.5 207.7L151 208.4L152.3 209.5L153.5 211.2L154.5 213.4L155 215.3L155.4 218L155.5 221L155.4 224.5L155 227.5L154.3 230L153.4 232L152 233.8L150.5 234.9L149 235.4L147.5 235.3L146 234.7L144.5 233.5L143.5 232.2L142.5 230.5L141.7 228.5L141.1 226L140.7 223.5L140.6 220.5L140.8 218L141.2 215.5L141.8 213.5L142.8 211.5L143.8 210L145 208.8ZM201.4 210L204 209.8L205.5 210.2L206.5 210.7L207.3 211.5L208 212.6L208.5 214L208.9 216L209.1 219L209.1 223.5L208.9 226.5L208.5 228.5L207.9 230L206.9 231.5L205.5 232.4L204 232.8L202.5 232.8L200.5 232.5L198 231.7L195.5 230.6L192.9 229L188.8 225.5L183.5 223L182.9 222.5L182.4 221.5L182.7 220.5L183.5 219.7L189 217.1L194.5 212.7L197.5 211.2ZM242.6 211.5L244.5 211.3L248.5 211.6L253.5 211.4L255.5 211.9L257 213.2L258 215L258.4 217L258.9 225.5L258.8 227.5L258.4 229L257.8 230L257 230.8L255.5 231.6L253.5 232L248.5 231.8L244 232L242.5 231.7L241 231.2L239.9 230.5L239 229.5L238.1 227.5L237.7 225L237.6 220L237.9 216.5L238.6 214.5L239.5 213.1L241 212ZM110.1 229.5L111.5 229.3L112.5 229.3L114 229.8L115 230.5L116.5 232L117.5 233.5L119 237L119.5 239L119.7 241L119.5 243L119.1 244.5L118.5 245.8L117.5 246.9L116.5 247.6L115.5 247.9L113.5 248.2L111 248.1L108.5 247.5L106 246.6L104.2 245.5L103.1 244.5L102 243L101.4 241.5L101.2 240L101.3 238L101.9 236L102.9 234.5L104.2 233L106.1 231.5L108 230.4ZM285.1 229.5L287.5 229.2L289.5 229.7L290.9 230.5L293.5 232.7L294 232.9L295.9 231.5L297.5 230.7L299 230.3L300.5 230.4L301.8 231L302.9 232L303.3 233L303.3 234L302.9 235L302 236L301 236.5L299.5 236.8L298.5 236.7L297 236.1L294 233.8L290.8 235.5L288 236.1L286 236.2L284.3 236L282.5 235.5L281.4 235L280.8 234.5L280.5 234L280.4 233.5L280.9 232.5L281.8 231.5L283 230.5ZM272.6 231L274.6 231L276 231.5L276.8 232L277.8 233L278.1 233.5L278.2 234L277.7 235L276 236.5L274.5 237.1L272.5 237.2L271 236.5L270.5 236L269.8 235L269.7 233.5L270.2 232.5L270.6 232L271.5 231.4ZM221.5 234L223.5 233.7L224.9 234L225.8 234.5L226.4 235L226.9 236L226.9 237L226.3 238L225 238.9L223.5 239.3L222 239.2L220.5 238.4L219.7 237.5L219.5 236.5L219.5 236L220.1 235ZM163.7 246.5L166.5 246.2L169.5 246.4L172 246.8L173.5 247.6L176 251.1L182 255.5L183.9 257.5L184.5 258.5L184.8 260L184.6 261.5L184 262.7L182.5 263.9L180.5 264.6L178 264.9L175.5 264.7L172.5 264L169.5 262.9L166.8 261.5L164 259.5L161.8 257.5L159.9 255L159 253L158.7 251L159 249.5L160.1 248L161.9 247ZM278.5 247.5L286.5 247.8L294.5 247.5L296 247.7L299 248.6L300.5 248.8L302 248.8L305.5 248.2L308 248.4L312.5 249.3L317.1 251L319.4 252.5L319.8 253L320.1 254L319.7 255L319.3 255.5L317.7 256.5L314.7 257.5L311 258.1L298.5 259.3L277 259.4L260.5 258.5L255.5 257.9L252.5 257.1L250.5 256.3L248.8 255L248.3 254L248.3 253.5L248.6 252.5L249.5 251.5L251.2 250.5L253.5 249.8L265 248.1L267.5 248.1L271 248.8L272.5 248.8L274 248.6ZM127.5 259L128.5 258.8L130 258.8L132.5 259.4L134.5 260.6L136.5 262.7L137.7 264.5L138.8 267L139.7 270L141.1 276.5L141.8 277.5L155.5 283.8L159 285.1L172 291.5L174.4 293L176.2 294.5L176.8 295.5L176.9 296L176.6 297L176.1 297.5L175 298.1L171.5 298.9L167.5 299.2L162.5 299L158 298.5L153 297.4L149.5 296.1L147 294.6L145 292.4L143.5 289.5L142.5 286L141.1 279L140.5 277.7L139.3 277L131.5 274L128.1 272.5L125.5 270.8L123.9 269L123.4 268L123.2 266.5L123.3 265L123.8 263L124.5 261.6L125.3 260.5L126.4 259.5ZM105.9 270.5L109 270.6L110.6 271L112 271.6L113 272.2L113.7 273L114.2 274L114.4 275.5L114.2 277L113.7 279L112.7 281L111.5 282.7L110.2 284L109 284.7L107.5 285.2L106 285.4L104.5 285.3L103 284.9L101.5 284.1L100.5 283.3L99.8 282.5L99 281L98.6 279.5L98.5 278L98.5 276.5L98.9 275L99.6 273.5L100.4 272.5L101.5 271.7L103 271ZM271.9 270.5L273.5 270.4L277.5 270.5L286.5 270.4L295.5 270.5L299.5 270.4L301.5 270.5L308.6 272.5L311.1 273.5L312.7 275L313.2 276L313.3 277L312.7 278.5L311.8 279.5L310 280.7L308 281.5L304.5 282.2L299 282.4L293 282.9L286.5 282.8L280 282.9L274 282.3L268 282.1L265.5 281.6L263.5 280.9L262 280L260.5 278.5L260 277.5L260 276L260.5 275L261.5 273.9L264 272.7ZM285.5 296.5L287.7 296.5L290 297.2L293.9 299.5L294.4 300L294.4 300.5L293.8 301L290 303.2L288.5 303.8L286.5 304.1L285 303.9L283.5 303.4L280.2 301.5L278.8 300.5L278.8 300L280 299L283.5 297.1ZM118 300.5L121.5 300.1L125.2 300.5L128.5 301.5L130.7 303L131.5 304L132 305L132.4 307.5L132.3 309L131.9 310.5L131.4 311.5L130.5 312.7L129 313.8L127.5 314.5L125 315L122 315.2L119 315L116.4 314.5L114 313.6L112.3 312.5L111.2 311L110.8 309.5L110.9 308L111.5 306L112.7 304L114.1 302.5L116 301.2ZM153.4 323.5L157 323.4L161 323.6L164.5 324.1L168.1 325L170.5 326L172 327L173.1 328.5L173.1 330L172.6 331L171.7 332L169 333.6L165 334.8L160 335.5L155 335.4L150 334.6L146.5 333.3L145.2 332.5L144.1 331.5L143.3 330L143.2 328.5L143.8 327L144.7 326L146.3 325L148 324.4L150.5 323.8Z"/>
<path fill="#fbe0d0" d="M117.9 127.5L119.3 127L126.5 127L128.5 127.9L130 129L131 130.2L131.8 131.5L132.4 133L132.8 135L132.8 136.5L132.6 138L131.9 139.5L131.2 140.5L129.9 141.5L128 142.4L125.5 143L123 143.2L120.5 143.2L118.5 142.7L116.8 142L115.5 141L114 139.2L112.9 137L112.3 135L112.2 133L112.8 131.5L114 130L115.9 128.5ZM162.5 145.5L168.5 145.1L173.5 145.5L175.5 146L177 146.6L178.1 147.5L178.3 148.5L178.1 149L177.2 150L173.9 152L159.5 158.1L156 159L149.5 161.1L147.5 161.4L146.5 161.1L146 160.8L145.5 160.2L145.2 159L145.1 157.5L145.3 155.5L146.3 152.5L147 151.4L148 150.3L150 148.9L153.2 147.5L158 146.2ZM105.4 157.5L108 157.7L109.5 158.3L110.5 159L112.3 161L113.8 164L114.3 166.5L114.2 168L114 169L113.4 170L112.5 171L111.5 171.6L110 172.3L108.5 172.6L106.5 172.8L104.5 172.6L103 172.2L101.6 171.5L100.5 170.6L99.7 169.5L99.1 168L98.8 166L98.8 164L99.3 162L100 160.5L101 159.3L102.2 158.5L103.5 157.9ZM135.7 168.5L137.5 168.3L138.5 168.4L139.5 169L140 169.9L140.2 171.5L140.1 173L139.6 175L138.7 177L137 179.5L135.8 180.5L134.5 181.3L133 181.8L131.5 182L130 181.7L129 181.3L127.4 180L126.8 179L126.2 177.5L126 175.5L126.7 173.5L127.9 172L130.1 170.5L132.5 169.4ZM177 179L179.5 178.9L181.5 179.1L183.5 179.8L185 180.9L185.9 182.5L186.1 184L185.7 185.5L184.7 187L182.4 189L176.5 193L175.5 194L174 196.4L173 197.2L170.5 197.5L167 197.1L164.5 196.3L162.6 195L161.8 194L161.4 193L161.3 191L162.1 188.5L163.9 186L166.6 183.5L169.6 181.5L173 180ZM109.3 197L111 196.8L113 196.8L114.5 197L116 197.6L117.2 198.5L118 199.5L118.5 200.5L119 202L119.1 204L118.9 206L118.4 208L117.5 209.9L116.4 211.5L115 213L114 213.6L112.5 214.2L111 214.2L109.5 213.8L107.5 212.9L105.5 211.5L104 210.2L103 209L102.1 207.5L101.7 206L101.5 204.5L101.7 203L102.2 201.5L103.2 200L104.3 199L106 198ZM285.3 203L287 202.9L288.5 203.2L289.9 204L290.9 205L291.2 206L291.1 207L290.5 208L289.5 209L288.5 209.5L287.5 209.8L285.5 209.6L283.6 208.5L282.2 207L281.8 206L281.7 205.5L282.2 204.5L283.7 203.5ZM271.6 203.5L272.5 203.2L274 203L275.5 203.3L276.5 203.7L277.7 204.5L278.1 205L278.3 205.5L278 206.5L276.9 208L275 209.2L273.5 209.5L271.6 209L270.9 208.5L270 207.5L269.7 206L270.3 204.5ZM221.5 205L222.5 204.7L223.5 204.6L224.5 204.8L225.5 205.3L226.1 206L226.5 207L226.3 208L226 208.5L225 209.2L223.5 209.7L222 209.5L221 209L220.1 208L219.9 207L220.3 206ZM298.6 205L299.5 205L300.5 205.4L301.3 206.5L301.3 207.5L301 208L300 208.7L298.5 208.7L297.5 208.1L297.1 207.5L296.9 206.5L297.1 206L297.5 205.5ZM147.7 208.5L149 208.5L150.5 209.1L152 210.4L153 211.7L153.9 213.5L154.5 215.5L155 218L155.2 220.5L155.1 223.5L154.8 226L154.4 228L153.5 230.2L152.4 232L151 233.5L150 234.1L148.5 234.4L147 234.2L145.5 233.5L144.5 232.6L143.3 231L142.5 229.4L141.7 227L141.2 224.5L141 222L141 219.5L141.3 217L141.8 215L142.5 213L143.5 211.3L145 209.7L146.5 208.8ZM200.4 210.5L202 210.2L203.5 210.1L205 210.4L206 210.9L207 211.7L207.6 212.5L208.3 214L208.6 215.5L208.9 218.5L209 222.5L208.8 225.5L208.4 228L207.8 229.5L206.9 231L205.5 232L204 232.5L202.5 232.5L200.5 232.2L197.5 231.3L195.5 230.4L193.2 229L189 225.4L184.2 223L183.5 222.4L183 221.5L183.3 220.5L183.7 220L189 217.4L194.5 212.9L197 211.6ZM241.8 212L244 211.6L248.5 211.7L253 211.5L254.5 211.8L255.5 212.3L256.9 213.5L257.7 215L258.2 217L258.5 219.5L258.7 225L258.6 227L258.3 228.5L257.8 229.5L256.9 230.5L255.5 231.3L253.5 231.8L244.5 231.8L243 231.6L241.5 231.1L240.4 230.5L239.5 229.7L238.5 228L238 225.5L237.8 221L238 217.5L238.4 215.5L239.2 214L240.5 212.7ZM285.3 229.5L286.5 229.3L288 229.4L289.5 229.8L290.5 230.4L292 231.5L292.8 232.5L293.1 233.5L292.9 234L291.7 235L290.7 235.5L288 236.1L284.4 236L282.6 235.5L281.6 235L280.8 234L280.7 233.5L281.1 232.5L281.9 231.5L283.1 230.5ZM110.1 230L111.5 229.8L112.5 229.9L114 230.4L115 231.1L116 232.1L117 233.5L118 235.3L118.6 237L119.2 240.5L119.1 242.5L118.7 244L118.3 245L117.5 246.1L116.5 246.9L115 247.5L113 247.8L111 247.6L108.5 247.1L106.5 246.4L105 245.5L103.8 244.5L102.6 243L102 241.5L101.7 240L101.8 238L102.3 236.5L103.1 235L104.4 233.5L106.1 232L108 230.8ZM298.7 230.5L300 230.5L301.5 231L302.6 232L303 233L303 234L302.6 235L301.7 236L300.5 236.5L299 236.6L297.1 236L295.8 235L294.8 233.5L295.2 232.5L296.3 231.5L297.5 230.8ZM273.1 231L274.5 231.1L275.8 231.5L277.2 232.5L277.8 233.5L277.8 234.5L277.1 235.5L275.5 236.7L274 237.1L272.5 237L271.3 236.5L270.3 235.5L269.9 234.5L270 233L270.8 232L272 231.3ZM222 234L223 233.8L224 233.9L225 234.2L226.1 235L226.4 235.5L226.6 236.5L226.3 237.5L225.9 238L224.5 238.9L223 239.1L221.5 238.7L220.5 238L219.9 237L219.8 236L220.3 235L220.9 234.5ZM165.4 247L168 246.9L170.5 247.2L172.5 247.7L173.5 248.3L176 251.5L181.2 255.5L183 257.5L183.5 258.5L183.8 260L183.5 261.5L182.9 262.5L181.5 263.5L179.5 264.2L177 264.3L174.5 264.1L172 263.4L169 262.2L166.5 260.8L164 259L162 257L160.6 255L159.8 253L159.7 251L160.2 249.5L161.5 248.2L163 247.5ZM276.1 248L278.5 247.5L286.5 247.8L294.5 247.5L296 247.7L299 248.6L300.5 248.9L305 248.4L307.5 248.5L312 249.5L316.1 251L318.4 252.5L318.8 253L319.1 254L318.7 255L318.2 255.5L316.5 256.5L313.5 257.5L310 258.1L301.5 259.1L298 259.3L277 259.3L261 258.3L256 257.6L253.4 257L251.1 256L249.9 255L249.3 254L249.5 253L249.7 252.5L250.8 251.5L252.5 250.7L254.8 250L261 248.9L265.5 248.3L268 248.3L271 248.8L272.5 248.9L274 248.7ZM127.6 260L129.5 259.6L132 260.1L134 261.1L136 263.1L137.7 266L138.8 269.5L139.2 273L139 274L138.5 274.7L137.5 274.9L136.5 274.9L131.8 273.5L127.7 271.5L126.4 270.5L125.4 269.5L124.7 268.5L124.2 267L124.3 264.5L124.8 263L125.5 261.7L126.5 260.7ZM272.2 270.5L295.5 270.5L299.5 270.4L301.5 270.6L308.5 272.7L310.4 273.5L311.2 274L312.2 275L312.7 276L312.7 277L312.2 278.5L311.3 279.5L309.8 280.5L307.5 281.4L304.5 282L299 282.3L293 282.9L286.5 282.7L280 282.9L274 282.3L268 281.9L265.5 281.3L263.5 280.5L261.9 279.5L261.1 278.5L260.6 277.5L260.6 276L261 275L262 274L264.5 272.8L270.5 270.8ZM105 271L108 270.9L109.5 271.2L111 271.7L112 272.3L112.8 273L113.4 274L113.7 275L113.8 276.5L113.5 278L112.7 280L111.9 281.5L110.6 283L109.5 283.9L108.3 284.5L107 284.8L105.5 284.9L104 284.7L102.5 284.1L101.5 283.5L100.5 282.5L99.8 281.5L99.1 279L99 277.5L99.2 276L99.7 274.5L100.3 273.5L102 272L103.5 271.3ZM143.4 280.5L144 280.2L145 280.2L148.5 281.2L156 284.5L159 285.6L165.9 289L170.5 291.5L173.4 293.5L174.6 295L174.7 296L174.5 296.5L173.3 297.5L171 298.2L168 298.6L164 298.6L159.5 298.2L155.7 297.5L152.1 296.5L149.7 295.5L148 294.5L146.5 293.2L145.5 291.9L144.4 290L143.5 287.2L142.9 284L142.9 281.5ZM285.5 296.7L287 296.6L288.5 296.9L289.9 297.5L291.4 298.5L292.3 299.5L292.5 300.5L292.2 301L290.6 302.5L289.5 303.1L288 303.7L287 303.8L285.5 303.7L283.4 303L281.4 301.5L280.7 300.5L280.7 300L280.9 299.5L281.8 298.5L283.3 297.5ZM117.8 301L121 300.5L124.5 300.8L127.5 301.6L129 302.3L130 303.1L130.8 304L131.4 305L131.7 306L131.9 307.5L131.5 310L130.7 311.5L130 312.4L128.6 313.5L127 314.2L124.5 314.7L122 314.9L119 314.6L116.5 314.1L114.5 313.2L113 312.2L112 311L111.5 309.5L111.5 308L112.1 306L113 304.5L114.5 302.8L116 301.7ZM153.4 324L157 323.9L160.5 324L163.9 324.5L167 325.3L169.5 326.4L171 327.5L171.6 328.5L171.7 330L171.1 331L170.5 331.6L168 333.1L164.5 334.2L160 334.9L155.5 334.8L151.5 334.3L148 333.1L146.8 332.5L145.5 331.5L144.7 330.5L144.3 329L144.7 327.5L145.6 326.5L147 325.5L148.5 324.9L150.5 324.4Z"/>
<path fill="#fcdecc" d="M120 127.5L123 127.1L126 127.6L128.5 128.7L130.5 130.6L131.4 132L131.9 133.5L132.2 135L132.2 136.5L131.9 138L131.5 139L130.8 140L129.7 141L128 141.9L125.9 142.5L123.5 142.8L121 142.8L119 142.4L117.5 141.8L116 140.8L114.8 139.5L113.9 138L113.2 136L113 134L113.3 132.5L114.1 131L115.7 129.5L117.5 128.4ZM162.5 146L167.5 145.7L172 146.1L173.7 146.5L174.9 147L175.6 147.5L176 148.5L175.9 149L175.2 150L172.2 152L168 154L159 157.8L150 160.2L148 160.2L147.3 160L146.7 159.5L146.2 158.5L146 157.5L146.2 155L147.2 152.5L148.9 150.5L151.1 149L154 147.8L158.5 146.6ZM106.5 158L108 158.2L109 158.6L110.4 159.5L112.1 161.5L112.9 163L113.4 164.5L113.7 167L113.5 168.5L113 169.5L111.5 171L109.2 172L107.5 172.3L106 172.3L104.5 172.2L103 171.7L101.8 171L100.7 170L100.1 169L99.5 167.5L99.3 166L99.3 164L99.7 162.5L100.4 161L101.1 160L102.5 158.9L104 158.3ZM134.3 169.5L137 169.2L138 169.5L138.7 170L139.2 171L139.4 172L139.3 173.5L138.7 175.5L138 177.1L137 178.5L135 180.3L134 180.7L132.5 181.1L131 181.1L130 180.8L128.5 179.8L127.3 178L126.9 176L127.2 174.5L128.1 173L129.7 171.5L131.5 170.5ZM176.7 179.5L179 179.4L181 179.6L182.5 180.1L184 181.1L184.9 182.5L185.2 184L184.9 185.5L183.9 187L181.7 189L176 193L174 195.8L173 196.6L170.5 196.9L167.5 196.5L165 195.7L163.5 194.7L162.3 193L162.1 191L162.8 188.5L164.5 186L167 183.7L170 181.7L173.5 180.2ZM108.8 197.5L110.5 197.2L112.5 197.2L114 197.4L115.5 198L116.5 198.6L117.3 199.5L118 200.7L118.4 202L118.6 203.5L118.6 205.5L118.1 207.5L117.5 209L116.5 210.7L115.4 212L114 213L112.5 213.6L111 213.7L109.5 213.3L108 212.7L106.2 211.5L105 210.5L103.6 209L102.7 207.5L102.2 206L102.1 204.5L102.3 203L102.9 201.5L103.5 200.5L104.5 199.5L106 198.5ZM272.2 203.5L273.5 203.2L275 203.4L276 203.7L277.2 204.5L277.6 205L277.8 206L277.5 207L276.7 208L275.5 208.9L274 209.4L272.5 209.2L271 208.4L270 207L270 205.5L270.6 204.5ZM284.4 203.5L285.5 203.2L287 203.1L288.5 203.5L289.5 204L290.5 205L290.9 206L290.8 207L290.3 208L289 209.1L288 209.6L287 209.7L285.5 209.5L283.7 208.5L282.5 207L282.2 206L282.2 205.5L282.8 204.5ZM222.1 205L223 204.8L224 204.9L225.5 205.7L226.1 206.5L226.2 207L226 208L225.7 208.5L224.5 209.3L223 209.5L221.5 209.1L220.7 208.5L220.2 207.5L220.3 206.5L221 205.6ZM298.3 205.5L299.5 205.4L300.6 206L301 207L300.5 208.1L300 208.4L299 208.5L297.9 208L297.5 207.5L297.4 206.5L297.7 206ZM146.9 209.5L148 209.3L149.5 209.6L151 210.5L152 211.5L153.2 213.5L154 215.5L154.5 217.9L154.7 220L154.7 222.5L154.5 224.9L154 227.2L153.4 229L152.2 231L151 232.4L150 233.1L148.5 233.5L147 233.4L146 232.9L144.8 232L143.6 230.5L142.8 229L142.1 227L141.7 225L141.4 222.5L141.5 218L142 215.7L142.6 214L143.5 212.3L144.5 211L145.5 210.2ZM201.6 210.5L203 210.4L204.5 210.6L205.5 211L206.5 211.7L207.2 212.5L208 214L208.7 217.5L208.7 224L208.4 226.5L207.9 228.5L207.2 230L206.4 231L205 231.9L203.5 232.2L202 232.2L200 231.8L197.5 231.1L195.5 230.2L193 228.6L189 225.1L184.5 222.7L183.7 222L183.6 221.5L183.9 220.5L184.4 220L189.5 217.3L193 214.2L194.7 213L198 211.5ZM242.7 212L244.5 211.7L248.5 211.9L253 211.8L255.3 212.5L256 213L256.9 214L257.6 215.5L258.1 217.5L258.5 225L258.3 227L258 228.3L257.4 229.5L256.5 230.4L255 231.2L253 231.6L244.5 231.5L243 231.3L241.5 230.8L240.5 230.2L239.5 229.2L238.5 227L238.1 224.5L238 220L238.3 217L238.9 215L240 213.5L241 212.7ZM285.6 229.5L287 229.3L288 229.4L289.5 229.9L290.5 230.5L291.8 231.5L292.5 232.5L292.7 233.5L292.5 234L291.5 235L290.5 235.5L288 236.1L284.6 236L282.8 235.5L281.8 235L281 234L281 233.5L281.3 232.5L282.1 231.5L283.3 230.5L284.5 229.8ZM110.1 230.5L111.5 230.3L112.5 230.4L113.9 231L115 231.8L116 232.8L117 234.2L118.3 237.5L118.7 239.5L118.7 241L118.6 242.5L118.1 244L117.5 245.1L116.7 246L115.5 246.7L114.5 247.1L113 247.3L111 247.2L109 246.8L106.8 246L105.1 245L104 244L103 242.5L102.5 241L102.3 239.5L102.4 238L102.9 236.5L103.7 235L105 233.5L106.5 232.3L108.5 231.1ZM297.5 231L298.5 230.7L300 230.6L301 230.9L302 231.6L302.7 232.5L302.9 233.5L302.7 234.5L302 235.5L300.5 236.4L299 236.5L297.5 236L296.1 235L295.4 234L295.3 233L296 232ZM271.7 231.5L273 231.1L274 231.1L275 231.3L276 231.7L276.9 232.5L277.5 233.5L277.6 234L277.3 235L276 236.2L274.5 236.9L273 237L271.5 236.5L270.5 235.5L270 234L270.2 233L270.5 232.5ZM222.6 234L223.5 234L224.5 234.2L225.5 234.8L226.1 235.5L226.3 236.5L226 237.5L225.5 238L224.5 238.6L223.5 238.9L222 238.7L220.8 238L220.2 237L220.1 236L220.6 235L221.5 234.4ZM164.2 248L166.5 247.6L169.5 247.7L172 248.2L173.5 249L176 252L180.4 255.5L182.1 257.5L182.7 259L182.8 260L182.6 261L182 262L180.7 263L179 263.6L177 263.8L174.5 263.6L172 263L169.5 262L167.5 261L165.3 259.5L163.6 258L162 256L160.9 254L160.5 252.5L160.7 251L161.5 249.5L162.5 248.7ZM276.2 248L278.5 247.5L286.5 247.8L294.5 247.6L296 247.7L299 248.7L300.5 248.9L305 248.5L307 248.7L311 249.5L315.1 251L317.4 252.5L317.8 253L318.1 254L317.7 255L317.2 255.5L315.5 256.5L314 257L310.5 257.8L301.7 259L296.5 259.3L284.5 259.2L277 259.3L273 259.2L261.5 258.1L256.9 257.5L254.5 256.9L252.2 256L250.9 255L250.4 254L250.5 253L251.5 251.9L253.2 251L256 250.2L265.5 248.5L268 248.4L272.5 248.9L274 248.7ZM128 261L130 260.6L132 261L134 262.1L135.5 263.6L137 266L137.9 269L138.1 271.5L137.8 272.5L137.5 273L136.7 273.5L135.5 273.6L134 273.4L132 272.8L128.3 271L127 270L126.1 269L125.2 267L125.1 266L125.3 264.5L126.2 262.5L127 261.6ZM272.5 270.5L299.5 270.4L301.5 270.6L308 272.7L310 273.6L311.7 275L312.1 276L312.2 277L311.6 278.5L310.7 279.5L309.1 280.5L307 281.3L304 281.9L299.5 282.1L292.5 282.9L286.5 282.7L280 282.8L274 282.2L268.5 281.8L266 281.2L264.1 280.5L262.5 279.5L261.6 278.5L261.1 277.5L261.1 276L261.5 275L262.6 274L265 272.8L270.2 271ZM104.7 271.5L106.5 271.3L108 271.4L110.5 272.1L111.5 272.7L112.3 273.5L112.9 274.5L113.1 275.5L113.1 277L112.8 278.5L111.5 281.2L110.5 282.5L109.5 283.3L108.5 283.9L107 284.3L104.5 284.3L103 283.8L102 283.2L100.5 281.5L100 280.5L99.6 279L99.6 276.5L100.1 275L100.6 274L102.1 272.5L103.5 271.8ZM145.9 281.5L148 281.8L151.4 283L156 285L159 286.1L165.6 289.5L169 291.5L171.6 293.5L172.5 295L172.4 296L171.2 297L169.5 297.6L166.5 297.9L163 298L159 297.6L155.9 297L152.5 296L150 294.9L148 293.6L146.5 292.1L145.5 290.5L144.5 288.1L144 285.5L144 283.3L144.6 282L145 281.7ZM285.3 297L286.5 296.9L287.9 297L289 297.4L290.1 298L291.2 299L291.6 300L291.6 300.5L291.1 301.5L289.5 302.8L287.5 303.5L285.5 303.5L284.5 303.2L283.2 302.5L281.8 301L281.6 300.5L281.7 299.5L283.1 298ZM120.3 301L123.5 301.1L126.5 301.7L129 303L130.4 304.5L131.2 306.5L131.1 309L130.6 310.5L130 311.5L128.5 312.9L127 313.7L125 314.2L122.5 314.5L120 314.4L117.5 313.9L115.5 313.1L114 312.2L112.9 311L112.3 309.5L112.2 308L112.8 306L113.6 304.5L115 303L116.5 302L118.5 301.3ZM153.8 324.5L157 324.4L160.2 324.5L163.5 325L166 325.6L168 326.5L169.4 327.5L170.1 328.5L170.3 329L170.1 330L169 331.5L167.5 332.4L166.1 333L163 333.8L159 334.3L155 334.1L151.4 333.5L148.6 332.5L146.5 331L145.8 330L145.6 329L145.8 328L146.5 327L148 326L149.1 325.5L151 324.9Z"/>
<path fill="#fcdcc8" d="M120.8 128L123.5 127.8L126.5 128.4L128.5 129.5L129.5 130.4L130.4 131.5L131.4 134L131.6 135.5L131.5 137L130.8 139L130 140L129 140.8L127 141.7L125 142.2L122.5 142.4L120.5 142.2L118.5 141.7L117.2 141L116 140L115 138.7L114.2 137L113.7 135L113.8 133.5L114.4 132L115.5 130.7L117 129.5L119 128.5ZM163.2 146.5L167.5 146.4L171 146.8L173 147.6L173.7 148.5L173.7 149L173.5 149.5L172.7 150.5L170.5 152L166.5 154L159 157.2L151 159.2L149 159.2L148.3 159L147.7 158.5L147.1 157L147 156L147.3 154.5L148.2 152.5L150.1 150.5L152.5 149.1L155.4 148L159.5 147ZM105.7 158.5L108 158.8L109 159.2L110.2 160L111.2 161L112 162.2L113 165L113.1 167.5L112.8 168.5L112.2 169.5L110.5 170.9L108 171.8L106.5 171.9L105 171.8L103.5 171.4L102.5 170.8L101.5 170L100.7 169L100.2 168L99.9 166.5L99.8 165L100 163.5L100.5 162L101 161L101.9 160L103 159.3L104.5 158.7ZM133.3 170.5L136 170.1L137.5 170.6L138 171.1L138.4 172L138.5 173L138.3 174.5L137.3 177L136.5 178.1L135.5 179L133.5 180.1L132 180.3L131 180.1L129.5 179.3L128.5 178.2L128 176.5L128.1 175L128.8 173.5L129.7 172.5L131 171.5ZM176.6 180L178.5 179.9L180.5 180.1L182 180.7L183.2 181.5L183.9 182.5L184.3 184L184.1 185.5L183.2 187L181 189L176 192.6L174 195.2L173 196L171 196.3L168.5 196L166.5 195.5L164.5 194.4L163.6 193.5L163.1 192.5L162.9 190.5L163.5 188.5L165.2 186L167.5 183.8L170.4 182L173.5 180.7ZM108.6 198L111.5 197.6L113 197.7L114.5 198.1L115.5 198.6L116.6 199.5L117.3 200.5L117.9 202L118.1 203.5L118.1 205.5L117.6 207.5L117 209L116 210.5L115 211.6L113.8 212.5L112.5 213L111.5 213.1L110 213L108.5 212.4L106.9 211.5L105.5 210.4L104.2 209L103.6 208L102.9 206.5L102.7 205L102.8 203.5L103.3 202L103.8 201L104.7 200L106 199.1ZM272.9 203.5L274 203.4L275.5 203.7L276.8 204.5L277.4 205.5L277.4 206.5L276.9 207.5L275.9 208.5L275 209L273.5 209.3L272.1 209L270.8 208L270.2 207L270.1 206L270.5 205L271.5 204.1ZM285 203.5L286 203.3L287.5 203.4L288.5 203.7L289.7 204.5L290.4 205.5L290.6 206.5L290.3 207.5L289.6 208.5L288 209.4L286.5 209.6L285 209.2L283.4 208L282.6 206.5L282.6 205.5L283.2 204.5ZM221.6 205.5L223 205.1L224 205.2L224.8 205.5L225.7 206.5L225.9 207.5L225.7 208L225 208.8L224 209.3L223 209.4L221.7 209L221 208.5L220.5 207.5L220.7 206.5ZM298.4 206L299 205.8L300 206L300.4 206.5L300.5 207L300.4 207.5L300 207.9L299 208.1L298.1 207.5L297.9 207L297.9 206.5ZM146.5 210.5L148 210.2L149 210.4L150.5 211.2L151.5 212.1L152.5 213.6L153.3 215.5L153.9 217.5L154.2 219.5L154.3 222L154.1 224L153.7 226L153 228.2L152.1 230L151 231.3L150 232.1L148.5 232.6L147 232.5L146 232L145 231.3L144 230.1L143.1 228.5L142.5 226.8L141.8 223L141.8 219L142.1 217L142.7 215L143.5 213.3L144.5 212L145.5 211.1ZM200.4 211L202 210.7L203.5 210.7L205 211.1L206 211.7L206.8 212.5L207.5 213.6L208.3 216.5L208.6 219.5L208.6 223.5L208.3 226L207.8 228L207 229.8L206 230.9L205 231.5L203.5 231.9L202 231.9L200 231.6L197.5 230.9L195.5 230L193.2 228.5L189.5 225.1L184.8 222.5L184.2 221.5L184.5 220.5L185 220L189.5 217.6L194.5 213.4L197 212ZM244.1 212L252 211.9L253.5 212.1L255.5 213L256.9 214.5L257.6 216L258.1 218.5L258.3 225.5L258.1 227L257.6 228.5L257 229.5L256 230.3L254.5 231L252.5 231.4L244.5 231.3L243 231.1L241.5 230.5L240.5 229.8L239.5 228.7L238.6 226.5L238.2 224L238.2 219.5L238.7 216.5L239.5 214.6L240.5 213.4L242 212.5ZM285.9 229.5L287 229.4L288.5 229.6L290 230.3L291 231L291.9 232L292.4 233L292.3 234L291.9 234.5L290.3 235.5L288.5 236L287 236.1L284.5 235.9L282.9 235.5L282 235L281.5 234.5L281.1 233.5L281.8 232L283.5 230.4L284.5 229.9ZM110.3 231L111.5 230.9L113 231.2L115 232.4L116 233.5L116.9 235L118 238L118.3 241L118 242.5L117.5 243.9L116.8 245L116 245.7L114 246.6L112.5 246.8L110.5 246.7L108.5 246.2L107 245.6L105.5 244.7L104.3 243.5L103.7 242.5L103.1 241L102.9 239.5L103 238L103.4 236.5L104.3 235L105.5 233.7L107 232.5L108.5 231.6ZM297.9 231L299 230.7L300 230.8L301 231.1L302.1 232L302.6 233L302.6 234L302.2 235L301.5 235.7L300.5 236.2L299 236.4L297.5 235.9L296.3 235L295.7 234L295.7 233L296.3 232ZM271.9 231.5L273 231.2L274 231.2L275 231.4L276.2 232L276.8 232.5L277.3 233.5L277.3 234.5L276.7 235.5L275.5 236.4L274 236.9L272.5 236.8L271.1 236L270.4 235L270.2 233.5L270.7 232.5ZM221.6 234.5L222.5 234.2L223.5 234.1L225 234.6L225.5 235L226 236L225.9 237L225.6 237.5L224.5 238.4L223.5 238.6L222.5 238.6L221.3 238L220.5 237L220.4 236L220.9 235ZM276.3 248L278.5 247.6L286.5 247.8L294.5 247.6L296 247.8L299 248.7L300.5 249L305 248.7L307 248.9L310.5 249.7L314.1 251L316.5 252.5L317.1 253.5L317.2 254L316.7 255L316.2 255.5L315 256.2L313 257L310 257.7L301.4 259L296.5 259.3L284.5 259.2L277 259.3L272.5 259.1L261 257.9L257.5 257.3L255 256.6L253.4 256L251.9 255L251.4 254L251.6 253L252.6 252L254.7 251L257.5 250.2L265.5 248.7L268 248.6L272.5 249L274 248.7ZM165.7 248.5L168 248.3L170 248.5L172 248.9L173.5 249.6L175.5 252.1L179.5 255.5L181.2 257.5L181.6 258.5L181.8 259.5L181.6 260.5L181.1 261.5L180 262.4L178.4 263L176.5 263.2L174.1 263L172 262.5L169.5 261.5L167.5 260.4L165.5 259L163.9 257.5L162.4 255.5L161.7 254L161.5 252.5L161.8 251L162.5 250L164 249ZM128.6 262L130 261.7L132 262L133.7 263L135.2 264.5L136.3 266.5L137 269L136.8 271L136.1 272L135.5 272.3L134.5 272.4L132 271.9L129.1 270.5L127.4 269L126.7 268L126.4 267L126.3 265L127 263.4L127.8 262.5ZM273 270.5L299.5 270.5L301.5 270.7L308.1 273L310 273.9L310.7 274.5L311.4 275.5L311.7 277L311.1 278.5L310.1 279.5L308.5 280.5L307 281.1L304 281.7L292.5 282.8L280.5 282.8L269 281.7L266.5 281.2L264.7 280.5L263.1 279.5L262.1 278.5L261.6 277.5L261.6 276L262.1 275L263.1 274L265.1 273L270 271.1ZM104.7 272L107.5 271.8L110 272.5L111.5 273.6L112.1 274.5L112.5 275.5L112.6 276.5L112.4 278L111.9 279.5L111.1 281L110 282.2L109 283L107 283.8L106 283.9L104.5 283.7L102.5 282.8L101 281.3L100.2 279L100.2 276.5L101 274.5L102.5 272.9ZM146 283L147.5 282.7L149.5 283L159.6 287L165.1 290L168.2 292L169.3 293L170.1 294L170.4 295L170.3 295.5L169.9 296L169 296.5L167.5 297L165 297.3L162.5 297.3L159.1 297L156.4 296.5L153.5 295.7L151 294.7L149.1 293.5L147.9 292.5L146.7 291L145.9 289.5L145.2 287.5L145 285.5L145.2 284ZM284.6 297.5L286 297.1L287 297.1L289 297.7L290.2 298.5L290.9 299.5L291 300.5L290.8 301L289.5 302.4L288 303.2L286 303.3L284 302.6L282.7 301.5L282.2 300.5L282.2 300L282.6 299L283.1 298.5ZM119.9 301.5L122.5 301.4L125.5 301.9L128 303L129.5 304.3L130.4 306L130.6 307L130.6 308.5L129.9 310.5L128.5 312.2L127 313.1L125 313.8L123 314L120.5 314L118.5 313.7L116.5 313L114.8 312L113.8 311L113.1 309.5L112.9 308L113.2 306.5L114 305L115 303.8L116.5 302.6L118 301.9ZM154.8 325L160 325L163 325.5L165 326L167.1 327L168.2 328L168.7 329L168.5 330L168 330.7L167.1 331.5L165.1 332.5L162 333.3L158.5 333.6L155 333.4L152 332.9L149.5 331.9L147.7 330.5L147.1 329.5L147.1 328.5L147.7 327.5L148.2 327L149.5 326.2L151 325.7Z"/>
<path fill="#fcd6c1" d="M122 128.5L124.5 128.6L127 129.4L129 130.8L130.4 133L131 135.5L130.9 137L130.6 138L129.5 139.6L127.5 141L125.5 141.6L123.5 141.9L121.5 141.9L119.6 141.5L118 140.8L116.9 140L115.9 139L115.1 137.5L114.6 136L114.5 134.5L114.8 133L115.5 131.8L116.8 130.5L118.4 129.5L120 128.9ZM160.2 147.5L165 147.1L168.5 147.4L170.5 148L171.1 148.5L171.3 149L171.3 149.5L171 150L170.1 151L167.8 152.5L163.8 154.5L159 156.5L151.5 158.2L150 158.1L148.8 157.5L148.5 157L148.2 156L148.4 154.5L149 153L150.5 151.3L152.4 150L154.5 149L157.8 148ZM103.8 159.5L106 159L108 159.3L110 160.5L111.6 162.5L112.5 165L112.5 167L112.3 168L111.8 169L111 169.9L110.1 170.5L109 171L107.5 171.3L105 171.3L103.5 170.8L102.5 170.2L101.1 168.5L100.7 167.5L100.4 166L100.4 164.5L100.7 163L101.1 162L102 160.8ZM133 171.5L135 171.1L136.5 171.5L137.3 172.5L137.5 174L136.9 176L135.5 177.9L134 178.9L133 179.2L132 179.2L131 178.9L129.8 178L129.2 177L129.1 175.5L129.7 174L130.5 173L131.5 172.2ZM176.7 180.5L178.7 180.5L180.5 180.9L181.8 181.5L182.8 182.5L183.3 183.5L183.3 185L183 186L181.9 187.5L180.3 189L176 192.1L174 194.6L173 195.4L171 195.6L168.5 195.3L166.5 194.7L165 193.7L164.4 193L163.9 192L163.8 190L164.5 188L165.9 186L168 184L171 182.2L174 181ZM108.5 198.5L111.5 198.1L114 198.5L115 199L116 199.8L116.9 201L117.3 202L117.6 203.5L117.6 205L117.3 207L116.7 208.5L116 209.7L114.9 211L113.6 212L112.5 212.4L111.5 212.6L110 212.4L108.5 211.9L107 211L104.8 209L104.2 208L103.5 206.5L103.3 205.5L103.3 204L103.7 202.5L104.2 201.5L105 200.5L106 199.7ZM285.9 203.5L287.5 203.6L288.5 203.9L289.4 204.5L290.1 205.5L290.4 206.5L290.1 207.5L289.4 208.5L288 209.3L286.5 209.5L285 209.1L283.6 208L283 207L282.8 206L283.1 205L284.3 204ZM272 204L273 203.7L274.5 203.7L275.5 204L276.4 204.5L276.9 205L277.2 206L277 207L276.3 208L275 208.9L274 209.2L272.5 209L271.5 208.5L270.6 207.5L270.4 206L270.8 205ZM222.2 205.5L223.5 205.3L224.5 205.6L225 206L225.6 207L225.4 208L225.1 208.5L224 209.1L223 209.2L222.1 209L221.3 208.5L221 208L220.8 207L221.4 206ZM298.8 206.5L299.6 206.5L299.9 207L299.6 207.5L298.9 207.5L298.6 207ZM202.1 211L203.5 211.1L205 211.5L206 212.2L206.8 213L207.5 214.3L208 215.9L208.4 220L208.2 225.5L207.7 227.5L207.1 229L206.4 230L205.2 231L204 231.5L202.5 231.7L201 231.5L198.5 231L196.5 230.3L195 229.5L193 228.1L189.5 224.8L185.5 222.5L184.8 221.5L185 220.7L185.7 220L189.5 217.9L193.3 214.5L195 213.3L198 211.9ZM146.3 211.5L147.5 211.1L148.5 211.2L150 211.8L151 212.7L152 214L152.7 215.5L153.3 217.5L153.7 219.5L153.6 223.5L153.3 225.5L152.6 227.5L151.9 229L151 230.2L150 231L148.5 231.7L147.5 231.7L146.5 231.4L145.5 230.8L144.5 229.7L143 227L142.2 223.5L142.2 219.5L142.9 216L143.5 214.5L144.4 213L145.5 212ZM242.8 212.5L245 212.1L252.5 212.2L254 212.5L255 213L256.5 214.3L257.3 216L257.8 218L258.1 224.5L257.9 226.5L257.5 228L256.9 229L256 230L254.5 230.8L252.5 231.2L245 231.1L243.5 230.9L242 230.4L241 229.8L240 228.9L239 227L238.6 225L238.4 221.5L238.6 218L239.1 216L239.9 214.5L241 213.4ZM286.3 229.5L288.5 229.7L289.5 230.1L290.9 231L291.7 232L292.2 233L292.2 233.5L291.7 234.5L290.2 235.5L287.5 236.1L284.5 235.9L283.1 235.5L282.2 235L281.7 234.5L281.3 233.5L281.9 232L282.8 231L284 230.2L285 229.8ZM298.4 231L299.5 230.9L300.5 231.1L301.5 231.6L302.2 232.5L302.5 233.5L302.3 234.5L301.5 235.5L301 235.8L300 236.2L298.5 236.1L297.2 235.5L296.2 234.5L295.9 233.5L296.2 232.5L297.2 231.5ZM110.5 231.5L112 231.5L113 231.8L114.9 233L116.5 235.2L117.5 238L117.7 241L117.1 243.5L116.4 244.5L115.5 245.3L113.5 246.2L112 246.3L110 246.1L108.5 245.7L106.9 245L105.5 244L104.7 243L104.1 242L103.6 240.5L103.5 239L103.7 237.5L104.3 236L104.9 235L106 233.9L107.5 232.7L109 231.9ZM272.2 231.5L273.5 231.2L274.5 231.3L275.5 231.7L276.6 232.5L276.9 233L277.2 234L276.9 235L276.5 235.5L275.5 236.3L274 236.8L272.5 236.7L271.3 236L270.5 235L270.4 233.5L270.8 232.5ZM222.1 234.5L223.5 234.3L224.3 234.5L225.1 235L225.7 236L225.6 237L225.3 237.5L224.5 238.1L223 238.4L222 238.2L221.1 237.5L220.8 237L220.7 236L221.3 235ZM278.5 247.6L286.5 247.8L294.5 247.6L296 247.8L299 248.7L300.5 249L304.5 248.9L306.5 249L310 249.8L313.5 251.2L315.6 252.5L316.2 253.5L316.3 254L315.8 255L315.3 255.5L312.5 256.8L309.7 257.5L301.1 259L296.5 259.3L284.5 259.2L277 259.3L271.9 259L261 257.6L258 257.1L255.9 256.5L254 255.7L253 255L252.4 254L252.6 253L253.8 252L255.5 251.2L258.5 250.3L263 249.4L266.5 248.8L273 249ZM165.3 249.5L167 249.1L169.5 249.1L172 249.6L173.5 250.4L175.5 252.7L178.7 255.5L179.9 257L180.5 258L180.7 259L180.6 260L180.1 261L179 261.9L177.5 262.4L176 262.6L174 262.4L172 262L170 261.2L168 260.2L166.3 259L163.8 256.5L162.9 255L162.5 253.5L162.6 252L163 251L164 250.1ZM129.9 263L131 263L132.5 263.4L133.5 264.1L134.7 265.5L135.4 267L135.7 268.5L135.5 270L135 270.7L134.5 270.9L133.5 271.1L131.5 270.6L129.5 269.5L128.1 268L127.6 266.5L127.7 265L128.5 263.7ZM273.8 270.5L287 270.4L301 270.6L303.5 271.3L308 273.2L309.5 274L310.2 274.5L311 275.5L311.2 277L310.6 278.5L309.6 279.5L308 280.4L306.4 281L303.5 281.6L292.5 282.8L280.5 282.8L269.5 281.6L267.5 281.2L265.4 280.5L263.6 279.5L262.6 278.5L262.1 277.5L262 276L262.6 275L263.7 274L265.6 273L270.5 271L272 270.7ZM104.8 272.5L107 272.3L108.4 272.5L109.5 272.9L111 274L111.6 275L111.9 276L111.8 278L110.8 280.5L110 281.5L109 282.4L107 283.2L105 283.2L103 282.5L101.6 281L100.8 279L100.7 277L100.9 276L101.5 274.8L103 273.3ZM147.5 284L149 283.9L151.5 284.4L158.5 287.1L160.2 288L163.7 290L166.5 292L167.9 293.5L168.2 294.5L168 295L167 295.8L165.5 296.3L163.5 296.5L161 296.5L158 296.2L155.5 295.6L153.5 295L151.3 294L149.8 293L148.5 291.9L147.4 290.5L146.6 289L146.1 287L146.2 285.5L146.7 284.5ZM285.3 297.5L286.5 297.3L287.5 297.4L288.5 297.7L289.7 298.5L290.4 299.5L290.5 300.5L290.3 301L289.6 302L288 302.9L286.5 303.1L285 302.8L283.5 301.9L282.7 300.5L282.8 299.5L283.5 298.5ZM119.8 302L122.5 301.9L125 302.3L127 303L128.9 304.5L129.5 305.5L129.9 306.5L129.9 308.5L129.2 310.5L128 311.8L126.5 312.8L125 313.3L123 313.6L121 313.6L119 313.3L117.5 312.8L115.9 312L114.7 311L114.1 310L113.7 308.5L113.8 307L114.4 305.5L115.5 304.1L116.5 303.3L118 302.5ZM152.8 326L155 325.6L157.5 325.5L160 325.7L162.5 326.1L164.5 326.7L165.9 327.5L166.8 328.5L166.9 329.5L166.4 330.5L165.5 331.2L163.8 332L162 332.5L160 332.8L157.5 332.9L153.5 332.4L151.5 331.8L150.1 331L149.1 330L148.7 329L149.1 328L150 327.1L151.2 326.5Z"/>
<path fill="#fbd2bc" d="M120.4 129.5L123 129.1L125.4 129.5L127.5 130.5L129 131.9L130.1 134L130.3 136L129.8 138L128.5 139.7L127.2 140.5L125.5 141.1L124 141.4L122 141.4L120.5 141.2L119 140.7L117.8 140L116.8 139L116 137.9L115.4 136.5L115.3 135L115.5 133.5L116.4 132L117.4 131L119 130ZM162.3 148L165.4 148L167.5 148.4L168.5 149L168.7 149.5L168.7 150L168 151L165.9 152.5L162 154.5L158.5 155.9L152.5 157.1L151 156.9L150 156.1L149.7 155L150.1 153.5L151.2 152L152.5 151L154.3 150L157 149L159.5 148.4ZM104.2 160L106 159.6L108.1 160L109 160.5L110 161.3L111.2 163L111.9 165L111.9 167L111.6 168L111 168.9L109.5 170.2L107.5 170.8L105 170.7L103 169.8L102.2 169L101.5 168L101.1 167L100.9 165.5L101 164L101.3 163L102.5 161.1ZM133.6 172.5L135 172.5L135.8 173L136.2 174L136.1 175L135.5 176.3L134.5 177.3L133 177.9L132 177.8L131 177.1L130.6 176.5L130.6 175L131.6 173.5L132.5 172.9ZM174.1 181.5L176 181.1L178 181.1L179.5 181.3L181 182L182 183L182.4 184L182.4 185L181.9 186.5L180.1 188.5L176 191.6L174 194L173 194.7L171.5 194.9L169.5 194.8L168 194.4L166.5 193.7L165.2 192.5L164.6 191L164.7 189.5L165.5 187.5L167.1 185.5L169 183.9L171.5 182.4ZM110 198.7L111.5 198.6L114 199.1L115 199.7L115.8 200.5L116.9 202.5L117.1 205L116.9 206.5L116.4 208L115.5 209.5L114.7 210.5L113.5 211.4L112.5 211.8L111.5 212L110 211.9L107.5 210.7L105.5 209L104.8 208L104.1 206.5L103.9 205.5L103.9 204L104.6 202L106 200.3L107.3 199.5ZM272.5 204L273.5 203.8L274.5 203.9L275.5 204.2L276.5 205L277 206L276.8 207L276.1 208L275.5 208.5L274.4 209L273 209.1L271.7 208.5L271 207.8L270.5 206.5L270.7 205.5L271.5 204.5ZM284.8 204L286 203.7L287.5 203.7L288.5 204.1L289.5 204.9L289.9 205.5L290.1 206.5L289.9 207.5L289.2 208.5L288 209.2L286.5 209.4L285 209L283.8 208L283.1 206.5L283.2 205.5L284 204.5ZM221.8 206L223 205.6L224.5 205.9L225.1 206.5L225.3 207L225.1 208L224.5 208.6L223.6 209L222.8 209L222 208.7L221.3 208L221.1 207.5L221.3 206.5ZM200.4 211.5L203 211.3L204.5 211.6L205.5 212.2L206.4 213L207.1 214L207.6 215.5L208 217.5L208.2 223.5L208 225.5L207.5 227.5L206.8 229L206 230L204.5 231L203 231.3L201.5 231.3L199 230.9L197 230.3L195.4 229.5L193.2 228L189.5 224.5L186.2 222.5L185.4 221.5L185.5 221L185.8 220.5L190 217.8L194.5 213.8L197 212.5ZM146.1 212.5L147.5 212L148.5 212.1L149.5 212.5L150.5 213.3L151.5 214.6L152.2 216L153.1 219.5L153.2 221.5L153.1 223.5L152.7 225.5L152 227.3L151 229L150 230L149 230.5L148 230.8L147 230.6L146 230.2L144.5 228.7L143.2 226L142.6 223L142.6 219.5L143.2 216.5L144.5 214ZM243.8 212.5L245.5 212.3L251 212.3L253 212.5L255 213.3L256.5 214.8L257.2 216.5L257.7 218.5L257.9 225L257.7 226.5L257.2 228L256.5 229.1L255.5 229.9L254 230.6L252.5 230.9L245 230.9L243.5 230.7L242 230.1L241 229.5L240 228.4L239.1 226.5L238.7 224L238.6 220L239 217.2L239.6 215.5L240.7 214L242 213.1ZM284.6 230L286 229.6L287 229.5L288.5 229.8L289.5 230.2L290.7 231L291.5 232L291.9 233L291.8 234L291.5 234.5L290.5 235.3L288.1 236L285.1 236L283 235.4L281.8 234.5L281.6 234L281.6 233L282.5 231.5L283.5 230.6ZM272.5 231.5L273.5 231.3L275 231.6L276 232.1L276.8 233L276.9 233.5L276.9 234.5L276.3 235.5L275.7 236L274.5 236.6L273 236.7L272 236.3L271 235.5L270.5 234.5L270.7 233L271.5 232ZM297.5 231.5L298.5 231.1L299.5 231L300.5 231.2L301.5 231.8L302 232.5L302.3 233.5L302 234.5L301.7 235L300.5 235.9L299.5 236.1L298 235.8L297 235.1L296.2 234L296.2 233L296.9 232ZM109 232.5L110.5 232.1L111.5 232L113.5 232.7L115.1 234L116.6 236.5L117.1 238L117.3 239.5L117 242L116 244L115 244.9L114 245.4L111.5 245.8L110 245.6L108.5 245.2L107.1 244.5L106 243.7L105 242.5L104.5 241.5L104.2 240.5L104.1 239L104.3 237.5L104.7 236.5L105.5 235.2L106.5 234.1L107.5 233.3ZM222.8 234.5L223.6 234.5L224.5 234.8L225.2 235.5L225.4 236L225.3 237L224.9 237.5L224 238L222.5 238.1L221.5 237.5L221.1 237L221 236L221.2 235.5L222 234.8ZM276.5 248L279 247.6L286.5 247.9L294.5 247.6L296 247.8L300 249L306 249.1L309.7 250L313 251.3L314.7 252.5L315.4 253.5L315.4 254L315 255L314.4 255.5L312 256.6L308.7 257.5L300.9 259L296.5 259.3L284.5 259.2L277 259.3L272.2 259L259 257L256.5 256.3L254.7 255.5L254 255L253.4 254L253.7 253L255 252L257 251.2L259.5 250.4L263.6 249.5L267 249L273 249ZM167 250L168.5 249.9L170.5 250L172.5 250.6L173.5 251.2L175.5 253.4L177.7 255.5L178.9 257L179.4 258L179.6 259L179.4 260L179 260.5L178 261.3L177 261.7L175.5 261.9L173.5 261.7L171.5 261.2L169.7 260.5L167.9 259.5L166.5 258.4L165.1 257L164.1 255.5L163.5 254L163.5 253L163.8 252L164.6 251L165.5 250.5ZM130.2 265L131 264.8L132 265L133.3 266L133.9 267.5L133.8 268.5L133.5 269L133 269.2L132 269.2L131 268.8L130.1 268L129.5 267L129.4 266.5L129.7 265.5ZM299.5 270.5L301.5 270.8L303.7 271.5L309 274L309.7 274.5L310.5 275.5L310.8 276.5L310.7 277.5L309.6 279L308.2 280L306.5 280.7L304 281.4L293 282.7L282 282.7L279.5 282.6L270.5 281.6L267.5 281L265.5 280.3L264.2 279.5L263.1 278.5L262.5 277.5L262.5 276L263.5 274.5L265.1 273.5L270.5 271.1L272 270.7L273.5 270.5ZM105.2 273L107.5 272.9L109.3 273.5L110.5 274.5L111 275.5L111.3 276.5L111 278.5L110 280.6L108.5 282L107.5 282.4L106.5 282.7L104.5 282.5L103 281.6L102 280.5L101.3 278.5L101.5 276.5L102.1 275L103.5 273.7ZM148.2 285.5L149.5 285.1L151.5 285.4L159 288.2L162.1 290L164.7 292L165.7 293.5L165.8 294L165.5 294.5L164.9 295L163.5 295.5L160 295.6L156 294.9L152.2 293.5L150.6 292.5L149.5 291.6L148 289.5L147.5 288L147.5 287L147.7 286ZM284.7 298L286 297.6L287 297.6L288 297.8L289 298.3L289.7 299L290.1 300L289.9 301L289.6 301.5L288.5 302.4L287 302.9L285.5 302.7L284.1 302L283.3 301L283.1 300L283.5 299ZM120 302.5L122.5 302.4L125 302.8L127 303.7L128.4 305L129.1 306.5L129.2 308.5L128.7 310L127.4 311.5L126 312.4L124.5 312.9L123 313.1L121 313.1L119 312.8L117.5 312.2L116.3 311.5L115.3 310.5L114.7 309.5L114.4 308L114.7 306.5L115.2 305.5L116 304.5L117.2 303.5L118.5 302.9ZM154.6 326.5L158.5 326.3L162 326.8L163.5 327.4L164.4 328L164.8 328.5L164.9 329.5L164.2 330.5L163.4 331L160.5 331.8L157 332L153.8 331.5L151.6 330.5L151 329.8L150.7 329L151.2 328L151.8 327.5L152.8 327Z"/>
<path fill="#faceb6" d="M121.3 130L124 129.9L126 130.5L127.6 131.5L128.9 133L129.6 135L129.4 137L128.5 138.7L127 139.9L125.5 140.5L124 140.8L121 140.7L119.5 140.2L118.5 139.7L117.7 139L116.9 138L116.4 137L116.1 135.5L116.3 134L116.7 133L117.5 132L118.5 131.2L120 130.4ZM158.5 149.5L161 149.1L163.5 149.1L165 149.5L165.6 150L165.6 150.5L165 151.5L163.6 152.5L160.9 154L158.5 155L154 155.6L152.9 155.5L152.1 155L151.9 154.5L152 153.5L153.2 152L155.7 150.5ZM104.8 160.5L106.5 160.3L107.5 160.5L108.5 160.9L110 162.2L111 164L111.3 166L111 167.5L110 169L108.5 169.9L106.5 170.3L104.5 169.9L103 169L102 167.5L101.5 165.5L101.7 164L102 163L103.1 161.5ZM174.3 182L176 181.7L178 181.8L179.5 182.2L180.5 182.8L181.1 183.5L181.4 184.5L181.4 185.5L180.7 187L179.3 188.5L175.6 191.5L174 193.4L173 194L171.5 194.2L170 194.1L168.5 193.8L167 193L166 192L165.5 190.5L165.6 189L166.6 187L167.9 185.5L169.7 184L172 182.8ZM108.7 199.5L111 199.1L112.5 199.2L113.5 199.5L115 200.5L115.8 201.5L116.2 202.5L116.5 203.5L116.6 205L116 207.5L115.5 208.5L114.5 209.9L113.5 210.7L112.5 211.2L110.5 211.3L109.1 211L108 210.4L106 208.7L105.2 207.5L104.8 206.5L104.5 204.5L105 202.5L105.7 201.5L106.5 200.7ZM273.3 204L274.5 204L275.5 204.4L276.2 205L276.7 206L276.6 207L276 208L275 208.7L274 209L273 208.9L271.9 208.5L271.3 208L270.8 207L270.8 206L271.3 205L272 204.4ZM285.3 204L286.5 203.8L287.5 203.9L288.5 204.3L289.3 205L289.8 206L289.9 207L289.4 208L289 208.5L288 209.1L286.5 209.3L285 208.8L284 208L283.3 206.5L283.5 205.5L284.3 204.5ZM222.4 206L223.5 205.9L224.7 206.5L225 207.5L224.5 208.3L224 208.6L223 208.8L222.1 208.5L221.6 208L221.5 207L221.7 206.5ZM199.2 212L202.5 211.6L204 211.8L205 212.3L206 213L206.7 214L207.7 216.5L208 219L208 222L207.9 224.5L207.5 226.6L207 228L206 229.5L205 230.4L203.5 230.9L201.5 231.1L199.5 230.8L197.5 230.2L195.5 229.3L193.5 228L190 224.6L186.9 222.5L186.1 221.5L186.2 221L186.5 220.5L190 218.1L194.5 214.1L196.5 212.9ZM147.5 213L148.5 213.1L149.5 213.6L151 215.2L152.2 218L152.6 221L152.4 224L151.4 227L150 228.9L149 229.5L148 229.8L147 229.7L146 229.2L144.5 227.5L143.5 225L143 221.5L143.3 218L144.3 215.5L145.5 213.9L146.5 213.3ZM242.9 213L245.5 212.5L252 212.6L253.5 212.9L254.5 213.3L256 214.6L256.8 216L257.4 218L257.7 224L257.5 226L257.1 227.5L256.5 228.6L255.5 229.6L254 230.4L252.5 230.7L245.5 230.8L244 230.6L242.5 230.1L241.5 229.5L240.5 228.5L239.6 227L239 224.7L238.8 221.5L239 218.5L239.5 216.5L240.2 215L241.5 213.7ZM284.8 230L286 229.7L287.5 229.6L288.5 229.8L289.9 230.5L291 231.5L291.6 232.5L291.8 233.5L291.4 234.5L289.9 235.5L287.5 236L285 236L283.3 235.5L282.5 235L281.7 234L281.7 233.5L281.9 232.5L283.1 231ZM272.8 231.5L274 231.4L275 231.7L276 232.3L276.6 233L276.8 234L276.5 235L276 235.6L275 236.3L273.5 236.6L272.5 236.4L271.5 235.8L270.9 235L270.6 234L270.8 233L271.7 232ZM297.9 231.5L299 231.2L300 231.2L301.4 232L301.8 232.5L302.1 233.5L301.8 234.5L301.5 235L300.5 235.7L299.5 236L298 235.7L297.1 235L296.5 234L296.5 233L297.1 232ZM109.3 233L110.5 232.7L111.5 232.7L112.5 232.9L113.5 233.4L115 234.7L116.2 237L116.7 239.5L116.4 242L115.9 243L115.1 244L113.5 245L112.5 245.2L111 245.2L109.5 245L108.2 244.5L106.2 243L105.4 242L105 241L104.7 240L104.7 238.5L105.3 236.5L106 235.4L107 234.4ZM222 235L223 234.7L224.4 235L224.9 235.5L225.1 236L225 237L224.5 237.5L223.5 237.9L222.5 237.8L222 237.6L221.5 237L221.3 236.5L221.5 235.5ZM276.6 248L279 247.6L286.5 247.9L294.5 247.6L296 247.9L300 249L306 249.3L309.5 250.2L312.5 251.5L314.3 253L314.6 254L314.1 255L313.5 255.5L311.5 256.5L308.5 257.3L300.6 259L296.5 259.3L277 259.3L272.5 259L260 256.9L257.5 256.2L255.8 255.5L255.1 255L254.5 254L254.8 253L256 252.1L257.5 251.4L260.4 250.5L267 249.1L273 249ZM167.1 251L168.5 250.8L170.5 250.9L172.5 251.4L173.5 252L176.8 255.5L177.9 257L178.4 258.5L178.2 259.5L177.8 260L177 260.6L176 261L173.5 261.1L171.5 260.6L170 260L167.5 258.4L165.5 256.3L164.8 255L164.6 254L164.7 253L165.3 252L166 251.4ZM299.5 270.6L301.5 270.8L304.6 272L307.7 273.5L309.2 274.5L310.2 276L310.2 277.5L309.6 278.5L308.5 279.5L307 280.3L305 281L295 282.4L291 282.7L280.5 282.7L269.5 281.3L267 280.6L265 279.7L263.6 278.5L263 277.5L263 276L264 274.5L265.5 273.5L270.5 271.2L272 270.7L273.5 270.6ZM106.3 273.5L108 273.7L109.5 274.6L110.4 276L110.5 277.5L110 279.3L109 280.7L107.5 281.7L106 282L104.5 281.7L103 280.6L102.1 279L102 277.5L102.5 275.7L103.5 274.5L105 273.7ZM149.6 287L151 286.6L152.5 286.8L158.5 288.9L160.3 290L162.2 291.5L162.9 292.5L162.9 293.5L162.4 294L161.5 294.3L159.3 294.5L156.3 294L153.5 293L151.1 291.5L149.8 290L149.2 288.5L149.3 287.5ZM285.4 298L286.5 297.8L287.5 297.9L289 298.8L289.7 300L289.5 301L289.2 301.5L288 302.3L287 302.6L285.5 302.5L284.5 301.9L283.7 301L283.5 300L284 299ZM120.3 303L122.5 302.9L124.5 303.2L126.3 304L127.5 305L128.4 306.5L128.5 308L128.1 309.5L127 311L126 311.7L124.5 312.3L123 312.6L121.5 312.6L120 312.4L118.5 312L117.5 311.5L116.2 310.5L115.6 309.5L115.3 308.5L115.3 307L115.7 306L116.4 305L117.6 304L119 303.3ZM155.4 327.5L157.5 327.3L160 327.5L161.5 328L162.1 328.5L162.4 329L162.3 329.5L161.8 330L161 330.4L159.5 330.8L157 330.9L155 330.5L153.9 330L153.4 329.5L153.3 329L153.5 328.5L154.1 328Z"/>
<path fill="#f9c7ae" d="M120.6 131L122.5 130.6L124.5 130.8L126.3 131.5L127.5 132.5L128.5 134L128.8 135.5L128.5 137.3L127.5 138.7L126.4 139.5L125.1 140L122.5 140.3L120 139.7L118.2 138.5L117.5 137.5L117.1 136.5L116.9 135.5L117 134.5L117.4 133.5L118.2 132.5L119.5 131.5ZM158.8 151L160.5 150.9L161.2 151.5L160.9 152L160.3 152.5L158.5 153.4L157.5 153.4L156.5 153L156.5 152.5L156.9 152L157.5 151.5ZM106 161L107.5 161.2L108.9 162L110 163.4L110.5 165L110.5 166.5L109.9 168L108.8 169L107 169.6L105.5 169.5L104 168.9L102.8 167.5L102.3 166L102.4 164L103.1 162.5L104.5 161.4ZM174.9 182.5L177.7 182.5L179 183L179.7 183.5L180.1 184L180.4 185L180.2 186L179.7 187L178.4 188.5L176 190.5L173.5 193L172.5 193.4L171 193.4L169.5 193.2L168 192.5L167 191.5L166.5 190L166.7 188.5L167.4 187L168.8 185.5L170.8 184L172.9 183ZM109 200L111 199.7L113 200L114.6 201L115.3 202L115.7 203L116 205L115.4 207.5L114 209.5L113 210.2L112 210.6L110 210.6L108 209.8L106.5 208.4L105.4 206.5L105.2 204.5L105.8 202.5L107.1 201ZM286.4 204L287.5 204.1L288.5 204.6L289 205L289.6 206L289.7 207L289.2 208L288.5 208.7L287.5 209.1L286 209.1L285 208.7L284.2 208L283.6 207L283.5 206L284.1 205L285 204.3ZM272.3 204.5L273 204.2L274 204.2L275 204.4L275.9 205L276.3 205.5L276.5 206.5L276.2 207.5L275.8 208L274.5 208.7L273.5 208.9L272.5 208.7L271.5 208L271 207L271 206L271.5 205.1ZM222.2 206.5L223 206.2L224.2 206.5L224.6 207L224.6 207.5L224.4 208L223.5 208.5L222.5 208.4L222 208L221.8 207.5L221.8 207ZM200.4 212L202 211.8L203.5 212L204.5 212.4L205.5 213L206.4 214L206.9 215L207.6 217.5L207.8 223L207.6 225L207.1 227L206.4 228.5L205.5 229.6L204.5 230.3L203 230.7L201.5 230.8L199 230.4L197 229.8L195.5 229.1L193.5 227.7L190 224.3L187.6 222.5L186.8 221.5L186.9 221L187.2 220.5L190.5 218L194.5 214.3L197 212.9ZM243.8 213L246.5 212.7L252.5 212.9L254.5 213.6L256 215L256.8 216.5L257.2 218.5L257.4 224.5L257.3 226L256.8 227.5L256 228.7L255.1 229.5L253.5 230.2L252 230.5L245.5 230.5L244 230.3L242.5 229.8L241.3 229L240.4 228L239.5 226L239.2 224L239.1 220L239.4 217.5L240 216L241 214.5L242.4 213.5ZM146.1 214.5L147 214.1L148 214L149 214.4L149.8 215L151.1 217L151.9 220L151.9 223L151.1 226L150.5 227L149.6 228L149 228.4L148 228.8L146.5 228.5L145 227L144 225L143.6 223L143.5 220.5L144 217.7L145 215.6ZM284.9 230L286 229.7L287.5 229.7L289 230.1L290 230.7L290.9 231.5L291.5 232.5L291.6 233.5L291.2 234.5L289.8 235.5L287.5 236L285 235.9L283.5 235.5L282.6 235L281.9 234L281.8 233.5L282 232.5L283.2 231ZM273.5 231.5L274.5 231.6L275.5 232.1L276.4 233L276.7 234L276.3 235L275.9 235.5L275 236.2L274 236.5L273 236.4L271.9 236L271 235L270.8 234L271 233L271.5 232.3L272.5 231.7ZM298.3 231.5L299 231.3L300 231.4L301 231.8L301.6 232.5L301.8 233L301.8 234L301.3 235L300.6 235.5L299.5 235.8L298.5 235.7L297.5 235.1L296.9 234.5L296.7 234L296.7 233L297.4 232ZM109.7 233.5L111.5 233.3L113.3 234L114.8 235.5L115.8 237.5L116.1 240L115.7 242L114.6 243.5L113 244.4L111 244.6L110 244.5L108.5 244L107.5 243.4L106.6 242.5L105.9 241.5L105.5 240.5L105.4 238.5L106 236.5L107.5 234.7L108.5 234ZM222.6 235L223.8 235L224.5 235.5L224.8 236.5L224.6 237L224 237.4L223 237.6L222.5 237.5L221.8 237L221.6 236L221.9 235.5ZM276.7 248L279 247.6L286 247.9L293.5 247.6L295.5 247.8L300 249.1L305 249.3L309 250.3L310.7 251L312.5 252L313.6 253L313.9 254L313.3 255L312.7 255.5L310.7 256.5L303 258.5L300.4 259L296.5 259.3L277 259.3L272.5 259L260.5 256.8L256.9 255.5L256.1 255L255.5 254L255.5 253.5L255.8 253L257 252.2L258.4 251.5L261.5 250.5L267.5 249.3L273 249.1ZM167.8 252L169.5 251.8L171 251.9L172.5 252.4L173.5 253L175.7 255.5L176.7 257L177 258.5L176.5 259.4L176 259.8L175 260.2L173 260.2L170.5 259.4L168.2 258L166.5 256.1L165.9 254.5L166 253.6L166.3 253L166.8 252.5ZM299 270.6L301.5 270.9L303.3 271.5L308 274L309.6 275.5L309.9 277L309.5 278L308.5 279.1L307.1 280L305 280.8L302.5 281.3L295 282.4L291 282.7L280.5 282.6L270 281.2L267.5 280.6L265.5 279.7L264.1 278.5L263.5 277.5L263.4 276L264.5 274.5L266 273.5L270.5 271.2L272 270.8L273.5 270.6ZM105.1 274.5L106.5 274.3L108 274.6L109 275.3L109.6 276.5L109.7 278L109 279.5L108.1 280.5L107 281.1L105.5 281.2L104.5 280.8L103.5 280L103 279L102.8 277.5L103 276.5L104 275.1ZM152.3 289L153 288.8L154 288.9L157.5 290.1L158.9 291L159.4 292L159.1 292.5L158 292.7L155 292L153.9 291.5L152.6 290.5L152.1 289.5ZM285 298.5L286.5 298L287.5 298.2L288.2 298.5L289.1 299.5L289.3 300.5L289.1 301L288.5 301.7L287.5 302.2L286 302.3L285 301.9L284.1 301L283.9 300L284.4 299ZM121.1 303.5L123 303.5L124.8 304L126.5 305L127.3 306L127.7 307L127.6 308.5L126.9 310L125.8 311L123.5 311.9L122 312L120.5 311.9L118.1 311L117.4 310.5L116.5 309.5L116.1 308.5L116.1 307.5L116.4 306.5L117 305.5L118 304.6L119 304Z"/>
<path fill="#f9c3a9" d="M122 131.5L123.9 131.5L125.5 132L126.8 133L127.5 134L127.9 135.5L127.7 137L127 138L125.7 139L123.5 139.6L121.5 139.4L119.4 138.5L118.2 137L117.9 136L117.9 135L118.5 133.5L120 132.2ZM105.2 162L106.5 161.8L107.5 162.1L108.5 162.7L109.4 164L109.8 165.5L109.7 166.5L109 167.7L108 168.5L106.5 168.8L105.5 168.7L104.2 168L103.4 167L103 165.5L103.2 164L104 162.8ZM173.5 183.5L176 183.2L178 183.6L178.5 184L179.1 185L179 186.5L177.9 188L173.5 192.2L172.5 192.6L171.5 192.6L170.5 192.5L169.2 192L168 191L167.6 190L167.6 189L168.1 187.5L169.3 186L170.4 185L172 184.1ZM109.5 200.5L111.5 200.4L113 200.8L114.5 202L115.2 203.5L115.3 205.5L114.7 207.5L113.5 209L112 209.9L110.4 210L108.5 209.3L107 208L106.3 207L106 206L106 204L106.6 202.5L108 201.2ZM273.5 204.3L274.5 204.4L275.5 204.9L276.1 205.5L276.3 206L276.2 207L275.6 208L275 208.4L274 208.7L273 208.7L272 208.3L271.3 207.5L271.1 206.5L271.4 205.5L272 204.9ZM285.1 204.5L286 204.2L287 204.2L288 204.5L289 205.3L289.4 206L289.5 207L289 208L288.5 208.5L287.5 209L286.5 209.1L285.5 208.8L284.4 208L283.8 207L283.8 206L284.3 205ZM222.3 207L223 206.6L223.5 206.6L224.1 207L224.2 207.5L223.9 208L223 208.2L222.5 208L222.2 207.5ZM199.2 212.5L202 212.1L203.5 212.3L204.5 212.7L205.5 213.4L206.4 214.5L207.3 217L207.6 219.5L207.6 222.5L207.5 224.5L207 226.5L206.4 228L205.5 229.2L204.5 229.9L203 230.4L201.5 230.5L199 230.2L197 229.6L195.5 228.9L193.5 227.4L190.5 224.4L188.2 222.5L187.5 221.5L187.5 221L187.9 220.5L190.5 218.3L194.5 214.6L196.5 213.4ZM245.1 213L250.5 212.9L252.5 213.1L254.5 213.9L256 215.5L256.7 217L257.1 219L257.3 222.5L257.2 225L256.9 226.5L256.2 228L255.5 228.8L254.5 229.5L253 230.1L251.5 230.4L245 230.3L242.5 229.5L241.2 228.5L240.4 227.5L239.6 225.5L239.3 223L239.4 219.5L239.9 217L240.6 215.5L242 214.1L243.5 213.3ZM146.4 215.5L147 215.2L148 215.1L148.9 215.5L149.5 216L150.5 217.5L151.2 220L151.3 222.5L150.6 225L149.5 226.8L149 227.2L148 227.6L147 227.6L146.5 227.3L145.5 226.4L144.5 224.5L144.1 222.5L144.1 220.5L144.5 218.3L145.4 216.5ZM285.1 230L286.5 229.7L287.5 229.8L289 230.2L290 230.8L290.7 231.5L291.3 232.5L291.4 233.5L291.1 234.5L289.7 235.5L287.4 236L285 235.9L283.6 235.5L282.7 235L282 234L281.9 233.5L282.2 232.5L283.3 231ZM299.5 231.5L300.5 231.7L301 232.1L301.6 233L301.6 234L301.4 234.5L301 235L300 235.6L299 235.6L298 235.3L297.1 234.5L296.9 234L296.9 233L297.2 232.5L298 231.8ZM272.1 232L273 231.7L274 231.6L275 231.9L275.9 232.5L276.2 233L276.5 234L276.2 235L275.7 235.5L274.5 236.2L273.5 236.4L272.5 236.1L271.5 235.5L271 234.5L271 233.5L271.5 232.5ZM109 234.5L110 234.1L111 234L112.5 234.3L114 235.4L115 237L115.5 239L115.3 241L114.5 242.6L113 243.7L111 244L109 243.5L107.5 242.5L106.4 241L106.1 239.5L106.3 237.5L107.5 235.6ZM222.3 235.5L223 235.2L224 235.4L224.4 236L224.4 236.5L224.1 237L223.5 237.2L222.5 237.1L222 236.5L222 236ZM276.8 248L279 247.7L286 247.9L293.5 247.7L295.5 247.8L299.5 249L305 249.5L308.7 250.5L311.8 252L312.8 253L313.1 254L312.6 255L312 255.5L309.9 256.5L302.7 258.5L300.2 259L296.5 259.3L277 259.3L272 258.9L261 256.6L258 255.5L257.2 255L256.5 254L256.5 253.5L256.9 253L257.5 252.5L259.5 251.5L262 250.7L267.5 249.4L273 249.1ZM171 253.1L172.3 253.5L173.2 254L174 254.7L174.9 256L175.3 257L175.3 258L175 258.5L174 259.1L172 259L170 258.1L168.5 257L167.6 255.5L167.5 254.5L168.2 253.5L169 253.1ZM283.1 270.5L299 270.6L301.5 270.9L304.2 272L308.3 274.5L309.1 275.5L309.4 277L309.1 278L308.1 279L306.5 280L305 280.6L302.5 281.2L295 282.3L291 282.6L280.5 282.5L270.5 281.1L268 280.5L266 279.6L264.5 278.5L263.9 277.5L263.8 276L264.9 274.5L268.1 272.5L271 271.1L273.5 270.6ZM105.2 275.5L106 275.3L107 275.3L108 275.8L108.5 276.5L108.7 277.5L108.5 278.5L107.8 279.5L107 280L106 280.2L105.2 280L104.5 279.5L104 278.7L103.8 278L103.9 277L104.5 276ZM285.7 298.5L287 298.4L288.4 299L288.7 299.5L288.9 300.5L288.2 301.5L287.5 301.9L286.5 302.1L285.5 301.8L284.9 301.5L284.5 301L284.3 300L284.8 299ZM119.8 304.5L121.5 304.2L123 304.2L124.5 304.6L125.5 305.2L126.3 306L126.7 307L126.7 308.5L126.2 309.5L125.5 310.2L124.5 310.8L122.5 311.3L120.5 311.2L118.5 310.3L117.3 309L117.1 308L117.2 307L118.1 305.5Z"/>
<path fill="#f8bfa3" d="M121.9 132.5L123 132.4L124.5 132.6L125.5 133.2L126.3 134L126.8 135L126.8 136L126.5 137L125.5 138.1L124 138.7L122 138.7L120.5 138.1L119.4 137L119 136L119.2 134.5L120 133.5L120.5 133.1ZM105.7 163L106.5 162.9L107.5 163.3L108.5 164.5L108.7 165.5L108.5 166.5L107.5 167.5L106.5 167.8L105.5 167.6L104.7 167L104.3 166.5L104 165.5L104.2 164.5L104.8 163.5ZM173 184.5L175 184.1L176 184.2L176.9 184.5L177.5 185L177.7 185.5L177.7 186.5L176.7 188L173.5 191.3L172 191.6L170.5 191.3L169.5 190.7L169 190L168.8 189L169 188L169.5 187L170.5 186L171.9 185ZM108.9 201.5L110.5 201.1L112 201.2L113.5 202.1L114.4 203.5L114.6 205.5L114.1 207L113 208.4L112 209L110.5 209.2L109 208.8L108 208L107 206.5L106.7 205L107 203.5L107.6 202.5ZM285.5 204.5L286.5 204.3L287.5 204.5L288.5 205L288.9 205.5L289.2 206L289.3 207L288.8 208L288.3 208.5L287 208.9L286 208.9L285 208.4L284.2 207.5L283.9 206.5L284 205.9L284.6 205ZM272.1 205L273.5 204.5L274.5 204.6L275.3 205L276 206L276 207L275.8 207.5L275 208.2L274 208.6L273 208.6L272 208.1L271.5 207.5L271.3 206.5L271.6 205.5ZM200.6 212.5L203 212.5L204 212.8L205.1 213.5L206 214.5L206.6 215.5L207.3 218.5L207.3 223.5L207.1 225.5L206.6 227L206 228.1L205 229.2L204 229.8L202.5 230.2L201 230.2L198.5 229.8L197 229.3L195.5 228.6L193.4 227L191 224.5L188.8 222.5L188.2 221.5L188.2 221L189 220L195 214.5L197.5 213.2ZM243.9 213.5L246.5 213.1L252 213.3L254.1 214L255 214.7L255.7 215.5L256.4 217L256.8 218.5L257 224L256.8 225.5L256.4 227L255.8 228L254.8 229L253.5 229.7L251.5 230.1L245.5 230.1L244 229.8L242.5 229.1L241.5 228.4L240.8 227.5L240.1 226L239.6 224L239.5 220.5L239.8 218L240.3 216.5L241.4 215L242.5 214.1ZM147 216.5L148 216.4L149 217L150 218.5L150.5 220.5L150.5 222.5L150 224.3L149 225.8L148 226.3L147 226.3L146 225.5L145.2 224L144.8 222.5L144.8 220.5L145.1 219L146 217.2ZM285.3 230L286.5 229.8L288 229.9L289 230.3L290.1 231L290.9 232L291.3 233L291.2 234L290.9 234.5L289.5 235.5L287 236L284.5 235.7L282.8 235L282.1 234L282.3 232.5L283.5 231ZM273 231.8L274 231.7L275 232L275.7 232.5L276.1 233L276.3 234L276 235L275.6 235.5L274.5 236.1L273.5 236.2L272.5 236L271.7 235.5L271.1 234.5L271.1 233.5L271.6 232.5ZM298 232L299.5 231.6L300.5 231.9L301 232.3L301.5 233.5L301.4 234L301 234.8L300.5 235.2L299.5 235.5L298.5 235.4L297.8 235L297.4 234.5L297.1 233.5L297.4 232.5ZM109.8 235L111 234.8L112.5 235.2L113.5 236L114.5 237.7L114.8 239.5L114.5 241L113.5 242.4L112.5 243L111 243.2L109.5 242.9L108 241.9L107.1 240.5L106.8 239.5L106.9 238.5L107.4 237L108.5 235.7ZM222.5 236L223 235.7L223.5 235.7L223.9 236L223.8 236.5L223.5 236.7L223 236.8L222.6 236.5ZM276.9 248L279 247.7L286.5 247.9L294 247.7L295.5 247.8L299.5 249L304.5 249.6L307.9 250.5L311.1 252L312.1 253L312.4 254L311.8 255L311.2 255.5L309.5 256.3L302.4 258.5L300 259L296.5 259.3L277 259.3L272 258.8L261.7 256.5L259 255.5L258.2 255L257.5 254L257.5 253.5L257.9 253L258.5 252.5L260.5 251.5L262.5 250.8L267.5 249.6L273 249.2ZM170.2 255.5L171 255.1L172.3 255.5L173 256.5L172.7 257L172 257.1L171 256.8L170.3 256ZM283.4 270.5L299 270.6L301.5 271L304 272L307.8 274.5L308.7 275.5L308.9 276L309 277L308.6 278L307.7 279L306.5 279.7L304.6 280.5L302 281.1L295 282.2L291 282.6L280 282.5L271 281.1L268.5 280.5L266.5 279.6L265 278.5L264.3 277.5L264.3 276L265.4 274.5L268.4 272.5L271 271.2L273.5 270.7ZM105.8 277.5L106 277.3L106.5 277.3L106.7 277.5L106.6 278L106 278.1ZM285.4 299L286.5 298.6L287.8 299L288.5 300L288.2 301L287.7 301.5L287 301.7L285.5 301.5L285 301L284.7 300.5L284.9 299.5ZM121.3 305L122.5 305L123.5 305.2L124.5 305.7L125.3 306.5L125.7 307.5L125.5 308.5L125 309.3L124.1 310L122.5 310.5L121 310.4L119.5 309.8L118.5 308.8L118.2 307.5L118.6 306.5L119.7 305.5Z"/>
<path fill="#f7b99b" d="M121.6 134L123 133.7L124.5 134.1L125 134.6L125.4 135.5L125.4 136L125 136.7L124 137.4L123 137.6L122 137.4L121.2 137L120.8 136.5L120.5 135.5L121 134.5ZM173.4 185.5L174.5 185.4L175.2 185.5L175.8 186L175.9 187L175 188.5L173.6 190L172.5 190.3L171.5 190.1L171 189.9L170.5 189.2L170.5 188L171.5 186.5ZM110.3 202L111.5 202L112.5 202.5L113.4 203.5L113.7 204.5L113.6 206L113.1 207L112 208L111 208.3L110 208.2L108.7 207.5L107.9 206.5L107.6 205.5L107.8 204L108.4 203L109 202.5ZM272.5 205L274 204.7L274.9 205L275.5 205.5L275.8 206L275.8 207L275.1 208L274.5 208.4L273.5 208.5L272.5 208.2L272 207.9L271.5 207L271.5 206.5L271.9 205.5ZM285 205L286.5 204.5L287.5 204.7L288.2 205L288.7 205.5L289.1 206.5L288.9 207.5L288.6 208L288 208.5L287 208.8L286 208.7L285 208.2L284.4 207.5L284.1 206.5L284.4 205.5ZM199.2 213L202 212.7L203.5 213L204.5 213.5L206 215L206.9 217.5L207.1 219.5L207.2 222.5L206.7 226L206 227.5L205.3 228.5L204 229.4L203 229.8L201.5 230L199 229.7L197 229.1L195.5 228.3L193.2 226.5L189.4 222.5L188.8 221.5L188.8 221L189.5 220L194.5 215.1L196.5 213.9ZM244.9 213.5L247.5 213.3L252 213.5L253.5 214L254.4 214.5L255.7 216L256.3 217.5L256.6 219L256.7 224.5L256.5 226L256 227.2L255.5 228L254.3 229L253 229.6L251 230L245.5 229.9L244 229.5L242.8 229L241.5 228L240.8 227L240.1 225L239.8 223L239.8 220L240.2 217.5L240.9 216L242 214.8L243.3 214ZM146.5 218.5L147.5 218L148 218.1L149 219L149.4 220L149.6 221.5L149.3 223L148.8 224L148 224.7L147 224.6L146.5 224.2L145.8 222.5L145.7 220.5L146 219.4ZM285.6 230L287 229.8L288 230L289 230.4L290 231L290.8 232L291.2 233L291.1 234L290.8 234.5L289.4 235.5L287 236L284.5 235.7L283 235L282.3 234L282.2 233.5L282.4 232.5L283.6 231L284.5 230.4ZM272.6 232L273.5 231.8L274.5 231.9L275.5 232.5L275.9 233L276.1 233.5L276.1 234.5L275.4 235.5L274.5 236L273.5 236.1L272.5 235.9L271.5 235L271.3 234.5L271.2 233.5L271.8 232.5ZM298.3 232L299 231.8L300 231.9L300.9 232.5L301.2 233L301.2 234L300.5 235L300 235.2L299 235.3L298.2 235L297.6 234.5L297.3 234L297.4 233L297.7 232.5ZM109.7 236L111 235.8L112 236L113 236.8L113.7 238L113.9 239.5L113.7 240.5L113 241.6L112 242.2L111 242.3L109.5 241.9L108.5 241.1L107.9 240L107.7 239L108 237.8L108.5 236.9ZM277 248L279.5 247.7L286.5 247.9L294 247.7L295.5 247.9L299.5 249.1L304.5 249.8L307.5 250.6L309.6 251.5L311 252.5L311.4 253L311.7 254L311.1 255L309 256.3L303 258.3L299.8 259L296.5 259.3L277 259.3L272 258.8L262.7 256.5L259.9 255.5L259.1 255L258.4 254L258.5 253.5L258.8 253L259.4 252.5L262.8 251L267.5 249.8L273 249.2ZM283.8 270.5L299 270.7L301.4 271L303.8 272L307.4 274.5L308.3 275.5L308.6 276.5L308.6 277L308.2 278L307.2 279L306 279.7L304 280.5L295 282.2L290.5 282.6L280 282.4L271 280.9L268.5 280.3L266.8 279.5L265.4 278.5L264.7 277.5L264.6 277L264.7 276L265.8 274.5L268.6 272.5L271 271.2L273.5 270.7ZM286.4 299L287.5 299.3L288 300L288 300.5L287.7 301L287 301.4L286 301.3L285.5 301L285.2 300.5L285.2 300L285.4 299.5ZM120.7 306.5L122 306.2L123.3 306.5L123.9 307L124.1 307.5L123.8 308.5L123.2 309L122.5 309.2L121.5 309.2L120.8 309L120.2 308.5L119.9 308L120.1 307Z"/>
<path fill="#f6b293" d="M109.8 203.5L111 203.3L111.6 203.5L112.1 204L112.4 204.5L112.4 205.5L112 206.3L111.5 206.7L111 206.9L110 206.8L109.1 206L108.9 205.5L109 204.5ZM272.9 205L273.5 204.9L274.5 205L275.5 205.8L275.7 206.5L275.6 207L274.9 208L273.5 208.4L272.5 208.1L271.9 207.5L271.7 207L271.8 206L272.1 205.5ZM285.3 205L286 204.7L287 204.7L287.8 205L288.4 205.5L288.8 206L288.9 207L288.4 208L287.5 208.6L286.5 208.7L285.7 208.5L284.9 208L284.6 207.5L284.3 206.5L284.7 205.5ZM201.2 213L202.5 213.1L203.5 213.3L204.5 213.8L205.5 214.8L206.5 217L207 220.5L206.8 224.5L206.4 226L205.7 227.5L205 228.3L204 229.1L203 229.5L201.5 229.7L198 229.2L195.4 228L193.6 226.5L190.3 223L189.6 222L189.4 221.5L189.4 221L190 220L193.5 216.3L195 215L197.5 213.7ZM244 214L246.5 213.5L251.5 213.7L253.5 214.3L255 215.5L255.9 217L256.3 218.5L256.6 220.5L256.6 223.5L256.4 225L256 226.5L255.5 227.5L254.5 228.5L253 229.3L251.5 229.7L246.5 229.7L245 229.5L243.5 229.1L242.5 228.5L241.5 227.5L240.6 226L240.1 224L240 221L240.3 218.5L240.7 217L241.5 215.7L242.5 214.8ZM285.8 230L287 229.9L288.5 230.2L289.5 230.8L290.3 231.5L290.9 232.5L291 233.5L290.7 234.5L290.2 235L288.5 235.7L286 235.9L284 235.5L283.1 235L282.6 234.5L282.3 233.5L282.8 232L284 230.8ZM272.9 232L274.5 232L275.3 232.5L275.8 233L276 233.5L275.9 234.5L275 235.6L274 236L273 235.9L272.1 235.5L271.7 235L271.3 234L271.5 233.2L272 232.5ZM298.9 232L300 232.1L300.7 232.5L301 233L301 234.1L300.5 234.8L300 235.1L299.5 235.2L298.5 235L297.9 234.5L297.6 234L297.6 233L298 232.4ZM109.7 237.5L110.5 237.1L111 237.1L112 237.5L112.4 238L112.7 239.5L112.5 240.1L112 240.7L111.5 241L110.5 241L109.5 240.4L109 239.5L109 239L109.3 238ZM277.1 248L279.5 247.7L286.5 247.9L293.5 247.7L295.5 247.9L299.5 249.1L304.5 249.9L307.5 250.9L308.9 251.5L310.4 252.5L310.8 253L311.1 254L310.5 255L308.9 256L303 258.2L299.6 259L296.5 259.3L277 259.3L272 258.7L263.6 256.5L260.9 255.5L260 255L259.3 254L259.4 253.5L260.3 252.5L263.7 251L268 249.9L273 249.3ZM284.2 270.5L299 270.7L301.5 271.1L303.6 272L307.1 274.5L307.9 275.5L308.2 276.5L308.2 277L307.8 278L306.7 279L305.5 279.7L303.5 280.5L294.5 282.2L290.5 282.5L280.5 282.4L271.5 280.9L269 280.2L267.3 279.5L265.9 278.5L265.2 277.5L265 277L265.1 276L265.7 275L266.7 274L268.8 272.5L271 271.3L272.5 270.9L274 270.7ZM286.4 299.5L287 299.6L287.4 300L287.4 300.5L287 300.8L286.5 300.9L285.8 300.5L285.8 300Z"/>
<path fill="#f5ae8e" d="M285.8 205L286.5 204.9L287.5 205.1L288.5 205.9L288.7 207L288.5 207.5L288 208.1L287 208.6L286.1 208.5L285.2 208L284.7 207.5L284.5 206.5L284.6 206L285 205.5ZM272.4 205.5L273.5 205.1L274.5 205.2L275 205.5L275.5 206.5L275.2 207.5L274.6 208L274 208.2L273 208.1L272.5 207.9L272 207.3L271.9 206.5ZM199.3 213.5L202 213.3L204 213.9L205 214.7L205.6 215.5L206.5 218L206.7 222.5L206.5 224.5L206.1 226L205.5 227.2L204.5 228.4L203.5 229L202.5 229.3L201 229.4L198.5 229L197 228.6L195.5 227.8L193 225.5L190.4 222.5L190 221.5L190 221L190.5 220L194.5 215.7L196.5 214.4ZM244.9 214L247.5 213.7L251.5 213.9L253.5 214.6L255.1 216L255.8 217.5L256.2 219L256.3 224L256.1 225.5L255.5 226.9L255 227.6L254 228.5L252.5 229.2L251 229.5L246 229.5L243.5 228.8L242.4 228L241.5 227L240.7 225.5L240.3 223.5L240.3 220.5L240.7 218L241.3 216.5L242.1 215.5L243.5 214.5ZM286.3 230L287.5 230L288.5 230.3L289.5 230.9L290.2 231.5L290.8 232.5L290.9 233.5L290.5 234.5L290.1 235L288.5 235.7L286 235.9L284.1 235.5L283.2 235L282.7 234.5L282.5 234L282.5 233L283.3 231.5L284.6 230.5ZM272.2 232.5L273.5 232L274.5 232.2L275.1 232.5L275.8 233.5L275.8 234.5L275.5 235L274.9 235.5L274 235.8L273 235.8L272.4 235.5L271.8 235L271.5 234L271.7 233ZM298.3 232.5L299.5 232.2L300.4 232.5L300.9 233.5L300.5 234.5L299.5 235L299 235L298.1 234.5L297.7 233.5L297.8 233ZM277.2 248L279.5 247.7L286.5 247.9L293.5 247.7L295.5 247.9L300 249.3L304.5 250.1L307.2 251L309.7 252.5L310.4 253.5L310.4 254L309.8 255L308.3 256L303.3 258L299.5 259L296.5 259.3L277 259.3L274 259L272 258.7L264 256.3L261.7 255.5L260.9 255L260.2 254L260.2 253.5L261.2 252.5L264.5 251L268.2 250L273.5 249.2ZM284.6 270.5L299 270.7L301.5 271.1L304.3 272.5L306.7 274.5L307.7 276L307.8 277L307.3 278L306.3 279L303.5 280.3L301 280.9L294.5 282.2L290.5 282.5L280.5 282.4L273 281.1L270 280.4L268 279.6L266.3 278.5L265.6 277.5L265.4 276.5L265.5 276L266.5 274.5L268.9 272.5L271.5 271.2L274 270.7Z"/>
<path fill="#f4a886" d="M272.8 205.5L274 205.3L275 205.9L275.3 206.5L274.9 207.5L274.2 208L273.5 208.1L272.5 207.7L272.1 207L272.1 206.5L272.3 206ZM285.3 205.5L286.5 205L287.9 205.5L288.5 206.5L288.3 207.5L287.9 208L287 208.4L286.5 208.4L285.5 208.1L284.9 207.5L284.7 207L284.9 206ZM198.3 214L201.5 213.6L203.5 214L205 215.2L206 217.1L206.3 218.5L206.5 220.5L206.4 223L206.1 225L205.6 226.5L205 227.4L204 228.3L203 228.8L201.5 229.1L199.5 228.9L197.5 228.5L196 227.8L193.8 226L191.2 223L190.6 222L190.5 221.5L190.7 220.5L193.5 217L195.9 215ZM246.6 214L250.5 214L252.5 214.4L254.3 215.5L255.3 217L255.8 218.5L256.1 220L256.1 223L255.9 225L255.5 226.3L255 227.2L254.2 228L253 228.7L251.5 229.2L250 229.3L247 229.3L245 229L242.8 228L241.8 227L241.2 226L240.7 224L240.5 222L240.6 219.5L241.1 217.5L242 216L243.1 215L244.5 214.4ZM284.7 230.5L286 230.1L287 230L288.5 230.4L289.5 231L290.1 231.5L290.7 232.5L290.8 233.5L290.4 234.5L289.9 235L289 235.5L287 235.9L285 235.7L283.3 235L282.6 234L282.7 232.5L283.4 231.5ZM272.4 232.5L273.5 232.1L274.5 232.3L275 232.6L275.7 233.5L275.6 234.5L275.3 235L274.6 235.5L274 235.7L273 235.7L272.5 235.4L272 235L271.6 234L271.9 233ZM298.7 232.5L299.5 232.4L300 232.5L300.5 233L300.6 234L300.2 234.5L299.5 234.8L299 234.7L298.5 234.5L298.1 234L298 233.5L298.1 233ZM277.4 248L279.5 247.7L295 247.9L300 249.3L304 250.1L306.6 251L309.1 252.5L309.8 253.5L309.8 254L309.2 255L307.8 256L303.1 258L299.5 259L296.5 259.2L277 259.3L274 259L272 258.6L265.2 256.5L262.6 255.5L261.7 255L261 254L261 253.5L262 252.5L264.5 251.3L268.5 250.1L273.5 249.2ZM285.1 270.5L299 270.8L301.5 271.2L303.3 272L305.9 274L307.2 275.5L307.4 276L307.4 277L306.9 278L305.8 279L303 280.3L296 281.8L293 282.3L290.5 282.5L281 282.4L274 281.2L270.5 280.4L268.5 279.6L266.7 278.5L265.9 277.5L265.8 277L265.8 276L266.8 274.5L269.1 272.5L271.5 271.2L274 270.8Z"/>
<path fill="#f3a380" d="M273.4 205.5L274.5 205.7L275 206.5L275 207L274.7 207.5L274 207.9L273 207.8L272.3 207L272.5 206ZM285.6 205.5L286.5 205.2L287 205.3L288 205.9L288.3 207L288 207.6L287 208.2L286 208.1L285.5 207.8L285 207.1L284.9 206.5L285.1 206ZM199.8 214L202 213.9L203 214.2L204 214.7L204.8 215.5L205.5 216.5L206.1 218.5L206.2 223L206 224.5L205.5 226L204.9 227L204 227.9L203 228.5L202 228.7L200.5 228.7L198.5 228.5L196 227.5L194.7 226.5L193.2 225L191.6 223L191 221.5L191.2 220.5L191.8 219.5L194.9 216L197 214.7ZM245 214.5L247.5 214.2L251.5 214.4L253.5 215.2L254.7 216.5L255.4 218L255.8 219.5L255.8 224L255.5 225.5L255.1 226.5L254.3 227.5L253.5 228.1L252 228.8L250.5 229L246 229L244.5 228.6L243.5 228.1L242.5 227.3L241.8 226.5L241.2 225L240.9 223.5L240.8 220.5L241.1 218.5L241.7 217L242.5 215.9L243.5 215.1ZM284.9 230.5L286 230.2L287 230.1L288.5 230.4L289.4 231L290.3 232L290.7 233L290.6 234L290.3 234.5L289.8 235L288.9 235.5L287 235.8L285 235.7L283.4 235L282.7 234L282.8 232.5L283.5 231.5ZM272.6 232.5L274 232.3L274.7 232.5L275.2 233L275.6 234L275.1 235L274.5 235.4L273.5 235.6L273 235.5L272.2 235L271.9 234.5L271.8 233.5L272.1 233ZM298.4 233L299 232.6L299.5 232.6L300 232.8L300.4 233.5L300.3 234L299.6 234.5L299 234.5L298.4 234L298.3 233.5ZM277.5 248L279.5 247.8L295 247.9L299.5 249.2L304 250.2L306.1 251L308.6 252.5L309.2 253.5L309.3 254L308.7 255L306.3 256.5L302.5 258.2L299.5 258.9L296 259.2L277 259.3L273.5 258.9L270.1 258L263.4 255.5L262.5 255L261.8 254L261.8 253.5L262.2 253L263 252.3L264.7 251.5L268 250.4L273.5 249.3ZM286 270.5L299 270.8L301.5 271.2L303.5 272.2L305.7 274L306.8 275.5L307.1 276.5L307.1 277L306.6 278L305.4 279L302.5 280.3L294 282.1L289.5 282.4L280.5 282.3L272.5 280.8L270 280.1L268 279.1L266.6 278L266.1 277L266.4 275.5L267.5 274L269.3 272.5L271.5 271.3L274 270.8Z"/>
<path fill="#ef9b7a" d="M286.2 205.5L287 205.5L287.5 205.7L288.1 206.5L287.9 207.5L287.2 208L286 208L285.4 207.5L285.2 207L285.4 206ZM272.9 206L273.5 205.8L274.4 206L274.7 206.5L274.5 207.3L274 207.6L273 207.5L272.6 207L272.6 206.5ZM198.5 214.5L201 214.2L203 214.5L204.5 215.6L205.5 217.5L205.9 219L206 221L205.9 223L205.6 225L204.5 227L203.5 227.8L202.5 228.3L201 228.5L199.5 228.3L198 228.1L196.5 227.5L195.1 226.5L194 225.5L192.4 223.5L191.6 222L191.5 221L191.9 220L194 217.3L196.1 215.5ZM246.5 214.5L250 214.5L252 214.8L253 215.3L254 216L255 217.5L255.4 219L255.6 220.5L255.5 224.5L255 226L254.5 226.8L253 228.1L252 228.5L250.5 228.8L246 228.7L244.5 228.3L243.5 227.8L242.6 227L241.9 226L241.3 224.5L241.1 222.5L241.1 220L241.6 218L242.4 216.5L243.4 215.5L245 214.8ZM285 230.5L286 230.2L287.5 230.2L289.3 231L289.8 231.5L290.4 232.5L290.6 233.5L290.2 234.5L289.7 235L288.7 235.5L287 235.8L285 235.6L283.5 235L282.8 234L282.7 233.5L282.9 232.5L283.6 231.5ZM272.9 232.5L274 232.4L275.1 233L275.4 234L275 234.9L274.5 235.3L274 235.4L273 235.4L272.4 235L272 234.5L272 233.5L272.3 233ZM298.9 233L299.7 233L300 233.5L299.8 234L299.5 234.2L298.8 234L298.6 233.5ZM277.6 248L280 247.8L295 247.9L299.5 249.3L303.5 250.2L305.6 251L308 252.5L308.7 253.5L308.7 254L308.1 255L305.9 256.5L302.7 258L299.5 258.9L296 259.2L277 259.2L273.5 258.9L270.3 258L264.1 255.5L263.3 255L262.5 254L262.6 253.5L262.9 253L264 252.2L265.4 251.5L268.2 250.5L273.5 249.3ZM272.7 271L274.5 270.8L286.5 270.5L298.5 270.8L300.5 271L302.5 271.7L305 273.5L306.5 275.5L306.7 277L306.2 278L305.7 278.5L303.5 279.8L300.5 280.8L295 281.9L291 282.4L284 282.4L281 282.3L278 281.9L272.5 280.7L270.2 280L268.1 279L266.7 277.5L266.4 276.5L266.5 276L266.9 275L267.7 274L270.2 272L271.5 271.3Z"/>
<path fill="#ec9374" d="M285.7 206L286.5 205.7L287.5 206L287.8 206.5L287.8 207L287.6 207.5L287 207.8L286.5 207.9L285.7 207.5L285.4 207L285.4 206.5ZM272.9 206.5L273.5 206.1L274 206.1L274.4 206.5L274.3 207L274 207.3L273.5 207.4L272.9 207ZM197.8 215L200.5 214.5L202.5 214.7L204 215.6L204.7 216.5L205.2 217.5L205.6 219L205.7 220.5L205.7 223L205.4 224.5L204.5 226.5L203.5 227.4L202.5 227.9L201 228.1L199.5 228L198 227.8L196.5 227.1L195 226.1L194 225L192.5 223L192 222L192.1 220.5L193.7 218L195.8 216ZM245.3 215L247.5 214.7L251 214.9L253 215.6L254.4 217L254.8 218L255.2 219.5L255.4 222L255.3 224L255 225.2L254.5 226.3L253.9 227L253 227.7L252 228.2L250.5 228.5L248 228.6L246 228.4L244.6 228L243.7 227.5L242.3 226L241.6 224.5L241.4 223L241.4 220.5L241.7 218.5L242.1 217.5L243 216.3L244 215.5ZM285.2 230.5L286.5 230.2L287.5 230.3L289.2 231L289.7 231.5L290.3 232.5L290.5 233.5L290.1 234.5L289.6 235L288.6 235.5L287 235.8L285 235.6L283.6 235L282.9 234L282.8 233.5L283 232.5L284 231.2ZM273.5 232.5L274.5 232.7L275.2 233.5L275.1 234.5L274.6 235L274 235.3L273.5 235.3L272.7 235L272.2 234.5L272.1 234L272.4 233ZM277.7 248L280 247.8L286.5 247.9L293 247.8L295.5 248L299.5 249.3L303 250.2L305.1 251L307.5 252.5L308.2 253.5L308.2 254L307.7 255L305.5 256.5L302.5 258L299.5 258.9L296 259.2L277 259.2L273.5 258.9L270.5 258L264.8 255.5L263.5 254.5L263.2 254L263.3 253.5L263.6 253L264.2 252.5L266 251.5L268.8 250.5L273.5 249.4ZM273 271L286.5 270.5L300.2 271L302.5 271.8L304.8 273.5L306.3 275.5L306.4 277L305.9 278L305.4 278.5L303 279.9L300 280.8L295 281.9L291 282.4L284 282.4L281 282.3L278 281.8L273 280.7L270 279.8L268 278.6L267 277.5L266.8 277L266.8 276L267.2 275L267.9 274L270.3 272L271.5 271.4Z"/>
<path fill="#ea8d70" d="M286.4 206L287 206L287.5 206.5L287.5 207L287 207.6L286.1 207.5L285.7 207L285.7 206.5ZM199.2 215L201.5 214.9L203 215.3L204.3 216.5L205.2 218.5L205.4 222L205 224.8L204 226.5L203 227.3L202 227.7L200.5 227.8L199 227.6L197.5 227.3L196.5 226.8L195.4 226L194 224.6L192.9 223L192.5 222L192.4 221L192.7 220L194.6 217.5L196.5 215.9L198 215.3ZM246.8 215L250 215L252 215.4L253.5 216.4L254.5 218L255.1 220.5L255.1 223L254.9 224.5L254.5 225.5L253.9 226.5L253 227.4L252 227.9L250.5 228.2L249 228.3L247 228.3L245.5 228L243.5 227L242.6 226L242.1 225L241.8 223.5L241.7 221L241.8 219.5L242.2 218L243 216.7L244 215.9L245.5 215.2ZM285.4 230.5L286.5 230.3L287.5 230.4L288.5 230.7L289.5 231.4L290 232L290.4 233L290.3 234L290 234.5L289.5 235L288.5 235.5L287 235.7L285 235.6L283.7 235L283 234L282.9 233.5L283.1 232.5L284 231.3ZM272.7 233L273.5 232.7L274.5 232.9L275 233.5L275.1 234L274.9 234.5L274 235.1L272.9 235L272.4 234.5L272.3 234L272.3 233.5ZM277.9 248L280 247.8L293 247.8L295.5 248.1L303 250.3L304.7 251L307 252.5L307.7 253.5L307.7 254L307.6 254.5L306.7 255.5L304.4 257L302.4 258L299.5 258.9L296 259.2L277 259.2L274.4 259L272.1 258.5L269.5 257.5L265.4 255.5L264.1 254.5L263.9 254L264 253.5L264.3 253L264.8 252.5L266.6 251.5L269.2 250.5L273.5 249.4ZM273.2 271L286.5 270.5L300 271L302.5 271.8L304.6 273.5L306 275.5L306.1 277L305.5 278L305 278.5L303 279.7L300 280.7L295 281.8L291 282.3L284.5 282.4L281 282.2L278 281.8L273.5 280.8L270.5 279.8L268.5 278.8L267.3 277.5L267 276.5L267.2 275.5L267.7 274.5L268.6 273.5L269.7 272.5L271 271.7Z"/>
<path fill="#e6856a" d="M286.3 206.5L287 206.5L287.1 207L286.5 207.2L286.2 207ZM198.4 215.5L201 215.2L202.5 215.5L203.9 216.5L204.7 218L205.1 220.5L204.9 224L204 226L203.5 226.5L202.5 227.1L201.5 227.4L200 227.4L198.5 227.2L197 226.7L195.9 226L194.8 225L193.1 222.5L192.8 221.5L192.9 220.5L194.1 218.5L196 216.6L197 216ZM245.7 215.5L248 215.2L251 215.5L252.5 216L253.9 217.5L254.4 218.5L254.7 220L254.7 224L253.9 226L252.5 227.3L251.5 227.7L250 228L246.5 227.9L245 227.5L244.1 227L242.7 225.5L242.3 224.5L242 223L242 220.5L242.2 219L242.8 217.5L243.5 216.7L244.5 216ZM285.6 230.5L287.5 230.4L288.5 230.8L289.5 231.5L290.1 232.5L290.3 233.5L289.9 234.5L289.4 235L288 235.6L286 235.7L284.5 235.3L283.4 234.5L283 233.5L283.5 232L284.5 231ZM273 233L274 232.9L274.5 233.1L274.9 234L274.5 234.7L273.5 235L272.7 234.5L272.4 234L272.5 233.5ZM278 248L280 247.8L293 247.8L295.5 248.1L302.5 250.3L304.3 251L306.6 252.5L307.2 253.5L307.3 254L306.8 255L305.7 256L302.2 258L299.5 258.8L296 259.2L277 259.2L274.5 259L272.2 258.5L269.7 257.5L265.9 255.5L264.7 254.5L264.5 254L264.6 253.5L264.9 253L267.2 251.5L269.7 250.5ZM273.4 271L286.5 270.6L294.5 270.7L300 271L302 271.7L304 273L305.6 275L305.9 276.5L305.3 278L303.2 279.5L300 280.6L295 281.8L292 282.2L289 282.3L282.5 282.3L278.5 281.8L274 280.8L271 279.9L269 278.9L267.6 277.5L267.3 276.5L267.4 275.5L268.7 273.5L269.8 272.5L271 271.8Z"/>
<path fill="#e27d63" d="M197.9 216L200 215.6L202 215.8L203.5 216.7L204.3 218L204.8 220.5L204.7 223.5L203.9 225.5L202.5 226.7L200.5 227.1L199 226.9L197.4 226.5L196.4 226L195.2 225L194 223.5L193.5 222.5L193.3 221L193.6 220L194.2 219L196 217ZM245.2 216L247.5 215.5L250.5 215.7L252.5 216.4L253.6 217.5L254.1 218.5L254.4 220L254.4 223.5L253.8 225.5L252.5 226.9L251.5 227.4L250 227.7L246.5 227.6L244.5 226.9L243.1 225.5L242.6 224.5L242.3 223L242.4 219.5L242.9 218L243.5 217.2L244.3 216.5ZM285.9 230.5L287 230.4L288 230.6L289 231.2L289.8 232L290.2 233.5L289.8 234.5L289.3 235L288 235.5L286 235.7L284.5 235.3L283.5 234.5L283.1 233.5L283.6 232L284.6 231ZM273.5 233L274 233.1L274.5 233.5L274.5 234.3L274 234.7L273.5 234.8L273 234.6L272.7 234L272.8 233.5ZM278.2 248L280 247.8L293 247.8L295.5 248.1L304 251L306.2 252.5L306.8 253.5L306.9 254L306.4 255L305.4 256L302.1 258L299.5 258.8L296 259.2L277 259.2L274.7 259L272.4 258.5L269.9 257.5L266.4 255.5L265.3 254.5L265.1 254L265.2 253.5L265.5 253L267.6 251.5L270 250.5ZM273.7 271L287 270.6L294.5 270.7L300 271.1L302 271.7L303.9 273L305.4 275L305.7 276.5L305.3 277.5L305 278L304 278.8L302.9 279.5L300.5 280.4L295 281.7L292 282.2L289 282.3L282.5 282.3L279 281.9L274 280.8L271 279.8L269 278.7L267.9 277.5L267.5 276.5L267.6 275.5L268.1 274.5L268.9 273.5L271 271.8L272.5 271.2Z"/>
<path fill="#df755d" d="M200.5 216L201.5 216.1L202.5 216.4L203.2 217L203.9 218L204.4 220L204.4 223L204 224.5L203.5 225.3L202.8 226L201.5 226.6L199 226.6L197 225.9L195.5 224.8L194.5 223.5L194 222.6L193.8 221L194 220L194.6 219L195.5 217.9L196.5 217.1L198 216.4ZM246.3 216L249 215.8L251 216.1L252.5 216.9L253.5 218.1L254.1 220L254.1 223.5L253.4 225.5L252 226.8L250 227.3L246.5 227.3L244.5 226.5L243.2 225L242.9 224L242.6 222.5L242.6 220.5L242.9 219L243.4 218L244.2 217L245 216.5ZM286.3 230.5L288 230.7L289 231.3L289.7 232L290.1 233.5L289.7 234.5L289.2 235L288 235.5L286 235.6L284.5 235.2L283.6 234.5L283.2 233.5L283.7 232L284.8 231ZM273.1 233.5L273.5 233.3L274 233.3L274.3 234L274 234.5L273.5 234.5L272.9 234ZM278.4 248L293 247.9L295.5 248.1L303.7 251L305.8 252.5L306.2 253L306.5 254L306.1 255L305.1 256L303.8 257L301.9 258L299.5 258.8L296 259.2L277 259.2L274.5 259L272.5 258.5L270.1 257.5L266.8 255.5L265.8 254.5L265.7 253.5L266 253L268.1 251.5L270.4 250.5ZM274 271L287 270.6L294.5 270.7L300 271.1L302 271.8L303.7 273L305.2 275L305.4 276.5L304.7 278L302.6 279.5L300 280.4L295 281.7L292 282.1L289 282.3L282.5 282.2L279 281.8L274 280.7L271 279.7L269 278.5L267.9 277L267.7 276L268 275L268.6 274L269.5 273L271.5 271.6Z"/>
<path fill="#db6d57" d="M199.4 216.5L201 216.5L202.5 217L203.4 218L204 219.5L204.1 222L203.7 224L203 225.2L202.5 225.6L201.5 226.1L199 226.1L197 225.5L195.3 224L194.7 223L194.3 222L194.3 220.5L194.8 219.5L195.5 218.5L196.5 217.6L197.4 217ZM245.8 216.5L248 216.2L250.5 216.4L252 217L253 218L253.7 220L253.8 223L253.2 225L252 226.3L250 227L247 227L245 226.3L243.7 225L243.2 224L243 222.7L243.2 219.5L243.5 218.5L244.2 217.5ZM284.9 231L286 230.6L287 230.6L288 230.8L289 231.4L289.6 232L290 233L289.9 234L289.6 234.5L288.5 235.3L287 235.6L285.4 235.5L284.2 235L283.4 234L283.3 233L283.8 232ZM278.5 248L292.5 247.9L295.5 248.2L302.3 250.5L304.3 251.5L305.9 253L306.1 254L306 254.5L304.9 256L302.8 257.5L300.5 258.5L298.3 259L296 259.2L277 259.2L274 258.8L271.3 258L267.9 256L266.3 254.5L266.2 253.5L266.5 253L268.5 251.5L270.7 250.5L277 248.3ZM274.4 271L287 270.6L294.5 270.8L300 271.2L302 271.8L303.6 273L304.8 274.5L305.2 275.5L305.2 276.5L304.5 278L303.5 278.8L302.3 279.5L299 280.7L294.5 281.7L291.5 282.2L288 282.3L282.5 282.2L279 281.8L274.5 280.7L271.5 279.8L269.2 278.5L268.1 277L268 276L268.2 275L268.7 274L269.6 273L271.5 271.7L273 271.2Z"/>
<path fill="#d96853" d="M199.1 217L201 217L202 217.3L203 218.3L203.5 219.5L203.6 222L203.4 223.5L202.5 225L201.5 225.5L199.5 225.7L197.5 225.2L195.9 224L195.2 223L194.8 222L194.9 220.5L195.3 219.5L196 218.6L197.5 217.5ZM245.6 217L247.5 216.6L250 216.6L251.5 217.1L252.5 218L253.1 219L253.4 220L253.5 222.5L253 224.5L252 225.8L250.5 226.5L247.5 226.7L245.5 226.2L244.2 225L243.7 224L243.4 223L243.5 220L243.7 219L244.3 218ZM285.1 231L286 230.7L287 230.6L288 230.9L289 231.5L289.5 232L289.9 233L289.8 234L289.5 234.5L288.5 235.2L287 235.6L285.5 235.5L284.3 235L283.5 234L283.4 233L283.9 232ZM278.7 248L292.5 247.9L295.5 248.2L301.5 250.3L303.5 251.2L304.7 252L305.5 253L305.8 253.5L305.7 254.5L304.7 256L302.6 257.5L300.4 258.5L298.1 259L296 259.2L277 259.2L274 258.8L271.4 258L268.1 256L266.7 254.5L266.6 253.5L266.9 253L268.8 251.5L271.5 250.3L277 248.4ZM274.8 271L287 270.6L294.5 270.8L300 271.2L302 271.9L303.5 273L304.3 274L304.9 275L305 276.5L304.3 278L302.5 279.3L300 280.3L294.5 281.7L291.5 282.1L288 282.3L282.5 282.2L279 281.8L274.5 280.7L271.5 279.7L269.5 278.5L268.3 277L268.1 276L268.3 275L268.9 274L269.7 273L271 272L272 271.5Z"/>
<path fill="#d6604d" d="M247.2 217L249 217L250.5 217.2L251.9 218L252.6 219L253.1 221L252.9 223.5L252.2 225L251 225.9L249 226.3L246.5 226.1L245 225.3L244.1 224L243.9 223L243.8 221.5L243.9 220L244.2 219L244.9 218L245.5 217.6ZM197.6 218L199 217.6L200.5 217.5L201.5 217.8L202.5 218.6L203.1 220L203.1 222L202.8 223.5L202 224.6L200.5 225.1L198.5 225L197 224.3L196 223.3L195.4 222L195.4 220.5L196.3 219ZM285.2 231L287 230.7L288 230.9L288.9 231.5L289.4 232L289.8 233L289.7 234L289.4 234.5L288.5 235.2L287 235.5L285.5 235.4L284.4 235L283.6 234L283.5 233L284 232ZM278.9 248L292.5 247.9L295.5 248.2L301.5 250.3L303.7 251.5L305.3 253L305.5 254L305.5 254.5L304.4 256L302.5 257.5L300.3 258.5L298 259L296 259.2L277 259.2L274 258.8L271.6 258L268.4 256L267.1 254.5L267 254L267.3 253L268.3 252L269.5 251.3L271.2 250.5L276.5 248.6ZM279 270.8L287.5 270.7L294.5 270.8L300 271.2L302 272L303.4 273L304.2 274L304.7 275L304.9 276.5L304 278L302 279.4L298.5 280.7L294.5 281.7L291 282.1L288 282.2L282.5 282.2L279 281.7L275 280.8L271.5 279.6L269.7 278.5L268.5 277L268.3 276L268.5 275L269 274L269.8 273L271 272.1L272 271.6L273.5 271.2Z"/>
<path fill="#d15749" d="M247 217.5L249 217.4L250.5 217.7L251.5 218.3L252.3 219.5L252.6 221.5L252.4 223.5L251.9 224.5L250.7 225.5L249 225.8L247 225.7L245.5 225L244.7 224L244.3 222L244.3 220.5L244.6 219.5L245.5 218.2ZM198 218.5L199 218.2L200.5 218.3L201.3 218.5L202 219.1L202.5 220.5L202.5 222L202.3 223L201.5 224L200.5 224.4L198.5 224.3L197.5 223.9L196.5 223L196.1 222L196.2 220.5L196.7 219.5ZM285.4 231L287 230.8L288 231L288.8 231.5L289.3 232L289.7 233L289.6 234L289.3 234.5L288 235.3L286.5 235.5L285 235.2L284 234.6L283.6 233.5L283.8 232.5L284.5 231.5ZM279.1 248L292.5 247.9L295.5 248.2L301 250.2L303 251.2L304.1 252L305 253L305.2 253.5L305.2 254.5L304.7 255.5L303.7 256.5L301.4 258L299 258.8L296 259.2L277 259.2L275.3 259L273 258.5L270.7 257.5L268.6 256L267.7 255L267.3 254L267.4 253.5L268.1 252.5L269.4 251.5L271.4 250.5L276.5 248.6ZM275.6 271L279 270.8L287.5 270.7L294.5 270.8L300 271.3L301.9 272L303.7 273.5L304.6 275L304.7 276.5L303.9 278L302 279.3L298.5 280.6L294 281.7L290.5 282.1L286 282.2L282.5 282.1L279 281.7L275 280.7L271.6 279.5L269.9 278.5L268.7 277L268.5 276L268.6 275L269.5 273.5L270.5 272.5L272.5 271.5Z"/>
<path fill="#cd4f44" d="M247.4 218L249 218L250 218.1L251 218.7L251.7 219.5L252.1 221L252 223L251.5 224.1L250.5 224.9L249 225.3L247 225.1L245.8 224.5L245.1 223.5L244.8 222L245 220L245.5 219L246 218.5ZM198 219.5L199.5 219.2L200.5 219.4L201 219.6L201.5 220.5L201.6 221.5L201.4 222.5L201 223L200 223.4L199 223.5L198 223.2L197.5 222.8L197 222L197 221L197.4 220ZM285.6 231L287 230.8L288 231.1L288.7 231.5L289.2 232L289.6 233L289.5 234L289.2 234.5L288 235.2L286.5 235.5L285 235.2L284 234.5L283.7 233.5L283.9 232.5L284.7 231.5ZM279.4 248L292.5 247.9L295.5 248.3L301 250.3L303.3 251.5L304.8 253L305 254L305 254.5L304.5 255.5L303.6 256.5L301.3 258L299 258.8L296 259.2L277 259.2L275.4 259L273.1 258.5L270.9 257.5L268.8 256L268 255L267.7 254.5L267.7 253.5L268.3 252.5L269.6 251.5L271.6 250.5L276.5 248.6ZM279 270.8L287.5 270.7L294.5 270.8L299.5 271.2L301.5 271.8L303.2 273L304.2 274.5L304.5 275.5L304.5 276.5L303.7 278L302 279.2L299 280.4L294 281.7L291 282.1L287.5 282.2L283 282.1L279.5 281.7L275 280.6L271.5 279.4L269.5 278L268.7 276.5L268.7 275.5L269 274.5L269.6 273.5L270.6 272.5L271.5 271.9L273 271.4Z"/>
<path fill="#c94641" d="M246.7 219L247.5 218.7L249 218.7L250 218.9L250.8 219.5L251.3 220.5L251.4 222L251 223.5L250.5 224.1L249.5 224.5L248 224.6L247 224.4L246 223.6L245.5 222.5L245.5 221L246 219.6ZM285.8 231L287.5 231L288.5 231.5L289.1 232L289.4 232.5L289.5 233.5L289.1 234.5L288.5 235L287.5 235.3L286 235.4L284.7 235L284.1 234.5L283.7 233.5L283.9 232.5L284.8 231.5ZM279.6 248L292.5 248L295.5 248.3L301 250.4L303.1 251.5L304.5 253L304.8 253.5L304.8 254.5L304.3 255.5L303.4 256.5L301.2 258L299 258.8L296 259.1L277 259.2L275.5 259L273.2 258.5L271.5 257.8L269.6 256.5L268.2 255L267.9 254L268.2 253L269.8 251.5L271.7 250.5L276.5 248.7L278 248.2ZM279 270.8L287.5 270.7L294.5 270.8L299.5 271.2L301.5 271.9L303.1 273L303.9 274L304.3 275L304.4 276.5L303.5 278L301.5 279.4L298 280.6L294 281.6L290.5 282.1L287.5 282.2L283 282.1L279.5 281.7L275.5 280.7L271.5 279.3L269.7 278L268.8 276.5L268.8 275.5L269.1 274.5L269.7 273.5L270.7 272.5L272 271.7L273 271.4Z"/>
<path fill="#c53e3c" d="M247.2 220L248 219.7L249 219.8L249.5 219.9L250 220.4L250.2 221L250.3 222L249.9 223L249.5 223.3L248.5 223.5L247.5 223.4L246.9 223L246.7 222.5L246.5 221.5L246.8 220.5ZM286.1 231L287 231L288 231.2L289 232L289.3 232.5L289.4 233.5L289.3 234L289 234.5L288.4 235L287 235.4L285.5 235.2L284.5 234.7L283.9 234L283.9 233L284.4 232L285 231.4ZM279.9 248L292.5 248L295.5 248.3L300.5 250.2L302.9 251.5L304.3 253L304.6 254L304.6 254.5L304.1 255.5L303.3 256.5L301.1 258L299 258.7L296 259.1L277 259.1L275.6 259L273.3 258.5L271.5 257.7L269.7 256.5L268.4 255L268.2 254L268.5 253L269.4 252L270.5 251.2L276.5 248.7L278 248.2ZM279 270.8L288 270.7L294.5 270.8L299.5 271.3L301.5 271.9L303 273L303.8 274L304.2 275L304.2 276.5L303.3 278L301.5 279.3L299 280.3L295 281.4L292 281.9L288.5 282.1L283.5 282.1L279.5 281.7L275.5 280.7L272 279.4L269.9 278L269 276.5L268.9 275.5L269.2 274.5L269.8 273.5L270.8 272.5L273 271.4Z"/>
<path fill="#c03538" d="M285 231.5L286 231.1L287 231L288.5 231.7L289 232.2L289.3 233L289.2 234L288.9 234.5L288 235.1L286.5 235.3L285.5 235.2L284.5 234.6L284 234L284 233L284.5 232ZM280.3 248L292.5 248L295.5 248.4L300.5 250.3L302.7 251.5L304.1 253L304.3 253.5L304.4 254.5L303.6 256L301.5 257.7L299 258.7L296 259.1L277 259.1L275.7 259L273.4 258.5L271.2 257.5L269.9 256.5L268.6 255L268.4 254L268.7 253L269.6 252L271.1 251L276.5 248.7L278.5 248.2ZM276.9 271L285.5 270.7L294 270.8L299.5 271.3L301.5 272L302.9 273L303.9 274.5L304.2 275.5L304.1 276.5L303.2 278L301.5 279.2L299 280.2L295 281.4L292 281.9L288.5 282.1L283.5 282.1L279.5 281.6L276 280.8L272 279.3L270 278L269.1 276.5L269 275.5L269.3 274.5L269.9 273.5L270.9 272.5L273 271.5Z"/>
<path fill="#bc2d34" d="M285.2 231.5L286 231.2L287 231.1L288 231.4L288.5 231.8L289.2 233L289.1 234L288.8 234.5L288 235L286.5 235.3L285.1 235L284.5 234.6L284.1 234L284 233L284.5 232.1ZM280.7 248L292.4 248L295.5 248.4L300.5 250.3L302.6 251.5L304 253L304.2 253.5L304.2 254.5L303.8 255.5L303 256.5L300.9 258L299 258.7L296 259.1L275.8 259L274 258.7L272.2 258L270.6 257L269.1 255.5L268.6 254.5L268.7 253.5L269.3 252.5L270.4 251.5L272.2 250.5L276.5 248.7L278.5 248.2ZM277.1 271L285.5 270.8L294 270.8L299.5 271.4L301.5 272.1L303.2 273.5L304 275L303.9 276.5L303 278L301 279.3L297 280.8L293.5 281.6L289.5 282L285 282.1L281 281.8L278.5 281.4L274.5 280.3L271.6 279L269.7 277.5L269.2 276L269.2 275L269.7 274L270.4 273L271.5 272.2L273.5 271.4Z"/>
<path fill="#b82431" d="M286 231.2L287 231.2L288 231.5L288.5 231.9L289.1 233L289 234L288.7 234.5L287.9 235L286.5 235.2L285.3 235L284.5 234.5L284.2 234L284.1 233L284.7 232ZM281.4 248L291.7 248L294.5 248.2L295.8 248.5L300 250.1L302.4 251.5L303.8 253L304.1 254L303.9 255L302.9 256.5L300.8 258L299 258.7L296 259.1L275.9 259L274 258.6L272.3 258L270.7 257L269.3 255.5L268.8 254L269.1 253L270 252L271.4 251L277.5 248.5L278.5 248.2ZM277.3 271L285.5 270.8L294 270.8L299.5 271.4L301.5 272.1L303.1 273.5L303.9 275L303.8 276.5L302.9 278L301 279.3L297 280.7L293 281.7L289.5 282L284.5 282L281 281.8L278.5 281.3L274.5 280.2L271.7 279L269.9 277.5L269.3 276L269.3 275L269.7 274L270.5 273L271.5 272.2L273.5 271.4Z"/>
<path fill="#b41c2d" d="M285.5 231.5L287 231.2L287.8 231.5L288.5 232L288.9 232.5L289.1 233.5L288.6 234.5L287.8 235L286.5 235.2L285.4 235L284.6 234.5L284.3 234L284.2 233L284.8 232ZM277.4 248.5L278.5 248.2L282 248L291.5 248L295 248.3L299 249.8L302 251.3L302.9 252L303.6 253L303.9 254.5L303.2 256L301.6 257.5L299.5 258.5L296.5 259.1L276.5 259.1L273.7 258.5L272.4 258L270.8 257L269.8 256L269 254.5L269.1 253.5L269.7 252.5L270.8 251.5L272 250.7ZM277.5 271L285.5 270.8L294 270.9L299.5 271.4L301.2 272L302.6 273L303.6 274.5L303.8 276L303.2 277.5L301.5 278.9L298.5 280.2L295 281.2L292 281.8L288.5 282L283.9 282L280 281.6L276.5 280.8L272.5 279.3L270.5 278L269.5 276.5L269.4 275.5L269.6 274.5L270.2 273.5L271.2 272.5L272.5 271.8L273.5 271.5Z"/>
<path fill="#ad162a" d="M285.7 231.5L287 231.3L287.6 231.5L288.4 232L288.8 232.5L289 233.5L288.5 234.5L287.6 235L286.5 235.1L285.5 235L284.8 234.5L284.4 234L284.3 233L284.9 232ZM278.5 248.3L282 248.1L291.5 248.1L295 248.3L299.4 250L302.1 251.5L303.5 253L303.8 254.5L303.1 256L301.5 257.5L299.4 258.5L296.5 259.1L277 259.1L273.7 258.5L271.6 257.5L270.4 256.5L269.3 255L269.2 254L269.5 253L270.3 252L271.7 251L274.5 249.7ZM277.6 271L285.5 270.8L294 270.9L299 271.4L301 272L302.5 273L303.5 274.5L303.7 276L303 277.5L301.5 278.8L298.5 280.2L294.5 281.3L292 281.8L288 282L284.5 282L280 281.6L276.5 280.7L272.5 279.3L270.6 278L269.6 276.5L269.5 275.5L269.7 274.5L270.3 273.5L271.3 272.5L272.5 271.8L273.6 271.5Z"/>
<path fill="#a41328" d="M285.9 231.5L286.5 231.4L287.5 231.5L288.5 232.3L288.9 233L288.9 233.5L288.4 234.5L287.5 235L286.5 235.1L285.5 234.9L284.9 234.5L284.5 234L284.4 233L285 232ZM278.5 248.3L282 248.1L291.5 248.1L295 248.4L298.2 249.5L301.5 251.1L302.6 252L303.3 253L303.6 254.5L303 256L301.4 257.5L299.3 258.5L296.5 259.1L277 259.1L273.8 258.5L271.7 257.5L270.5 256.5L269.7 255.5L269.3 254L269.6 253L270.5 252L271.8 251L274.5 249.7ZM277.8 271L294 270.9L299 271.4L301 272L302.4 273L303.4 274.5L303.6 276L303.3 277L302.5 278L300.5 279.3L296.5 280.8L292 281.7L286 282L280.5 281.6L277 280.8L274 279.8L272.2 279L270.7 278L269.9 277L269.6 275.5L269.8 274.5L270.8 273L272 272.1L273 271.7Z"/>
<path fill="#9b1027" d="M286.2 231.5L287.5 231.6L288.6 232.5L288.8 233.5L288.6 234L288 234.7L287 235L286 235L285 234.5L284.6 234L284.5 233.5L284.7 232.5L285.5 231.8ZM278.5 248.3L282 248.2L291.5 248.2L295 248.4L299.3 250L301.9 251.5L303.2 253L303.5 254L303.4 255L302.5 256.5L301 257.7L299.3 258.5L296.5 259.1L277 259.1L273.9 258.5L271.8 257.5L270.6 256.5L269.6 255L269.5 254L269.8 253L270.6 252L272.5 250.7ZM277.9 271L294 270.9L299 271.4L300.9 272L302.3 273L303.3 274.5L303.5 276L303.1 277L302.3 278L300.9 279L299 279.9L296.5 280.7L293 281.5L288.5 281.9L281.5 281.7L278.5 281.2L275.5 280.3L273 279.4L271.5 278.5L270.4 277.5L269.8 276.5L269.7 275L270.1 274L271 272.9L272 272.2L273 271.7L274.5 271.4Z"/>
<path fill="#900d25" d="M285.3 232L286.5 231.5L287.5 231.7L288 232L288.7 233L288.5 234L288 234.6L287 234.9L286 234.9L285.1 234.5L284.6 233.5L284.8 232.5ZM277.8 248.5L282 248.2L291.5 248.2L295 248.4L299.2 250L301.8 251.5L302.8 252.5L303.3 253.5L303.3 255L302.4 256.5L301 257.6L299.2 258.5L296.5 259L277 259.1L274 258.5L271.9 257.5L270.7 256.5L269.7 255L269.6 254L269.9 253L270.7 252L272.5 250.7L275.5 249.3ZM278.1 271L294 270.9L299 271.5L300.8 272L302.2 273L303.2 274.5L303.4 276L303 277L302.2 278L301 278.9L299 279.8L294.5 281.2L292 281.7L289 281.8L281.5 281.7L278.5 281.2L275.5 280.3L273 279.3L271.6 278.5L270.5 277.5L269.9 276.5L269.8 275.5L270.2 274L271 273L272 272.2L273 271.8L274.5 271.4Z"/>
<path fill="#870a24" d="M285.4 232L286.5 231.6L287.9 232L288.6 233L288.4 234L288 234.5L287 234.9L286 234.8L285.2 234.5L284.8 234L284.7 233.5L284.9 232.5ZM277.9 248.5L282 248.2L291.5 248.2L295 248.4L299.1 250L301.6 251.5L302.9 253L303.3 254L303.2 255L302.3 256.5L301 257.6L299.1 258.5L296.5 259L277 259.1L274.1 258.5L272 257.5L270.8 256.5L269.9 255L269.7 254L270.1 253L270.9 252L272.5 250.8L275.5 249.4ZM278.2 271L294 270.9L298.9 271.5L300.6 272L302.2 273L303.1 274.5L303.3 276L302.9 277L302.1 278L300 279.3L296.5 280.6L292 281.7L286 281.8L280.5 281.5L277 280.7L274 279.7L272 278.7L270.6 277.5L270 276.5L269.9 275.5L270.3 274L271 273L272 272.3L273 271.8L274.5 271.5L277.5 271.2Z"/>
<path fill="#7e0722" d="M285.6 232L286.5 231.7L287.7 232L288.5 233L288.3 234L287.9 234.5L287 234.8L286 234.8L285.4 234.5L284.9 234L284.7 233.5L285 232.5ZM278 248.5L282 248.3L291.5 248.3L295 248.5L299 250L301.5 251.5L302.8 253L303.2 254L303.1 255L302.2 256.5L301 257.5L299 258.5L297.5 258.7L296.5 259L277 259L274.1 258.5L272.1 257.5L270.9 256.5L270.2 255.5L269.9 254L270.2 253L271 252L272.5 250.9L275.5 249.4ZM278.3 271L294 270.9L295.5 271.2L298.8 271.5L300.5 272L302.1 273L303.1 274.5L303.2 276L302.8 277L302 278L300 279.3L296.5 280.6L292 281.6L286 281.8L280.5 281.5L277 280.7L274 279.6L272 278.6L270.7 277.5L270.1 276.5L270 275.5L270.4 274L271.1 273L273 271.9L274.5 271.5L277.5 271.3Z"/>
<path fill="#750421" d="M285.8 232L287 231.8L288 232.4L288.4 233L288.4 233.5L288 234.2L287.5 234.6L286.5 234.8L285.5 234.5L285 234L284.9 233L285.2 232.5ZM278.1 248.5L282.5 248.3L292 248.3L295 248.5L298.9 250L301.4 251.5L302.7 253L303 254L302.9 255L302.1 256.5L301 257.5L298.9 258.5L297 258.7L296.5 259L277 259L276 258.7L274.2 258.5L272.2 257.5L271 256.5L270.3 255.5L270 254L270.3 253L271.7 251.5L273.2 250.5L275.5 249.4ZM278.4 271L294 270.9L295.5 271.3L298.6 271.5L300.4 272L302 273L303 274.5L303.1 276L302.4 277.5L301.2 278.5L300 279.2L296.5 280.6L292 281.6L286 281.7L280.6 281.5L277 280.7L274 279.6L272 278.5L270.8 277.5L270.2 276.5L270.1 275.5L270.4 274L271.2 273L273 271.9L275 271.4L278 271.2Z"/>
<path fill="#67001f" d="M286 232L287 231.9L288 232.5L288.3 233.5L288.1 234L287.5 234.5L287 234.7L286 234.6L285.1 234L285 233L285.3 232.5ZM278.2 248.5L282.5 248.4L294.9 248.5L297.7 249.5L298 249.8L299.8 250.5L301.3 251.5L302.6 253L302.9 254L302.8 255L302 256.5L300.1 258L298.8 258.5L297 258.7L296.5 259L277 259L276 258.6L274.3 258.5L274 258.2L273.1 258L272.3 257.5L271 256.4L270.2 255L270.2 253.5L270.8 252.5L271.8 251.5L273.3 250.5L275.5 249.5L278 248.7ZM278.6 271L294 271L295.5 271.3L298.4 271.5L300.3 272L301.9 273L302.7 274L303 275L303 276L302.3 277.5L301.5 278.2L300 279.1L296.5 280.5L292 281.6L286 281.7L280.8 281.5L280 281.2L278.5 281L278 280.7L277 280.6L275.2 280L273 279L270.9 277.5L270.3 276.5L270.2 275L270.5 274L271.3 273L273 272L275 271.5L278 271.3Z"/><path d="M394 133H499V136H394ZM394 145H499V148H394ZM394 158H499V161H394ZM394 171H499V174H394ZM394 183H499V186H394ZM394 196H499V199H394ZM394 208H499V211H394ZM394 234H499V237H394ZM394 246H499V249H394ZM394 259H499V262H394ZM394 271H499V274H394ZM394 284H499V287H394ZM394 296H499V299H394ZM394 309H499V312H394ZM394 322H499V325H394ZM394 334H499V337H394Z" fill="#000" fill-opacity="0.2" shape-rendering="crispEdges"/>
<g fill="#d0d0d0" fill-opacity="0.12"><circle cx="198.33" cy="335.86" r="2.3"/><circle cx="198.33" cy="323.25" r="2.3"/><circle cx="198.33" cy="310.64" r="2.3"/><circle cx="198.33" cy="298.04" r="2.3"/><circle cx="198.33" cy="285.43" r="2.3"/><circle cx="198.33" cy="272.82" r="2.3"/><circle cx="198.33" cy="260.21" r="2.3"/><circle cx="198.33" cy="247.61" r="2.3"/><circle cx="198.33" cy="235.00" r="2.3"/><circle cx="198.33" cy="209.79" r="2.3"/><circle cx="198.33" cy="197.18" r="2.3"/><circle cx="198.33" cy="184.57" r="2.3"/><circle cx="198.33" cy="171.96" r="2.3"/><circle cx="198.33" cy="159.36" r="2.3"/><circle cx="198.33" cy="146.75" r="2.3"/><circle cx="198.33" cy="134.14" r="2.3"/><circle cx="210.93" cy="335.86" r="2.3"/><circle cx="210.93" cy="323.25" r="2.3"/><circle cx="210.93" cy="310.64" r="2.3"/><circle cx="210.93" cy="298.04" r="2.3"/><circle cx="210.93" cy="285.43" r="2.3"/><circle cx="210.93" cy="272.82" r="2.3"/><circle cx="210.93" cy="260.21" r="2.3"/><circle cx="210.93" cy="247.61" r="2.3"/><circle cx="210.93" cy="235.00" r="2.3"/><circle cx="210.93" cy="209.79" r="2.3"/><circle cx="210.93" cy="197.18" r="2.3"/><circle cx="210.93" cy="184.57" r="2.3"/><circle cx="210.93" cy="171.96" r="2.3"/><circle cx="210.93" cy="159.36" r="2.3"/><circle cx="210.93" cy="146.75" r="2.3"/><circle cx="210.93" cy="134.14" r="2.3"/><circle cx="223.54" cy="335.86" r="2.3"/><circle cx="223.54" cy="323.25" r="2.3"/><circle cx="223.54" cy="310.64" r="2.3"/><circle cx="223.54" cy="298.04" r="2.3"/><circle cx="223.54" cy="285.43" r="2.3"/><circle cx="223.54" cy="272.82" r="2.3"/><circle cx="223.54" cy="260.21" r="2.3"/><circle cx="223.54" cy="247.61" r="2.3"/><circle cx="223.54" cy="235.00" r="2.3"/><circle cx="223.54" cy="209.79" r="2.3"/><circle cx="223.54" cy="197.18" r="2.3"/><circle cx="223.54" cy="184.57" r="2.3"/><circle cx="223.54" cy="171.96" r="2.3"/><circle cx="223.54" cy="159.36" r="2.3"/><circle cx="223.54" cy="146.75" r="2.3"/><circle cx="223.54" cy="134.14" r="2.3"/><circle cx="236.15" cy="335.86" r="2.3"/><circle cx="236.15" cy="323.25" r="2.3"/><circle cx="236.15" cy="310.64" r="2.3"/><circle cx="236.15" cy="298.04" r="2.3"/><circle cx="236.15" cy="285.43" r="2.3"/><circle cx="236.15" cy="272.82" r="2.3"/><circle cx="236.15" cy="260.21" r="2.3"/><circle cx="236.15" cy="247.61" r="2.3"/><circle cx="236.15" cy="235.00" r="2.3"/><circle cx="236.15" cy="209.79" r="2.3"/><circle cx="236.15" cy="197.18" r="2.3"/><circle cx="236.15" cy="184.57" r="2.3"/><circle cx="236.15" cy="171.96" r="2.3"/><circle cx="236.15" cy="159.36" r="2.3"/><circle cx="236.15" cy="146.75" r="2.3"/><circle cx="236.15" cy="134.14" r="2.3"/><circle cx="248.75" cy="335.86" r="2.3"/><circle cx="248.75" cy="323.25" r="2.3"/><circle cx="248.75" cy="310.64" r="2.3"/><circle cx="248.75" cy="298.04" r="2.3"/><circle cx="248.75" cy="285.43" r="2.3"/><circle cx="248.75" cy="272.82" r="2.3"/><circle cx="248.75" cy="260.21" r="2.3"/><circle cx="248.75" cy="247.61" r="2.3"/><circle cx="248.75" cy="235.00" r="2.3"/><circle cx="248.75" cy="209.79" r="2.3"/><circle cx="248.75" cy="197.18" r="2.3"/><circle cx="248.75" cy="184.57" r="2.3"/><circle cx="248.75" cy="171.96" r="2.3"/><circle cx="248.75" cy="159.36" r="2.3"/><circle cx="248.75" cy="146.75" r="2.3"/><circle cx="248.75" cy="134.14" r="2.3"/><circle cx="261.36" cy="335.86" r="2.3"/><circle cx="261.36" cy="323.25" r="2.3"/><circle cx="261.36" cy="310.64" r="2.3"/><circle cx="261.36" cy="298.04" r="2.3"/><circle cx="261.36" cy="285.43" r="2.3"/><circle cx="261.36" cy="272.82" r="2.3"/><circle cx="261.36" cy="260.21" r="2.3"/><circle cx="261.36" cy="247.61" r="2.3"/><circle cx="261.36" cy="235.00" r="2.3"/><circle cx="261.36" cy="209.79" r="2.3"/><circle cx="261.36" cy="197.18" r="2.3"/><circle cx="261.36" cy="184.57" r="2.3"/><circle cx="261.36" cy="171.96" r="2.3"/><circle cx="261.36" cy="159.36" r="2.3"/><circle cx="261.36" cy="146.75" r="2.3"/><circle cx="261.36" cy="134.14" r="2.3"/><circle cx="273.97" cy="335.86" r="2.3"/><circle cx="273.97" cy="323.25" r="2.3"/><circle cx="273.97" cy="310.64" r="2.3"/><circle cx="273.97" cy="298.04" r="2.3"/><circle cx="273.97" cy="285.43" r="2.3"/><circle cx="273.97" cy="272.82" r="2.3"/><circle cx="273.97" cy="260.21" r="2.3"/><circle cx="273.97" cy="247.61" r="2.3"/><circle cx="273.97" cy="235.00" r="2.3"/><circle cx="273.97" cy="209.79" r="2.3"/><circle cx="273.97" cy="197.18" r="2.3"/><circle cx="273.97" cy="184.57" r="2.3"/><circle cx="273.97" cy="171.96" r="2.3"/><circle cx="273.97" cy="159.36" r="2.3"/><circle cx="273.97" cy="146.75" r="2.3"/><circle cx="273.97" cy="134.14" r="2.3"/><circle cx="286.58" cy="335.86" r="2.3"/><circle cx="286.58" cy="323.25" r="2.3"/><circle cx="286.58" cy="310.64" r="2.3"/><circle cx="286.58" cy="298.04" r="2.3"/><circle cx="286.58" cy="285.43" r="2.3"/><circle cx="286.58" cy="272.82" r="2.3"/><circle cx="286.58" cy="247.61" r="2.3"/><circle cx="286.58" cy="235.00" r="2.3"/><circle cx="286.58" cy="209.79" r="2.3"/><circle cx="286.58" cy="197.18" r="2.3"/><circle cx="286.58" cy="184.57" r="2.3"/><circle cx="286.58" cy="171.96" r="2.3"/><circle cx="286.58" cy="159.36" r="2.3"/><circle cx="286.58" cy="146.75" r="2.3"/><circle cx="286.58" cy="134.14" r="2.3"/><circle cx="299.18" cy="335.86" r="2.3"/><circle cx="299.18" cy="323.25" r="2.3"/><circle cx="299.18" cy="310.64" r="2.3"/><circle cx="299.18" cy="298.04" r="2.3"/><circle cx="299.18" cy="285.43" r="2.3"/><circle cx="299.18" cy="272.82" r="2.3"/><circle cx="299.18" cy="260.21" r="2.3"/><circle cx="299.18" cy="247.61" r="2.3"/><circle cx="299.18" cy="235.00" r="2.3"/><circle cx="299.18" cy="209.79" r="2.3"/><circle cx="299.18" cy="197.18" r="2.3"/><circle cx="299.18" cy="184.57" r="2.3"/><circle cx="299.18" cy="171.96" r="2.3"/><circle cx="299.18" cy="159.36" r="2.3"/><circle cx="299.18" cy="146.75" r="2.3"/><circle cx="299.18" cy="134.14" r="2.3"/><circle cx="311.79" cy="335.86" r="2.3"/><circle cx="311.79" cy="323.25" r="2.3"/><circle cx="311.79" cy="310.64" r="2.3"/><circle cx="311.79" cy="298.04" r="2.3"/><circle cx="311.79" cy="285.43" r="2.3"/><circle cx="311.79" cy="272.82" r="2.3"/><circle cx="311.79" cy="260.21" r="2.3"/><circle cx="311.79" cy="247.61" r="2.3"/><circle cx="311.79" cy="235.00" r="2.3"/><circle cx="311.79" cy="209.79" r="2.3"/><circle cx="311.79" cy="197.18" r="2.3"/><circle cx="311.79" cy="184.57" r="2.3"/><circle cx="311.79" cy="171.96" r="2.3"/><circle cx="311.79" cy="159.36" r="2.3"/><circle cx="311.79" cy="146.75" r="2.3"/><circle cx="311.79" cy="134.14" r="2.3"/><circle cx="324.40" cy="335.86" r="2.3"/><circle cx="324.40" cy="323.25" r="2.3"/><circle cx="324.40" cy="310.64" r="2.3"/><circle cx="324.40" cy="298.04" r="2.3"/><circle cx="324.40" cy="285.43" r="2.3"/><circle cx="324.40" cy="272.82" r="2.3"/><circle cx="324.40" cy="260.21" r="2.3"/><circle cx="324.40" cy="247.61" r="2.3"/><circle cx="324.40" cy="235.00" r="2.3"/><circle cx="324.40" cy="209.79" r="2.3"/><circle cx="324.40" cy="197.18" r="2.3"/><circle cx="324.40" cy="184.57" r="2.3"/><circle cx="324.40" cy="171.96" r="2.3"/><circle cx="324.40" cy="159.36" r="2.3"/><circle cx="324.40" cy="146.75" r="2.3"/><circle cx="324.40" cy="134.14" r="2.3"/><circle cx="337.00" cy="335.86" r="2.3"/><circle cx="337.00" cy="323.25" r="2.3"/><circle cx="337.00" cy="310.64" r="2.3"/><circle cx="337.00" cy="298.04" r="2.3"/><circle cx="337.00" cy="285.43" r="2.3"/><circle cx="337.00" cy="272.82" r="2.3"/><circle cx="337.00" cy="260.21" r="2.3"/><circle cx="337.00" cy="247.61" r="2.3"/><circle cx="337.00" cy="235.00" r="2.3"/><circle cx="337.00" cy="209.79" r="2.3"/><circle cx="337.00" cy="197.18" r="2.3"/><circle cx="337.00" cy="184.57" r="2.3"/><circle cx="337.00" cy="171.96" r="2.3"/><circle cx="337.00" cy="159.36" r="2.3"/><circle cx="337.00" cy="146.75" r="2.3"/><circle cx="337.00" cy="134.14" r="2.3"/><circle cx="349.61" cy="335.86" r="2.3"/><circle cx="349.61" cy="323.25" r="2.3"/><circle cx="349.61" cy="310.64" r="2.3"/><circle cx="349.61" cy="298.04" r="2.3"/><circle cx="349.61" cy="285.43" r="2.3"/><circle cx="349.61" cy="272.82" r="2.3"/><circle cx="349.61" cy="260.21" r="2.3"/><circle cx="349.61" cy="247.61" r="2.3"/><circle cx="349.61" cy="235.00" r="2.3"/><circle cx="349.61" cy="209.79" r="2.3"/><circle cx="349.61" cy="197.18" r="2.3"/><circle cx="349.61" cy="184.57" r="2.3"/><circle cx="349.61" cy="171.96" r="2.3"/><circle cx="349.61" cy="159.36" r="2.3"/><circle cx="349.61" cy="146.75" r="2.3"/><circle cx="349.61" cy="134.14" r="2.3"/><circle cx="362.22" cy="335.86" r="2.3"/><circle cx="362.22" cy="323.25" r="2.3"/><circle cx="362.22" cy="310.64" r="2.3"/><circle cx="362.22" cy="298.04" r="2.3"/><circle cx="362.22" cy="285.43" r="2.3"/><circle cx="362.22" cy="272.82" r="2.3"/><circle cx="362.22" cy="260.21" r="2.3"/><circle cx="362.22" cy="247.61" r="2.3"/><circle cx="362.22" cy="235.00" r="2.3"/><circle cx="362.22" cy="209.79" r="2.3"/><circle cx="362.22" cy="197.18" r="2.3"/><circle cx="362.22" cy="184.57" r="2.3"/><circle cx="362.22" cy="171.96" r="2.3"/><circle cx="362.22" cy="159.36" r="2.3"/><circle cx="362.22" cy="146.75" r="2.3"/><circle cx="362.22" cy="134.14" r="2.3"/><circle cx="374.82" cy="335.86" r="2.3"/><circle cx="374.82" cy="323.25" r="2.3"/><circle cx="374.82" cy="310.64" r="2.3"/><circle cx="374.82" cy="298.04" r="2.3"/><circle cx="374.82" cy="285.43" r="2.3"/><circle cx="374.82" cy="272.82" r="2.3"/><circle cx="374.82" cy="260.21" r="2.3"/><circle cx="374.82" cy="247.61" r="2.3"/><circle cx="374.82" cy="235.00" r="2.3"/><circle cx="374.82" cy="209.79" r="2.3"/><circle cx="374.82" cy="197.18" r="2.3"/><circle cx="374.82" cy="184.57" r="2.3"/><circle cx="374.82" cy="171.96" r="2.3"/><circle cx="374.82" cy="159.36" r="2.3"/><circle cx="374.82" cy="146.75" r="2.3"/><circle cx="374.82" cy="134.14" r="2.3"/><circle cx="387.43" cy="335.86" r="2.3"/><circle cx="387.43" cy="323.25" r="2.3"/><circle cx="387.43" cy="310.64" r="2.3"/><circle cx="387.43" cy="298.04" r="2.3"/><circle cx="387.43" cy="285.43" r="2.3"/><circle cx="387.43" cy="272.82" r="2.3"/><circle cx="387.43" cy="260.21" r="2.3"/><circle cx="387.43" cy="247.61" r="2.3"/><circle cx="387.43" cy="235.00" r="2.3"/><circle cx="387.43" cy="209.79" r="2.3"/><circle cx="387.43" cy="197.18" r="2.3"/><circle cx="387.43" cy="184.57" r="2.3"/><circle cx="387.43" cy="171.96" r="2.3"/><circle cx="387.43" cy="159.36" r="2.3"/><circle cx="387.43" cy="146.75" r="2.3"/><circle cx="387.43" cy="134.14" r="2.3"/></g>
<ellipse cx="286.6" cy="259.8" rx="1.1" ry="6.1" fill="#fff" fill-opacity="0.22"/></g>
</g>
<path d="M75 127H499V130H75ZM75 341H499V344H75ZM74 128H77V343H74ZM497 128H500V343H497ZM96 343H99V347.5H96ZM160 343H163V347.5H160ZM223 343H226V347.5H223ZM286 343H289V347.5H286ZM349 343H352V347.5H349ZM412 343H415V347.5H412ZM475 343H478V347.5H475ZM70.5 316H75V319H70.5ZM70.5 284H75V287H70.5ZM70.5 253H75V256H70.5ZM70.5 221H75V224H70.5ZM70.5 190H75V193H70.5ZM70.5 158H75V161H70.5ZM70.5 127H75V130H70.5ZM548 439H552.5V442H548ZM548 387H552.5V390H548ZM548 336H552.5V339H548ZM548 285H552.5V288H548ZM548 234H552.5V237H548ZM548 183H552.5V186H548ZM548 132H552.5V135H548ZM548 81H552.5V84H548ZM548 29H552.5V32H548Z" fill="#000" fill-opacity="0.057"/>
<path d="M75 128H499V129H75ZM75 342H499V343H75ZM75 128H76V343H75ZM498 128H499V343H498ZM97 343H98V347.5H97ZM161 343H162V347.5H161ZM224 343H225V347.5H224ZM287 343H288V347.5H287ZM350 343H351V347.5H350ZM413 343H414V347.5H413ZM476 343H477V347.5H476ZM70.5 317H75V318H70.5ZM70.5 285H75V286H70.5ZM70.5 254H75V255H70.5ZM70.5 222H75V223H70.5ZM70.5 191H75V192H70.5ZM70.5 159H75V160H70.5ZM70.5 128H75V129H70.5ZM548 440H552.5V441H548ZM548 388H552.5V389H548ZM548 337H552.5V338H548ZM548 286H552.5V287H548ZM548 235H552.5V236H548ZM548 184H552.5V185H548ZM548 133H552.5V134H548ZM548 82H552.5V83H548ZM548 30H552.5V31H548Z" fill="#000"/>
<text x="75.67 80.05 88.67 97.42 101.8 110.55" y="363.360" font-size="13.89">-15.00</text>
<text x="138.69 143.07 151.69 160.44 164.82 173.57" y="362.500" font-size="13.89">-10.00</text>
<text x="205.72 209.84 218.59 222.97 231.72" y="362.570" font-size="13.89">-5.00</text>
<text x="271.9 279.65 284.03 292.78" y="362.900" font-size="13.89">0.00</text>
<text x="333.67 341.67 346.04 354.79" y="363.040" font-size="13.89">5.00</text>
<text x="392.73 400.85 409.6 413.98 422.73" y="362.640" font-size="13.89">10.00</text>
<text x="455.65 463.77 472.52 476.9 485.65" y="362.780" font-size="13.89">15.00</text>
<text x="29.88 33.88 42.62 47 55.75" y="321.600" font-size="13.89">-7.50</text>
<text x="29.64 33.77 42.52 46.89 55.64" y="291.270" font-size="13.89">-5.00</text>
<text x="29.68 33.8 42.55 46.93 55.68" y="258.780" font-size="13.89">-2.50</text>
<text x="34.88 42.63 47.01 55.76" y="227.600" font-size="13.89">0.00</text>
<text x="33.88 42.75 47 55.75" y="196.060" font-size="13.89">2.50</text>
<text x="33.74 41.74 46.12 54.87" y="164.740" font-size="13.89">5.00</text>
<text x="34.94 42.69 47.06 55.81" y="133.020" font-size="13.89">7.50</text>
<text x="557.65 568.77 577.4 586.15 590.52" y="444.590" font-size="13.89">−10.0</text>
<text x="557.64 568.52 577.27 581.64" y="393.990" font-size="13.89">−7.5</text>
<text x="557.66 568.54 577.29 581.66" y="342.620" font-size="13.89">−5.0</text>
<text x="557.63 568.51 577.26 581.63" y="291.520" font-size="13.89">−2.5</text>
<text x="557.9 565.65 570.02" y="239.600" font-size="13.89">0.0</text>
<text x="556.91 565.66 570.04" y="189.420" font-size="13.89">2.5</text>
<text x="556.89 564.64 569.01" y="137.520" font-size="13.89">5.0</text>
<text x="556.93 564.68 569.06" y="86.900" font-size="13.89">7.5</text>
<text x="557.63 565.76 574.51 578.88" y="36.060" font-size="13.89">10.0</text>
<text x="263.91 272.16 276.79 282.04 290.79 304.29" y="381.660" font-size="13.89" stroke="#000" stroke-width="0.040">x (μm)</text>
<text transform="translate(20.280 259.050) rotate(-90)" x="0 8.25 12.88 18.12 26.88 40.38" font-size="13.89">y (μm)</text>
<text transform="translate(616.940 263.827) rotate(-90)" x="0.75 8.75 17.25 26.38 35.12 42.25" font-size="13.89">Re{Ez}</text>
<text transform="translate(167.000 120.300) scale(1 1.0800)" x="0 9.38 15.62 25.75 34.5 43.25 48.5 57.25 67.5 76.88 83.38 87.75 97.88 108.38 113.62 123.75 130.25 135.5 144.25 158.12 168.62 173.88 184.62 194.88 200.12 206.5 217 233.25" font-size="16.67"><tspan stroke="#000" stroke-width="0.065">cross section at </tspan>z=0.00<tspan stroke="#000" stroke-width="0.030"> (μm)</tspan></text>
</svg>
</body></html>
